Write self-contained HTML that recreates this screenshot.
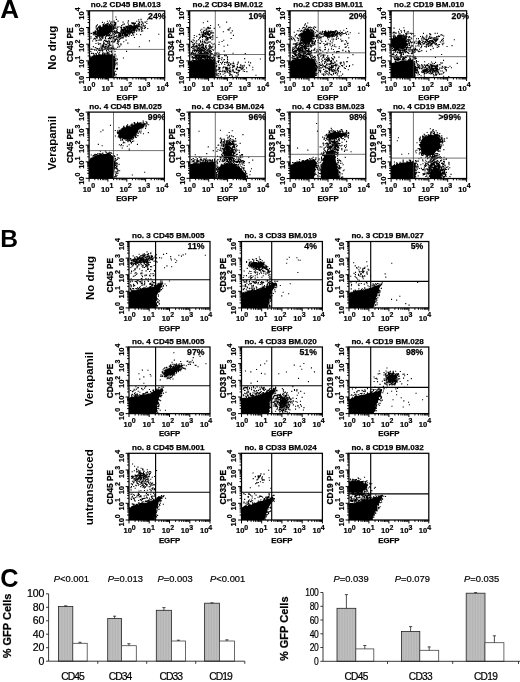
<!DOCTYPE html>
<html><head><meta charset="utf-8"><title>Figure</title>
<style>html,body{margin:0;padding:0;background:#fff}svg{display:block}</style></head>
<body><svg width="520" height="682" viewBox="0 0 520 682" font-family="'Liberation Sans',Arial,sans-serif" font-weight="bold" text-anchor="middle" fill="#000">
<defs><pattern id="hatch" width="1.6" height="4" patternUnits="userSpaceOnUse"><rect width="1.6" height="4" fill="#c0c0c0"/><rect width=".5" height="4" fill="#acacac"/></pattern></defs>
<rect width="520" height="682" fill="#fff"/>
<path d="M89.5 77.6L89.5 76.3L89.5 74.9L89.5 73.6L89.5 72.3L89.5 70.9L89.5 69.6L89.5 68.2L89.5 66.9L89.5 65.6L89.5 64.2L89.5 62.9L89.5 61.6L89.5 60.2L89.5 58.9L89.5 57.5L91.0 56.9L92.6 56.3L94.4 54.7L94.8 55.2L96.8 55.2L98.8 55.3L99.8 54.5L100.3 55.1L102.5 54.0L102.8 54.6L104.4 54.1L106.3 54.8L108.4 54.1L109.5 55.0L111.6 54.9L112.8 55.7L113.0 56.2L114.8 56.0L115.2 57.6L114.3 59.1L114.4 60.0L115.4 61.8L115.6 63.7L115.7 64.7L115.2 66.4L115.1 67.6L114.9 68.7L114.2 70.2L114.7 72.5L115.3 73.9L115.1 75.2L114.2 75.8L114.5 77.6L113.1 77.6L111.8 77.6L110.5 77.6L109.2 77.6L107.9 77.6L106.6 77.6L105.3 77.6L104.0 77.6L102.6 77.6L101.3 77.6L100.0 77.6L98.7 77.6L97.4 77.6L96.1 77.6L94.8 77.6L93.4 77.6L92.1 77.6L90.8 77.6Z" fill="#000"/>
<path d="M97.6 30.2L98.2 30.9L99.9 28.6L100.9 28.0L101.6 27.3L102.1 27.7L104.8 26.0L105.8 25.2L106.1 24.8L109.1 26.0L109.7 23.6L110.5 25.7L112.9 26.1L113.7 27.2L113.1 28.4L112.4 30.5L111.0 30.3L110.4 32.5L108.5 32.4L107.6 33.7L106.1 34.4L106.3 34.2L105.3 35.4L102.3 35.1L102.8 36.6L100.0 35.8L99.8 35.9L97.9 35.0L98.0 33.2Z" fill="#000"/>
<path d="M90.3 56.4h1.1M93.5 56.7h1.1M94.6 57.4h1.1M96.0 55.0h1.1M93.6 54.9h1.1M95.8 56.1h1.1M96.9 55.5h1.1M93.1 56.1h1.1M96.0 53.8h1.1M96.0 59.5h1.1M97.7 55.7h1.1M98.0 55.3h1.1M97.0 56.8h1.1M99.5 54.6h1.1M102.0 54.3h1.1M102.4 55.3h1.1M100.4 57.2h1.1M102.1 53.7h1.1M102.1 54.9h1.1M102.1 53.6h1.1M104.2 56.1h1.1M104.7 55.5h1.1M104.5 57.6h1.1M105.3 53.2h1.1M105.6 53.6h1.1M109.6 56.6h1.1M106.7 55.3h1.1M108.5 54.6h1.1M107.2 53.9h1.1M107.0 53.6h1.1M107.2 53.2h1.1M109.8 55.1h1.1M111.9 56.4h1.1M111.9 54.1h1.1M111.7 55.5h1.1M115.4 56.0h1.1M114.1 54.3h1.1M113.1 56.7h1.1M112.1 55.7h1.1M113.7 55.9h1.1M114.4 59.4h1.1M115.4 58.3h1.1M113.5 59.2h1.1M116.7 59.1h1.1M114.1 57.7h1.1M116.6 59.6h1.1M115.2 60.6h1.1M113.9 59.6h1.1M116.5 62.8h1.1M114.8 59.2h1.1M116.3 62.8h1.1M114.1 60.8h1.1M116.3 63.5h1.1M114.3 63.9h1.1M112.4 63.1h1.1M116.6 64.8h1.1M113.5 67.6h1.1M116.9 68.7h1.1M116.7 68.0h1.1M113.1 69.1h1.1M115.8 68.6h1.1M115.1 71.2h1.1M116.4 69.4h1.1M114.3 71.2h1.1M112.6 72.9h1.1M113.7 72.8h1.1M115.7 74.5h1.1M115.6 74.4h1.1M115.3 76.0h1.1M113.5 75.1h1.1M110.2 58.5h1.1M103.6 59.0h1.1M103.4 58.3h1.1M99.3 56.1h1.1M96.9 62.3h1.1M106.0 58.9h1.1M100.2 58.9h1.1M104.6 57.4h1.1M103.4 59.3h1.1M96.1 57.1h1.1M94.2 56.5h1.1M108.7 53.7h1.1M99.8 57.5h1.1M97.1 59.0h1.1M110.5 58.9h1.1M100.8 57.5h1.1M100.9 60.7h1.1M98.8 56.3h1.1M92.1 56.4h1.1M91.2 61.1h1.1M104.6 58.3h1.1M113.1 57.4h1.1M107.6 60.5h1.1M94.7 60.7h1.1M111.8 56.1h1.1M109.9 57.9h1.1M98.8 57.6h1.1M99.4 54.9h1.1M94.1 56.1h1.1M105.6 63.3h1.1M122.9 58.0h1.1M94.6 63.0h1.1M106.2 57.2h1.1M109.0 59.9h1.1M100.0 58.8h1.1M102.9 58.0h1.1M103.3 57.5h1.1M94.9 62.0h1.1M104.6 59.7h1.1M108.1 56.0h1.1M110.3 57.9h1.1M104.9 58.5h1.1M103.5 61.4h1.1M98.7 62.1h1.1M95.8 56.8h1.1M107.3 56.5h1.1M99.0 60.7h1.1M111.2 54.9h1.1M105.7 62.8h1.1M111.0 58.3h1.1M97.2 58.1h1.1M93.0 58.2h1.1M100.4 58.5h1.1M110.9 58.3h1.1M90.6 61.0h1.1M93.6 57.8h1.1M93.8 33.1h1.1M98.4 30.5h1.1M96.4 31.2h1.1M96.9 30.5h1.1M99.1 32.4h1.1M99.1 29.9h1.1M99.7 32.0h1.1M98.7 30.9h1.1M98.8 29.0h1.1M100.5 29.8h1.1M98.8 28.4h1.1M99.3 29.9h1.1M100.0 26.3h1.1M98.5 27.4h1.1M99.1 26.0h1.1M103.8 26.4h1.1M101.2 30.6h1.1M103.8 32.8h1.1M103.8 25.5h1.1M106.5 28.4h1.1M101.5 28.0h1.1M105.1 27.9h1.1M103.9 23.0h1.1M106.2 26.0h1.1M102.7 26.1h1.1M103.0 26.1h1.1M108.7 26.1h1.1M104.7 25.5h1.1M107.4 26.5h1.1M107.6 28.6h1.1M111.8 26.6h1.1M105.5 25.8h1.1M107.3 26.7h1.1M106.5 25.0h1.1M110.1 23.8h1.1M107.0 25.4h1.1M108.7 25.2h1.1M110.5 26.3h1.1M110.6 21.9h1.1M110.3 23.7h1.1M109.9 23.8h1.1M114.3 24.6h1.1M113.9 22.3h1.1M110.6 27.1h1.1M115.2 23.5h1.1M113.0 26.1h1.1M112.1 28.2h1.1M114.6 26.8h1.1M115.1 27.3h1.1M111.6 30.1h1.1M111.1 27.3h1.1M111.8 27.0h1.1M113.0 29.5h1.1M110.7 27.8h1.1M112.0 32.0h1.1M112.5 31.2h1.1M113.1 29.4h1.1M107.3 30.3h1.1M110.5 30.9h1.1M108.1 29.9h1.1M113.9 32.5h1.1M107.0 32.5h1.1M112.8 33.8h1.1M107.4 33.4h1.1M107.9 31.5h1.1M107.5 35.9h1.1M107.9 33.6h1.1M108.0 33.9h1.1M108.9 32.3h1.1M111.3 35.3h1.1M107.4 33.6h1.1M106.7 34.1h1.1M101.8 33.8h1.1M105.2 32.5h1.1M106.0 36.3h1.1M103.3 35.1h1.1M106.2 35.4h1.1M101.9 35.6h1.1M101.6 34.4h1.1M103.4 33.3h1.1M101.9 36.5h1.1M104.0 33.9h1.1M100.8 34.6h1.1M98.5 34.2h1.1M100.4 34.4h1.1M100.4 39.9h1.1M100.2 35.7h1.1M97.0 36.2h1.1M100.6 36.4h1.1M99.6 35.5h1.1M96.3 36.2h1.1M97.9 36.3h1.1M97.4 31.9h1.1M98.3 35.3h1.1M97.8 34.6h1.1M97.2 35.9h1.1M95.8 34.7h1.1M98.8 32.9h1.1M94.3 33.4h1.1M109.0 26.5h1.1M102.7 32.0h1.1M105.5 28.8h1.1M111.4 28.9h1.1M95.5 34.8h1.1M103.0 35.9h1.1M108.1 29.4h1.1M102.5 30.0h1.1M102.8 35.6h1.1M101.6 29.2h1.1M108.4 30.6h1.1M102.2 28.3h1.1M112.2 29.8h1.1M91.2 33.5h1.1M115.2 22.6h1.1M95.2 36.6h1.1M103.4 33.2h1.1M94.7 38.9h1.1M107.1 27.5h1.1M101.4 33.8h1.1M101.2 34.0h1.1M101.7 32.7h1.1M93.7 33.0h1.1M92.8 34.1h1.1M100.5 31.3h1.1M102.4 24.8h1.1M104.2 30.9h1.1M96.7 33.4h1.1M96.3 29.5h1.1M111.5 28.4h1.1M104.3 29.0h1.1M113.4 28.4h1.1M105.8 28.8h1.1M101.5 30.3h1.1M102.2 26.8h1.1M105.1 32.0h1.1M103.4 27.0h1.1M103.5 27.6h1.1M98.7 39.7h1.1M99.7 29.2h1.1M94.6 33.6h1.1M98.3 26.5h1.1M96.0 37.1h1.1M96.4 28.7h1.1M105.9 24.1h1.1M113.5 21.0h1.1M98.5 30.1h1.1M99.5 27.2h1.1M99.3 34.1h1.1M111.5 30.9h1.1M109.8 27.5h1.1M106.8 30.9h1.1M100.3 33.3h1.1M106.1 29.2h1.1M103.7 31.9h1.1M96.5 29.7h1.1M105.4 30.7h1.1M97.1 34.7h1.1M105.3 29.3h1.1M107.5 30.0h1.1M105.9 31.7h1.1M101.0 27.8h1.1M105.5 31.6h1.1M104.2 32.1h1.1M103.4 28.0h1.1M93.2 33.7h1.1M99.8 32.7h1.1M112.3 22.1h1.1M101.4 34.8h1.1M110.3 26.5h1.1M104.9 30.9h1.1M113.4 24.2h1.1M99.7 34.8h1.1M99.4 32.3h1.1M112.6 26.1h1.1M104.4 30.6h1.1M98.8 33.3h1.1M105.1 25.3h1.1M101.0 30.7h1.1M107.9 30.8h1.1M105.8 35.7h1.1M95.7 33.8h1.1M108.7 28.1h1.1M100.7 31.5h1.1M104.1 30.2h1.1M107.0 23.6h1.1M104.8 28.9h1.1M104.8 34.8h1.1M110.4 29.4h1.1M90.4 38.2h1.1M93.1 32.4h1.1M102.7 36.1h1.1M94.1 38.4h1.1M114.6 28.5h1.1M107.5 32.5h1.1M100.7 31.6h1.1M105.8 27.3h1.1M103.7 31.6h1.1M103.1 34.0h1.1M101.9 28.6h1.1M102.6 29.7h1.1M99.8 34.4h1.1M114.5 24.3h1.1M103.5 30.2h1.1M98.8 36.1h1.1M106.3 33.3h1.1M103.4 30.8h1.1M114.5 25.2h1.1M107.9 32.6h1.1M103.8 33.3h1.1M99.1 32.0h1.1M102.1 33.9h1.1M101.1 29.7h1.1M108.9 32.8h1.1M99.9 38.8h1.1M94.8 32.8h1.1M100.7 36.9h1.1M107.2 29.8h1.1M112.4 29.0h1.1M102.5 29.2h1.1M96.3 37.3h1.1M101.7 30.7h1.1M105.3 31.5h1.1M109.3 30.1h1.1M117.1 27.3h1.1M98.5 34.6h1.1M96.5 29.7h1.1M105.6 26.9h1.1M102.3 33.9h1.1M110.2 27.8h1.1M95.9 25.9h1.1M104.6 25.7h1.1M103.1 30.4h1.1M102.5 33.5h1.1M102.1 30.1h1.1M100.1 34.7h1.1M104.7 24.5h1.1M101.1 30.6h1.1M102.9 24.3h1.1M98.6 32.0h1.1M100.9 31.8h1.1M96.9 24.9h1.1M94.7 34.2h1.1M105.5 28.0h1.1M111.3 25.5h1.1M105.4 30.9h1.1M105.9 33.5h1.1M101.5 29.0h1.1M108.7 27.0h1.1M101.4 32.0h1.1M107.2 28.6h1.1M109.4 25.7h1.1M96.6 32.4h1.1M105.6 36.3h1.1M114.8 25.0h1.1M101.4 30.7h1.1M105.5 27.4h1.1M107.1 27.6h1.1M93.3 32.8h1.1M108.4 31.9h1.1M105.6 30.0h1.1M114.6 33.6h1.1M111.5 25.2h1.1M102.7 35.3h1.1M102.6 28.1h1.1M94.1 32.0h1.1M108.1 28.7h1.1M101.1 32.1h1.1M99.4 35.1h1.1M108.7 31.5h1.1M105.0 33.9h1.1M101.5 35.4h1.1M113.1 27.2h1.1M115.6 31.1h1.1M98.0 31.1h1.1M98.1 35.4h1.1M98.7 28.1h1.1M102.9 27.4h1.1M115.2 24.9h1.1M106.9 26.6h1.1M97.8 34.8h1.1M109.3 25.8h1.1M97.8 32.8h1.1M107.8 27.1h1.1M113.7 27.5h1.1M110.7 24.3h1.1M95.0 31.6h1.1M103.0 34.7h1.1M107.1 29.6h1.1M98.1 34.3h1.1M102.9 31.5h1.1M100.4 28.6h1.1M105.5 32.3h1.1M101.3 33.0h1.1M116.9 27.1h1.1M112.3 25.6h1.1M107.3 26.4h1.1M104.8 28.0h1.1M102.5 27.1h1.1M106.0 28.6h1.1M104.4 28.7h1.1M108.5 28.3h1.1M103.6 33.2h1.1M116.6 27.0h1.1M105.4 26.9h1.1M100.6 35.2h1.1M105.6 29.8h1.1M107.6 27.1h1.1M90.5 36.7h1.1M110.5 26.8h1.1M106.4 31.7h1.1M114.0 22.7h1.1M110.0 33.1h1.1M101.2 34.4h1.1M112.0 32.2h1.1M108.1 28.4h1.1M101.0 30.3h1.1M105.3 29.1h1.1M112.7 29.4h1.1M101.6 37.5h1.1M109.1 24.5h1.1M111.5 30.4h1.1M109.5 26.5h1.1M108.2 29.5h1.1M102.6 35.5h1.1M106.1 31.2h1.1M106.7 33.6h1.1M104.5 27.3h1.1M95.7 28.8h1.1M100.1 31.0h1.1M102.5 37.7h1.1M101.0 29.7h1.1M102.1 30.2h1.1M110.3 27.1h1.1M96.8 33.1h1.1M112.2 27.7h1.1M104.1 32.6h1.1M104.5 28.9h1.1M103.9 35.4h1.1M105.2 32.3h1.1M100.3 31.5h1.1M115.9 19.4h1.1M110.8 27.9h1.1M103.0 27.8h1.1M109.8 26.1h1.1M108.7 31.7h1.1M99.9 30.0h1.1M96.9 29.2h1.1M97.1 33.2h1.1M107.7 24.8h1.1M110.6 32.0h1.1M109.6 31.4h1.1M106.0 32.7h1.1M103.6 25.3h1.1M104.4 28.0h1.1M100.1 32.4h1.1M97.5 31.7h1.1M112.2 27.5h1.1M101.0 27.9h1.1M106.2 28.0h1.1M105.0 30.4h1.1M97.9 33.3h1.1M100.2 33.0h1.1M104.4 29.1h1.1M109.7 25.6h1.1M93.6 33.8h1.1M105.1 31.6h1.1M103.8 31.3h1.1M102.4 35.0h1.1M99.5 32.1h1.1M101.7 30.7h1.1M105.0 28.2h1.1M104.7 31.8h1.1M98.1 27.8h1.1M104.2 29.2h1.1M100.0 33.8h1.1M110.5 35.3h1.1M111.1 28.0h1.1M101.9 22.4h1.1M109.1 30.6h1.1M103.8 29.6h1.1M107.3 35.2h1.1M108.7 30.5h1.1M103.5 33.7h1.1M105.7 30.0h1.1M114.0 25.6h1.1M102.9 28.7h1.1M105.5 33.6h1.1M105.8 32.9h1.1M108.8 27.0h1.1M98.4 40.4h1.1M102.7 30.4h1.1M98.2 35.6h1.1M109.6 28.8h1.1M98.0 27.4h1.1M92.6 32.3h1.1M98.7 33.5h1.1M106.4 26.8h1.1M104.2 28.2h1.1M102.6 32.6h1.1M100.6 31.4h1.1M106.1 31.4h1.1M99.4 33.0h1.1M97.0 28.1h1.1M106.9 31.9h1.1M113.0 28.2h1.1M101.8 33.3h1.1M107.9 28.8h1.1M104.9 33.0h1.1M111.5 24.6h1.1M104.6 33.0h1.1M114.3 31.5h1.1M99.3 36.6h1.1M99.5 25.9h1.1M109.4 28.2h1.1M102.7 31.9h1.1M107.3 27.0h1.1M103.7 26.9h1.1M110.1 28.6h1.1M104.6 31.0h1.1M110.0 30.9h1.1M109.3 28.4h1.1M98.3 34.8h1.1M111.6 30.5h1.1M105.4 34.6h1.1M101.9 29.9h1.1M106.4 31.6h1.1M101.6 28.5h1.1M96.8 37.7h1.1M105.8 32.0h1.1M102.5 32.8h1.1M105.5 29.9h1.1M97.9 30.3h1.1M106.9 21.2h1.1M103.2 35.1h1.1M107.3 27.8h1.1M99.3 28.4h1.1M114.8 23.6h1.1M106.6 33.5h1.1M110.0 29.3h1.1M102.8 31.6h1.1M101.0 33.6h1.1M99.4 32.6h1.1M108.4 30.9h1.1M100.8 32.2h1.1M101.2 29.7h1.1M109.2 29.5h1.1M101.5 32.4h1.1M95.3 32.1h1.1M95.0 33.0h1.1M110.1 28.0h1.1M103.1 31.6h1.1M102.8 31.5h1.1M96.4 34.0h1.1M99.3 33.1h1.1M104.4 30.9h1.1M99.1 37.9h1.1M99.6 31.5h1.1M101.7 29.8h1.1M96.5 34.7h1.1M109.2 27.2h1.1M90.4 33.3h1.1M103.6 26.3h1.1M99.0 30.6h1.1M100.6 33.2h1.1M107.8 23.1h1.1M96.4 38.4h1.1M107.4 29.2h1.1M99.1 32.6h1.1M96.3 40.4h1.1M107.0 30.6h1.1M107.1 33.5h1.1M104.2 30.4h1.1M98.2 32.3h1.1M106.0 33.0h1.1M98.6 29.8h1.1M97.8 30.5h1.1M109.0 21.0h1.1M102.4 33.6h1.1M107.3 27.1h1.1M100.5 27.4h1.1M95.5 27.1h1.1M105.1 28.3h1.1M98.3 30.6h1.1M98.5 31.8h1.1M103.9 35.4h1.1M99.8 31.9h1.1M105.2 32.5h1.1M108.5 31.6h1.1M105.9 30.3h1.1M106.9 29.6h1.1M102.8 29.5h1.1M95.1 36.1h1.1M100.8 32.1h1.1M110.3 22.9h1.1M108.7 29.0h1.1M93.6 35.0h1.1M98.1 36.2h1.1M105.9 34.3h1.1M102.6 33.5h1.1M102.6 25.2h1.1M106.4 25.8h1.1M97.0 35.9h1.1M94.7 30.7h1.1M104.5 28.6h1.1M99.1 35.8h1.1M105.3 31.7h1.1M112.0 27.0h1.1M117.5 21.1h1.1M111.4 30.4h1.1M97.7 35.4h1.1M94.9 38.9h1.1M106.0 29.4h1.1M102.9 29.4h1.1M109.0 28.7h1.1M122.5 22.1h1.1M134.3 29.2h1.1M138.1 26.4h1.1M121.8 32.7h1.1M125.8 36.0h1.1M131.2 26.4h1.1M121.7 35.1h1.1M127.7 21.1h1.1M121.1 35.8h1.1M115.4 33.3h1.1M132.1 29.8h1.1M143.9 28.0h1.1M130.0 32.7h1.1M134.2 29.3h1.1M138.5 26.1h1.1M136.4 29.9h1.1M128.7 31.8h1.1M121.9 32.7h1.1M129.0 30.5h1.1M144.1 26.0h1.1M128.1 31.0h1.1M133.4 31.0h1.1M133.7 27.5h1.1M133.6 24.9h1.1M118.2 36.7h1.1M127.0 30.9h1.1M118.0 32.5h1.1M123.9 29.7h1.1M141.7 22.0h1.1M136.7 26.2h1.1M133.2 23.4h1.1M129.8 29.8h1.1M131.1 30.0h1.1M135.5 28.2h1.1M128.0 27.1h1.1M127.7 29.9h1.1M136.1 34.3h1.1M137.9 26.1h1.1M131.8 23.1h1.1M127.0 27.1h1.1M131.4 22.9h1.1M128.0 20.7h1.1M145.0 27.6h1.1M120.3 35.8h1.1M131.1 35.5h1.1M138.6 26.2h1.1M130.9 31.8h1.1M122.5 35.4h1.1M130.4 26.1h1.1M123.5 29.4h1.1M128.2 36.5h1.1M127.8 31.2h1.1M124.1 35.9h1.1M133.5 32.7h1.1M117.6 32.7h1.1M130.8 30.1h1.1M133.9 29.8h1.1M127.9 30.1h1.1M121.2 32.5h1.1M126.0 34.2h1.1M133.3 27.1h1.1M132.9 26.0h1.1M128.3 28.2h1.1M136.5 26.1h1.1M133.7 27.0h1.1M120.0 35.8h1.1M132.2 30.4h1.1M118.4 26.8h1.1M127.3 31.9h1.1M117.4 41.6h1.1M136.3 30.1h1.1M122.2 35.3h1.1M132.7 32.2h1.1M138.5 21.6h1.1M121.8 29.7h1.1M125.2 30.3h1.1M133.3 23.6h1.1M118.7 34.9h1.1M122.9 33.4h1.1M131.5 32.7h1.1M120.2 31.3h1.1M139.3 26.2h1.1M119.9 34.5h1.1M113.1 31.8h1.1M134.6 30.1h1.1M140.8 24.4h1.1M125.7 35.5h1.1M136.2 26.3h1.1M130.9 27.4h1.1M137.3 25.9h1.1M132.3 34.1h1.1M116.3 28.6h1.1M133.4 22.7h1.1M105.0 38.4h1.1M143.4 26.1h1.1M126.6 28.1h1.1M130.5 25.6h1.1M113.8 34.2h1.1M131.6 30.8h1.1M126.6 29.4h1.1M115.8 32.9h1.1M123.3 31.9h1.1M131.2 22.7h1.1M128.6 25.7h1.1M138.7 22.4h1.1M133.7 30.0h1.1M130.6 29.3h1.1M122.2 37.4h1.1M130.2 27.6h1.1M132.8 30.7h1.1M133.5 24.1h1.1M130.9 28.0h1.1M133.7 27.4h1.1M116.7 29.7h1.1M127.4 28.0h1.1M123.9 28.6h1.1M135.6 27.1h1.1M126.0 34.7h1.1M128.4 33.9h1.1M126.5 28.6h1.1M137.9 29.3h1.1M125.1 31.4h1.1M143.7 28.5h1.1M122.7 30.1h1.1M140.1 34.6h1.1M122.8 27.2h1.1M125.4 33.0h1.1M125.6 31.8h1.1M122.6 29.6h1.1M131.0 25.7h1.1M120.6 33.8h1.1M134.8 26.1h1.1M126.4 28.3h1.1M123.0 30.6h1.1M132.4 26.2h1.1M134.3 23.6h1.1M112.9 38.0h1.1M120.6 36.2h1.1M121.6 30.4h1.1M136.3 27.8h1.1M128.4 33.0h1.1M134.4 26.5h1.1M123.5 27.2h1.1M130.1 32.2h1.1M141.1 29.5h1.1M129.8 32.4h1.1M123.0 36.8h1.1M133.4 24.3h1.1M125.4 30.5h1.1M131.0 27.8h1.1M124.9 33.4h1.1M125.3 26.3h1.1M121.9 37.9h1.1M130.2 28.7h1.1M122.3 29.5h1.1M124.3 34.0h1.1M125.8 35.0h1.1M111.5 31.4h1.1M151.2 19.0h1.1M119.0 37.1h1.1M120.6 28.9h1.1M131.5 28.4h1.1M121.7 33.1h1.1M125.2 29.1h1.1M133.8 27.4h1.1M126.4 31.8h1.1M120.2 36.2h1.1M133.0 28.8h1.1M121.4 29.0h1.1M127.6 27.6h1.1M131.6 23.6h1.1M128.8 27.9h1.1M127.5 30.2h1.1M138.1 19.9h1.1M129.9 28.6h1.1M124.4 34.4h1.1M125.1 30.7h1.1M129.4 26.7h1.1M124.9 31.0h1.1M125.0 30.4h1.1M137.0 28.2h1.1M127.1 35.5h1.1M130.1 32.3h1.1M133.9 28.2h1.1M120.1 34.2h1.1M115.3 36.5h1.1M141.5 28.1h1.1M142.2 31.0h1.1M121.1 32.1h1.1M116.1 30.6h1.1M136.0 25.9h1.1M133.1 27.9h1.1M132.2 23.5h1.1M127.1 28.4h1.1M127.0 30.1h1.1M134.2 29.1h1.1M138.8 24.5h1.1M129.8 28.3h1.1M126.4 31.1h1.1M129.1 31.0h1.1M134.1 26.0h1.1M118.1 34.2h1.1M140.6 19.8h1.1M120.3 31.4h1.1M134.3 25.5h1.1M126.8 35.3h1.1M129.4 32.3h1.1M121.7 33.9h1.1M124.7 33.8h1.1M126.6 30.7h1.1M129.8 28.2h1.1M119.3 32.7h1.1M125.0 32.4h1.1M135.2 28.7h1.1M126.6 33.8h1.1M132.1 33.4h1.1M127.8 30.0h1.1M114.3 39.9h1.1M138.8 25.7h1.1M135.4 26.1h1.1M122.4 30.4h1.1M127.0 34.4h1.1M122.8 30.5h1.1M119.9 33.2h1.1M128.5 28.6h1.1M133.9 28.8h1.1M129.0 35.0h1.1M116.6 37.3h1.1M124.3 32.8h1.1M127.0 29.0h1.1M142.5 23.4h1.1M126.6 32.9h1.1M132.5 23.0h1.1M126.9 29.5h1.1M128.6 28.6h1.1M121.1 29.8h1.1M137.6 24.0h1.1M146.3 23.5h1.1M127.5 25.9h1.1M140.9 24.8h1.1M119.8 35.5h1.1M145.0 22.3h1.1M141.2 27.0h1.1M117.9 35.8h1.1M123.8 33.9h1.1M125.6 31.4h1.1M125.2 35.6h1.1M132.3 28.8h1.1M132.9 23.8h1.1M125.1 30.5h1.1M134.1 29.2h1.1M137.5 24.9h1.1M132.9 26.8h1.1M121.6 34.4h1.1M130.3 27.5h1.1M133.8 25.0h1.1M136.7 27.0h1.1M121.9 35.6h1.1M136.0 25.0h1.1M125.0 28.1h1.1M128.9 28.0h1.1M127.9 28.0h1.1M124.1 30.3h1.1M126.8 31.9h1.1M124.1 34.8h1.1M121.3 32.2h1.1M115.1 32.3h1.1M123.7 34.8h1.1M108.5 38.8h1.1M124.9 35.4h1.1M130.2 31.4h1.1M126.2 26.5h1.1M129.0 30.6h1.1M131.1 25.9h1.1M126.0 27.4h1.1M120.8 30.0h1.1M144.5 22.1h1.1M120.9 33.7h1.1M132.0 33.5h1.1M134.4 28.9h1.1M129.7 28.5h1.1M124.4 27.4h1.1M122.1 31.3h1.1M141.5 30.7h1.1M128.0 24.2h1.1M140.5 28.0h1.1M130.5 30.9h1.1M118.5 32.7h1.1M139.2 29.0h1.1M113.8 32.2h1.1M138.1 23.6h1.1M118.8 39.4h1.1M126.7 27.8h1.1M134.9 23.1h1.1M129.1 31.8h1.1M138.1 26.3h1.1M129.5 31.9h1.1M129.3 31.0h1.1M123.0 32.1h1.1M128.3 32.2h1.1M113.6 35.3h1.1M138.5 30.9h1.1M133.8 24.1h1.1M116.7 33.0h1.1M117.8 33.0h1.1M139.1 22.7h1.1M129.0 30.5h1.1M134.9 25.9h1.1M129.2 27.1h1.1M122.3 33.1h1.1M123.9 24.0h1.1M119.1 33.3h1.1M126.3 32.4h1.1M132.0 27.8h1.1M138.3 24.0h1.1M144.2 26.3h1.1M137.3 28.5h1.1M147.2 28.5h1.1M125.4 36.9h1.1M139.6 26.9h1.1M130.5 29.1h1.1M108.3 33.9h1.1M121.0 27.0h1.1M129.4 25.5h1.1M137.4 27.8h1.1M133.6 31.1h1.1M124.5 34.2h1.1M134.1 32.0h1.1M122.0 34.1h1.1M136.9 28.0h1.1M109.1 34.5h1.1M124.8 30.5h1.1M127.6 32.7h1.1M121.1 25.5h1.1M146.3 21.3h1.1M140.9 21.8h1.1M130.1 28.8h1.1M119.0 33.8h1.1M123.4 27.7h1.1M114.0 30.7h1.1M137.1 28.1h1.1M130.5 28.6h1.1M141.6 28.5h1.1M130.3 28.7h1.1M142.9 25.0h1.1M124.2 27.9h1.1M116.9 31.8h1.1M128.8 29.4h1.1M141.6 26.7h1.1M142.3 23.1h1.1M123.7 33.1h1.1M128.2 30.2h1.1M128.7 27.1h1.1M120.3 31.0h1.1M124.5 35.3h1.1M123.8 32.2h1.1M131.7 27.0h1.1M132.8 29.9h1.1M116.2 35.4h1.1M126.7 32.4h1.1M124.8 29.1h1.1M123.0 31.5h1.1M131.7 27.0h1.1M130.4 31.5h1.1M124.6 35.7h1.1M121.0 27.7h1.1M125.8 30.4h1.1M128.4 27.3h1.1M131.4 31.7h1.1M135.8 26.5h1.1M120.5 38.3h1.1M136.0 26.4h1.1M138.9 29.7h1.1M129.2 26.6h1.1M129.6 26.2h1.1M127.9 34.0h1.1M127.1 26.6h1.1M129.1 28.9h1.1M121.5 32.5h1.1M144.8 25.8h1.1M132.5 29.7h1.1M140.4 19.3h1.1M134.5 26.0h1.1M132.2 27.4h1.1M122.2 24.8h1.1M130.7 30.3h1.1M120.0 27.2h1.1M123.5 24.1h1.1M122.2 33.1h1.1M133.7 29.3h1.1M131.3 28.1h1.1M132.4 30.7h1.1M135.1 27.8h1.1M130.8 30.2h1.1M119.4 32.7h1.1M116.6 32.3h1.1M110.6 35.6h1.1M133.7 28.6h1.1M134.9 28.3h1.1M127.4 22.9h1.1M124.4 31.3h1.1M125.4 34.5h1.1M127.0 35.6h1.1M136.7 25.7h1.1M116.0 31.0h1.1M124.2 31.8h1.1M147.0 19.2h1.1M141.5 25.2h1.1M127.0 30.8h1.1M131.7 30.0h1.1M127.6 27.9h1.1M134.0 27.7h1.1M130.2 25.4h1.1M123.0 29.0h1.1M129.5 29.8h1.1M128.3 30.6h1.1M129.6 33.6h1.1M124.0 34.1h1.1M123.5 29.7h1.1M121.0 37.8h1.1M121.5 30.9h1.1M120.5 32.0h1.1M122.7 38.0h1.1M133.1 35.1h1.1M136.2 21.3h1.1M134.5 30.4h1.1M134.8 26.9h1.1M136.0 31.1h1.1M131.1 32.7h1.1M140.9 31.1h1.1M109.4 44.7h1.1M105.5 40.2h1.1M100.2 44.0h1.1M117.2 37.3h1.1M109.3 42.9h1.1M103.3 45.0h1.1M98.6 43.7h1.1M106.3 44.2h1.1M100.4 46.0h1.1M93.2 39.1h1.1M109.5 47.5h1.1M123.2 41.8h1.1M113.7 49.7h1.1M110.3 39.0h1.1M116.3 37.1h1.1M101.3 48.2h1.1M117.7 37.9h1.1M103.1 45.4h1.1M113.2 36.7h1.1M107.5 45.9h1.1M115.5 48.9h1.1M113.0 29.4h1.1M118.9 35.7h1.1M111.0 35.2h1.1M112.3 33.9h1.1M118.5 46.9h1.1M108.6 46.2h1.1M110.9 41.6h1.1M102.2 45.0h1.1M110.4 36.2h1.1M123.4 31.9h1.1M107.3 42.1h1.1M107.0 41.6h1.1M125.2 35.9h1.1M108.5 45.7h1.1M102.6 37.9h1.1M120.4 38.1h1.1M120.3 43.9h1.1M125.5 40.1h1.1M108.6 35.0h1.1M115.4 36.2h1.1M119.4 36.7h1.1M101.8 45.7h1.1M108.8 43.7h1.1M119.3 46.0h1.1M113.2 47.9h1.1M109.2 35.8h1.1M102.5 44.8h1.1M109.7 45.5h1.1M100.5 40.3h1.1M115.7 38.9h1.1M123.8 33.0h1.1M108.1 54.1h1.1M92.1 41.0h1.1M109.3 38.6h1.1M109.5 48.1h1.1M107.4 43.5h1.1M114.5 36.5h1.1M97.0 48.5h1.1M110.5 45.3h1.1M103.8 43.0h1.1M108.6 44.5h1.1M117.0 41.3h1.1M103.1 41.3h1.1M105.3 46.0h1.1M90.3 51.5h1.1M116.7 43.4h1.1M101.9 38.2h1.1M98.1 44.5h1.1M124.2 33.5h1.1M111.3 47.7h1.1M119.2 39.0h1.1M116.9 47.2h1.1M114.1 41.9h1.1M103.1 43.8h1.1M104.8 37.1h1.1M106.1 51.0h1.1M100.2 40.3h1.1M101.8 46.7h1.1M117.7 42.9h1.1M124.7 34.4h1.1M112.6 42.1h1.1M110.3 49.3h1.1M106.0 44.8h1.1M101.1 48.4h1.1M107.8 38.6h1.1M100.6 40.3h1.1M107.4 42.5h1.1M107.8 40.9h1.1M118.6 41.1h1.1M112.7 41.7h1.1M103.7 48.0h1.1M127.3 43.1h1.1M113.7 36.9h1.1M103.0 42.9h1.1M113.5 41.0h1.1M108.6 46.0h1.1M114.5 36.7h1.1M103.5 47.3h1.1M113.5 38.9h1.1M110.5 35.3h1.1M102.8 46.5h1.1M102.1 47.3h1.1M107.0 49.4h1.1M104.5 46.5h1.1M109.2 37.7h1.1M93.9 49.9h1.1M102.5 46.4h1.1M124.6 29.6h1.1M109.9 38.0h1.1M101.2 39.0h1.1M108.1 50.2h1.1M119.9 36.8h1.1M104.0 40.4h1.1M105.4 41.4h1.1M109.0 37.2h1.1M116.6 39.5h1.1M108.9 42.0h1.1M99.1 50.4h1.1M110.9 48.4h1.1M112.5 46.1h1.1M114.8 40.6h1.1M111.7 41.0h1.1M95.4 43.5h1.1M112.4 37.7h1.1M97.7 43.0h1.1M108.1 35.6h1.1M103.7 43.1h1.1M104.9 38.7h1.1M120.5 44.6h1.1M105.9 50.5h1.1M115.2 39.4h1.1M99.9 43.8h1.1M104.8 44.4h1.1M95.5 40.9h1.1M105.1 41.0h1.1M111.0 37.6h1.1M117.8 44.6h1.1M100.5 47.3h1.1M119.7 38.6h1.1M116.2 38.9h1.1M109.1 41.0h1.1M107.9 49.9h1.1M101.5 37.5h1.1M105.7 46.5h1.1M104.7 48.8h1.1M117.4 40.4h1.1M106.4 41.6h1.1M98.0 53.8h1.1M113.3 48.6h1.1M94.7 47.5h1.1M92.4 53.2h1.1M108.5 48.7h1.1M102.3 52.3h1.1M91.0 53.4h1.1M111.5 48.2h1.1M107.6 52.4h1.1M98.6 53.9h1.1M95.7 50.5h1.1M98.0 50.2h1.1M110.3 51.3h1.1M105.3 54.8h1.1M95.8 48.3h1.1M105.6 47.7h1.1M114.0 49.3h1.1M101.1 50.1h1.1M110.7 54.2h1.1M107.0 47.9h1.1M99.1 52.4h1.1M95.6 53.9h1.1M111.8 48.4h1.1M99.3 48.4h1.1M108.0 46.9h1.1M107.4 47.0h1.1M111.0 51.1h1.1M104.7 47.3h1.1M91.4 49.4h1.1M114.5 51.5h1.1M111.5 47.0h1.1M92.8 46.6h1.1M107.5 48.0h1.1M97.0 52.1h1.1M107.4 49.2h1.1M101.8 48.9h1.1M104.1 49.5h1.1M99.2 48.6h1.1M97.5 48.7h1.1M90.7 49.1h1.1M104.9 48.7h1.1M93.1 53.6h1.1M101.9 50.8h1.1M98.0 54.0h1.1M108.9 51.7h1.1M106.5 52.3h1.1M102.6 50.0h1.1M99.9 50.7h1.1M101.8 50.9h1.1M103.4 53.1h1.1M112.3 48.4h1.1M90.9 49.0h1.1M91.1 53.2h1.1M105.6 48.9h1.1M95.0 53.8h1.1M110.9 52.2h1.1M107.3 52.8h1.1M101.5 49.8h1.1M103.9 53.9h1.1M114.7 54.2h1.1M158.2 34.2h1.1M148.9 40.9h1.1M126.0 51.4h1.1M115.3 17.0h1.1M138.8 46.8h1.1M133.9 37.5h1.1" stroke="#000" stroke-width="1.1" fill="none"/>
<path d="M112.8 10.8V77.6M89.5 49.4H164.7" stroke="#444" stroke-width=".75" fill="none"/>
<rect x="89.5" y="10.8" width="75.2" height="66.8" fill="none" stroke="#000" stroke-width="1.25"/>
<path d="M89.5 77.6v3.4M89.5 77.6h-3.4M95.2 77.6v1.9M89.5 72.6h-1.9M98.5 77.6v1.9M89.5 69.6h-1.9M100.8 77.6v1.9M89.5 67.5h-1.9M102.6 77.6v1.9M89.5 65.9h-1.9M104.1 77.6v1.9M89.5 64.6h-1.9M105.4 77.6v1.9M89.5 63.5h-1.9M106.5 77.6v1.9M89.5 62.5h-1.9M107.4 77.6v1.9M89.5 61.7h-1.9M108.3 77.6v3.4M89.5 60.9h-3.4M114.0 77.6v1.9M89.5 55.9h-1.9M117.3 77.6v1.9M89.5 52.9h-1.9M119.6 77.6v1.9M89.5 50.8h-1.9M121.4 77.6v1.9M89.5 49.2h-1.9M122.9 77.6v1.9M89.5 47.9h-1.9M124.2 77.6v1.9M89.5 46.8h-1.9M125.3 77.6v1.9M89.5 45.8h-1.9M126.2 77.6v1.9M89.5 45.0h-1.9M127.1 77.6v3.4M89.5 44.2h-3.4M132.8 77.6v1.9M89.5 39.2h-1.9M136.1 77.6v1.9M89.5 36.2h-1.9M138.4 77.6v1.9M89.5 34.1h-1.9M140.2 77.6v1.9M89.5 32.5h-1.9M141.7 77.6v1.9M89.5 31.2h-1.9M143.0 77.6v1.9M89.5 30.1h-1.9M144.1 77.6v1.9M89.5 29.1h-1.9M145.0 77.6v1.9M89.5 28.3h-1.9M145.9 77.6v3.4M89.5 27.5h-3.4M151.6 77.6v1.9M89.5 22.5h-1.9M154.9 77.6v1.9M89.5 19.5h-1.9M157.2 77.6v1.9M89.5 17.4h-1.9M159.0 77.6v1.9M89.5 15.8h-1.9M160.5 77.6v1.9M89.5 14.5h-1.9M161.8 77.6v1.9M89.5 13.4h-1.9M162.9 77.6v1.9M89.5 12.4h-1.9M163.8 77.6v1.9M89.5 11.6h-1.9M164.7 77.6v3.4M89.5 10.8h-3.4" stroke="#000" stroke-width="1" fill="none"/>
<text x="89.3" y="91.0" font-size="7.6" text-anchor="middle" stroke="#000" stroke-width=".2">10<tspan dy="-3.9" font-size="7">0</tspan></text>
<text transform="translate(84.2 78.0) rotate(-90)" font-size="7.6" text-anchor="middle" stroke="#000" stroke-width=".2">10<tspan dy="-3.9" font-size="7">0</tspan></text>
<text x="107.6" y="91.0" font-size="7.6" text-anchor="middle" stroke="#000" stroke-width=".2">10<tspan dy="-3.9" font-size="7">1</tspan></text>
<text transform="translate(84.2 61.9) rotate(-90)" font-size="7.6" text-anchor="middle" stroke="#000" stroke-width=".2">10<tspan dy="-3.9" font-size="7">1</tspan></text>
<text x="126.0" y="91.0" font-size="7.6" text-anchor="middle" stroke="#000" stroke-width=".2">10<tspan dy="-3.9" font-size="7">2</tspan></text>
<text transform="translate(84.2 45.8) rotate(-90)" font-size="7.6" text-anchor="middle" stroke="#000" stroke-width=".2">10<tspan dy="-3.9" font-size="7">2</tspan></text>
<text x="144.3" y="91.0" font-size="7.6" text-anchor="middle" stroke="#000" stroke-width=".2">10<tspan dy="-3.9" font-size="7">3</tspan></text>
<text transform="translate(84.2 29.7) rotate(-90)" font-size="7.6" text-anchor="middle" stroke="#000" stroke-width=".2">10<tspan dy="-3.9" font-size="7">3</tspan></text>
<text x="162.6" y="91.0" font-size="7.6" text-anchor="middle" stroke="#000" stroke-width=".2">10<tspan dy="-3.9" font-size="7">4</tspan></text>
<text transform="translate(84.2 13.5) rotate(-90)" font-size="7.6" text-anchor="middle" stroke="#000" stroke-width=".2">10<tspan dy="-3.9" font-size="7">4</tspan></text>
<text x="127.1" y="100.2" font-size="7.8" stroke="#000" stroke-width=".25">EGFP</text>
<text x="125.8" y="7.3" font-size="8.1" stroke="#000" stroke-width=".25">no.2 CD45 BM.013</text>
<text transform="translate(72.5 44.8) rotate(-90)" font-size="8.3" stroke="#000" stroke-width=".25">CD45 PE</text>
<text x="165.5" y="18.5" font-size="8.7" text-anchor="end" stroke="#000" stroke-width=".25">24%</text>
<path d="M189.7 77.6L189.7 76.2L189.7 74.8L189.7 73.4L189.7 72.0L189.7 70.5L189.7 69.1L189.7 67.7L189.7 66.3L189.7 64.9L189.7 63.5L189.7 62.1L190.4 61.1L192.4 61.5L194.2 60.3L194.6 60.1L197.2 60.3L197.3 60.4L199.9 59.6L201.2 59.0L201.4 59.4L202.6 58.7L204.6 59.5L205.6 58.5L208.4 58.7L208.9 59.5L211.2 59.5L211.6 59.2L213.7 61.2L214.4 60.8L215.0 62.8L215.3 64.4L216.0 66.5L215.5 67.3L216.4 68.7L216.4 70.8L215.1 72.2L216.0 73.9L215.2 74.0L215.6 75.8L215.2 77.6L213.8 77.6L212.5 77.6L211.2 77.6L209.8 77.6L208.5 77.6L207.1 77.6L205.8 77.6L204.5 77.6L203.1 77.6L201.8 77.6L200.4 77.6L199.1 77.6L197.7 77.6L196.4 77.6L195.1 77.6L193.7 77.6L192.4 77.6L191.0 77.6Z" fill="#000"/>
<path d="M190.7 61.1h1.1M191.8 60.8h1.1M192.8 60.4h1.1M192.3 59.8h1.1M195.4 61.0h1.1M195.4 59.3h1.1M195.9 59.5h1.1M197.4 58.3h1.1M196.6 59.8h1.1M198.0 60.3h1.1M198.7 61.3h1.1M199.6 59.1h1.1M198.0 58.5h1.1M198.8 61.2h1.1M200.5 61.7h1.1M201.9 60.4h1.1M203.6 58.4h1.1M202.6 61.6h1.1M202.1 55.7h1.1M202.3 57.6h1.1M206.1 59.7h1.1M203.5 60.2h1.1M205.5 60.0h1.1M207.3 60.6h1.1M205.6 59.2h1.1M206.9 58.8h1.1M209.6 58.9h1.1M209.9 60.5h1.1M210.3 57.7h1.1M213.2 59.9h1.1M211.3 59.8h1.1M211.8 60.2h1.1M214.6 60.6h1.1M214.4 61.3h1.1M213.8 61.2h1.1M214.1 62.4h1.1M214.4 61.8h1.1M213.5 60.7h1.1M214.5 62.3h1.1M215.1 63.0h1.1M216.5 61.7h1.1M216.3 65.3h1.1M215.1 63.2h1.1M215.5 67.0h1.1M215.7 63.6h1.1M214.8 63.1h1.1M216.0 66.8h1.1M218.1 67.2h1.1M218.5 68.2h1.1M213.4 67.6h1.1M216.4 70.2h1.1M214.4 71.3h1.1M214.9 71.0h1.1M214.8 73.4h1.1M216.1 73.1h1.1M214.2 74.8h1.1M216.4 75.6h1.1M216.0 74.8h1.1M216.6 74.7h1.1M215.1 74.3h1.1M214.9 73.6h1.1M216.5 75.6h1.1M199.3 58.9h1.1M197.7 60.6h1.1M191.5 57.4h1.1M209.9 60.3h1.1M207.3 56.0h1.1M199.2 55.3h1.1M209.9 57.0h1.1M207.3 60.5h1.1M192.5 54.6h1.1M204.9 56.2h1.1M204.0 56.8h1.1M198.7 53.2h1.1M206.8 54.3h1.1M210.4 59.0h1.1M207.7 56.7h1.1M206.7 56.7h1.1M210.8 57.7h1.1M209.4 59.1h1.1M205.5 54.1h1.1M210.4 59.2h1.1M200.4 50.7h1.1M193.2 55.2h1.1M209.7 53.2h1.1M208.4 56.0h1.1M204.0 52.5h1.1M201.4 56.5h1.1M196.7 56.7h1.1M195.3 54.4h1.1M199.9 56.3h1.1M209.3 59.2h1.1M193.1 48.7h1.1M204.0 54.2h1.1M194.0 57.3h1.1M204.9 53.8h1.1M209.9 54.9h1.1M195.6 58.3h1.1M209.6 57.2h1.1M212.2 58.4h1.1M204.9 57.7h1.1M193.5 58.1h1.1M203.1 53.4h1.1M200.4 58.9h1.1M206.3 55.1h1.1M217.8 56.8h1.1M198.5 56.5h1.1M212.6 60.8h1.1M202.4 55.4h1.1M200.1 54.7h1.1M192.9 57.6h1.1M218.8 58.4h1.1M200.3 57.7h1.1M203.1 55.1h1.1M212.9 57.3h1.1M203.7 54.6h1.1M212.1 57.4h1.1M196.3 56.8h1.1M206.8 55.4h1.1M200.6 55.5h1.1M218.4 53.3h1.1M197.6 54.7h1.1M199.8 50.5h1.1M203.0 55.6h1.1M198.4 56.3h1.1M206.1 54.8h1.1M196.3 55.6h1.1M208.4 60.4h1.1M202.8 53.9h1.1M192.4 58.4h1.1M201.3 53.3h1.1M204.9 57.2h1.1M209.1 60.9h1.1M191.8 56.5h1.1M197.7 58.4h1.1M211.4 63.1h1.1M199.4 55.5h1.1M199.5 52.8h1.1M192.8 53.3h1.1M190.7 52.8h1.1M209.8 55.8h1.1M198.2 54.2h1.1M196.4 57.8h1.1M198.3 54.3h1.1M193.9 60.7h1.1M205.8 52.4h1.1M206.5 54.1h1.1M198.9 54.7h1.1M201.1 57.6h1.1M207.4 50.4h1.1M200.1 58.9h1.1M205.4 57.4h1.1M192.3 51.9h1.1M207.3 57.5h1.1M202.7 54.4h1.1M207.4 54.6h1.1M197.5 56.7h1.1M200.4 59.2h1.1M200.3 60.8h1.1M212.8 57.1h1.1M204.5 54.1h1.1M203.8 57.7h1.1M214.0 58.7h1.1M201.4 56.1h1.1M192.9 57.5h1.1M201.6 57.1h1.1M196.3 57.6h1.1M209.3 55.9h1.1M215.6 53.8h1.1M199.0 55.7h1.1M203.6 55.3h1.1M199.3 55.9h1.1M208.8 57.9h1.1M215.1 63.5h1.1M214.4 55.1h1.1M197.3 53.9h1.1M204.3 52.3h1.1M207.4 59.2h1.1M194.8 58.1h1.1M199.8 52.3h1.1M190.6 54.3h1.1M203.9 55.3h1.1M203.8 57.1h1.1M212.4 62.3h1.1M199.5 59.2h1.1M193.1 57.2h1.1M200.1 61.1h1.1M195.4 61.0h1.1M202.5 56.3h1.1M199.3 56.0h1.1M204.5 55.7h1.1M201.1 61.1h1.1M193.2 54.2h1.1M194.8 58.1h1.1M204.8 59.3h1.1M201.9 60.5h1.1M205.6 57.3h1.1M205.4 59.6h1.1M201.9 56.3h1.1M216.4 56.0h1.1M199.3 57.5h1.1M211.7 49.6h1.1M207.8 60.6h1.1M209.6 50.5h1.1M203.4 57.7h1.1M205.2 58.1h1.1M215.5 52.8h1.1M198.6 56.6h1.1M199.1 58.0h1.1M195.4 52.8h1.1M203.7 53.5h1.1M194.4 57.2h1.1M196.8 58.6h1.1M197.8 52.4h1.1M198.0 59.6h1.1M203.8 57.1h1.1M197.1 58.1h1.1M205.4 56.6h1.1M203.4 55.8h1.1M199.5 58.8h1.1M200.9 57.8h1.1M190.5 53.5h1.1M199.0 57.6h1.1M203.4 56.7h1.1M202.9 54.4h1.1M200.3 51.6h1.1M206.6 57.3h1.1M197.4 60.7h1.1M201.9 54.0h1.1M195.8 57.2h1.1M201.4 61.4h1.1M211.2 54.6h1.1M219.3 54.7h1.1M213.3 63.9h1.1M206.5 61.1h1.1M207.0 58.0h1.1M200.3 54.7h1.1M214.3 53.1h1.1M200.0 56.3h1.1M201.1 58.6h1.1M191.1 53.5h1.1M207.4 57.3h1.1M201.6 53.9h1.1M202.8 57.4h1.1M209.6 57.3h1.1M195.3 55.6h1.1M196.8 55.5h1.1M213.4 56.8h1.1M198.0 59.1h1.1M198.2 57.9h1.1M208.3 57.1h1.1M201.3 57.7h1.1M210.7 57.0h1.1M217.5 57.1h1.1M197.3 58.7h1.1M200.8 56.3h1.1M212.8 59.3h1.1M194.3 55.3h1.1M195.6 60.2h1.1M210.4 51.3h1.1M200.7 52.3h1.1M193.6 57.2h1.1M194.5 54.8h1.1M208.6 51.4h1.1M214.1 57.9h1.1M195.0 53.9h1.1M204.4 55.9h1.1M195.3 56.8h1.1M206.6 55.9h1.1M198.6 55.8h1.1M202.6 53.2h1.1M201.8 54.0h1.1M201.4 49.3h1.1M202.5 60.1h1.1M209.0 42.0h1.1M200.5 52.4h1.1M198.2 39.6h1.1M214.9 55.4h1.1M199.2 49.5h1.1M195.1 50.5h1.1M211.5 58.0h1.1M203.9 48.4h1.1M196.0 51.5h1.1M199.4 47.0h1.1M197.5 55.5h1.1M194.1 50.9h1.1M213.7 43.9h1.1M203.1 45.7h1.1M201.1 56.9h1.1M195.4 42.9h1.1M200.4 51.0h1.1M204.6 52.2h1.1M199.4 37.5h1.1M205.5 51.0h1.1M201.4 61.1h1.1M204.9 46.7h1.1M214.4 59.9h1.1M211.0 47.9h1.1M201.7 42.1h1.1M199.8 57.6h1.1M197.9 44.9h1.1M198.5 47.0h1.1M205.3 49.0h1.1M203.3 66.0h1.1M214.9 45.2h1.1M207.7 39.2h1.1M204.5 42.2h1.1M210.2 54.5h1.1M207.2 39.2h1.1M203.1 50.4h1.1M200.0 42.3h1.1M216.4 37.5h1.1M191.7 52.9h1.1M195.8 41.2h1.1M194.7 56.6h1.1M213.5 55.5h1.1M199.0 38.3h1.1M196.6 50.8h1.1M191.6 52.7h1.1M197.9 48.8h1.1M207.4 49.9h1.1M201.0 54.4h1.1M202.1 56.4h1.1M196.1 36.3h1.1M200.3 48.6h1.1M206.8 43.2h1.1M199.9 40.9h1.1M197.3 54.4h1.1M209.5 53.9h1.1M210.1 53.0h1.1M209.0 44.7h1.1M191.7 42.5h1.1M212.3 46.8h1.1M208.0 49.3h1.1M209.8 50.6h1.1M192.6 39.9h1.1M196.2 45.8h1.1M213.0 50.1h1.1M203.6 30.2h1.1M200.1 50.4h1.1M198.1 55.1h1.1M207.3 49.5h1.1M199.3 59.5h1.1M205.4 52.9h1.1M198.2 51.8h1.1M195.3 45.9h1.1M202.8 44.2h1.1M205.1 49.2h1.1M196.3 48.9h1.1M206.3 50.3h1.1M205.1 46.5h1.1M193.0 50.3h1.1M200.1 57.7h1.1M206.4 52.2h1.1M198.3 61.4h1.1M202.1 39.8h1.1M200.8 47.6h1.1M208.2 57.6h1.1M211.3 33.3h1.1M201.5 46.0h1.1M192.6 46.1h1.1M198.1 47.6h1.1M208.4 48.2h1.1M198.7 67.8h1.1M199.0 51.4h1.1M198.4 45.4h1.1M202.0 55.1h1.1M196.4 46.2h1.1M193.7 37.7h1.1M214.4 49.0h1.1M205.2 47.4h1.1M202.1 47.3h1.1M198.6 48.5h1.1M213.7 59.0h1.1M208.1 57.1h1.1M200.6 49.7h1.1M201.5 47.6h1.1M209.9 42.0h1.1M193.9 49.9h1.1M210.8 51.5h1.1M208.5 51.7h1.1M209.6 45.4h1.1M208.6 56.7h1.1M199.1 44.3h1.1M202.0 41.4h1.1M194.1 53.8h1.1M200.0 55.0h1.1M205.5 45.9h1.1M201.7 43.6h1.1M201.0 50.1h1.1M211.4 47.3h1.1M209.4 48.8h1.1M204.4 51.2h1.1M209.3 52.5h1.1M199.5 54.3h1.1M201.5 53.4h1.1M208.3 51.1h1.1M195.5 52.8h1.1M206.2 48.1h1.1M204.6 42.7h1.1M202.1 50.7h1.1M190.7 41.4h1.1M210.4 52.9h1.1M202.0 59.6h1.1M206.1 40.7h1.1M201.0 53.5h1.1M214.9 46.8h1.1M208.0 46.0h1.1M206.8 51.7h1.1M202.9 48.5h1.1M200.3 51.6h1.1M205.3 45.6h1.1M206.1 52.8h1.1M202.9 56.4h1.1M193.8 43.5h1.1M207.4 54.3h1.1M207.4 52.2h1.1M202.7 45.1h1.1M203.0 45.4h1.1M191.9 56.9h1.1M209.1 50.0h1.1M190.9 47.4h1.1M210.3 46.6h1.1M201.6 54.0h1.1M195.7 50.4h1.1M198.2 48.8h1.1M198.6 43.5h1.1M204.0 50.8h1.1M212.4 44.8h1.1M205.6 45.4h1.1M204.8 49.4h1.1M198.6 34.5h1.1M201.0 50.3h1.1M202.8 51.7h1.1M203.8 41.4h1.1M197.7 50.2h1.1M198.7 47.0h1.1M206.7 56.2h1.1M193.7 40.7h1.1M202.5 46.7h1.1M199.7 53.2h1.1M199.3 49.9h1.1M207.5 42.5h1.1M203.6 42.8h1.1M211.3 43.3h1.1M206.5 39.5h1.1M202.1 55.6h1.1M211.2 53.6h1.1M199.2 56.4h1.1M212.2 37.1h1.1M201.5 36.4h1.1M205.4 47.4h1.1M199.1 48.2h1.1M193.8 35.5h1.1M197.3 49.6h1.1M198.7 48.8h1.1M198.3 50.4h1.1M190.5 55.7h1.1M200.0 37.1h1.1M194.2 51.6h1.1M211.6 53.6h1.1M194.9 47.0h1.1M205.3 55.4h1.1M203.9 51.0h1.1M206.8 53.0h1.1M208.8 59.0h1.1M190.9 41.5h1.1M197.3 48.5h1.1M198.8 62.0h1.1M192.9 45.0h1.1M199.5 48.3h1.1M203.0 56.3h1.1M209.5 36.9h1.1M196.7 47.1h1.1M208.8 52.2h1.1M202.1 54.0h1.1M202.4 49.9h1.1M205.5 37.5h1.1M201.5 50.7h1.1M196.6 47.5h1.1M200.8 44.5h1.1M196.7 46.5h1.1M201.2 44.8h1.1M207.5 42.7h1.1M205.5 46.0h1.1M209.1 47.3h1.1M200.5 59.1h1.1M199.7 52.7h1.1M209.5 52.0h1.1M201.0 52.7h1.1M201.5 46.2h1.1M201.0 44.6h1.1M191.1 61.1h1.1M206.7 39.0h1.1M209.6 48.7h1.1M209.2 46.2h1.1M195.9 46.9h1.1M194.8 55.5h1.1M201.0 59.0h1.1M207.7 42.0h1.1M201.1 51.3h1.1M196.3 54.9h1.1M205.5 43.1h1.1M192.1 48.8h1.1M191.7 46.6h1.1M193.2 46.9h1.1M201.2 53.1h1.1M206.0 48.0h1.1M193.9 46.2h1.1M197.0 50.9h1.1M201.5 47.1h1.1M201.6 54.9h1.1M202.1 53.8h1.1M207.8 53.5h1.1M205.2 57.9h1.1M193.6 44.4h1.1M192.0 50.9h1.1M198.8 56.7h1.1M199.2 45.6h1.1M200.0 41.2h1.1M209.7 48.4h1.1M199.4 55.8h1.1M191.3 54.1h1.1M200.1 45.7h1.1M218.4 44.5h1.1M196.3 45.4h1.1M201.9 50.4h1.1M192.2 44.2h1.1M192.4 42.3h1.1M191.1 53.9h1.1M193.6 44.2h1.1M191.7 46.9h1.1M198.3 48.7h1.1M196.3 40.8h1.1M197.0 50.2h1.1M194.8 49.3h1.1M207.7 61.4h1.1M205.4 58.9h1.1M204.6 56.6h1.1M203.7 49.7h1.1M201.3 49.2h1.1M214.9 47.8h1.1M192.1 52.7h1.1M197.1 50.7h1.1M196.6 55.3h1.1M203.1 47.4h1.1M193.8 48.0h1.1M196.2 46.4h1.1M209.3 47.3h1.1M199.8 57.8h1.1M202.2 48.3h1.1M196.4 43.8h1.1M200.0 53.5h1.1M201.7 56.7h1.1M193.1 53.9h1.1M199.7 58.7h1.1M201.6 34.7h1.1M207.8 31.1h1.1M210.9 32.9h1.1M205.8 36.1h1.1M206.3 29.8h1.1M206.1 31.0h1.1M208.6 31.4h1.1M209.3 30.7h1.1M203.7 36.4h1.1M203.2 32.9h1.1M200.0 30.3h1.1M207.0 32.0h1.1M207.6 33.6h1.1M212.4 35.8h1.1M206.9 34.5h1.1M208.6 37.5h1.1M207.4 33.0h1.1M207.3 34.1h1.1M209.6 34.7h1.1M198.9 34.2h1.1M203.4 27.8h1.1M201.3 29.2h1.1M206.0 31.2h1.1M204.6 36.6h1.1M212.4 39.0h1.1M205.0 33.9h1.1M201.5 34.0h1.1M206.4 38.5h1.1M208.9 35.1h1.1M208.4 37.7h1.1M206.2 31.2h1.1M205.5 29.1h1.1M207.1 21.4h1.1M201.9 44.3h1.1M203.5 34.8h1.1M207.6 35.0h1.1M206.2 32.3h1.1M208.3 34.0h1.1M205.1 33.0h1.1M206.6 39.9h1.1M205.4 34.3h1.1M202.8 22.8h1.1M204.6 30.8h1.1M202.4 32.2h1.1M209.9 28.1h1.1M207.1 40.0h1.1M208.3 34.8h1.1M205.1 33.5h1.1M204.7 32.5h1.1M210.1 32.2h1.1M210.0 25.5h1.1M202.0 35.5h1.1M203.9 33.8h1.1M210.2 37.4h1.1M211.2 31.0h1.1M205.5 37.7h1.1M205.1 36.5h1.1M207.1 33.2h1.1M203.4 34.1h1.1M210.0 38.4h1.1M207.0 37.4h1.1M207.1 38.6h1.1M202.8 36.0h1.1M202.2 36.5h1.1M205.7 33.1h1.1M204.7 33.8h1.1M204.8 42.2h1.1M202.0 34.4h1.1M209.4 37.9h1.1M208.6 35.4h1.1M207.5 34.2h1.1M213.7 28.4h1.1M206.7 34.1h1.1M206.6 28.2h1.1M212.1 35.4h1.1M209.1 34.7h1.1M208.0 27.4h1.1M207.4 38.0h1.1M208.3 28.8h1.1M205.1 33.2h1.1M208.8 34.6h1.1M202.9 32.9h1.1M202.8 34.9h1.1M203.0 31.5h1.1M202.0 37.4h1.1M200.8 32.1h1.1M212.8 33.0h1.1M207.7 28.0h1.1M204.8 32.7h1.1M210.7 36.9h1.1M207.1 38.7h1.1M203.0 32.1h1.1M205.0 34.8h1.1M205.5 39.0h1.1M209.1 31.5h1.1M205.7 37.3h1.1M203.1 35.9h1.1M207.2 27.3h1.1M208.8 28.1h1.1M210.3 32.9h1.1M202.8 35.4h1.1M204.8 40.0h1.1M203.6 35.9h1.1M204.1 33.2h1.1M209.5 33.8h1.1M199.6 35.0h1.1M211.4 39.7h1.1M212.4 32.5h1.1M206.9 34.3h1.1M207.9 32.7h1.1M221.0 63.9h1.1M232.8 67.0h1.1M225.9 70.3h1.1M222.6 74.3h1.1M232.9 66.1h1.1M227.2 68.1h1.1M230.2 71.3h1.1M218.8 68.6h1.1M227.2 65.8h1.1M243.7 65.2h1.1M212.1 68.6h1.1M233.9 72.5h1.1M217.7 69.6h1.1M243.5 66.1h1.1M252.3 69.7h1.1M223.9 71.2h1.1M230.3 63.6h1.1M236.8 64.5h1.1M230.4 74.6h1.1M221.6 71.8h1.1M225.2 69.3h1.1M230.3 71.9h1.1M241.6 69.1h1.1M228.8 65.6h1.1M240.2 64.9h1.1M225.5 67.4h1.1M236.8 66.4h1.1M233.7 66.6h1.1M243.5 65.9h1.1M237.6 75.1h1.1M235.8 72.5h1.1M224.3 73.3h1.1M226.8 72.2h1.1M226.9 71.4h1.1M232.1 65.6h1.1M227.1 65.7h1.1M249.1 65.7h1.1M224.0 62.6h1.1M248.1 62.1h1.1M219.7 74.3h1.1M238.5 70.3h1.1M224.6 75.9h1.1M246.0 67.9h1.1M239.2 70.5h1.1M212.2 73.1h1.1M226.3 68.5h1.1M226.3 67.6h1.1M222.5 67.8h1.1M239.8 67.1h1.1M229.5 73.6h1.1M238.4 67.5h1.1M231.4 75.0h1.1M218.0 62.4h1.1M237.8 70.6h1.1M227.6 65.1h1.1M224.2 64.5h1.1M232.7 70.2h1.1M234.1 72.5h1.1M233.8 72.5h1.1M231.8 70.2h1.1M214.2 70.9h1.1M232.6 71.1h1.1M229.3 68.1h1.1M237.6 72.6h1.1M218.6 71.2h1.1M228.6 70.7h1.1M233.6 65.4h1.1M231.9 67.7h1.1M219.7 73.5h1.1M232.4 70.9h1.1M250.0 62.9h1.1M242.0 68.1h1.1M227.9 64.2h1.1M224.4 70.9h1.1M223.2 67.1h1.1M228.8 68.8h1.1M229.1 72.0h1.1M230.3 64.8h1.1M222.3 70.4h1.1M229.7 70.0h1.1M232.6 69.9h1.1M248.6 65.0h1.1M208.1 70.0h1.1M216.0 70.1h1.1M238.5 71.4h1.1M222.3 68.0h1.1M224.7 67.3h1.1M226.1 67.9h1.1M220.2 71.5h1.1M226.9 70.0h1.1M231.8 76.4h1.1M236.1 73.2h1.1M243.0 67.7h1.1M227.5 62.7h1.1M239.2 67.6h1.1M218.2 75.9h1.1M240.7 69.1h1.1M229.2 75.4h1.1M226.9 61.6h1.1M215.6 71.5h1.1M242.7 71.0h1.1M241.6 65.6h1.1M218.9 71.7h1.1M225.3 71.9h1.1M236.6 76.2h1.1M227.5 70.0h1.1M216.0 66.3h1.1M226.3 68.1h1.1M235.7 68.2h1.1M219.6 71.0h1.1M234.3 72.1h1.1M232.7 71.8h1.1M243.5 69.5h1.1M226.1 67.5h1.1M239.4 67.1h1.1M209.7 75.3h1.1M223.3 66.8h1.1M228.8 62.8h1.1M229.0 71.5h1.1M227.4 63.0h1.1M226.1 69.0h1.1M229.5 67.2h1.1M233.2 63.5h1.1M227.5 68.8h1.1M220.7 76.4h1.1M232.2 70.3h1.1M214.9 76.3h1.1M225.1 68.2h1.1M246.3 71.6h1.1M237.4 63.1h1.1M235.3 76.0h1.1M235.9 69.1h1.1M235.6 69.6h1.1M227.5 62.8h1.1M229.9 71.5h1.1M244.1 58.6h1.1M239.9 65.3h1.1M244.0 71.5h1.1M218.7 64.8h1.1M230.1 64.6h1.1M240.4 67.6h1.1M217.7 73.6h1.1M232.3 63.8h1.1M236.9 67.6h1.1M244.8 62.3h1.1M228.9 70.8h1.1M219.0 67.7h1.1M241.6 66.8h1.1M226.5 63.0h1.1M237.7 74.3h1.1M224.2 71.8h1.1M229.3 74.0h1.1M228.2 64.5h1.1M228.9 71.3h1.1M232.8 62.3h1.1M237.8 62.1h1.1M237.4 70.1h1.1M222.5 71.7h1.1M232.6 66.8h1.1M240.5 68.7h1.1M232.3 69.8h1.1M219.5 67.6h1.1M226.6 69.8h1.1M219.2 69.3h1.1M228.3 72.9h1.1M236.7 73.0h1.1M223.2 40.2h1.1M228.4 30.2h1.1M227.3 29.7h1.1M229.6 27.9h1.1M227.1 45.1h1.1M230.6 38.5h1.1M232.5 53.2h1.1M230.4 32.9h1.1M221.5 41.5h1.1M219.2 27.0h1.1M218.6 42.3h1.1M223.6 51.1h1.1M230.7 38.5h1.1M222.8 31.7h1.1M217.9 24.9h1.1M231.8 30.9h1.1M217.2 53.0h1.1M223.5 46.3h1.1M221.9 62.6h1.1M217.9 58.8h1.1M224.0 55.3h1.1M226.9 57.8h1.1M224.3 55.8h1.1M217.9 55.8h1.1M225.5 62.4h1.1M226.9 59.2h1.1M218.0 61.1h1.1M222.5 61.2h1.1M223.9 59.5h1.1M218.9 56.3h1.1M217.9 58.5h1.1M220.1 62.5h1.1M217.6 61.0h1.1M218.3 55.9h1.1M227.0 56.8h1.1M223.4 59.7h1.1M221.3 57.8h1.1M218.5 60.5h1.1M221.0 59.8h1.1M225.8 55.7h1.1M221.6 57.9h1.1M227.1 59.9h1.1M219.2 58.7h1.1M259.8 59.0h1.1M252.2 67.2h1.1M244.7 53.6h1.1M226.1 22.1h1.1M228.5 29.1h1.1M232.9 35.4h1.1M225.5 55.0h1.1M255.4 75.2h1.1" stroke="#000" stroke-width="1.1" fill="none"/>
<path d="M215.3 10.8V77.6M189.7 54.5H265.2" stroke="#444" stroke-width=".75" fill="none"/>
<rect x="189.7" y="10.8" width="75.5" height="66.8" fill="none" stroke="#000" stroke-width="1.25"/>
<path d="M189.7 77.6v3.4M189.7 77.6h-3.4M195.4 77.6v1.9M189.7 72.6h-1.9M198.7 77.6v1.9M189.7 69.6h-1.9M201.1 77.6v1.9M189.7 67.5h-1.9M202.9 77.6v1.9M189.7 65.9h-1.9M204.4 77.6v1.9M189.7 64.6h-1.9M205.7 77.6v1.9M189.7 63.5h-1.9M206.7 77.6v1.9M189.7 62.5h-1.9M207.7 77.6v1.9M189.7 61.7h-1.9M208.6 77.6v3.4M189.7 60.9h-3.4M214.3 77.6v1.9M189.7 55.9h-1.9M217.6 77.6v1.9M189.7 52.9h-1.9M219.9 77.6v1.9M189.7 50.8h-1.9M221.8 77.6v1.9M189.7 49.2h-1.9M223.3 77.6v1.9M189.7 47.9h-1.9M224.5 77.6v1.9M189.7 46.8h-1.9M225.6 77.6v1.9M189.7 45.8h-1.9M226.6 77.6v1.9M189.7 45.0h-1.9M227.4 77.6v3.4M189.7 44.2h-3.4M233.1 77.6v1.9M189.7 39.2h-1.9M236.5 77.6v1.9M189.7 36.2h-1.9M238.8 77.6v1.9M189.7 34.1h-1.9M240.6 77.6v1.9M189.7 32.5h-1.9M242.1 77.6v1.9M189.7 31.2h-1.9M243.4 77.6v1.9M189.7 30.1h-1.9M244.5 77.6v1.9M189.7 29.1h-1.9M245.5 77.6v1.9M189.7 28.3h-1.9M246.3 77.6v3.4M189.7 27.5h-3.4M252.0 77.6v1.9M189.7 22.5h-1.9M255.3 77.6v1.9M189.7 19.5h-1.9M257.7 77.6v1.9M189.7 17.4h-1.9M259.5 77.6v1.9M189.7 15.8h-1.9M261.0 77.6v1.9M189.7 14.5h-1.9M262.3 77.6v1.9M189.7 13.4h-1.9M263.4 77.6v1.9M189.7 12.4h-1.9M264.3 77.6v1.9M189.7 11.6h-1.9M265.2 77.6v3.4M189.7 10.8h-3.4" stroke="#000" stroke-width="1" fill="none"/>
<text x="189.5" y="91.0" font-size="7.6" text-anchor="middle" stroke="#000" stroke-width=".2">10<tspan dy="-3.9" font-size="7">0</tspan></text>
<text transform="translate(184.4 78.0) rotate(-90)" font-size="7.6" text-anchor="middle" stroke="#000" stroke-width=".2">10<tspan dy="-3.9" font-size="7">0</tspan></text>
<text x="207.9" y="91.0" font-size="7.6" text-anchor="middle" stroke="#000" stroke-width=".2">10<tspan dy="-3.9" font-size="7">1</tspan></text>
<text transform="translate(184.4 61.9) rotate(-90)" font-size="7.6" text-anchor="middle" stroke="#000" stroke-width=".2">10<tspan dy="-3.9" font-size="7">1</tspan></text>
<text x="226.3" y="91.0" font-size="7.6" text-anchor="middle" stroke="#000" stroke-width=".2">10<tspan dy="-3.9" font-size="7">2</tspan></text>
<text transform="translate(184.4 45.8) rotate(-90)" font-size="7.6" text-anchor="middle" stroke="#000" stroke-width=".2">10<tspan dy="-3.9" font-size="7">2</tspan></text>
<text x="244.7" y="91.0" font-size="7.6" text-anchor="middle" stroke="#000" stroke-width=".2">10<tspan dy="-3.9" font-size="7">3</tspan></text>
<text transform="translate(184.4 29.7) rotate(-90)" font-size="7.6" text-anchor="middle" stroke="#000" stroke-width=".2">10<tspan dy="-3.9" font-size="7">3</tspan></text>
<text x="263.1" y="91.0" font-size="7.6" text-anchor="middle" stroke="#000" stroke-width=".2">10<tspan dy="-3.9" font-size="7">4</tspan></text>
<text transform="translate(184.4 13.5) rotate(-90)" font-size="7.6" text-anchor="middle" stroke="#000" stroke-width=".2">10<tspan dy="-3.9" font-size="7">4</tspan></text>
<text x="227.4" y="100.2" font-size="7.8" stroke="#000" stroke-width=".25">EGFP</text>
<text x="227.6" y="7.3" font-size="8.1" stroke="#000" stroke-width=".25">no.2 CD34 BM.012</text>
<text transform="translate(174.4 44.8) rotate(-90)" font-size="8.3" stroke="#000" stroke-width=".25">CD34 PE</text>
<text x="266.0" y="18.5" font-size="8.7" text-anchor="end" stroke="#000" stroke-width=".25">10%</text>
<path d="M290.1 77.6L290.1 76.3L290.1 74.9L290.1 73.6L290.1 72.3L290.1 70.9L290.1 69.6L290.1 68.3L290.1 66.9L290.1 65.6L290.1 64.2L290.1 62.9L290.1 61.6L290.8 61.7L292.2 60.1L293.6 59.4L294.9 59.7L295.9 58.7L298.5 59.2L299.1 58.8L300.3 58.9L301.7 57.7L303.7 58.3L304.6 57.8L305.7 58.1L307.8 57.8L309.0 57.9L311.0 58.7L312.7 58.3L312.8 59.1L314.8 59.3L314.6 60.4L315.6 62.6L315.9 62.8L316.2 64.1L315.8 66.3L315.7 67.2L316.6 68.2L316.7 70.7L315.2 72.1L315.8 72.5L315.6 75.2L315.0 76.6L314.9 77.6L313.6 77.6L312.3 77.6L311.0 77.6L309.7 77.6L308.4 77.6L307.1 77.6L305.8 77.6L304.4 77.6L303.1 77.6L301.8 77.6L300.5 77.6L299.2 77.6L297.9 77.6L296.6 77.6L295.3 77.6L294.0 77.6L292.7 77.6L291.4 77.6Z" fill="#000"/>
<path d="M299.7 34.2L302.5 33.6L303.4 30.7L302.7 31.5L305.9 30.6L306.4 28.8L307.5 29.5L308.3 28.0L309.1 29.8L310.4 31.8L313.3 31.7L313.5 32.2L313.8 34.2L314.3 36.8L313.9 36.0L312.5 37.5L312.3 39.7L312.4 40.8L310.9 41.5L308.9 43.6L308.0 43.3L306.2 44.0L306.3 42.2L303.3 42.2L301.6 41.0L302.8 41.2L301.0 39.3L301.4 38.3L301.6 35.1Z" fill="#000"/>
<path d="M290.9 61.3h1.1M292.2 60.0h1.1M293.0 62.3h1.1M295.5 58.3h1.1M294.5 59.4h1.1M294.0 58.4h1.1M295.3 60.5h1.1M298.8 60.7h1.1M297.2 59.1h1.1M296.9 59.9h1.1M297.7 59.5h1.1M297.8 59.3h1.1M301.6 57.5h1.1M296.8 58.8h1.1M299.2 60.2h1.1M300.0 59.2h1.1M301.8 59.8h1.1M302.4 56.6h1.1M303.0 56.0h1.1M304.6 57.1h1.1M305.4 57.3h1.1M305.0 59.2h1.1M306.9 57.8h1.1M305.0 56.9h1.1M306.2 54.6h1.1M309.0 58.8h1.1M306.1 56.7h1.1M310.0 56.9h1.1M309.8 56.1h1.1M310.8 58.9h1.1M311.8 55.3h1.1M310.8 59.5h1.1M314.4 56.2h1.1M315.0 59.9h1.1M312.8 60.0h1.1M315.0 57.7h1.1M314.0 56.6h1.1M314.0 58.8h1.1M314.2 60.3h1.1M315.5 61.3h1.1M311.7 61.8h1.1M314.3 63.4h1.1M315.8 61.3h1.1M314.6 64.7h1.1M313.5 62.3h1.1M316.1 65.4h1.1M313.4 65.3h1.1M316.3 67.7h1.1M315.6 65.5h1.1M316.7 66.7h1.1M317.5 68.2h1.1M317.6 66.9h1.1M314.3 70.6h1.1M314.5 67.7h1.1M315.6 70.2h1.1M315.3 69.7h1.1M315.7 68.9h1.1M315.7 73.1h1.1M318.0 72.3h1.1M315.7 70.9h1.1M316.5 73.6h1.1M314.1 73.6h1.1M314.9 75.3h1.1M315.3 73.3h1.1M315.6 75.4h1.1M315.7 74.7h1.1M314.3 75.6h1.1M300.3 36.1h1.1M301.6 36.8h1.1M302.2 34.7h1.1M300.6 35.6h1.1M302.5 34.1h1.1M300.7 35.3h1.1M303.6 29.8h1.1M301.5 33.7h1.1M304.4 32.0h1.1M305.4 34.8h1.1M303.0 33.6h1.1M302.2 31.2h1.1M303.7 37.1h1.1M302.8 27.5h1.1M300.1 35.0h1.1M307.2 31.0h1.1M300.8 30.6h1.1M308.5 30.2h1.1M305.1 36.0h1.1M309.6 29.0h1.1M305.9 26.9h1.1M310.8 30.6h1.1M305.1 33.2h1.1M310.7 27.6h1.1M304.3 31.9h1.1M308.3 31.2h1.1M314.0 29.2h1.1M309.7 27.0h1.1M310.2 29.7h1.1M309.0 27.5h1.1M311.4 31.3h1.1M307.0 28.8h1.1M304.9 33.3h1.1M309.9 33.3h1.1M313.1 34.0h1.1M312.2 30.1h1.1M315.1 27.4h1.1M309.2 33.5h1.1M311.3 35.0h1.1M313.7 26.9h1.1M315.1 32.7h1.1M315.8 30.8h1.1M312.6 31.2h1.1M309.7 34.3h1.1M315.7 34.7h1.1M310.5 31.2h1.1M314.0 36.2h1.1M312.7 36.5h1.1M316.9 31.3h1.1M313.3 32.4h1.1M315.4 36.7h1.1M312.9 38.0h1.1M316.1 38.2h1.1M311.4 41.1h1.1M312.6 35.4h1.1M311.6 37.0h1.1M311.3 38.5h1.1M313.9 38.2h1.1M313.8 42.1h1.1M311.8 43.4h1.1M314.8 41.6h1.1M312.3 38.4h1.1M312.5 38.3h1.1M309.6 40.7h1.1M311.6 41.9h1.1M308.2 40.8h1.1M311.9 43.1h1.1M313.2 43.4h1.1M313.2 39.8h1.1M307.2 39.9h1.1M311.6 40.8h1.1M307.4 40.3h1.1M308.7 43.2h1.1M308.5 43.8h1.1M307.8 42.8h1.1M308.0 43.8h1.1M304.7 46.1h1.1M304.1 46.1h1.1M305.4 46.4h1.1M303.9 41.6h1.1M308.1 43.6h1.1M307.8 42.5h1.1M304.4 40.3h1.1M303.7 41.1h1.1M304.9 44.1h1.1M305.7 43.3h1.1M307.4 41.5h1.1M302.4 38.9h1.1M304.6 44.0h1.1M303.6 41.6h1.1M301.5 42.8h1.1M303.0 41.7h1.1M306.3 44.3h1.1M302.9 44.1h1.1M302.8 40.3h1.1M298.6 36.0h1.1M305.1 38.5h1.1M305.7 35.6h1.1M301.7 35.2h1.1M300.8 36.7h1.1M303.3 37.6h1.1M303.4 35.0h1.1M296.6 37.8h1.1M301.1 35.6h1.1M302.9 35.0h1.1M301.1 35.5h1.1M304.3 40.8h1.1M307.3 44.0h1.1M307.9 30.1h1.1M307.9 35.7h1.1M304.9 41.8h1.1M308.0 29.2h1.1M315.3 36.4h1.1M298.5 35.4h1.1M308.3 31.5h1.1M302.1 28.2h1.1M307.3 34.5h1.1M313.1 38.4h1.1M307.2 34.0h1.1M310.6 30.3h1.1M307.3 39.4h1.1M302.4 31.2h1.1M311.4 46.0h1.1M307.8 46.1h1.1M308.2 36.1h1.1M304.2 31.0h1.1M310.3 34.3h1.1M303.1 38.8h1.1M308.3 33.4h1.1M307.0 36.3h1.1M306.7 36.3h1.1M304.1 25.1h1.1M303.3 42.9h1.1M304.5 37.9h1.1M308.8 32.1h1.1M306.4 35.7h1.1M307.7 40.0h1.1M306.4 36.0h1.1M310.4 37.6h1.1M299.2 43.2h1.1M308.1 34.1h1.1M305.7 32.3h1.1M306.7 29.8h1.1M310.7 39.3h1.1M301.4 39.5h1.1M299.3 34.4h1.1M301.4 40.4h1.1M309.2 30.4h1.1M306.8 39.5h1.1M304.4 49.0h1.1M298.8 43.6h1.1M312.9 35.3h1.1M300.8 42.9h1.1M294.6 36.8h1.1M299.4 36.9h1.1M303.4 30.6h1.1M308.6 42.7h1.1M299.7 40.2h1.1M306.4 33.7h1.1M303.5 39.7h1.1M311.2 35.6h1.1M294.6 40.9h1.1M307.8 27.4h1.1M303.6 36.9h1.1M304.6 38.4h1.1M301.9 40.1h1.1M293.3 38.7h1.1M303.2 36.4h1.1M309.0 43.7h1.1M301.2 36.5h1.1M301.2 37.2h1.1M303.3 31.0h1.1M311.1 38.7h1.1M306.0 43.5h1.1M298.4 38.9h1.1M313.4 35.2h1.1M301.9 33.0h1.1M311.6 42.2h1.1M307.4 41.5h1.1M302.8 35.0h1.1M309.8 32.3h1.1M306.9 36.8h1.1M302.0 37.9h1.1M300.0 33.7h1.1M296.8 30.7h1.1M301.8 38.7h1.1M306.0 30.7h1.1M304.7 48.0h1.1M306.2 38.9h1.1M296.1 34.4h1.1M311.2 29.8h1.1M301.7 33.2h1.1M305.3 39.8h1.1M297.8 40.2h1.1M293.7 32.3h1.1M307.7 31.1h1.1M301.9 34.2h1.1M313.2 31.8h1.1M310.3 46.5h1.1M304.0 32.8h1.1M305.8 31.8h1.1M304.1 31.5h1.1M298.9 28.8h1.1M310.0 33.4h1.1M300.4 42.0h1.1M304.9 35.1h1.1M302.2 36.7h1.1M304.3 34.6h1.1M304.9 40.5h1.1M304.8 43.2h1.1M310.3 31.6h1.1M301.2 30.3h1.1M302.2 40.3h1.1M304.1 34.2h1.1M306.2 25.9h1.1M307.2 35.7h1.1M308.8 35.2h1.1M310.3 41.9h1.1M304.3 39.5h1.1M301.5 33.1h1.1M300.6 35.6h1.1M300.0 31.2h1.1M304.6 29.4h1.1M308.4 32.1h1.1M304.5 35.1h1.1M310.4 39.6h1.1M304.5 33.7h1.1M309.7 35.9h1.1M300.8 37.3h1.1M308.6 36.4h1.1M305.9 43.9h1.1M303.2 40.4h1.1M312.9 45.1h1.1M300.3 39.3h1.1M306.3 48.5h1.1M311.6 41.7h1.1M311.2 39.4h1.1M300.8 47.7h1.1M297.8 40.5h1.1M309.3 37.6h1.1M310.4 36.6h1.1M309.4 37.9h1.1M302.3 41.5h1.1M303.1 39.8h1.1M300.8 37.8h1.1M308.2 42.4h1.1M300.6 34.0h1.1M305.6 31.6h1.1M308.5 48.4h1.1M308.9 39.8h1.1M301.8 39.5h1.1M308.2 46.4h1.1M304.1 42.8h1.1M304.1 35.3h1.1M303.7 38.1h1.1M298.8 34.9h1.1M312.6 27.7h1.1M309.8 40.5h1.1M303.7 32.8h1.1M311.0 35.0h1.1M307.1 35.6h1.1M300.5 41.9h1.1M308.8 32.1h1.1M310.9 30.5h1.1M299.8 41.0h1.1M303.7 36.7h1.1M313.1 31.4h1.1M308.6 34.7h1.1M306.2 35.6h1.1M302.0 37.0h1.1M301.4 36.8h1.1M301.3 35.3h1.1M306.3 29.8h1.1M305.4 40.2h1.1M306.3 41.3h1.1M301.1 39.6h1.1M307.2 23.0h1.1M305.7 41.1h1.1M305.4 36.9h1.1M305.1 35.9h1.1M300.9 33.3h1.1M295.5 47.1h1.1M305.6 37.8h1.1M308.6 39.2h1.1M305.4 28.9h1.1M300.2 45.1h1.1M307.7 40.0h1.1M300.8 34.3h1.1M307.0 32.9h1.1M311.3 32.9h1.1M303.7 31.0h1.1M307.4 43.1h1.1M306.7 36.7h1.1M304.0 40.7h1.1M305.7 45.4h1.1M304.5 34.8h1.1M303.3 27.3h1.1M306.8 37.3h1.1M298.3 30.9h1.1M300.8 35.1h1.1M301.0 40.5h1.1M311.3 33.5h1.1M305.8 31.5h1.1M311.8 31.3h1.1M302.1 36.7h1.1M302.0 50.0h1.1M304.8 35.5h1.1M301.1 36.3h1.1M302.9 34.6h1.1M310.3 33.8h1.1M307.7 33.6h1.1M310.4 32.9h1.1M301.2 35.5h1.1M311.5 34.7h1.1M301.7 36.0h1.1M302.4 38.0h1.1M302.6 38.3h1.1M309.9 39.1h1.1M312.7 38.2h1.1M314.2 43.0h1.1M304.5 40.5h1.1M302.3 35.7h1.1M305.3 32.8h1.1M307.1 36.3h1.1M314.9 40.5h1.1M304.6 33.4h1.1M303.2 33.3h1.1M302.3 36.8h1.1M299.5 35.2h1.1M308.0 33.8h1.1M300.6 34.3h1.1M309.7 33.0h1.1M312.9 28.5h1.1M302.0 39.7h1.1M311.9 35.7h1.1M298.1 35.3h1.1M301.5 33.3h1.1M304.0 33.7h1.1M305.5 37.4h1.1M304.4 27.9h1.1M304.9 23.9h1.1M306.0 34.6h1.1M301.4 47.0h1.1M313.4 43.3h1.1M306.7 34.3h1.1M307.8 44.7h1.1M327.7 33.7h1.1M324.3 34.1h1.1M334.0 32.1h1.1M335.7 33.8h1.1M343.7 33.5h1.1M337.0 31.9h1.1M345.0 33.2h1.1M328.0 36.5h1.1M329.4 31.8h1.1M332.6 34.7h1.1M328.3 33.2h1.1M317.4 37.4h1.1M325.4 34.7h1.1M324.9 33.0h1.1M330.3 32.4h1.1M334.7 30.9h1.1M332.6 35.8h1.1M325.4 34.5h1.1M334.1 32.9h1.1M326.8 33.8h1.1M347.1 31.6h1.1M327.2 33.3h1.1M324.6 32.6h1.1M324.0 34.5h1.1M336.6 36.3h1.1M319.5 32.8h1.1M328.2 32.4h1.1M323.1 33.9h1.1M324.5 32.8h1.1M329.9 32.6h1.1M326.7 34.6h1.1M333.4 34.1h1.1M336.0 33.8h1.1M318.5 37.0h1.1M348.1 34.3h1.1M339.6 35.3h1.1M325.5 35.2h1.1M323.7 33.3h1.1M332.4 33.9h1.1M323.9 31.9h1.1M334.0 33.7h1.1M329.4 32.5h1.1M323.2 34.2h1.1M315.8 36.7h1.1M328.7 35.8h1.1M335.0 32.7h1.1M331.9 31.9h1.1M322.4 36.6h1.1M324.8 32.9h1.1M331.8 33.9h1.1M335.1 31.5h1.1M326.7 32.3h1.1M328.7 33.5h1.1M321.9 31.4h1.1M319.3 36.1h1.1M325.9 32.3h1.1M329.6 32.1h1.1M334.9 35.1h1.1M328.8 33.0h1.1M316.0 35.5h1.1M342.5 33.6h1.1M324.9 35.5h1.1M325.8 32.1h1.1M327.8 35.0h1.1M316.1 36.4h1.1M339.7 33.4h1.1M325.1 31.8h1.1M332.2 33.3h1.1M337.0 36.2h1.1M337.1 33.9h1.1M316.2 36.9h1.1M325.2 33.4h1.1M336.0 34.4h1.1M321.3 33.8h1.1M326.6 33.9h1.1M320.6 36.9h1.1M327.7 35.2h1.1M336.0 37.3h1.1M333.5 32.5h1.1M325.6 35.6h1.1M339.8 31.0h1.1M341.7 32.4h1.1M327.2 33.4h1.1M332.6 33.5h1.1M328.2 32.5h1.1M338.6 34.1h1.1M328.5 37.6h1.1M333.2 36.1h1.1M326.8 34.3h1.1M327.6 35.5h1.1M330.4 31.1h1.1M332.5 33.4h1.1M330.4 35.5h1.1M326.8 35.2h1.1M328.7 33.9h1.1M325.1 34.0h1.1M326.6 35.4h1.1M312.9 35.8h1.1M328.0 32.3h1.1M334.0 33.7h1.1M332.6 36.1h1.1M330.0 31.3h1.1M317.7 34.5h1.1M320.6 38.0h1.1M327.8 31.0h1.1M313.7 33.9h1.1M312.1 35.7h1.1M312.9 36.3h1.1M325.4 36.1h1.1M320.6 33.7h1.1M336.0 30.9h1.1M333.4 36.2h1.1M321.8 34.1h1.1M340.2 35.9h1.1M339.8 33.3h1.1M326.1 33.9h1.1M326.1 35.5h1.1M334.5 34.6h1.1M324.0 35.6h1.1M332.1 34.2h1.1M337.1 33.0h1.1M329.6 35.8h1.1M323.6 35.8h1.1M333.9 36.3h1.1M337.6 32.6h1.1M341.0 32.6h1.1M320.5 34.0h1.1M326.2 32.7h1.1M335.5 34.5h1.1M332.8 31.5h1.1M341.3 34.2h1.1M336.8 34.2h1.1M331.4 35.2h1.1M330.0 36.3h1.1M325.1 30.8h1.1M326.3 34.1h1.1M331.6 34.1h1.1M331.8 34.6h1.1M327.7 35.0h1.1M332.5 32.5h1.1M316.7 35.0h1.1M332.3 35.7h1.1M336.5 34.1h1.1M336.7 32.7h1.1M325.7 36.5h1.1M320.6 34.4h1.1M321.5 32.4h1.1M343.2 30.3h1.1M340.9 32.7h1.1M323.5 31.5h1.1M330.4 35.0h1.1M332.7 32.3h1.1M340.1 33.8h1.1M332.5 34.9h1.1M332.6 33.3h1.1M331.2 32.7h1.1M330.5 32.3h1.1M319.0 33.6h1.1M327.7 33.0h1.1M326.7 33.2h1.1M329.3 36.9h1.1M332.9 35.3h1.1M335.7 35.1h1.1M331.8 35.3h1.1M336.2 33.4h1.1M327.0 34.1h1.1M328.5 34.8h1.1M325.8 33.5h1.1M330.5 34.8h1.1M328.0 31.6h1.1M327.2 35.5h1.1M327.4 36.2h1.1M325.4 33.8h1.1M334.4 35.7h1.1M326.9 36.6h1.1M330.2 34.7h1.1M341.2 34.8h1.1M327.4 34.0h1.1M322.8 36.2h1.1M331.4 37.0h1.1M337.2 33.7h1.1M324.7 33.8h1.1M337.4 33.4h1.1M336.7 35.7h1.1M339.1 33.9h1.1M333.6 31.7h1.1M331.2 34.0h1.1M335.0 30.8h1.1M327.0 38.0h1.1M330.0 33.2h1.1M329.6 33.8h1.1M326.6 35.2h1.1M330.8 35.9h1.1M346.0 34.4h1.1M331.4 36.4h1.1M319.7 37.6h1.1M321.2 33.7h1.1M329.2 31.8h1.1M324.7 34.6h1.1M331.6 31.6h1.1M308.7 36.2h1.1M317.7 35.2h1.1M332.2 35.2h1.1M325.0 33.3h1.1M349.8 32.8h1.1M321.9 32.3h1.1M327.3 37.0h1.1M333.6 32.3h1.1M319.4 33.5h1.1M328.8 34.6h1.1M332.3 35.7h1.1M319.7 32.0h1.1M328.3 35.1h1.1M325.1 34.7h1.1M328.4 36.0h1.1M327.4 33.4h1.1M332.4 35.5h1.1M324.5 34.1h1.1M323.9 32.4h1.1M345.4 32.2h1.1M326.6 33.6h1.1M323.3 34.1h1.1M328.3 34.7h1.1M325.0 31.9h1.1M328.0 35.3h1.1M337.5 33.5h1.1M327.0 32.9h1.1M339.0 32.5h1.1M325.4 34.2h1.1M327.3 34.3h1.1M331.9 36.7h1.1M332.4 34.6h1.1M319.1 38.3h1.1M332.5 35.4h1.1M326.7 34.0h1.1M326.3 33.9h1.1M326.2 35.5h1.1M336.2 33.6h1.1M326.9 35.6h1.1M327.5 35.1h1.1M297.0 59.8h1.1M298.0 55.0h1.1M310.6 54.0h1.1M299.2 56.0h1.1M309.5 39.0h1.1M298.5 50.9h1.1M305.7 43.1h1.1M305.4 52.1h1.1M304.0 45.9h1.1M308.1 66.7h1.1M301.4 55.2h1.1M294.7 35.4h1.1M300.3 50.4h1.1M304.6 52.1h1.1M293.0 38.8h1.1M307.1 57.3h1.1M299.9 50.3h1.1M304.7 48.7h1.1M293.3 58.9h1.1M292.7 49.4h1.1M308.2 54.5h1.1M307.0 60.4h1.1M301.9 43.2h1.1M305.0 43.4h1.1M300.0 52.3h1.1M302.7 51.6h1.1M308.1 53.7h1.1M306.9 51.3h1.1M300.9 52.7h1.1M303.5 56.3h1.1M297.9 55.3h1.1M316.8 36.1h1.1M304.4 51.1h1.1M299.4 48.3h1.1M293.9 53.2h1.1M296.5 61.0h1.1M302.6 61.9h1.1M301.4 43.4h1.1M303.2 52.9h1.1M305.7 37.7h1.1M301.2 60.2h1.1M301.2 39.8h1.1M303.2 54.6h1.1M308.9 55.0h1.1M294.9 58.6h1.1M304.8 58.7h1.1M299.7 57.8h1.1M304.3 61.1h1.1M304.0 52.7h1.1M299.8 49.3h1.1M307.2 41.3h1.1M302.3 60.6h1.1M291.0 38.6h1.1M295.0 51.7h1.1M303.9 48.4h1.1M305.3 48.7h1.1M291.3 57.7h1.1M300.7 47.8h1.1M291.1 36.9h1.1M294.5 56.0h1.1M295.4 43.8h1.1M296.2 55.2h1.1M304.2 58.9h1.1M295.6 60.6h1.1M310.1 54.3h1.1M306.9 61.5h1.1M303.0 46.7h1.1M303.8 53.9h1.1M304.8 67.2h1.1M301.0 50.4h1.1M308.0 52.0h1.1M293.5 53.7h1.1M306.6 42.2h1.1M310.8 63.1h1.1M294.2 53.3h1.1M303.1 55.1h1.1M302.4 55.9h1.1M296.2 50.3h1.1M300.2 54.4h1.1M312.2 57.0h1.1M294.6 54.0h1.1M312.0 63.9h1.1M310.8 52.4h1.1M305.2 52.9h1.1M294.2 52.1h1.1M298.4 44.3h1.1M299.9 49.5h1.1M299.3 56.1h1.1M294.5 52.3h1.1M303.0 53.5h1.1M302.4 52.3h1.1M291.5 39.6h1.1M297.3 49.4h1.1M295.3 47.2h1.1M298.4 61.9h1.1M300.2 56.6h1.1M304.8 52.8h1.1M306.5 48.5h1.1M299.7 44.9h1.1M300.0 57.0h1.1M295.6 51.3h1.1M299.3 51.5h1.1M298.4 53.5h1.1M293.5 52.5h1.1M310.6 45.3h1.1M305.6 47.6h1.1M297.4 62.5h1.1M304.8 55.5h1.1M310.5 55.6h1.1M300.2 38.2h1.1M304.9 61.8h1.1M298.2 44.6h1.1M305.6 49.0h1.1M294.6 50.1h1.1M309.9 44.9h1.1M296.0 54.8h1.1M297.0 59.5h1.1M296.4 44.6h1.1M291.9 50.4h1.1M307.2 51.8h1.1M297.3 42.7h1.1M302.2 47.7h1.1M314.4 44.7h1.1M292.7 44.1h1.1M301.8 55.1h1.1M302.0 58.6h1.1M304.8 48.2h1.1M310.6 47.1h1.1M302.0 52.0h1.1M307.5 51.5h1.1M302.7 40.1h1.1M300.2 52.5h1.1M309.6 41.5h1.1M293.6 56.7h1.1M314.4 52.6h1.1M298.5 46.5h1.1M303.6 57.9h1.1M305.3 46.1h1.1M296.6 50.6h1.1M303.2 55.0h1.1M298.4 57.8h1.1M304.9 49.9h1.1M301.9 61.1h1.1M304.5 49.9h1.1M298.8 57.3h1.1M303.0 52.5h1.1M296.4 50.2h1.1M301.7 62.1h1.1M293.1 52.4h1.1M295.2 43.6h1.1M314.2 44.2h1.1M307.9 57.8h1.1M303.5 52.0h1.1M300.5 54.7h1.1M303.0 55.1h1.1M304.5 42.1h1.1M293.2 51.5h1.1M300.5 43.8h1.1M306.3 54.6h1.1M302.5 57.9h1.1M304.4 51.0h1.1M297.2 58.5h1.1M297.9 47.4h1.1M295.2 55.8h1.1M302.3 50.8h1.1M306.3 46.8h1.1M305.6 48.7h1.1M299.8 50.5h1.1M302.0 59.9h1.1M297.2 57.8h1.1M308.0 50.8h1.1M296.9 45.0h1.1M300.3 68.7h1.1M299.6 52.5h1.1M295.2 54.3h1.1M302.3 57.5h1.1M313.1 57.7h1.1M295.8 51.0h1.1M293.1 49.3h1.1M292.4 58.4h1.1M301.5 42.6h1.1M305.3 59.4h1.1M311.2 50.2h1.1M305.2 52.9h1.1M309.2 51.7h1.1M307.3 45.7h1.1M296.8 45.3h1.1M299.7 44.3h1.1M301.6 48.3h1.1M292.5 53.1h1.1M307.4 54.7h1.1M302.7 50.3h1.1M299.6 42.3h1.1M312.3 41.8h1.1M295.5 45.6h1.1M294.4 52.6h1.1M296.3 48.4h1.1M302.8 44.6h1.1M294.1 54.4h1.1M297.7 40.8h1.1M304.2 43.1h1.1M300.6 51.7h1.1M302.4 53.3h1.1M298.2 51.5h1.1M296.3 56.8h1.1M300.3 54.7h1.1M297.9 50.2h1.1M303.5 55.5h1.1M298.4 35.5h1.1M301.5 55.8h1.1M308.1 50.1h1.1M306.9 30.5h1.1M298.2 47.9h1.1M312.8 50.2h1.1M315.9 51.9h1.1M298.0 48.2h1.1M295.7 52.4h1.1M301.5 45.7h1.1M311.1 57.9h1.1M298.8 54.7h1.1M299.6 48.6h1.1M295.6 47.7h1.1M311.1 61.6h1.1M299.9 49.7h1.1M307.4 46.6h1.1M305.0 42.6h1.1M303.0 56.0h1.1M305.6 61.0h1.1M307.8 49.1h1.1M292.5 37.8h1.1M294.3 50.8h1.1M297.3 68.3h1.1M303.3 54.2h1.1M301.4 50.5h1.1M302.9 58.4h1.1M301.1 57.3h1.1M309.2 53.0h1.1M304.9 53.8h1.1M307.8 57.0h1.1M302.1 58.9h1.1M308.0 53.1h1.1M293.6 62.3h1.1M302.3 56.2h1.1M302.0 50.1h1.1M293.9 52.0h1.1M299.7 55.0h1.1M299.1 51.6h1.1M305.4 51.9h1.1M297.3 54.7h1.1M299.1 45.7h1.1M294.5 46.6h1.1M297.3 38.4h1.1M292.2 48.2h1.1M298.4 50.8h1.1M304.2 45.4h1.1M309.9 53.9h1.1M294.9 54.9h1.1M311.2 43.4h1.1M301.4 45.3h1.1M291.9 55.6h1.1M305.7 47.7h1.1M298.4 44.4h1.1M296.7 50.3h1.1M299.7 56.0h1.1M301.9 51.4h1.1M301.3 55.4h1.1M304.1 43.6h1.1M299.6 54.2h1.1M296.1 43.0h1.1M294.7 44.4h1.1M299.4 50.7h1.1M303.9 40.2h1.1M303.4 56.6h1.1M316.5 49.9h1.1M305.2 41.3h1.1M307.1 61.5h1.1M302.3 48.1h1.1M309.7 46.0h1.1M311.4 45.3h1.1M303.6 53.5h1.1M301.8 48.2h1.1M294.6 60.0h1.1M303.4 46.4h1.1M292.9 56.3h1.1M308.8 51.4h1.1M298.1 55.1h1.1M303.7 59.0h1.1M299.8 47.5h1.1M300.3 43.6h1.1M294.2 48.4h1.1M299.7 52.1h1.1M292.2 49.6h1.1M312.5 41.4h1.1M298.5 48.8h1.1M304.4 46.9h1.1M314.3 48.4h1.1M302.2 52.6h1.1M308.9 54.2h1.1M292.4 52.0h1.1M297.0 58.6h1.1M303.9 53.8h1.1M300.1 47.4h1.1M307.0 57.1h1.1M314.2 50.1h1.1M307.4 45.3h1.1M304.0 51.7h1.1M294.3 48.0h1.1M301.3 50.3h1.1M299.0 50.0h1.1M300.7 49.0h1.1M311.0 50.6h1.1M301.6 46.8h1.1M295.9 46.0h1.1M292.7 51.8h1.1M295.2 53.5h1.1M301.3 43.2h1.1M313.8 49.5h1.1M301.5 48.9h1.1M293.7 51.4h1.1M303.8 39.2h1.1M300.9 52.4h1.1M311.5 39.9h1.1M296.4 58.3h1.1M296.3 55.4h1.1M294.7 44.8h1.1M305.1 48.3h1.1M294.2 51.8h1.1M307.6 51.0h1.1M314.0 44.0h1.1M310.5 53.4h1.1M305.8 56.0h1.1M299.0 49.9h1.1M292.7 47.3h1.1M296.4 57.5h1.1M297.9 53.6h1.1M300.1 65.5h1.1M295.8 46.0h1.1M304.4 41.1h1.1M300.8 45.7h1.1M295.6 50.3h1.1M312.8 56.8h1.1M305.5 54.3h1.1M303.6 47.5h1.1M301.6 50.9h1.1M304.3 56.7h1.1M293.7 43.8h1.1M309.2 45.0h1.1M307.7 68.2h1.1M306.9 53.5h1.1M299.8 52.6h1.1M306.0 69.4h1.1M305.9 50.6h1.1M310.2 51.6h1.1M308.3 53.2h1.1M301.9 56.1h1.1M299.8 47.7h1.1M300.2 52.1h1.1M298.4 56.1h1.1M302.6 53.3h1.1M298.6 52.9h1.1M304.7 49.8h1.1M299.2 53.1h1.1M302.0 48.1h1.1M305.6 54.2h1.1M311.7 44.7h1.1M293.0 53.2h1.1M311.9 57.2h1.1M300.7 47.2h1.1M302.4 48.7h1.1M295.8 52.1h1.1M296.5 49.7h1.1M296.3 50.4h1.1M303.4 51.9h1.1M302.1 45.4h1.1M292.0 50.9h1.1M300.5 55.4h1.1M292.4 56.9h1.1M299.8 45.1h1.1M297.1 48.8h1.1M308.5 48.9h1.1M302.4 46.3h1.1M292.5 47.2h1.1M299.2 61.7h1.1M297.7 58.0h1.1M304.3 56.2h1.1M301.7 50.6h1.1M303.3 58.3h1.1M295.7 44.1h1.1M297.0 43.0h1.1M297.9 49.5h1.1M296.0 50.3h1.1M307.5 51.8h1.1M307.0 50.5h1.1M301.1 43.4h1.1M307.8 53.3h1.1M309.1 51.0h1.1M296.8 63.7h1.1M294.0 39.7h1.1M305.1 45.3h1.1M293.5 53.0h1.1M295.7 62.0h1.1M312.8 64.2h1.1M297.2 56.9h1.1M296.7 48.4h1.1M299.0 50.3h1.1M302.5 49.6h1.1M308.7 43.3h1.1M302.8 42.1h1.1M303.5 58.6h1.1M319.4 49.2h1.1M342.3 41.0h1.1M331.5 39.1h1.1M338.6 48.5h1.1M319.4 47.2h1.1M345.2 40.5h1.1M346.1 41.9h1.1M318.0 39.0h1.1M341.4 40.7h1.1M344.6 44.4h1.1M320.1 50.3h1.1M327.8 39.8h1.1M317.6 42.4h1.1M332.1 45.4h1.1M335.9 39.0h1.1M317.6 51.4h1.1M330.9 48.9h1.1M345.7 46.9h1.1M340.9 41.1h1.1M324.2 45.6h1.1M348.6 52.7h1.1M324.8 47.5h1.1M326.6 43.3h1.1M326.4 53.0h1.1M329.6 44.9h1.1M320.2 50.8h1.1M320.2 50.5h1.1M325.1 41.4h1.1M318.8 43.2h1.1M347.6 43.3h1.1M328.0 49.2h1.1M324.8 49.4h1.1M348.0 50.9h1.1M318.8 49.8h1.1M342.4 50.0h1.1M335.7 39.4h1.1M338.8 46.7h1.1M332.8 49.5h1.1M323.3 43.5h1.1M337.4 51.5h1.1M348.7 51.4h1.1M325.8 44.2h1.1M334.1 44.8h1.1M320.0 43.4h1.1M346.9 43.5h1.1M345.2 51.4h1.1M333.7 51.8h1.1M348.3 37.9h1.1M336.1 52.4h1.1M327.3 43.3h1.1M322.3 51.3h1.1M335.3 46.8h1.1M336.3 51.5h1.1M333.8 46.2h1.1M331.6 42.9h1.1M348.1 47.7h1.1M333.1 39.1h1.1M337.7 38.4h1.1M332.4 41.0h1.1M329.9 41.1h1.1M324.6 44.5h1.1M321.3 41.6h1.1M340.2 39.3h1.1M344.2 44.1h1.1M324.2 49.6h1.1M329.4 43.4h1.1M317.5 40.5h1.1M347.1 45.3h1.1M331.2 46.8h1.1M320.3 40.1h1.1M344.7 47.4h1.1M327.6 51.0h1.1M326.7 44.6h1.1M342.3 50.8h1.1M326.3 52.8h1.1M331.5 71.1h1.1M319.0 66.3h1.1M320.6 65.5h1.1M331.0 62.9h1.1M318.2 70.2h1.1M334.8 64.3h1.1M324.0 71.8h1.1M328.7 73.4h1.1M335.5 65.5h1.1M338.4 57.1h1.1M322.0 67.3h1.1M337.7 71.6h1.1M334.5 62.6h1.1M335.8 72.8h1.1M330.9 60.6h1.1M326.8 74.0h1.1M323.3 73.8h1.1M334.1 57.7h1.1M330.5 64.2h1.1M328.2 74.9h1.1M318.1 58.4h1.1M327.0 67.7h1.1M332.2 67.7h1.1M322.5 65.8h1.1M347.8 69.7h1.1M337.0 68.9h1.1M331.8 58.9h1.1M314.9 70.2h1.1M319.0 70.6h1.1M332.6 66.4h1.1M319.5 64.0h1.1M341.0 65.5h1.1M329.5 69.9h1.1M325.0 65.9h1.1M332.2 70.3h1.1M325.0 61.4h1.1M336.1 64.3h1.1M330.3 61.4h1.1M348.8 66.5h1.1M332.6 71.8h1.1M320.4 67.9h1.1M318.9 62.5h1.1M337.1 73.2h1.1M333.7 62.0h1.1M329.0 71.0h1.1M326.5 65.3h1.1M331.5 71.4h1.1M324.6 58.7h1.1M325.2 66.1h1.1M328.0 68.5h1.1M339.2 66.8h1.1M333.1 63.5h1.1M329.0 69.9h1.1M320.0 72.3h1.1M322.7 65.4h1.1M334.5 70.1h1.1M330.5 63.6h1.1M345.9 66.4h1.1M330.1 67.3h1.1M330.9 65.5h1.1M325.0 61.4h1.1M320.3 70.7h1.1M343.8 67.9h1.1M331.1 65.7h1.1M331.4 69.8h1.1M338.5 51.6h1.1M335.3 66.7h1.1M330.6 67.5h1.1M335.4 70.2h1.1M343.6 64.7h1.1M333.4 71.9h1.1M325.1 66.0h1.1M335.0 68.2h1.1M329.1 68.4h1.1M352.3 64.7h1.1M320.9 68.0h1.1M314.7 63.6h1.1M313.7 73.4h1.1M336.4 65.8h1.1M311.2 60.6h1.1M317.2 66.9h1.1M336.8 70.0h1.1M326.6 63.9h1.1M338.2 66.0h1.1M316.4 63.1h1.1M324.8 74.7h1.1M328.2 57.7h1.1M326.6 71.4h1.1M321.8 64.0h1.1M319.0 68.2h1.1M330.1 64.0h1.1M330.8 69.7h1.1M324.1 66.5h1.1M335.0 65.4h1.1M316.1 69.9h1.1M329.1 69.1h1.1M331.4 75.3h1.1M333.8 70.8h1.1M322.2 67.1h1.1M328.7 69.4h1.1M315.8 66.6h1.1M324.0 63.4h1.1M325.3 70.2h1.1M337.7 70.4h1.1M315.1 64.9h1.1M331.6 67.6h1.1M336.5 64.2h1.1M327.1 56.1h1.1M328.8 70.3h1.1M331.2 62.5h1.1M329.4 67.0h1.1M321.9 64.1h1.1M331.2 70.4h1.1M346.0 61.8h1.1M327.1 71.3h1.1M325.7 71.2h1.1M313.8 76.1h1.1M337.8 67.5h1.1M318.7 64.7h1.1M323.1 74.4h1.1M325.5 68.3h1.1M334.7 65.0h1.1M324.3 55.1h1.1M336.7 74.9h1.1M331.2 62.1h1.1M333.8 65.5h1.1M306.5 65.2h1.1M312.7 65.2h1.1M319.8 71.5h1.1M316.5 67.7h1.1M328.5 58.4h1.1M330.2 63.2h1.1M321.2 59.1h1.1M329.7 63.6h1.1M328.4 66.7h1.1M341.8 65.5h1.1M330.1 74.3h1.1M325.7 73.3h1.1M333.6 56.6h1.1M342.1 66.1h1.1M319.9 65.4h1.1M331.1 68.1h1.1M347.3 57.6h1.1M332.4 63.9h1.1M325.9 64.4h1.1M323.2 75.5h1.1M331.0 66.6h1.1M332.3 58.6h1.1M328.3 64.1h1.1M321.6 74.1h1.1M331.3 70.1h1.1M324.7 67.4h1.1M329.4 70.1h1.1M330.7 69.4h1.1M323.3 69.5h1.1M333.2 69.6h1.1M327.1 68.1h1.1M329.1 68.5h1.1M329.5 64.2h1.1M325.3 67.5h1.1M320.4 53.7h1.1M328.8 64.8h1.1M331.5 70.0h1.1M332.5 65.5h1.1M331.0 57.8h1.1M334.3 62.1h1.1M323.0 69.4h1.1M324.2 61.9h1.1M327.3 61.4h1.1M336.1 60.9h1.1M328.7 72.6h1.1M338.0 68.5h1.1M319.4 70.1h1.1M339.9 71.8h1.1M334.4 70.2h1.1M328.5 68.9h1.1M332.8 66.9h1.1M340.4 62.3h1.1M340.1 63.9h1.1M321.0 65.2h1.1M322.6 65.5h1.1M334.8 73.4h1.1M336.1 52.7h1.1M339.5 63.0h1.1M332.9 73.6h1.1M338.6 76.1h1.1M330.1 61.7h1.1M326.7 67.8h1.1M325.4 62.1h1.1M342.1 74.1h1.1M331.2 70.4h1.1M323.5 66.2h1.1M325.2 72.1h1.1M340.0 63.9h1.1M315.3 71.2h1.1M346.7 61.6h1.1M344.9 68.5h1.1M331.9 58.6h1.1M328.0 59.1h1.1M331.5 63.1h1.1M324.5 66.2h1.1M330.9 74.5h1.1M330.5 67.5h1.1M321.2 61.9h1.1M331.5 66.3h1.1M328.2 69.5h1.1M343.0 62.0h1.1M335.3 71.9h1.1M325.4 60.0h1.1M319.3 67.7h1.1M330.6 68.8h1.1M335.3 72.3h1.1M340.7 75.7h1.1M329.4 67.8h1.1M322.2 60.6h1.1M329.5 61.1h1.1M340.8 62.9h1.1M343.6 63.1h1.1M328.5 72.6h1.1M333.0 74.3h1.1M323.3 57.1h1.1M322.9 55.1h1.1M326.7 58.9h1.1M322.6 54.8h1.1M327.1 58.2h1.1M326.0 59.6h1.1M332.7 59.2h1.1M326.9 60.4h1.1M326.3 57.5h1.1M320.2 56.1h1.1M322.9 55.7h1.1M321.4 55.2h1.1M318.5 57.7h1.1M324.1 59.4h1.1M329.0 60.3h1.1M332.1 54.6h1.1M327.9 60.3h1.1M318.1 54.8h1.1M317.1 55.1h1.1M332.8 60.0h1.1M319.1 53.9h1.1M318.5 59.9h1.1M322.2 57.8h1.1M322.8 56.8h1.1M327.5 60.4h1.1M317.8 56.8h1.1M328.8 59.3h1.1M327.3 55.8h1.1M317.2 55.5h1.1M326.2 60.1h1.1M358.3 33.2h1.1M349.0 65.6h1.1M352.4 54.6h1.1M346.0 28.5h1.1" stroke="#000" stroke-width="1.1" fill="none"/>
<path d="M318.2 10.8V77.6M290.1 52.8H365.6" stroke="#444" stroke-width=".75" fill="none"/>
<rect x="290.1" y="10.8" width="75.5" height="66.8" fill="none" stroke="#000" stroke-width="1.25"/>
<path d="M290.1 77.6v3.4M290.1 77.6h-3.4M295.8 77.6v1.9M290.1 72.6h-1.9M299.1 77.6v1.9M290.1 69.6h-1.9M301.5 77.6v1.9M290.1 67.5h-1.9M303.3 77.6v1.9M290.1 65.9h-1.9M304.8 77.6v1.9M290.1 64.6h-1.9M306.1 77.6v1.9M290.1 63.5h-1.9M307.1 77.6v1.9M290.1 62.5h-1.9M308.1 77.6v1.9M290.1 61.7h-1.9M309.0 77.6v3.4M290.1 60.9h-3.4M314.7 77.6v1.9M290.1 55.9h-1.9M318.0 77.6v1.9M290.1 52.9h-1.9M320.3 77.6v1.9M290.1 50.8h-1.9M322.2 77.6v1.9M290.1 49.2h-1.9M323.7 77.6v1.9M290.1 47.9h-1.9M324.9 77.6v1.9M290.1 46.8h-1.9M326.0 77.6v1.9M290.1 45.8h-1.9M327.0 77.6v1.9M290.1 45.0h-1.9M327.9 77.6v3.4M290.1 44.2h-3.4M333.5 77.6v1.9M290.1 39.2h-1.9M336.9 77.6v1.9M290.1 36.2h-1.9M339.2 77.6v1.9M290.1 34.1h-1.9M341.0 77.6v1.9M290.1 32.5h-1.9M342.5 77.6v1.9M290.1 31.2h-1.9M343.8 77.6v1.9M290.1 30.1h-1.9M344.9 77.6v1.9M290.1 29.1h-1.9M345.9 77.6v1.9M290.1 28.3h-1.9M346.7 77.6v3.4M290.1 27.5h-3.4M352.4 77.6v1.9M290.1 22.5h-1.9M355.7 77.6v1.9M290.1 19.5h-1.9M358.1 77.6v1.9M290.1 17.4h-1.9M359.9 77.6v1.9M290.1 15.8h-1.9M361.4 77.6v1.9M290.1 14.5h-1.9M362.7 77.6v1.9M290.1 13.4h-1.9M363.8 77.6v1.9M290.1 12.4h-1.9M364.7 77.6v1.9M290.1 11.6h-1.9M365.6 77.6v3.4M290.1 10.8h-3.4" stroke="#000" stroke-width="1" fill="none"/>
<text x="289.9" y="91.0" font-size="7.6" text-anchor="middle" stroke="#000" stroke-width=".2">10<tspan dy="-3.9" font-size="7">0</tspan></text>
<text transform="translate(284.8 78.0) rotate(-90)" font-size="7.6" text-anchor="middle" stroke="#000" stroke-width=".2">10<tspan dy="-3.9" font-size="7">0</tspan></text>
<text x="308.3" y="91.0" font-size="7.6" text-anchor="middle" stroke="#000" stroke-width=".2">10<tspan dy="-3.9" font-size="7">1</tspan></text>
<text transform="translate(284.8 61.9) rotate(-90)" font-size="7.6" text-anchor="middle" stroke="#000" stroke-width=".2">10<tspan dy="-3.9" font-size="7">1</tspan></text>
<text x="326.7" y="91.0" font-size="7.6" text-anchor="middle" stroke="#000" stroke-width=".2">10<tspan dy="-3.9" font-size="7">2</tspan></text>
<text transform="translate(284.8 45.8) rotate(-90)" font-size="7.6" text-anchor="middle" stroke="#000" stroke-width=".2">10<tspan dy="-3.9" font-size="7">2</tspan></text>
<text x="345.1" y="91.0" font-size="7.6" text-anchor="middle" stroke="#000" stroke-width=".2">10<tspan dy="-3.9" font-size="7">3</tspan></text>
<text transform="translate(284.8 29.7) rotate(-90)" font-size="7.6" text-anchor="middle" stroke="#000" stroke-width=".2">10<tspan dy="-3.9" font-size="7">3</tspan></text>
<text x="363.5" y="91.0" font-size="7.6" text-anchor="middle" stroke="#000" stroke-width=".2">10<tspan dy="-3.9" font-size="7">4</tspan></text>
<text transform="translate(284.8 13.5) rotate(-90)" font-size="7.6" text-anchor="middle" stroke="#000" stroke-width=".2">10<tspan dy="-3.9" font-size="7">4</tspan></text>
<text x="327.9" y="100.2" font-size="7.8" stroke="#000" stroke-width=".25">EGFP</text>
<text x="328.1" y="7.3" font-size="8.1" stroke="#000" stroke-width=".25">no.2 CD33 BM.011</text>
<text transform="translate(274.8 44.8) rotate(-90)" font-size="8.3" stroke="#000" stroke-width=".25">CD33 PE</text>
<text x="366.4" y="18.5" font-size="8.7" text-anchor="end" stroke="#000" stroke-width=".25">20%</text>
<path d="M391.1 77.6L391.1 76.3L391.1 74.9L391.1 73.6L391.1 72.2L391.1 70.9L391.1 69.5L391.1 68.2L391.1 66.8L391.1 65.5L391.1 64.1L391.1 62.8L392.2 63.0L394.2 62.4L395.9 62.1L396.9 61.9L398.5 61.5L400.2 61.3L401.7 60.8L403.3 61.3L404.9 60.3L406.5 61.0L407.4 60.4L408.6 61.3L410.1 60.7L412.6 60.6L413.8 62.1L415.1 63.3L415.5 64.8L415.0 65.3L416.4 67.1L416.2 68.1L416.0 70.4L415.7 72.1L415.2 72.7L415.3 75.2L415.5 76.7L415.2 77.6L413.8 77.6L412.5 77.6L411.1 77.6L409.8 77.6L408.5 77.6L407.1 77.6L405.8 77.6L404.5 77.6L403.1 77.6L401.8 77.6L400.5 77.6L399.1 77.6L397.8 77.6L396.4 77.6L395.1 77.6L393.8 77.6L392.4 77.6Z" fill="#000"/>
<path d="M391.1 37.8L392.5 38.4L393.5 37.8L394.5 37.6L396.8 37.0L397.7 35.3L399.4 36.2L400.7 37.7L402.1 37.3L403.8 38.4L405.1 38.9L405.7 40.4L406.1 40.3L406.3 41.7L407.2 43.5L407.3 45.6L406.2 46.0L405.4 47.0L403.6 47.9L404.1 49.2L402.0 49.2L401.2 48.7L398.7 48.6L397.8 49.5L397.0 50.0L395.7 49.7L393.7 47.5L392.3 47.6L391.1 47.1L391.1 45.7L391.1 44.4L391.1 43.1L391.1 41.8L391.1 40.5L391.1 39.1Z" fill="#000"/>
<path d="M392.8 63.7h1.1M395.1 61.8h1.1M393.5 63.9h1.1M395.4 61.6h1.1M394.7 61.1h1.1M397.1 62.7h1.1M398.0 63.6h1.1M398.1 60.0h1.1M399.6 64.3h1.1M400.0 62.2h1.1M401.6 61.9h1.1M400.3 61.6h1.1M401.4 60.2h1.1M401.2 62.5h1.1M403.1 61.4h1.1M401.9 59.4h1.1M403.4 61.9h1.1M405.3 59.2h1.1M403.5 62.8h1.1M403.5 59.1h1.1M407.8 60.6h1.1M405.7 61.8h1.1M406.5 61.0h1.1M409.1 60.1h1.1M408.4 61.1h1.1M411.1 60.7h1.1M410.0 60.9h1.1M411.0 60.5h1.1M413.6 62.0h1.1M413.8 61.8h1.1M411.1 60.7h1.1M415.9 60.5h1.1M414.5 59.0h1.1M413.2 62.4h1.1M416.8 64.1h1.1M415.7 61.4h1.1M415.7 62.6h1.1M415.9 61.8h1.1M414.9 66.6h1.1M416.9 65.7h1.1M414.5 68.4h1.1M416.5 67.3h1.1M414.5 67.0h1.1M417.7 67.5h1.1M414.8 67.3h1.1M416.2 69.4h1.1M415.5 70.1h1.1M417.0 69.8h1.1M414.9 72.7h1.1M416.7 70.4h1.1M416.2 73.1h1.1M417.6 71.6h1.1M416.2 72.1h1.1M414.4 75.1h1.1M415.4 72.6h1.1M418.9 74.5h1.1M404.0 58.5h1.1M396.3 57.5h1.1M403.4 58.3h1.1M399.6 58.7h1.1M396.3 59.6h1.1M398.0 60.2h1.1M399.1 59.0h1.1M399.9 59.0h1.1M402.2 58.7h1.1M402.2 59.1h1.1M406.5 55.8h1.1M402.6 57.5h1.1M409.2 59.7h1.1M398.1 59.2h1.1M395.9 59.4h1.1M409.4 60.5h1.1M399.2 59.3h1.1M397.5 58.8h1.1M396.7 58.6h1.1M400.8 57.2h1.1M409.8 59.1h1.1M403.2 57.8h1.1M404.8 56.3h1.1M414.3 58.0h1.1M395.0 59.8h1.1M408.3 59.7h1.1M401.8 61.5h1.1M405.2 57.2h1.1M403.5 57.6h1.1M398.2 58.1h1.1M412.2 59.2h1.1M409.3 57.9h1.1M409.1 58.3h1.1M402.7 59.9h1.1M396.9 59.6h1.1M408.0 59.8h1.1M415.7 58.4h1.1M397.9 59.5h1.1M395.9 59.1h1.1M398.3 58.3h1.1M393.4 57.4h1.1M401.8 60.0h1.1M393.7 58.3h1.1M413.2 57.3h1.1M394.1 59.4h1.1M405.2 57.3h1.1M408.3 60.0h1.1M411.4 60.4h1.1M404.9 57.1h1.1M410.2 59.5h1.1M414.4 59.3h1.1M402.9 58.1h1.1M402.3 58.6h1.1M413.6 61.6h1.1M405.2 61.0h1.1M414.9 58.1h1.1M395.0 59.5h1.1M399.2 59.5h1.1M404.9 57.4h1.1M403.6 57.5h1.1M403.4 60.1h1.1M411.9 60.6h1.1M395.3 59.1h1.1M410.1 58.9h1.1M399.5 59.8h1.1M401.8 60.1h1.1M394.8 59.0h1.1M396.6 60.6h1.1M394.1 36.7h1.1M393.0 38.6h1.1M392.9 36.7h1.1M393.4 35.4h1.1M394.7 41.4h1.1M394.7 36.1h1.1M395.5 38.8h1.1M395.1 37.3h1.1M393.1 36.9h1.1M397.3 38.7h1.1M398.1 35.0h1.1M395.3 38.5h1.1M395.1 37.4h1.1M395.6 33.0h1.1M399.6 35.8h1.1M398.4 36.7h1.1M400.9 38.0h1.1M399.4 35.3h1.1M400.1 36.3h1.1M401.4 35.6h1.1M397.7 37.2h1.1M397.7 35.8h1.1M399.4 33.9h1.1M402.3 37.9h1.1M403.6 36.5h1.1M401.3 38.5h1.1M401.5 39.9h1.1M399.5 37.4h1.1M400.7 40.1h1.1M405.3 37.1h1.1M400.7 36.6h1.1M406.4 36.6h1.1M409.1 36.9h1.1M405.4 38.3h1.1M403.9 36.6h1.1M404.8 39.4h1.1M405.8 37.4h1.1M408.7 43.0h1.1M403.7 42.6h1.1M404.5 42.1h1.1M405.8 37.5h1.1M408.8 45.2h1.1M406.1 43.9h1.1M408.2 43.3h1.1M406.9 46.8h1.1M409.0 45.5h1.1M407.2 43.7h1.1M407.3 45.3h1.1M407.1 44.7h1.1M404.8 43.6h1.1M403.0 46.8h1.1M407.1 47.0h1.1M404.1 46.2h1.1M406.1 51.2h1.1M408.4 47.6h1.1M405.2 47.8h1.1M401.2 48.1h1.1M401.5 48.5h1.1M402.1 50.6h1.1M403.1 43.5h1.1M404.9 46.0h1.1M402.2 47.8h1.1M402.1 50.6h1.1M403.3 48.5h1.1M404.3 45.2h1.1M398.4 48.0h1.1M402.3 52.1h1.1M397.3 49.0h1.1M400.7 53.1h1.1M397.9 46.0h1.1M398.3 49.8h1.1M396.6 48.6h1.1M399.6 47.0h1.1M394.4 48.5h1.1M396.6 51.8h1.1M399.1 51.0h1.1M395.5 50.4h1.1M397.7 49.2h1.1M396.0 48.9h1.1M396.1 46.8h1.1M395.2 48.9h1.1M396.7 48.2h1.1M397.4 52.3h1.1M396.1 49.8h1.1M393.2 49.8h1.1M392.1 44.9h1.1M401.7 39.4h1.1M394.3 47.0h1.1M397.2 36.1h1.1M403.8 43.2h1.1M392.8 50.6h1.1M396.5 39.7h1.1M395.5 40.7h1.1M408.1 40.8h1.1M403.8 38.9h1.1M406.4 49.2h1.1M404.3 51.7h1.1M401.0 32.1h1.1M392.6 39.2h1.1M404.2 43.2h1.1M401.2 43.7h1.1M397.8 42.1h1.1M396.5 42.5h1.1M403.5 51.1h1.1M407.6 41.8h1.1M397.2 40.3h1.1M404.6 44.7h1.1M399.9 46.2h1.1M405.0 49.3h1.1M396.0 49.8h1.1M393.5 49.2h1.1M414.6 48.0h1.1M399.9 51.0h1.1M399.3 43.3h1.1M397.0 41.8h1.1M400.5 38.9h1.1M406.3 44.4h1.1M393.0 38.6h1.1M399.4 40.8h1.1M408.1 37.1h1.1M399.8 41.9h1.1M398.8 45.9h1.1M403.0 39.6h1.1M396.7 44.6h1.1M399.4 39.8h1.1M397.2 45.3h1.1M396.2 42.2h1.1M398.3 33.0h1.1M399.9 44.1h1.1M399.2 43.0h1.1M407.8 31.9h1.1M394.1 38.9h1.1M395.3 39.8h1.1M392.4 40.6h1.1M402.4 38.9h1.1M403.4 47.0h1.1M404.3 43.8h1.1M403.3 27.7h1.1M403.4 39.3h1.1M403.4 49.8h1.1M399.4 37.1h1.1M403.2 35.6h1.1M399.9 42.2h1.1M405.8 33.3h1.1M400.8 52.4h1.1M398.9 52.6h1.1M405.0 33.9h1.1M402.8 44.4h1.1M395.9 41.3h1.1M402.6 40.8h1.1M404.5 50.3h1.1M399.1 42.2h1.1M403.2 41.6h1.1M409.7 48.0h1.1M400.9 40.3h1.1M411.9 42.2h1.1M406.7 32.0h1.1M392.7 47.3h1.1M406.1 34.8h1.1M400.4 30.6h1.1M409.1 36.6h1.1M401.8 46.8h1.1M399.3 42.5h1.1M397.4 52.8h1.1M406.1 41.5h1.1M397.1 42.2h1.1M396.9 49.6h1.1M402.2 37.2h1.1M402.0 46.7h1.1M400.0 44.3h1.1M400.2 52.3h1.1M399.7 37.1h1.1M404.8 46.6h1.1M398.0 49.6h1.1M403.0 38.6h1.1M394.9 51.1h1.1M405.1 36.1h1.1M393.3 52.7h1.1M415.0 48.5h1.1M399.4 40.6h1.1M404.6 50.6h1.1M402.1 41.5h1.1M393.4 32.1h1.1M402.3 40.2h1.1M409.8 48.1h1.1M400.0 53.1h1.1M405.0 41.0h1.1M400.2 38.9h1.1M396.9 42.3h1.1M397.6 40.4h1.1M398.7 43.0h1.1M407.4 41.4h1.1M397.7 45.6h1.1M401.1 36.5h1.1M398.3 41.8h1.1M395.7 46.8h1.1M401.8 39.5h1.1M406.3 44.4h1.1M400.1 43.9h1.1M404.7 46.2h1.1M395.9 44.3h1.1M399.3 40.8h1.1M398.0 48.3h1.1M400.3 56.1h1.1M396.5 47.3h1.1M406.2 40.5h1.1M400.4 48.4h1.1M410.2 41.9h1.1M399.0 44.3h1.1M403.9 40.4h1.1M404.8 45.1h1.1M400.2 37.4h1.1M404.0 30.8h1.1M394.4 32.9h1.1M397.8 41.3h1.1M397.9 38.8h1.1M404.0 32.0h1.1M406.7 44.5h1.1M393.1 32.6h1.1M403.1 43.9h1.1M400.3 35.3h1.1M409.9 47.0h1.1M402.9 45.0h1.1M398.8 41.0h1.1M400.2 38.0h1.1M401.9 35.7h1.1M399.4 51.7h1.1M408.3 37.9h1.1M404.7 45.6h1.1M405.3 44.8h1.1M398.4 48.7h1.1M405.9 36.1h1.1M400.3 40.7h1.1M394.0 42.9h1.1M398.0 31.7h1.1M410.8 42.9h1.1M399.1 43.6h1.1M394.8 38.0h1.1M409.5 40.1h1.1M404.9 38.4h1.1M396.4 49.4h1.1M404.9 35.8h1.1M397.3 40.3h1.1M398.8 35.4h1.1M398.7 36.7h1.1M403.9 43.4h1.1M397.1 40.8h1.1M397.2 47.2h1.1M402.6 45.8h1.1M399.3 40.1h1.1M392.0 48.5h1.1M408.5 42.4h1.1M398.9 38.5h1.1M404.5 42.8h1.1M395.9 49.3h1.1M402.7 43.9h1.1M399.5 41.0h1.1M395.3 39.6h1.1M396.9 47.1h1.1M394.5 50.3h1.1M406.0 39.0h1.1M395.5 33.2h1.1M404.6 46.2h1.1M408.9 43.9h1.1M402.1 40.7h1.1M392.9 45.9h1.1M398.0 42.1h1.1M395.5 45.0h1.1M405.9 45.5h1.1M394.5 43.7h1.1M401.9 47.8h1.1M405.9 47.7h1.1M396.7 52.6h1.1M399.9 46.0h1.1M403.2 50.2h1.1M405.8 33.6h1.1M391.9 41.7h1.1M395.5 47.5h1.1M408.3 49.4h1.1M394.1 45.2h1.1M405.1 46.2h1.1M405.1 56.6h1.1M404.4 44.6h1.1M403.0 44.1h1.1M397.7 42.4h1.1M394.8 37.2h1.1M400.3 37.7h1.1M396.5 38.9h1.1M393.5 28.1h1.1M403.4 49.6h1.1M401.0 38.7h1.1M406.1 44.4h1.1M392.2 42.0h1.1M400.1 37.7h1.1M402.8 34.7h1.1M399.9 46.2h1.1M404.6 37.9h1.1M393.4 41.3h1.1M399.8 41.3h1.1M398.0 36.4h1.1M404.9 46.4h1.1M403.7 41.3h1.1M396.4 39.6h1.1M400.7 35.0h1.1M401.7 44.6h1.1M396.3 47.1h1.1M403.7 30.5h1.1M397.5 41.7h1.1M405.0 45.1h1.1M398.9 49.9h1.1M400.2 44.0h1.1M402.4 48.3h1.1M401.6 49.8h1.1M400.9 41.9h1.1M396.0 42.6h1.1M396.5 45.1h1.1M400.0 38.4h1.1M403.5 42.1h1.1M397.6 49.6h1.1M402.2 44.7h1.1M395.6 49.1h1.1M403.0 36.2h1.1M398.2 49.0h1.1M405.0 41.9h1.1M400.9 43.4h1.1M407.7 39.5h1.1M400.4 47.5h1.1M401.1 47.9h1.1M400.0 41.1h1.1M396.0 42.0h1.1M392.6 36.2h1.1M400.3 37.6h1.1M400.5 41.9h1.1M398.9 45.3h1.1M397.2 36.9h1.1M398.3 41.4h1.1M407.1 47.7h1.1M392.4 33.0h1.1M392.9 45.3h1.1M398.0 48.3h1.1M401.0 37.5h1.1M397.5 43.4h1.1M406.1 41.0h1.1M396.5 43.0h1.1M395.4 45.1h1.1M401.8 47.0h1.1M394.9 48.4h1.1M415.4 49.8h1.1M400.2 41.8h1.1M411.0 45.2h1.1M401.8 42.1h1.1M393.3 54.8h1.1M397.8 50.8h1.1M399.9 42.0h1.1M394.9 43.1h1.1M400.8 40.6h1.1M399.2 41.4h1.1M394.9 38.7h1.1M414.4 35.7h1.1M403.5 35.2h1.1M394.5 47.3h1.1M407.8 41.3h1.1M404.0 47.7h1.1M397.4 47.2h1.1M397.2 35.7h1.1M392.3 42.7h1.1M400.1 44.7h1.1M393.5 45.0h1.1M399.0 37.2h1.1M392.6 53.8h1.1M403.0 40.5h1.1M402.9 38.7h1.1M409.1 45.4h1.1M398.3 43.1h1.1M393.1 47.5h1.1M400.6 50.1h1.1M400.9 50.1h1.1M408.4 43.0h1.1M401.3 47.4h1.1M402.3 42.0h1.1M412.8 48.7h1.1M402.5 36.2h1.1M393.7 41.5h1.1M393.5 34.9h1.1M403.2 46.2h1.1M396.5 42.4h1.1M406.0 47.2h1.1M409.9 41.5h1.1M397.7 46.8h1.1M410.0 41.7h1.1M397.9 41.2h1.1M406.0 48.8h1.1M394.3 48.1h1.1M404.1 49.3h1.1M397.1 42.2h1.1M402.7 45.3h1.1M394.4 46.5h1.1M403.2 41.3h1.1M402.1 48.5h1.1M399.9 43.0h1.1M394.1 42.2h1.1M395.9 37.4h1.1M405.1 45.0h1.1M401.6 43.6h1.1M407.4 33.6h1.1M408.4 40.2h1.1M394.8 38.4h1.1M395.0 41.8h1.1M404.1 38.3h1.1M404.3 39.9h1.1M399.8 49.9h1.1M397.9 36.7h1.1M400.2 44.6h1.1M397.8 40.4h1.1M403.3 37.7h1.1M399.0 38.3h1.1M403.2 40.3h1.1M401.8 42.3h1.1M399.4 38.1h1.1M406.8 39.8h1.1M399.1 35.9h1.1M400.2 38.2h1.1M393.9 47.8h1.1M404.0 44.0h1.1M400.9 45.5h1.1M399.7 43.6h1.1M394.3 40.5h1.1M398.9 29.2h1.1M393.1 38.1h1.1M411.0 34.3h1.1M394.3 45.0h1.1M399.5 51.1h1.1M399.7 47.0h1.1M398.8 42.8h1.1M399.9 42.2h1.1M407.7 50.8h1.1M399.9 41.4h1.1M400.8 47.7h1.1M403.8 42.9h1.1M418.3 51.8h1.1M439.7 42.0h1.1M431.8 46.3h1.1M441.0 40.4h1.1M430.9 40.7h1.1M442.8 38.4h1.1M426.2 46.0h1.1M433.3 41.1h1.1M435.1 42.0h1.1M428.9 43.1h1.1M433.1 42.0h1.1M432.5 41.9h1.1M432.3 37.8h1.1M441.7 43.8h1.1M431.5 43.6h1.1M442.4 41.7h1.1M419.8 44.5h1.1M414.3 43.2h1.1M438.9 36.4h1.1M417.5 42.1h1.1M432.7 48.4h1.1M427.0 41.8h1.1M421.2 50.6h1.1M428.0 43.6h1.1M436.3 40.2h1.1M422.3 41.0h1.1M428.7 45.0h1.1M436.2 38.9h1.1M425.6 37.1h1.1M430.2 49.6h1.1M432.0 40.2h1.1M440.2 41.9h1.1M438.1 46.4h1.1M420.0 43.3h1.1M427.9 46.5h1.1M428.3 42.4h1.1M414.0 42.1h1.1M424.1 38.7h1.1M429.9 40.6h1.1M430.8 44.9h1.1M431.9 41.5h1.1M430.7 37.4h1.1M425.8 40.1h1.1M442.0 35.3h1.1M426.4 44.1h1.1M425.7 44.6h1.1M421.0 46.6h1.1M429.2 33.6h1.1M417.9 38.6h1.1M426.8 40.7h1.1M431.5 43.7h1.1M433.4 42.8h1.1M422.1 37.2h1.1M420.2 44.3h1.1M421.1 38.3h1.1M422.6 44.1h1.1M419.0 42.4h1.1M434.4 44.0h1.1M416.3 43.4h1.1M425.9 51.3h1.1M426.3 36.9h1.1M424.2 42.3h1.1M425.7 44.8h1.1M425.9 42.3h1.1M453.8 39.8h1.1M434.9 41.0h1.1M411.8 50.3h1.1M425.8 44.7h1.1M418.5 43.6h1.1M436.1 36.6h1.1M443.2 43.3h1.1M431.4 40.3h1.1M434.6 33.4h1.1M436.9 33.3h1.1M425.7 47.1h1.1M430.2 34.5h1.1M416.0 38.8h1.1M424.4 39.2h1.1M435.6 39.4h1.1M442.2 44.8h1.1M420.4 47.6h1.1M437.8 36.1h1.1M425.9 39.0h1.1M421.4 42.5h1.1M430.6 38.4h1.1M417.3 45.7h1.1M439.0 44.5h1.1M418.1 41.3h1.1M426.0 39.5h1.1M436.0 37.3h1.1M426.7 43.3h1.1M429.4 42.5h1.1M428.0 43.7h1.1M431.1 41.6h1.1M433.0 42.6h1.1M434.1 42.7h1.1M432.2 42.5h1.1M422.3 40.8h1.1M426.2 39.6h1.1M424.9 39.7h1.1M423.8 43.6h1.1M451.5 45.6h1.1M428.7 41.9h1.1M426.7 41.1h1.1M433.1 42.7h1.1M431.2 44.8h1.1M425.9 44.8h1.1M429.4 38.0h1.1M437.4 37.0h1.1M434.1 38.3h1.1M424.3 46.5h1.1M431.7 41.2h1.1M422.1 36.3h1.1M425.0 41.6h1.1M435.2 40.7h1.1M435.7 38.7h1.1M435.8 43.8h1.1M427.4 44.9h1.1M440.2 35.0h1.1M418.8 40.6h1.1M424.1 38.8h1.1M429.1 36.6h1.1M441.8 39.5h1.1M430.1 40.8h1.1M424.6 42.7h1.1M427.9 43.2h1.1M433.7 37.9h1.1M415.5 41.1h1.1M429.5 34.1h1.1M432.0 41.6h1.1M419.2 43.8h1.1M435.4 40.4h1.1M432.5 43.3h1.1M437.8 44.8h1.1M423.3 41.6h1.1M428.5 38.0h1.1M429.8 42.9h1.1M430.1 34.6h1.1M422.9 33.4h1.1M429.4 41.5h1.1M434.9 44.1h1.1M421.9 42.3h1.1M430.3 44.3h1.1M437.0 39.8h1.1M418.5 46.0h1.1M426.3 35.4h1.1M429.6 38.4h1.1M429.6 46.0h1.1M427.9 38.9h1.1M431.6 40.2h1.1M430.0 45.2h1.1M430.7 43.2h1.1M428.4 42.2h1.1M420.9 40.0h1.1M436.8 45.3h1.1M421.2 45.2h1.1M434.7 37.9h1.1M434.1 43.0h1.1M438.3 46.7h1.1M429.1 43.0h1.1M422.5 43.6h1.1M428.9 40.9h1.1M430.2 44.7h1.1M435.9 43.5h1.1M441.0 34.8h1.1M427.7 41.5h1.1M425.8 40.5h1.1M418.6 41.9h1.1M437.4 38.9h1.1M428.8 43.2h1.1M428.3 38.2h1.1M425.8 46.4h1.1M423.4 38.0h1.1M442.7 40.3h1.1M420.0 36.5h1.1M422.8 37.7h1.1M428.3 45.1h1.1M434.3 39.6h1.1M433.3 39.5h1.1M410.8 46.8h1.1M422.6 39.1h1.1M436.0 40.9h1.1M435.6 44.2h1.1M434.3 40.5h1.1M443.2 36.0h1.1M436.7 47.4h1.1M427.3 39.7h1.1M435.5 44.8h1.1M432.6 38.8h1.1M429.3 36.3h1.1M437.4 73.0h1.1M428.2 71.1h1.1M427.4 69.2h1.1M430.7 68.2h1.1M450.9 67.8h1.1M437.0 65.7h1.1M431.5 68.8h1.1M423.5 71.9h1.1M435.2 73.7h1.1M432.6 65.3h1.1M435.5 70.0h1.1M443.0 60.4h1.1M428.4 69.3h1.1M437.2 64.7h1.1M437.7 70.0h1.1M414.0 65.2h1.1M423.4 70.6h1.1M426.2 68.6h1.1M424.0 70.7h1.1M435.6 75.2h1.1M418.8 66.3h1.1M425.2 67.3h1.1M428.5 71.2h1.1M425.0 66.6h1.1M438.7 73.9h1.1M443.1 76.3h1.1M424.1 73.8h1.1M434.8 68.6h1.1M434.1 66.6h1.1M421.4 68.0h1.1M418.5 67.5h1.1M430.1 65.3h1.1M424.1 61.8h1.1M421.0 68.7h1.1M424.7 69.4h1.1M424.8 67.1h1.1M417.4 75.0h1.1M427.7 72.1h1.1M423.8 64.7h1.1M431.5 67.4h1.1M429.0 71.2h1.1M433.9 71.8h1.1M430.9 62.0h1.1M433.1 74.4h1.1M432.4 72.7h1.1M433.1 70.9h1.1M433.9 63.5h1.1M413.9 69.2h1.1M434.0 70.9h1.1M427.5 67.2h1.1M421.9 70.2h1.1M432.0 71.6h1.1M428.7 73.5h1.1M424.2 73.0h1.1M423.7 74.1h1.1M436.7 65.4h1.1M433.5 65.4h1.1M442.9 72.9h1.1M430.2 70.3h1.1M429.2 67.3h1.1M421.5 68.7h1.1M437.0 70.2h1.1M437.9 72.7h1.1M433.5 65.7h1.1M422.4 67.6h1.1M413.4 63.3h1.1M430.2 73.9h1.1M445.7 69.6h1.1M436.6 70.3h1.1M423.1 72.4h1.1M429.3 71.2h1.1M415.9 67.8h1.1M436.8 68.2h1.1M429.5 72.2h1.1M440.4 74.0h1.1M430.6 67.0h1.1M436.7 66.6h1.1M420.6 66.0h1.1M429.3 66.4h1.1M423.6 72.6h1.1M421.2 64.6h1.1M430.1 71.3h1.1M425.8 65.4h1.1M447.6 67.5h1.1M449.4 66.3h1.1M439.2 64.6h1.1M441.8 71.0h1.1M431.7 67.0h1.1M441.5 74.0h1.1M430.4 69.9h1.1M425.1 71.6h1.1M427.8 71.2h1.1M415.6 70.8h1.1M437.5 69.8h1.1M441.8 66.4h1.1M438.7 69.7h1.1M430.8 70.9h1.1M440.2 62.8h1.1M430.6 68.9h1.1M436.0 69.3h1.1M426.8 70.2h1.1M436.4 66.8h1.1M431.5 68.8h1.1M425.9 69.3h1.1M444.8 67.5h1.1M434.5 71.2h1.1M439.1 68.1h1.1M421.1 71.9h1.1M415.3 70.2h1.1M437.4 71.5h1.1M430.8 68.4h1.1M426.5 72.5h1.1M417.9 64.9h1.1M426.3 68.5h1.1M433.8 68.2h1.1M430.6 67.2h1.1M437.9 72.3h1.1M417.8 73.1h1.1M432.6 69.6h1.1M436.3 70.9h1.1M431.5 70.8h1.1M417.0 70.7h1.1M431.2 65.3h1.1M426.0 71.3h1.1M426.7 65.6h1.1M428.3 67.2h1.1M430.9 73.5h1.1M445.0 69.2h1.1M433.6 65.6h1.1M435.1 71.0h1.1M425.4 71.7h1.1M425.5 69.7h1.1M432.0 69.5h1.1M432.4 70.8h1.1M425.7 69.9h1.1M435.2 72.8h1.1M423.8 67.7h1.1M426.8 64.5h1.1M433.2 76.0h1.1M425.6 68.0h1.1M427.0 68.9h1.1M423.8 76.1h1.1M422.5 71.6h1.1M437.1 69.7h1.1M440.6 63.1h1.1M408.5 71.6h1.1M432.9 68.7h1.1M431.7 66.4h1.1M422.6 66.4h1.1M430.2 71.3h1.1M444.2 68.3h1.1M417.7 72.5h1.1M427.0 65.5h1.1M435.0 62.4h1.1M420.5 75.8h1.1M426.1 70.9h1.1M439.5 64.7h1.1M431.0 73.3h1.1M436.3 74.2h1.1M448.2 76.5h1.1M435.1 66.9h1.1M436.2 66.8h1.1M416.7 63.9h1.1M430.2 69.0h1.1M425.8 73.2h1.1M428.9 66.4h1.1M429.8 69.0h1.1M434.3 69.0h1.1M436.5 67.6h1.1M428.9 71.2h1.1M424.2 69.9h1.1M431.2 72.9h1.1M411.9 73.8h1.1M427.4 69.4h1.1M440.2 71.0h1.1M419.6 68.1h1.1M435.3 68.1h1.1M432.6 72.3h1.1M444.3 66.7h1.1M418.1 66.5h1.1M426.5 72.7h1.1M431.7 73.8h1.1M431.3 64.3h1.1M432.7 66.8h1.1M432.2 63.3h1.1M435.5 65.4h1.1M426.8 72.3h1.1M428.1 65.9h1.1M440.6 68.0h1.1M437.0 68.8h1.1M416.6 68.4h1.1M432.7 68.6h1.1M442.0 63.0h1.1M424.5 71.4h1.1M438.1 72.3h1.1M422.8 70.4h1.1M433.6 75.7h1.1M445.7 70.9h1.1M434.5 71.9h1.1M429.1 70.2h1.1M432.6 69.7h1.1M434.8 69.2h1.1M425.7 73.3h1.1M436.7 66.5h1.1M434.2 66.0h1.1M432.2 66.6h1.1M425.4 70.7h1.1M423.2 71.9h1.1M441.6 68.3h1.1M424.3 70.6h1.1M428.1 63.7h1.1M445.7 67.4h1.1M443.3 72.4h1.1M434.8 70.6h1.1M427.5 71.5h1.1M425.5 70.6h1.1M423.5 69.3h1.1M408.8 67.2h1.1M432.5 69.5h1.1M432.1 71.1h1.1M442.5 67.3h1.1M403.4 71.0h1.1M431.4 69.2h1.1M435.1 74.9h1.1M432.0 65.8h1.1M435.2 66.6h1.1M418.7 65.3h1.1M429.8 64.2h1.1M427.0 70.8h1.1M413.1 73.6h1.1M444.4 68.6h1.1M429.1 68.2h1.1M408.1 69.8h1.1M418.7 68.6h1.1M421.9 65.9h1.1M424.4 65.4h1.1M413.6 73.4h1.1M421.7 72.4h1.1M435.2 68.0h1.1M430.1 69.3h1.1M433.4 70.6h1.1M427.7 69.0h1.1M437.2 66.2h1.1M417.5 61.5h1.1M427.1 72.6h1.1M444.9 67.0h1.1M430.9 66.0h1.1M430.5 68.5h1.1M436.3 72.0h1.1M432.8 69.4h1.1M436.1 68.4h1.1M439.1 74.4h1.1M435.8 75.3h1.1M425.2 70.9h1.1M431.6 66.5h1.1M432.1 68.6h1.1M433.1 69.7h1.1M434.8 68.0h1.1M429.7 72.4h1.1M391.9 54.4h1.1M401.3 56.5h1.1M411.5 53.7h1.1M405.8 57.4h1.1M399.9 57.3h1.1M404.1 50.0h1.1M395.4 55.8h1.1M415.0 49.5h1.1M394.7 55.9h1.1M411.4 50.6h1.1M400.4 54.4h1.1M405.1 52.8h1.1M405.1 57.3h1.1M412.7 51.8h1.1M414.7 51.8h1.1M399.0 53.1h1.1M411.5 49.8h1.1M413.2 56.1h1.1M402.9 53.1h1.1M409.2 56.1h1.1M405.7 49.8h1.1M402.1 52.0h1.1M402.4 56.9h1.1M395.6 57.5h1.1M400.7 55.4h1.1M407.5 55.9h1.1M409.3 51.4h1.1M406.9 52.5h1.1M414.3 50.4h1.1M393.4 50.5h1.1M392.1 50.3h1.1M401.1 54.4h1.1M402.0 49.9h1.1M394.3 49.6h1.1M405.9 51.8h1.1M404.3 52.2h1.1M412.0 53.3h1.1M396.6 56.1h1.1M402.9 54.5h1.1M413.3 50.0h1.1M399.5 52.3h1.1M398.3 49.7h1.1M399.9 55.7h1.1M414.7 56.6h1.1M412.1 51.0h1.1M392.7 54.4h1.1M414.5 49.7h1.1M402.1 52.5h1.1M410.0 56.1h1.1M409.5 56.1h1.1M411.6 52.1h1.1M392.2 56.4h1.1M412.7 49.5h1.1M404.7 51.9h1.1M408.3 53.5h1.1M411.6 56.3h1.1M396.0 54.5h1.1M394.9 50.3h1.1M407.8 52.9h1.1M412.6 57.1h1.1M410.8 53.4h1.1M394.6 52.1h1.1M410.3 49.7h1.1M414.1 49.4h1.1M414.5 52.0h1.1M397.5 57.2h1.1M402.7 53.3h1.1M413.4 57.7h1.1M409.3 50.0h1.1M410.0 47.5h1.1M413.4 52.8h1.1M416.7 49.7h1.1M417.9 44.1h1.1M412.3 33.5h1.1M413.5 52.1h1.1M409.3 39.5h1.1M419.7 41.6h1.1M419.4 51.4h1.1M411.1 38.8h1.1M417.7 51.1h1.1M412.1 45.9h1.1M416.5 50.1h1.1M417.9 43.0h1.1M419.0 49.2h1.1M415.2 58.4h1.1M415.3 46.1h1.1M409.5 33.2h1.1M418.6 46.0h1.1M413.1 36.2h1.1M410.8 42.5h1.1M414.1 49.8h1.1M410.5 37.7h1.1M413.0 33.6h1.1M410.6 33.4h1.1M403.9 30.2h1.1M446.5 46.5h1.1M456.7 63.4h1.1M441.1 54.5h1.1M434.9 57.5h1.1" stroke="#000" stroke-width="1.1" fill="none"/>
<path d="M413.4 10.8V77.6M391.1 56.7H466.6" stroke="#444" stroke-width=".75" fill="none"/>
<rect x="391.1" y="10.8" width="75.5" height="66.8" fill="none" stroke="#000" stroke-width="1.25"/>
<path d="M391.1 77.6v3.4M391.1 77.6h-3.4M396.8 77.6v1.9M391.1 72.6h-1.9M400.1 77.6v1.9M391.1 69.6h-1.9M402.5 77.6v1.9M391.1 67.5h-1.9M404.3 77.6v1.9M391.1 65.9h-1.9M405.8 77.6v1.9M391.1 64.6h-1.9M407.1 77.6v1.9M391.1 63.5h-1.9M408.1 77.6v1.9M391.1 62.5h-1.9M409.1 77.6v1.9M391.1 61.7h-1.9M410.0 77.6v3.4M391.1 60.9h-3.4M415.7 77.6v1.9M391.1 55.9h-1.9M419.0 77.6v1.9M391.1 52.9h-1.9M421.3 77.6v1.9M391.1 50.8h-1.9M423.2 77.6v1.9M391.1 49.2h-1.9M424.7 77.6v1.9M391.1 47.9h-1.9M425.9 77.6v1.9M391.1 46.8h-1.9M427.0 77.6v1.9M391.1 45.8h-1.9M428.0 77.6v1.9M391.1 45.0h-1.9M428.9 77.6v3.4M391.1 44.2h-3.4M434.5 77.6v1.9M391.1 39.2h-1.9M437.9 77.6v1.9M391.1 36.2h-1.9M440.2 77.6v1.9M391.1 34.1h-1.9M442.0 77.6v1.9M391.1 32.5h-1.9M443.5 77.6v1.9M391.1 31.2h-1.9M444.8 77.6v1.9M391.1 30.1h-1.9M445.9 77.6v1.9M391.1 29.1h-1.9M446.9 77.6v1.9M391.1 28.3h-1.9M447.7 77.6v3.4M391.1 27.5h-3.4M453.4 77.6v1.9M391.1 22.5h-1.9M456.7 77.6v1.9M391.1 19.5h-1.9M459.1 77.6v1.9M391.1 17.4h-1.9M460.9 77.6v1.9M391.1 15.8h-1.9M462.4 77.6v1.9M391.1 14.5h-1.9M463.7 77.6v1.9M391.1 13.4h-1.9M464.8 77.6v1.9M391.1 12.4h-1.9M465.7 77.6v1.9M391.1 11.6h-1.9M466.6 77.6v3.4M391.1 10.8h-3.4" stroke="#000" stroke-width="1" fill="none"/>
<text x="390.9" y="91.0" font-size="7.6" text-anchor="middle" stroke="#000" stroke-width=".2">10<tspan dy="-3.9" font-size="7">0</tspan></text>
<text transform="translate(385.8 78.0) rotate(-90)" font-size="7.6" text-anchor="middle" stroke="#000" stroke-width=".2">10<tspan dy="-3.9" font-size="7">0</tspan></text>
<text x="409.3" y="91.0" font-size="7.6" text-anchor="middle" stroke="#000" stroke-width=".2">10<tspan dy="-3.9" font-size="7">1</tspan></text>
<text transform="translate(385.8 61.9) rotate(-90)" font-size="7.6" text-anchor="middle" stroke="#000" stroke-width=".2">10<tspan dy="-3.9" font-size="7">1</tspan></text>
<text x="427.7" y="91.0" font-size="7.6" text-anchor="middle" stroke="#000" stroke-width=".2">10<tspan dy="-3.9" font-size="7">2</tspan></text>
<text transform="translate(385.8 45.8) rotate(-90)" font-size="7.6" text-anchor="middle" stroke="#000" stroke-width=".2">10<tspan dy="-3.9" font-size="7">2</tspan></text>
<text x="446.1" y="91.0" font-size="7.6" text-anchor="middle" stroke="#000" stroke-width=".2">10<tspan dy="-3.9" font-size="7">3</tspan></text>
<text transform="translate(385.8 29.7) rotate(-90)" font-size="7.6" text-anchor="middle" stroke="#000" stroke-width=".2">10<tspan dy="-3.9" font-size="7">3</tspan></text>
<text x="464.5" y="91.0" font-size="7.6" text-anchor="middle" stroke="#000" stroke-width=".2">10<tspan dy="-3.9" font-size="7">4</tspan></text>
<text transform="translate(385.8 13.5) rotate(-90)" font-size="7.6" text-anchor="middle" stroke="#000" stroke-width=".2">10<tspan dy="-3.9" font-size="7">4</tspan></text>
<text x="428.9" y="100.2" font-size="7.8" stroke="#000" stroke-width=".25">EGFP</text>
<text x="429.1" y="7.3" font-size="8.1" stroke="#000" stroke-width=".25">no.2 CD19 BM.010</text>
<text transform="translate(375.7 44.8) rotate(-90)" font-size="8.3" stroke="#000" stroke-width=".25">CD19 PE</text>
<text x="469.0" y="18.5" font-size="8.7" text-anchor="end" stroke="#000" stroke-width=".25">20%</text>
<path d="M89.1 178.3L89.1 177.0L89.1 175.7L89.1 174.4L89.1 173.1L89.1 171.8L89.1 170.5L89.1 169.2L89.1 167.9L89.1 166.6L89.1 165.3L89.1 164.0L89.1 162.7L89.1 161.4L89.1 160.1L90.5 159.1L91.9 157.3L93.0 157.3L93.9 156.6L95.1 155.8L96.6 155.3L98.7 154.7L99.2 155.1L100.7 153.6L102.3 154.5L103.3 154.1L105.3 154.1L106.8 153.3L108.2 153.1L110.2 153.7L110.7 154.6L111.8 155.5L113.7 156.5L114.4 157.9L113.9 160.6L114.8 161.3L116.0 163.3L115.3 164.4L115.0 166.3L114.8 167.3L114.9 168.6L114.5 170.3L114.1 172.0L114.3 172.5L114.1 174.0L113.2 175.1L113.5 177.6L112.8 178.3L111.5 178.3L110.2 178.3L108.9 178.3L107.6 178.3L106.2 178.3L104.9 178.3L103.6 178.3L102.3 178.3L101.0 178.3L99.7 178.3L98.3 178.3L97.0 178.3L95.7 178.3L94.4 178.3L93.1 178.3L91.7 178.3L90.4 178.3Z" fill="#000"/>
<path d="M117.2 132.4L118.6 131.2L120.4 130.3L120.8 129.4L122.0 128.1L122.9 127.8L123.1 128.1L125.7 127.2L126.3 126.7L128.1 126.4L128.4 126.7L130.5 126.4L132.0 125.9L132.2 125.0L134.1 124.9L135.3 123.6L136.5 123.3L137.7 123.5L139.8 122.2L141.5 123.3L141.8 123.4L143.6 123.5L145.4 123.4L145.6 124.7L144.6 125.2L144.2 127.0L142.0 128.1L140.5 128.7L138.5 129.9L138.3 130.0L137.9 132.2L136.7 133.4L135.7 134.5L134.7 135.7L135.0 136.1L133.8 136.6L132.3 138.3L131.1 139.9L130.7 139.4L128.4 139.8L126.3 139.1L126.1 139.6L124.3 139.1L122.9 139.2L122.0 138.2L120.5 138.3L119.6 137.8L118.6 136.9L118.4 135.2L118.7 134.3Z" fill="#000"/>
<path d="M94.1 159.4h1.1M90.0 159.2h1.1M92.8 160.0h1.1M93.2 159.3h1.1M90.4 158.3h1.1M90.7 155.0h1.1M93.5 158.2h1.1M92.0 160.1h1.1M94.7 159.5h1.1M92.9 158.7h1.1M93.5 155.4h1.1M94.2 158.4h1.1M95.9 159.3h1.1M92.8 155.6h1.1M95.1 156.0h1.1M94.3 157.8h1.1M94.5 154.8h1.1M97.0 157.2h1.1M97.0 155.2h1.1M94.1 154.9h1.1M92.5 156.1h1.1M96.1 156.9h1.1M97.2 156.7h1.1M95.7 154.6h1.1M96.3 154.8h1.1M96.4 156.5h1.1M99.8 156.6h1.1M97.9 157.6h1.1M96.5 156.5h1.1M94.5 154.4h1.1M97.1 153.7h1.1M101.0 154.8h1.1M98.7 155.1h1.1M99.6 153.7h1.1M99.8 151.2h1.1M98.6 153.7h1.1M102.3 153.1h1.1M102.2 153.6h1.1M99.8 154.8h1.1M102.1 153.7h1.1M100.1 156.1h1.1M101.0 154.5h1.1M102.4 156.7h1.1M100.7 154.1h1.1M104.8 151.0h1.1M104.4 154.6h1.1M105.4 152.2h1.1M103.5 155.5h1.1M102.9 154.7h1.1M105.9 152.3h1.1M106.2 155.5h1.1M108.0 154.6h1.1M107.1 154.3h1.1M107.2 153.3h1.1M108.9 152.3h1.1M109.8 154.4h1.1M109.9 154.1h1.1M110.3 152.5h1.1M108.1 153.1h1.1M111.0 153.2h1.1M109.4 157.2h1.1M113.4 155.6h1.1M110.9 153.2h1.1M107.8 155.7h1.1M108.7 153.8h1.1M111.7 158.4h1.1M108.9 155.0h1.1M108.4 157.6h1.1M110.0 155.6h1.1M111.8 160.3h1.1M109.2 156.8h1.1M113.5 156.3h1.1M112.7 153.8h1.1M113.7 155.7h1.1M111.3 156.8h1.1M116.7 154.9h1.1M109.8 154.7h1.1M112.7 158.5h1.1M114.6 156.8h1.1M111.4 155.9h1.1M114.9 158.6h1.1M114.8 158.6h1.1M112.5 158.3h1.1M115.7 160.2h1.1M117.4 157.6h1.1M117.4 158.1h1.1M114.4 160.1h1.1M114.5 160.0h1.1M114.4 161.8h1.1M112.9 162.8h1.1M114.7 161.2h1.1M112.6 162.7h1.1M115.7 162.8h1.1M116.7 163.4h1.1M116.0 160.0h1.1M116.6 164.0h1.1M113.9 163.8h1.1M115.3 163.3h1.1M118.5 164.4h1.1M114.5 165.0h1.1M115.5 164.2h1.1M115.9 166.2h1.1M114.5 165.8h1.1M116.5 166.1h1.1M116.0 166.4h1.1M111.3 170.0h1.1M116.6 165.8h1.1M115.1 165.5h1.1M113.8 166.2h1.1M115.3 168.4h1.1M116.1 168.9h1.1M114.7 167.5h1.1M116.7 168.3h1.1M117.0 169.9h1.1M113.5 168.0h1.1M112.0 167.7h1.1M117.2 171.6h1.1M115.5 171.8h1.1M115.9 167.8h1.1M112.4 172.0h1.1M117.6 170.4h1.1M113.3 171.7h1.1M116.4 175.5h1.1M115.6 172.7h1.1M113.0 170.0h1.1M111.8 173.9h1.1M117.4 173.3h1.1M115.4 171.6h1.1M111.5 176.1h1.1M114.9 174.2h1.1M116.2 173.6h1.1M115.7 176.7h1.1M114.0 176.9h1.1M115.3 176.6h1.1M112.3 175.6h1.1M115.0 175.8h1.1M116.8 132.4h1.1M117.0 133.1h1.1M114.7 130.5h1.1M119.3 132.2h1.1M117.1 130.9h1.1M117.0 132.9h1.1M118.7 130.4h1.1M120.5 131.6h1.1M120.5 129.3h1.1M119.4 130.9h1.1M120.1 131.3h1.1M118.4 127.8h1.1M122.3 128.7h1.1M125.3 130.0h1.1M123.2 126.2h1.1M123.1 126.8h1.1M124.0 127.2h1.1M122.6 128.1h1.1M123.4 127.8h1.1M127.4 127.4h1.1M126.1 126.3h1.1M127.0 124.8h1.1M125.9 127.4h1.1M127.0 126.4h1.1M127.7 127.0h1.1M126.4 125.6h1.1M128.9 127.2h1.1M129.1 127.8h1.1M128.4 126.3h1.1M131.8 125.1h1.1M130.4 125.1h1.1M130.9 125.9h1.1M129.3 126.0h1.1M131.1 124.2h1.1M133.6 124.6h1.1M131.6 124.1h1.1M133.5 122.9h1.1M135.0 126.5h1.1M133.3 125.4h1.1M137.1 124.4h1.1M134.0 123.5h1.1M134.1 122.6h1.1M135.3 124.2h1.1M136.3 124.7h1.1M137.0 123.4h1.1M135.9 125.0h1.1M136.9 124.7h1.1M137.6 124.5h1.1M137.3 122.9h1.1M139.6 124.6h1.1M137.0 122.2h1.1M140.4 125.0h1.1M140.0 123.4h1.1M139.5 125.0h1.1M142.6 121.1h1.1M142.6 122.6h1.1M140.5 122.7h1.1M143.3 123.2h1.1M142.7 121.1h1.1M145.2 125.0h1.1M145.4 121.8h1.1M144.5 123.5h1.1M146.3 122.4h1.1M146.1 123.1h1.1M148.1 124.8h1.1M146.4 123.1h1.1M145.6 125.6h1.1M145.5 126.7h1.1M146.6 124.3h1.1M142.1 126.2h1.1M141.1 127.2h1.1M145.0 128.4h1.1M142.2 128.0h1.1M142.2 127.4h1.1M141.5 127.3h1.1M140.7 127.3h1.1M141.8 127.2h1.1M141.3 126.9h1.1M137.3 128.9h1.1M140.6 128.9h1.1M137.8 129.1h1.1M138.7 131.1h1.1M140.5 131.1h1.1M136.7 130.9h1.1M138.7 131.9h1.1M137.7 133.1h1.1M140.2 132.9h1.1M135.6 132.2h1.1M137.5 133.4h1.1M135.2 134.1h1.1M133.4 134.0h1.1M137.0 135.8h1.1M135.8 134.7h1.1M134.5 135.0h1.1M134.9 136.1h1.1M135.1 132.8h1.1M137.5 135.8h1.1M132.8 137.6h1.1M132.6 134.0h1.1M135.7 137.5h1.1M133.5 136.7h1.1M131.4 137.8h1.1M132.3 138.2h1.1M134.8 137.2h1.1M129.2 139.2h1.1M128.9 140.3h1.1M133.0 137.7h1.1M131.6 139.6h1.1M128.9 140.7h1.1M130.0 141.4h1.1M128.4 137.9h1.1M129.5 139.8h1.1M127.9 140.1h1.1M127.3 139.9h1.1M126.6 139.5h1.1M127.3 140.9h1.1M126.5 139.9h1.1M124.5 138.0h1.1M124.4 139.3h1.1M125.5 140.4h1.1M122.1 140.3h1.1M122.6 143.0h1.1M123.3 138.4h1.1M123.9 137.6h1.1M121.9 139.5h1.1M123.4 138.3h1.1M117.7 136.9h1.1M120.2 139.0h1.1M119.3 136.8h1.1M120.7 135.7h1.1M119.7 138.1h1.1M120.3 140.4h1.1M119.1 137.3h1.1M121.0 136.8h1.1M118.3 135.7h1.1M117.6 133.8h1.1M119.8 136.1h1.1M118.8 134.1h1.1M119.8 132.9h1.1M119.8 133.2h1.1M128.6 144.7h1.1M125.4 135.4h1.1M132.7 138.6h1.1M118.8 144.7h1.1M124.2 142.8h1.1M128.0 136.8h1.1M129.1 134.5h1.1M135.3 135.9h1.1M128.8 149.0h1.1M127.0 139.8h1.1M120.2 145.7h1.1M129.9 140.6h1.1M119.5 138.2h1.1M127.5 138.1h1.1M124.4 131.3h1.1M121.7 148.0h1.1M130.7 143.0h1.1M120.9 144.6h1.1M125.3 138.4h1.1M129.5 139.2h1.1M132.4 135.7h1.1M129.1 135.2h1.1M142.9 133.8h1.1M136.9 144.4h1.1M127.0 139.2h1.1M127.5 141.6h1.1M132.0 141.5h1.1M133.2 141.0h1.1M123.0 142.1h1.1M124.8 135.7h1.1M100.3 131.8h1.1M102.4 130.1h1.1M109.9 125.4h1.1M97.8 144.4h1.1M101.6 145.7h1.1M114.9 136.0h1.1M147.8 132.6h1.1M144.1 172.2h1.1M131.8 175.0h1.1M119.1 170.7h1.1M128.6 150.4h1.1M122.5 145.8h1.1M126.8 146.2h1.1M130.9 142.2h1.1M116.8 159.5h1.1M118.7 158.3h1.1" stroke="#000" stroke-width="1.1" fill="none"/>
<path d="M113.5 112.1V178.3M89.1 150.6H164.4" stroke="#444" stroke-width=".75" fill="none"/>
<rect x="89.1" y="112.1" width="75.3" height="66.2" fill="none" stroke="#000" stroke-width="1.25"/>
<path d="M89.1 178.3v3.4M89.1 178.3h-3.4M94.8 178.3v1.9M89.1 173.3h-1.9M98.1 178.3v1.9M89.1 170.4h-1.9M100.4 178.3v1.9M89.1 168.3h-1.9M102.3 178.3v1.9M89.1 166.7h-1.9M103.7 178.3v1.9M89.1 165.4h-1.9M105.0 178.3v1.9M89.1 164.3h-1.9M106.1 178.3v1.9M89.1 163.4h-1.9M107.1 178.3v1.9M89.1 162.5h-1.9M107.9 178.3v3.4M89.1 161.8h-3.4M113.6 178.3v1.9M89.1 156.8h-1.9M116.9 178.3v1.9M89.1 153.9h-1.9M119.3 178.3v1.9M89.1 151.8h-1.9M121.1 178.3v1.9M89.1 150.2h-1.9M122.6 178.3v1.9M89.1 148.9h-1.9M123.8 178.3v1.9M89.1 147.8h-1.9M124.9 178.3v1.9M89.1 146.8h-1.9M125.9 178.3v1.9M89.1 146.0h-1.9M126.8 178.3v3.4M89.1 145.2h-3.4M132.4 178.3v1.9M89.1 140.2h-1.9M135.7 178.3v1.9M89.1 137.3h-1.9M138.1 178.3v1.9M89.1 135.2h-1.9M139.9 178.3v1.9M89.1 133.6h-1.9M141.4 178.3v1.9M89.1 132.3h-1.9M142.7 178.3v1.9M89.1 131.2h-1.9M143.8 178.3v1.9M89.1 130.3h-1.9M144.7 178.3v1.9M89.1 129.4h-1.9M145.6 178.3v3.4M89.1 128.7h-3.4M151.2 178.3v1.9M89.1 123.7h-1.9M154.6 178.3v1.9M89.1 120.8h-1.9M156.9 178.3v1.9M89.1 118.7h-1.9M158.7 178.3v1.9M89.1 117.1h-1.9M160.2 178.3v1.9M89.1 115.8h-1.9M161.5 178.3v1.9M89.1 114.7h-1.9M162.6 178.3v1.9M89.1 113.7h-1.9M163.5 178.3v1.9M89.1 112.9h-1.9M164.4 178.3v3.4M89.1 112.1h-3.4" stroke="#000" stroke-width="1" fill="none"/>
<text x="88.9" y="191.7" font-size="7.6" text-anchor="middle" stroke="#000" stroke-width=".2">10<tspan dy="-3.9" font-size="7">0</tspan></text>
<text transform="translate(83.8 178.7) rotate(-90)" font-size="7.6" text-anchor="middle" stroke="#000" stroke-width=".2">10<tspan dy="-3.9" font-size="7">0</tspan></text>
<text x="107.3" y="191.7" font-size="7.6" text-anchor="middle" stroke="#000" stroke-width=".2">10<tspan dy="-3.9" font-size="7">1</tspan></text>
<text transform="translate(83.8 162.7) rotate(-90)" font-size="7.6" text-anchor="middle" stroke="#000" stroke-width=".2">10<tspan dy="-3.9" font-size="7">1</tspan></text>
<text x="125.6" y="191.7" font-size="7.6" text-anchor="middle" stroke="#000" stroke-width=".2">10<tspan dy="-3.9" font-size="7">2</tspan></text>
<text transform="translate(83.8 146.8) rotate(-90)" font-size="7.6" text-anchor="middle" stroke="#000" stroke-width=".2">10<tspan dy="-3.9" font-size="7">2</tspan></text>
<text x="144.0" y="191.7" font-size="7.6" text-anchor="middle" stroke="#000" stroke-width=".2">10<tspan dy="-3.9" font-size="7">3</tspan></text>
<text transform="translate(83.8 130.8) rotate(-90)" font-size="7.6" text-anchor="middle" stroke="#000" stroke-width=".2">10<tspan dy="-3.9" font-size="7">3</tspan></text>
<text x="162.3" y="191.7" font-size="7.6" text-anchor="middle" stroke="#000" stroke-width=".2">10<tspan dy="-3.9" font-size="7">4</tspan></text>
<text transform="translate(83.8 114.8) rotate(-90)" font-size="7.6" text-anchor="middle" stroke="#000" stroke-width=".2">10<tspan dy="-3.9" font-size="7">4</tspan></text>
<text x="126.8" y="200.9" font-size="7.8" stroke="#000" stroke-width=".25">EGFP</text>
<text x="125.5" y="108.6" font-size="8.1" stroke="#000" stroke-width=".25">no. 4 CD45 BM.025</text>
<text transform="translate(72.5 145.8) rotate(-90)" font-size="8.3" stroke="#000" stroke-width=".25">CD45 PE</text>
<text x="165.2" y="119.8" font-size="8.7" text-anchor="end" stroke="#000" stroke-width=".25">99%</text>
<path d="M189.9 178.3L189.9 176.9L189.9 175.5L189.9 174.1L189.9 172.6L189.9 171.2L189.9 169.8L189.9 168.4L189.9 167.0L189.9 165.6L189.9 164.2L192.0 163.7L192.3 163.8L193.8 162.9L195.7 163.6L197.5 163.5L197.8 163.0L199.2 163.5L201.7 162.1L202.4 162.9L204.3 162.1L205.7 161.9L206.7 161.4L207.8 162.1L208.9 162.5L210.8 161.6L212.4 161.6L213.6 162.0L215.3 163.6L215.7 163.8L216.7 165.9L216.1 167.5L216.9 168.7L216.2 170.1L216.1 171.5L215.9 173.0L216.0 174.0L216.8 175.9L216.7 176.7L216.5 178.3L215.2 178.3L213.9 178.3L212.5 178.3L211.2 178.3L209.9 178.3L208.5 178.3L207.2 178.3L205.9 178.3L204.5 178.3L203.2 178.3L201.9 178.3L200.5 178.3L199.2 178.3L197.9 178.3L196.6 178.3L195.2 178.3L193.9 178.3L192.6 178.3L191.2 178.3Z" fill="#000"/>
<path d="M217.9 178.3L217.3 177.4L217.4 176.1L218.5 174.4L218.2 172.7L218.6 171.2L218.3 170.0L219.2 169.0L219.0 167.4L220.1 166.5L220.5 165.9L221.8 164.7L224.0 164.6L225.1 163.8L226.2 164.0L227.5 162.9L228.6 163.9L230.9 163.9L232.1 163.8L232.9 164.2L234.3 164.6L235.1 165.4L236.9 165.7L238.0 166.7L239.7 166.9L239.9 167.9L242.1 168.5L242.1 169.8L242.9 171.2L244.6 172.7L245.5 173.2L246.2 175.0L246.3 176.7L245.7 178.3L244.4 178.3L243.1 178.3L241.8 178.3L240.4 178.3L239.1 178.3L237.8 178.3L236.5 178.3L235.1 178.3L233.8 178.3L232.5 178.3L231.2 178.3L229.8 178.3L228.5 178.3L227.2 178.3L225.9 178.3L224.5 178.3L223.2 178.3L221.9 178.3L220.6 178.3L219.2 178.3Z" fill="#000"/>
<path d="M191.9 165.2h1.1M191.4 162.0h1.1M194.3 165.3h1.1M193.7 163.0h1.1M194.6 165.9h1.1M192.8 165.1h1.1M196.2 164.1h1.1M194.7 163.6h1.1M197.6 160.6h1.1M196.6 163.0h1.1M197.9 164.3h1.1M198.3 162.0h1.1M196.3 161.0h1.1M201.5 162.7h1.1M199.9 162.8h1.1M199.7 161.8h1.1M199.7 162.2h1.1M201.9 162.5h1.1M204.8 163.2h1.1M203.7 164.7h1.1M205.0 164.3h1.1M205.0 160.7h1.1M205.2 160.4h1.1M203.7 163.9h1.1M203.4 161.8h1.1M207.0 162.1h1.1M205.8 163.6h1.1M208.3 160.0h1.1M206.8 161.4h1.1M206.3 165.3h1.1M209.2 164.1h1.1M208.9 162.2h1.1M208.5 162.5h1.1M211.4 161.9h1.1M213.9 160.8h1.1M213.6 162.4h1.1M214.0 159.1h1.1M212.6 163.3h1.1M212.2 162.5h1.1M214.2 161.4h1.1M214.7 162.1h1.1M216.4 162.3h1.1M215.1 167.0h1.1M217.1 163.1h1.1M217.3 167.2h1.1M216.9 167.8h1.1M216.5 163.9h1.1M216.7 169.5h1.1M217.1 166.0h1.1M213.2 168.8h1.1M216.7 170.4h1.1M218.0 168.6h1.1M215.9 169.8h1.1M218.4 169.7h1.1M217.6 173.0h1.1M217.1 171.3h1.1M217.2 174.6h1.1M217.9 174.0h1.1M217.2 171.9h1.1M215.7 176.9h1.1M216.0 174.7h1.1M216.3 175.8h1.1M213.8 163.5h1.1M211.6 160.9h1.1M212.0 159.9h1.1M199.9 159.2h1.1M199.5 160.3h1.1M204.8 159.7h1.1M198.8 157.1h1.1M216.5 162.0h1.1M207.6 161.0h1.1M192.4 159.0h1.1M199.9 160.0h1.1M206.5 159.9h1.1M198.3 161.4h1.1M201.7 161.7h1.1M208.9 160.0h1.1M205.4 160.8h1.1M203.5 158.9h1.1M197.5 160.7h1.1M200.5 157.9h1.1M209.8 160.8h1.1M200.8 159.5h1.1M196.6 160.8h1.1M214.8 162.4h1.1M203.3 160.9h1.1M204.9 161.8h1.1M212.2 161.9h1.1M202.9 162.2h1.1M207.0 161.9h1.1M196.5 162.1h1.1M201.2 160.5h1.1M202.5 160.1h1.1M211.9 160.2h1.1M197.1 161.8h1.1M193.4 160.7h1.1M196.3 160.6h1.1M204.5 159.4h1.1M190.9 159.6h1.1M195.5 162.8h1.1M209.4 159.7h1.1M209.6 161.1h1.1M192.8 158.5h1.1M196.9 158.9h1.1M196.5 159.9h1.1M205.8 158.2h1.1M219.6 160.0h1.1M194.4 159.6h1.1M194.4 162.3h1.1M195.4 157.3h1.1M196.2 161.5h1.1M193.2 160.6h1.1M214.4 161.9h1.1M193.0 161.8h1.1M203.0 160.2h1.1M219.9 159.7h1.1M208.9 160.1h1.1M196.8 158.8h1.1M207.2 161.1h1.1M217.4 159.5h1.1M214.1 160.0h1.1M192.1 161.1h1.1M210.5 160.3h1.1M213.4 163.1h1.1M216.3 161.0h1.1M196.0 163.1h1.1M205.7 160.2h1.1M193.3 161.4h1.1M221.2 175.9h1.1M217.3 174.8h1.1M219.8 177.0h1.1M217.9 177.0h1.1M215.6 173.5h1.1M215.6 174.1h1.1M215.9 172.6h1.1M217.0 171.4h1.1M215.8 172.7h1.1M218.7 168.6h1.1M220.2 171.8h1.1M217.8 171.3h1.1M220.0 169.7h1.1M216.2 168.5h1.1M217.6 169.1h1.1M218.4 167.3h1.1M220.0 167.7h1.1M218.3 169.4h1.1M219.4 167.9h1.1M221.8 167.9h1.1M221.1 169.3h1.1M223.5 166.6h1.1M222.5 165.5h1.1M220.6 167.3h1.1M220.8 164.4h1.1M220.5 165.9h1.1M220.9 168.2h1.1M222.3 164.9h1.1M220.8 165.5h1.1M223.1 165.7h1.1M223.7 163.5h1.1M223.2 166.1h1.1M227.0 164.1h1.1M222.4 161.7h1.1M224.7 162.3h1.1M226.5 164.8h1.1M227.0 163.6h1.1M224.4 165.1h1.1M226.9 160.9h1.1M225.9 164.7h1.1M231.3 164.0h1.1M226.3 165.7h1.1M229.8 165.3h1.1M231.6 163.4h1.1M229.8 163.7h1.1M234.4 161.6h1.1M231.0 163.8h1.1M228.2 166.9h1.1M235.7 162.2h1.1M231.8 163.6h1.1M235.3 165.6h1.1M231.7 163.5h1.1M231.6 165.5h1.1M234.0 164.2h1.1M232.7 161.9h1.1M232.9 165.2h1.1M234.3 169.4h1.1M235.7 166.3h1.1M238.3 164.2h1.1M230.6 164.4h1.1M237.9 166.8h1.1M236.1 166.2h1.1M239.4 166.3h1.1M237.6 165.0h1.1M238.4 168.2h1.1M233.6 168.3h1.1M239.8 169.4h1.1M238.7 167.7h1.1M238.8 167.8h1.1M237.5 164.6h1.1M237.4 165.8h1.1M242.8 168.6h1.1M241.7 167.7h1.1M239.9 169.8h1.1M241.1 166.7h1.1M243.3 167.5h1.1M240.7 171.6h1.1M243.1 170.0h1.1M243.5 168.2h1.1M245.0 172.1h1.1M242.7 172.5h1.1M245.1 172.1h1.1M242.2 173.8h1.1M243.0 172.4h1.1M242.9 174.6h1.1M244.9 172.6h1.1M246.2 173.6h1.1M246.5 175.9h1.1M245.1 174.3h1.1M243.9 170.3h1.1M244.8 171.0h1.1M246.9 177.2h1.1M249.4 174.8h1.1M242.0 171.4h1.1M246.8 176.2h1.1M245.5 176.5h1.1M227.6 148.2h1.1M226.1 150.8h1.1M225.5 147.7h1.1M230.1 154.5h1.1M231.3 157.2h1.1M228.8 161.7h1.1M229.5 151.7h1.1M219.8 157.1h1.1M229.2 149.5h1.1M221.8 148.5h1.1M223.9 149.5h1.1M228.7 149.7h1.1M227.0 149.3h1.1M235.2 144.3h1.1M229.8 144.9h1.1M226.4 157.3h1.1M223.9 149.9h1.1M223.4 159.2h1.1M228.9 154.9h1.1M227.3 156.8h1.1M222.9 153.7h1.1M219.6 158.0h1.1M225.4 147.4h1.1M232.6 150.1h1.1M229.7 147.2h1.1M226.0 156.4h1.1M225.2 146.9h1.1M229.8 148.3h1.1M222.0 149.0h1.1M233.7 145.8h1.1M222.0 155.6h1.1M225.8 146.8h1.1M235.4 151.1h1.1M223.5 153.9h1.1M226.1 167.2h1.1M229.0 148.3h1.1M225.8 149.6h1.1M224.9 154.8h1.1M235.0 138.6h1.1M227.5 153.8h1.1M227.6 156.7h1.1M231.3 151.0h1.1M225.3 156.5h1.1M225.1 146.4h1.1M226.8 151.5h1.1M225.6 148.6h1.1M228.4 157.2h1.1M225.0 144.8h1.1M222.6 148.7h1.1M228.2 153.9h1.1M226.0 142.6h1.1M222.9 156.3h1.1M230.1 155.1h1.1M231.1 150.7h1.1M225.8 143.7h1.1M227.8 148.6h1.1M223.4 146.5h1.1M222.8 153.5h1.1M228.1 158.6h1.1M227.9 148.8h1.1M230.3 152.2h1.1M219.8 150.1h1.1M222.4 142.0h1.1M223.6 157.4h1.1M234.0 147.7h1.1M229.7 155.2h1.1M228.8 162.1h1.1M227.0 146.8h1.1M222.6 144.8h1.1M227.3 138.2h1.1M231.5 139.7h1.1M222.5 146.6h1.1M225.9 147.7h1.1M226.3 161.1h1.1M225.9 154.6h1.1M223.9 159.9h1.1M226.9 151.6h1.1M223.1 144.8h1.1M227.5 141.7h1.1M229.2 151.7h1.1M216.4 151.4h1.1M231.0 144.6h1.1M228.9 160.5h1.1M227.3 149.5h1.1M233.4 152.5h1.1M232.8 144.5h1.1M227.1 153.5h1.1M229.7 156.1h1.1M230.9 148.4h1.1M226.4 148.2h1.1M230.3 155.4h1.1M224.9 153.1h1.1M226.4 146.6h1.1M228.0 156.3h1.1M226.3 144.8h1.1M234.5 165.1h1.1M224.5 147.9h1.1M227.5 150.6h1.1M226.5 149.1h1.1M228.9 141.5h1.1M225.0 159.3h1.1M226.4 157.0h1.1M226.4 147.0h1.1M223.0 152.7h1.1M228.6 132.5h1.1M225.4 159.2h1.1M231.0 154.2h1.1M224.3 152.2h1.1M224.5 149.7h1.1M230.4 157.5h1.1M221.5 156.9h1.1M234.3 144.9h1.1M227.7 156.2h1.1M227.4 155.8h1.1M227.9 154.8h1.1M238.2 157.9h1.1M227.0 145.8h1.1M229.1 144.1h1.1M222.6 146.6h1.1M228.2 147.7h1.1M228.3 144.3h1.1M231.5 151.7h1.1M227.0 144.7h1.1M227.0 147.8h1.1M226.7 141.6h1.1M230.0 150.8h1.1M233.8 156.6h1.1M222.6 145.7h1.1M229.3 152.4h1.1M228.2 149.6h1.1M229.9 157.9h1.1M223.0 150.1h1.1M223.3 141.9h1.1M224.2 156.0h1.1M232.9 159.9h1.1M228.5 148.7h1.1M227.4 153.1h1.1M225.8 149.8h1.1M224.4 147.5h1.1M227.9 150.8h1.1M229.4 158.0h1.1M230.2 154.1h1.1M224.9 156.2h1.1M235.5 148.2h1.1M219.6 138.8h1.1M231.9 155.4h1.1M227.8 149.3h1.1M232.9 147.3h1.1M230.2 148.8h1.1M230.5 158.2h1.1M230.2 157.1h1.1M226.7 153.6h1.1M230.1 162.3h1.1M228.5 152.6h1.1M225.5 152.9h1.1M221.6 148.7h1.1M232.6 146.5h1.1M226.6 154.8h1.1M224.8 152.3h1.1M223.8 148.0h1.1M232.0 142.6h1.1M220.6 140.3h1.1M229.9 147.3h1.1M232.8 140.1h1.1M228.8 136.9h1.1M235.9 154.8h1.1M226.3 147.0h1.1M227.4 137.4h1.1M219.9 142.4h1.1M225.5 142.9h1.1M232.7 136.6h1.1M229.8 143.4h1.1M226.6 146.0h1.1M228.3 153.1h1.1M223.1 158.0h1.1M224.1 140.8h1.1M226.9 155.5h1.1M228.9 148.1h1.1M233.0 143.4h1.1M224.5 160.5h1.1M232.1 147.5h1.1M227.9 147.0h1.1M228.6 149.8h1.1M223.6 142.4h1.1M227.2 145.8h1.1M225.6 147.7h1.1M227.0 160.6h1.1M228.7 146.5h1.1M229.1 142.6h1.1M224.1 151.5h1.1M224.3 144.3h1.1M233.2 160.8h1.1M231.0 143.5h1.1M221.2 144.9h1.1M222.9 145.1h1.1M225.9 152.4h1.1M235.7 144.3h1.1M226.5 140.5h1.1M233.0 156.0h1.1M228.8 145.3h1.1M227.0 152.0h1.1M219.2 150.3h1.1M229.5 144.0h1.1M232.0 146.9h1.1M229.5 155.6h1.1M229.9 142.8h1.1M228.8 154.0h1.1M225.7 143.5h1.1M227.9 154.5h1.1M232.8 159.0h1.1M229.2 139.4h1.1M227.4 148.0h1.1M232.8 154.8h1.1M222.9 141.8h1.1M228.1 143.9h1.1M221.0 139.9h1.1M232.5 152.7h1.1M223.3 149.0h1.1M225.5 145.1h1.1M231.4 158.1h1.1M231.6 147.8h1.1M232.3 141.4h1.1M220.6 145.9h1.1M225.6 155.3h1.1M223.5 150.7h1.1M228.6 152.5h1.1M225.6 147.7h1.1M224.3 149.5h1.1M224.6 153.3h1.1M228.5 149.5h1.1M228.0 151.0h1.1M230.6 157.1h1.1M220.6 158.0h1.1M228.9 155.7h1.1M231.6 147.7h1.1M224.3 156.2h1.1M234.2 147.1h1.1M221.4 155.8h1.1M230.9 149.4h1.1M223.3 161.5h1.1M226.4 151.6h1.1M225.3 159.3h1.1M228.8 158.0h1.1M230.7 154.3h1.1M226.8 148.2h1.1M225.2 148.2h1.1M222.4 153.8h1.1M231.6 150.8h1.1M217.5 145.3h1.1M220.1 148.1h1.1M233.1 141.9h1.1M225.5 149.9h1.1M227.3 152.9h1.1M231.2 153.1h1.1M226.3 140.9h1.1M227.9 146.2h1.1M228.2 151.5h1.1M224.5 150.3h1.1M227.4 140.0h1.1M226.3 154.5h1.1M220.3 150.0h1.1M232.2 143.8h1.1M226.3 141.4h1.1M233.2 151.9h1.1M228.3 150.4h1.1M227.9 155.5h1.1M228.2 140.8h1.1M229.5 166.7h1.1M232.1 151.3h1.1M228.4 147.6h1.1M225.7 146.5h1.1M226.8 149.9h1.1M227.4 142.2h1.1M225.6 151.8h1.1M230.1 154.6h1.1M225.1 154.2h1.1M227.7 157.1h1.1M225.6 158.9h1.1M227.0 151.2h1.1M227.9 150.9h1.1M224.2 154.2h1.1M226.0 157.7h1.1M227.1 143.5h1.1M220.6 143.4h1.1M230.5 150.4h1.1M231.3 155.1h1.1M229.8 142.8h1.1M228.0 144.1h1.1M232.8 146.9h1.1M228.8 147.5h1.1M229.0 159.7h1.1M228.8 159.9h1.1M218.1 145.1h1.1M223.2 151.6h1.1M223.4 161.0h1.1M228.2 153.0h1.1M236.6 145.5h1.1M226.6 153.6h1.1M225.5 153.0h1.1M222.5 152.6h1.1M223.2 153.2h1.1M223.7 157.3h1.1M225.1 153.1h1.1M223.7 153.6h1.1M219.9 130.2h1.1M224.6 156.3h1.1M230.5 159.7h1.1M228.3 143.3h1.1M227.7 153.5h1.1M225.3 152.9h1.1M230.1 145.3h1.1M233.8 144.7h1.1M226.0 149.7h1.1M227.1 144.6h1.1M232.8 150.3h1.1M225.7 144.3h1.1M229.3 151.5h1.1M225.3 152.2h1.1M234.7 150.4h1.1M222.4 153.8h1.1M233.5 149.5h1.1M225.0 153.8h1.1M226.5 156.0h1.1M229.0 151.7h1.1M226.1 155.3h1.1M228.3 146.9h1.1M229.1 146.9h1.1M232.4 151.1h1.1M227.3 154.6h1.1M225.4 147.9h1.1M230.6 159.7h1.1M230.0 138.5h1.1M227.3 156.4h1.1M224.7 151.6h1.1M226.6 157.4h1.1M230.9 155.3h1.1M219.1 161.6h1.1M227.1 151.2h1.1M223.0 146.3h1.1M231.7 144.7h1.1M228.3 155.6h1.1M226.6 160.0h1.1M223.9 148.3h1.1M229.5 140.5h1.1M225.8 152.4h1.1M229.0 155.8h1.1M226.3 154.0h1.1M232.2 152.3h1.1M223.1 152.5h1.1M236.1 146.5h1.1M225.0 154.1h1.1M226.9 145.2h1.1M228.3 158.6h1.1M228.6 157.5h1.1M227.5 145.4h1.1M231.4 150.4h1.1M232.0 156.0h1.1M229.1 151.4h1.1M226.5 135.3h1.1M226.8 148.4h1.1M226.4 155.2h1.1M226.3 145.0h1.1M230.4 143.8h1.1M230.9 152.5h1.1M230.8 159.8h1.1M232.9 153.9h1.1M227.6 163.2h1.1M228.4 151.7h1.1M226.5 147.2h1.1M232.3 158.7h1.1M231.7 141.5h1.1M230.4 141.3h1.1M222.0 159.3h1.1M228.6 162.6h1.1M233.8 141.1h1.1M221.5 161.1h1.1M224.2 148.6h1.1M229.6 157.8h1.1M230.3 142.6h1.1M227.9 150.8h1.1M232.9 147.1h1.1M232.3 157.8h1.1M227.6 148.8h1.1M232.4 161.1h1.1M223.4 139.1h1.1M227.4 154.0h1.1M226.4 140.7h1.1M224.9 154.6h1.1M223.8 156.9h1.1M228.6 149.6h1.1M220.1 138.1h1.1M227.6 153.1h1.1M230.3 159.9h1.1M227.7 149.7h1.1M229.2 159.2h1.1M226.6 159.3h1.1M231.7 130.7h1.1M229.8 161.5h1.1M227.9 158.3h1.1M227.8 153.3h1.1M226.9 151.2h1.1M222.4 143.3h1.1M224.1 157.5h1.1M231.5 152.5h1.1M230.5 143.8h1.1M225.8 154.2h1.1M223.8 139.8h1.1M220.0 159.6h1.1M227.4 150.7h1.1M228.8 159.5h1.1M222.7 144.5h1.1M226.0 163.6h1.1M222.4 141.9h1.1M227.5 146.7h1.1M231.9 151.6h1.1M227.4 159.7h1.1M220.8 141.5h1.1M231.7 141.3h1.1M225.8 147.7h1.1M234.5 152.2h1.1M229.0 156.7h1.1M224.2 157.1h1.1M229.1 135.7h1.1M223.7 143.1h1.1M230.1 153.1h1.1M232.7 154.9h1.1M221.4 139.2h1.1M223.9 150.4h1.1M220.6 142.2h1.1M228.1 142.9h1.1M227.7 151.0h1.1M221.2 154.4h1.1M231.3 149.0h1.1M228.5 151.3h1.1M229.3 139.5h1.1M227.4 144.7h1.1M225.5 141.3h1.1M226.2 142.4h1.1M233.3 145.7h1.1M223.7 154.7h1.1M232.1 148.0h1.1M229.3 149.9h1.1M226.7 151.2h1.1M230.2 151.7h1.1M227.6 147.7h1.1M232.3 158.2h1.1M224.2 151.2h1.1M230.9 149.3h1.1M227.7 161.5h1.1M228.7 143.2h1.1M225.8 145.2h1.1M226.7 151.5h1.1M228.6 148.4h1.1M222.6 145.1h1.1M230.1 150.2h1.1M227.3 149.1h1.1M233.8 149.4h1.1M229.3 147.6h1.1M230.4 144.1h1.1M229.2 154.0h1.1M226.4 148.5h1.1M229.7 164.0h1.1M233.0 149.8h1.1M233.4 143.3h1.1M228.4 158.1h1.1M226.6 153.7h1.1M231.4 148.5h1.1M231.1 135.9h1.1M227.3 152.4h1.1M225.0 144.2h1.1M226.8 151.1h1.1M227.6 150.7h1.1M216.1 147.8h1.1M229.6 152.9h1.1M230.7 156.5h1.1M235.3 149.7h1.1M242.0 154.5h1.1M227.6 142.9h1.1M227.5 157.8h1.1M234.3 153.6h1.1M224.8 155.0h1.1M223.7 141.9h1.1M233.8 146.6h1.1M233.1 145.6h1.1M228.6 143.4h1.1M231.1 159.5h1.1M227.8 148.2h1.1M223.6 141.5h1.1M232.4 147.0h1.1M223.8 155.4h1.1M226.8 152.3h1.1M223.4 152.8h1.1M221.3 151.1h1.1M227.4 154.3h1.1M223.7 150.9h1.1M242.1 157.0h1.1M220.9 141.4h1.1M231.9 148.0h1.1M227.2 152.4h1.1M227.5 154.9h1.1M223.7 154.4h1.1M233.1 143.7h1.1M224.3 145.6h1.1M234.3 141.1h1.1M226.3 142.0h1.1M228.5 154.6h1.1M231.9 144.3h1.1M224.3 158.8h1.1M228.4 151.7h1.1M219.9 148.0h1.1M217.4 149.8h1.1M228.7 153.7h1.1M227.2 156.5h1.1M232.0 149.4h1.1M230.4 159.8h1.1M235.3 141.1h1.1M230.6 159.0h1.1M231.0 143.9h1.1M228.7 150.4h1.1M228.2 150.1h1.1M226.4 160.0h1.1M235.9 164.6h1.1M241.3 161.4h1.1M236.3 157.9h1.1M234.0 161.1h1.1M225.8 165.7h1.1M228.9 169.2h1.1M243.1 160.9h1.1M237.1 161.3h1.1M235.5 151.6h1.1M233.3 155.3h1.1M238.1 160.6h1.1M228.1 163.3h1.1M241.6 160.6h1.1M224.8 163.9h1.1M241.6 163.3h1.1M248.2 157.3h1.1M227.7 163.0h1.1M227.6 162.2h1.1M234.0 164.5h1.1M237.7 161.0h1.1M229.6 157.5h1.1M238.3 162.0h1.1M233.7 160.4h1.1M230.5 165.3h1.1M230.9 165.0h1.1M244.0 161.5h1.1M233.0 162.5h1.1M227.1 154.1h1.1M242.7 162.2h1.1M233.7 166.8h1.1M236.7 154.4h1.1M233.6 158.6h1.1M240.4 157.7h1.1M233.5 164.8h1.1M230.1 159.6h1.1M240.5 162.7h1.1M237.4 159.8h1.1M226.7 161.3h1.1M242.0 154.7h1.1M233.7 163.4h1.1M235.8 161.2h1.1M238.4 167.6h1.1M229.9 158.5h1.1M239.7 156.9h1.1M229.9 171.3h1.1M241.4 155.4h1.1M234.9 164.5h1.1M242.2 164.7h1.1M228.8 158.1h1.1M240.2 161.2h1.1M229.4 163.3h1.1M236.4 156.5h1.1M230.4 161.9h1.1M239.0 161.7h1.1M229.8 151.6h1.1M229.1 154.8h1.1M233.4 155.9h1.1M236.3 154.3h1.1M235.7 167.0h1.1M232.9 156.1h1.1M235.6 169.8h1.1M231.5 155.1h1.1M241.9 160.7h1.1M225.3 157.6h1.1M241.1 154.5h1.1M229.2 166.5h1.1M231.1 154.6h1.1M233.5 165.9h1.1M223.5 165.9h1.1M235.6 162.8h1.1M238.1 160.3h1.1M222.2 160.5h1.1M238.1 170.8h1.1M230.6 155.7h1.1M239.4 155.3h1.1M231.8 157.5h1.1M229.9 159.0h1.1M233.3 153.4h1.1M229.0 163.4h1.1M233.8 156.0h1.1M230.5 164.4h1.1M236.6 150.1h1.1M240.2 164.8h1.1M231.5 163.2h1.1M236.7 171.9h1.1M231.8 146.9h1.1M235.0 161.2h1.1M217.2 159.9h1.1M238.1 161.9h1.1M232.6 158.2h1.1M231.5 163.8h1.1M240.4 160.9h1.1M229.5 160.0h1.1M227.0 160.3h1.1M240.0 159.8h1.1M238.9 152.4h1.1M248.6 162.6h1.1M229.3 160.0h1.1M226.5 160.8h1.1M228.7 167.2h1.1M239.0 163.0h1.1M231.1 156.7h1.1M229.0 167.1h1.1M226.0 161.7h1.1M231.5 160.9h1.1M237.4 164.6h1.1M239.1 161.5h1.1M229.3 156.5h1.1M230.7 162.6h1.1M239.3 161.9h1.1M239.6 161.1h1.1M228.7 156.9h1.1M242.4 162.6h1.1M235.3 159.5h1.1M236.8 161.9h1.1M230.7 160.8h1.1M230.7 157.8h1.1M234.7 155.9h1.1M238.6 159.1h1.1M239.8 156.1h1.1M228.6 169.5h1.1M243.2 162.1h1.1M243.4 163.3h1.1M236.9 162.4h1.1M243.7 165.5h1.1M226.8 161.5h1.1M223.7 159.2h1.1M232.7 164.2h1.1M239.5 159.2h1.1M207.7 146.9h1.1M212.7 150.6h1.1M194.7 154.7h1.1M206.2 153.6h1.1M198.5 131.3h1.1M242.4 134.6h1.1M252.2 160.1h1.1M250.9 168.7h1.1M249.9 171.3h1.1M238.6 150.3h1.1M239.6 143.4h1.1M217.0 156.4h1.1" stroke="#000" stroke-width="1.1" fill="none"/>
<path d="M215.3 112.1V178.3M189.9 156.6H265.2" stroke="#444" stroke-width=".75" fill="none"/>
<rect x="189.9" y="112.1" width="75.3" height="66.2" fill="none" stroke="#000" stroke-width="1.25"/>
<path d="M189.9 178.3v3.4M189.9 178.3h-3.4M195.6 178.3v1.9M189.9 173.3h-1.9M198.9 178.3v1.9M189.9 170.4h-1.9M201.2 178.3v1.9M189.9 168.3h-1.9M203.1 178.3v1.9M189.9 166.7h-1.9M204.5 178.3v1.9M189.9 165.4h-1.9M205.8 178.3v1.9M189.9 164.3h-1.9M206.9 178.3v1.9M189.9 163.4h-1.9M207.9 178.3v1.9M189.9 162.5h-1.9M208.7 178.3v3.4M189.9 161.8h-3.4M214.4 178.3v1.9M189.9 156.8h-1.9M217.7 178.3v1.9M189.9 153.9h-1.9M220.1 178.3v1.9M189.9 151.8h-1.9M221.9 178.3v1.9M189.9 150.2h-1.9M223.4 178.3v1.9M189.9 148.9h-1.9M224.6 178.3v1.9M189.9 147.8h-1.9M225.7 178.3v1.9M189.9 146.8h-1.9M226.7 178.3v1.9M189.9 146.0h-1.9M227.6 178.3v3.4M189.9 145.2h-3.4M233.2 178.3v1.9M189.9 140.2h-1.9M236.5 178.3v1.9M189.9 137.3h-1.9M238.9 178.3v1.9M189.9 135.2h-1.9M240.7 178.3v1.9M189.9 133.6h-1.9M242.2 178.3v1.9M189.9 132.3h-1.9M243.5 178.3v1.9M189.9 131.2h-1.9M244.6 178.3v1.9M189.9 130.3h-1.9M245.5 178.3v1.9M189.9 129.4h-1.9M246.4 178.3v3.4M189.9 128.7h-3.4M252.0 178.3v1.9M189.9 123.7h-1.9M255.4 178.3v1.9M189.9 120.8h-1.9M257.7 178.3v1.9M189.9 118.7h-1.9M259.5 178.3v1.9M189.9 117.1h-1.9M261.0 178.3v1.9M189.9 115.8h-1.9M262.3 178.3v1.9M189.9 114.7h-1.9M263.4 178.3v1.9M189.9 113.7h-1.9M264.3 178.3v1.9M189.9 112.9h-1.9M265.2 178.3v3.4M189.9 112.1h-3.4" stroke="#000" stroke-width="1" fill="none"/>
<text x="189.7" y="191.7" font-size="7.6" text-anchor="middle" stroke="#000" stroke-width=".2">10<tspan dy="-3.9" font-size="7">0</tspan></text>
<text transform="translate(184.6 178.7) rotate(-90)" font-size="7.6" text-anchor="middle" stroke="#000" stroke-width=".2">10<tspan dy="-3.9" font-size="7">0</tspan></text>
<text x="208.1" y="191.7" font-size="7.6" text-anchor="middle" stroke="#000" stroke-width=".2">10<tspan dy="-3.9" font-size="7">1</tspan></text>
<text transform="translate(184.6 162.7) rotate(-90)" font-size="7.6" text-anchor="middle" stroke="#000" stroke-width=".2">10<tspan dy="-3.9" font-size="7">1</tspan></text>
<text x="226.4" y="191.7" font-size="7.6" text-anchor="middle" stroke="#000" stroke-width=".2">10<tspan dy="-3.9" font-size="7">2</tspan></text>
<text transform="translate(184.6 146.8) rotate(-90)" font-size="7.6" text-anchor="middle" stroke="#000" stroke-width=".2">10<tspan dy="-3.9" font-size="7">2</tspan></text>
<text x="244.8" y="191.7" font-size="7.6" text-anchor="middle" stroke="#000" stroke-width=".2">10<tspan dy="-3.9" font-size="7">3</tspan></text>
<text transform="translate(184.6 130.8) rotate(-90)" font-size="7.6" text-anchor="middle" stroke="#000" stroke-width=".2">10<tspan dy="-3.9" font-size="7">3</tspan></text>
<text x="263.1" y="191.7" font-size="7.6" text-anchor="middle" stroke="#000" stroke-width=".2">10<tspan dy="-3.9" font-size="7">4</tspan></text>
<text transform="translate(184.6 114.8) rotate(-90)" font-size="7.6" text-anchor="middle" stroke="#000" stroke-width=".2">10<tspan dy="-3.9" font-size="7">4</tspan></text>
<text x="227.6" y="200.9" font-size="7.8" stroke="#000" stroke-width=".25">EGFP</text>
<text x="227.8" y="108.6" font-size="8.1" stroke="#000" stroke-width=".25">no. 4 CD34 BM.024</text>
<text transform="translate(174.6 145.8) rotate(-90)" font-size="8.3" stroke="#000" stroke-width=".25">CD34 PE</text>
<text x="266.0" y="119.8" font-size="8.7" text-anchor="end" stroke="#000" stroke-width=".25">96%</text>
<path d="M290.1 178.5L290.1 177.2L290.1 175.8L290.1 174.5L290.1 173.1L290.1 171.8L290.1 170.5L290.1 169.1L290.1 167.8L290.1 166.4L290.1 165.1L290.8 164.8L292.9 164.4L293.6 163.3L295.7 162.0L297.3 162.3L297.5 161.8L299.8 160.9L300.2 161.8L302.3 161.5L302.7 160.3L304.3 160.8L305.5 160.0L307.3 160.0L308.7 160.2L309.7 160.3L311.0 160.2L312.1 159.7L314.0 159.6L315.2 159.8L315.6 162.0L316.4 162.5L316.6 165.1L316.4 166.1L315.5 167.2L315.5 167.7L315.2 169.5L315.1 171.2L314.6 172.4L314.9 173.3L314.5 175.0L314.1 176.0L314.1 177.8L313.2 178.5L311.8 178.5L310.5 178.5L309.1 178.5L307.8 178.5L306.4 178.5L305.0 178.5L303.7 178.5L302.3 178.5L301.0 178.5L299.6 178.5L298.3 178.5L296.9 178.5L295.5 178.5L294.2 178.5L292.8 178.5L291.5 178.5Z" fill="#000"/>
<path d="M320.6 178.5L320.9 176.7L320.7 176.4L321.4 175.2L321.0 173.4L320.4 172.1L321.1 170.3L321.4 168.9L321.4 168.0L321.8 166.4L322.3 164.6L322.1 163.7L322.2 163.1L323.4 161.1L322.4 159.8L323.1 158.1L323.6 157.9L323.8 156.7L325.7 154.9L325.9 153.4L327.4 151.9L327.2 151.8L329.6 150.8L330.0 150.7L332.4 150.2L333.0 150.4L333.4 151.6L334.2 153.5L334.6 154.2L335.5 155.9L336.1 157.1L335.4 158.7L335.4 159.5L335.9 161.4L336.5 162.8L337.4 164.2L336.8 165.2L337.8 166.1L337.8 168.1L337.2 168.7L338.8 169.9L338.6 171.9L338.6 173.8L338.9 174.2L338.6 175.2L339.5 177.8L339.8 178.5L338.4 178.5L337.1 178.5L335.7 178.5L334.3 178.5L332.9 178.5L331.6 178.5L330.2 178.5L328.8 178.5L327.4 178.5L326.1 178.5L324.7 178.5L323.3 178.5L322.0 178.5Z" fill="#000"/>
<path d="M326.4 136.7L327.2 135.2L328.3 134.7L329.1 133.7L330.9 133.0L331.7 133.3L333.3 132.3L334.6 131.5L337.1 132.2L338.0 132.0L340.5 132.2L341.9 133.3L343.2 132.5L344.6 133.5L346.2 132.9L346.2 134.0L346.2 134.5L344.4 135.4L343.0 136.7L341.5 137.0L339.1 137.2L338.5 138.3L336.3 138.0L334.7 138.5L333.8 139.1L332.1 139.5L330.3 139.3L329.2 138.9L328.7 138.3L326.9 138.3Z" fill="#000"/>
<path d="M291.6 164.9h1.1M292.0 162.6h1.1M295.3 165.2h1.1M293.0 164.7h1.1M293.3 162.7h1.1M295.4 166.0h1.1M294.5 163.6h1.1M295.3 164.4h1.1M296.1 163.3h1.1M296.5 161.2h1.1M294.8 162.5h1.1M297.5 163.5h1.1M301.4 161.7h1.1M299.4 163.7h1.1M300.2 163.5h1.1M302.6 161.6h1.1M299.1 159.6h1.1M302.8 160.5h1.1M302.5 163.8h1.1M301.7 161.0h1.1M301.7 160.7h1.1M304.8 161.5h1.1M305.9 161.7h1.1M306.6 159.6h1.1M307.2 159.6h1.1M307.6 160.4h1.1M309.6 161.4h1.1M309.6 160.2h1.1M307.7 160.7h1.1M309.9 161.8h1.1M310.6 159.0h1.1M309.6 159.6h1.1M309.1 158.5h1.1M312.9 159.6h1.1M311.6 158.3h1.1M311.9 160.1h1.1M314.1 160.4h1.1M312.7 157.2h1.1M314.7 162.3h1.1M315.2 159.4h1.1M315.4 157.9h1.1M314.4 161.5h1.1M316.8 161.2h1.1M315.6 162.9h1.1M318.5 162.7h1.1M315.6 162.5h1.1M316.3 163.6h1.1M316.8 165.8h1.1M315.8 167.5h1.1M317.9 166.2h1.1M318.0 165.6h1.1M316.0 165.6h1.1M316.0 167.1h1.1M316.9 167.6h1.1M316.7 168.3h1.1M315.1 169.6h1.1M318.3 170.2h1.1M314.1 171.4h1.1M315.1 170.0h1.1M314.8 173.0h1.1M314.4 173.9h1.1M314.4 174.0h1.1M315.6 174.5h1.1M314.3 174.6h1.1M313.4 175.5h1.1M313.4 175.6h1.1M313.7 175.1h1.1M312.9 174.8h1.1M311.2 176.6h1.1M312.8 176.4h1.1M322.6 175.3h1.1M320.6 176.4h1.1M321.1 175.9h1.1M317.1 175.9h1.1M318.6 176.3h1.1M322.6 176.1h1.1M320.7 174.2h1.1M319.9 170.1h1.1M320.9 174.6h1.1M317.2 169.4h1.1M321.4 176.6h1.1M323.7 169.8h1.1M320.7 173.7h1.1M321.0 170.3h1.1M319.8 173.6h1.1M317.9 172.6h1.1M319.4 169.9h1.1M318.7 173.5h1.1M321.0 170.5h1.1M323.1 169.3h1.1M322.0 169.5h1.1M320.5 169.1h1.1M323.2 169.4h1.1M324.0 164.0h1.1M320.7 168.0h1.1M322.1 169.8h1.1M321.9 174.0h1.1M321.2 167.0h1.1M320.5 165.4h1.1M321.9 167.8h1.1M321.2 164.3h1.1M319.6 166.7h1.1M321.0 165.8h1.1M326.5 164.4h1.1M321.1 166.5h1.1M320.5 164.9h1.1M322.7 163.9h1.1M321.7 164.1h1.1M323.8 161.0h1.1M321.0 157.1h1.1M323.2 163.6h1.1M323.9 160.3h1.1M322.5 159.2h1.1M320.9 160.8h1.1M320.1 162.3h1.1M321.0 157.9h1.1M324.2 159.5h1.1M322.2 160.4h1.1M322.6 163.4h1.1M324.0 162.6h1.1M324.2 158.5h1.1M323.2 155.3h1.1M326.5 161.4h1.1M326.2 161.1h1.1M320.9 159.1h1.1M322.3 155.4h1.1M318.6 158.8h1.1M322.6 154.0h1.1M324.5 157.7h1.1M324.0 156.3h1.1M324.7 155.6h1.1M324.0 159.2h1.1M324.1 155.4h1.1M321.1 153.0h1.1M320.4 154.3h1.1M323.0 153.4h1.1M321.3 153.3h1.1M322.1 154.9h1.1M326.5 153.7h1.1M325.8 152.4h1.1M325.3 151.5h1.1M322.6 155.7h1.1M326.0 153.7h1.1M327.5 151.5h1.1M327.8 152.0h1.1M328.7 153.4h1.1M328.7 152.4h1.1M324.7 150.9h1.1M324.2 152.7h1.1M327.3 149.6h1.1M328.1 155.4h1.1M330.1 152.5h1.1M328.0 153.2h1.1M327.7 151.7h1.1M328.5 154.3h1.1M330.6 147.4h1.1M331.4 152.9h1.1M329.0 151.3h1.1M330.9 151.1h1.1M333.5 154.7h1.1M334.3 151.4h1.1M334.0 149.5h1.1M333.9 152.2h1.1M332.9 149.7h1.1M332.2 150.8h1.1M333.9 146.7h1.1M331.0 153.6h1.1M333.5 151.1h1.1M336.2 152.4h1.1M333.3 153.9h1.1M332.8 151.5h1.1M334.6 154.5h1.1M334.4 153.4h1.1M332.9 153.4h1.1M333.9 154.2h1.1M337.3 152.9h1.1M336.2 154.2h1.1M333.7 154.8h1.1M333.0 153.4h1.1M333.5 154.9h1.1M337.1 153.7h1.1M331.2 156.6h1.1M334.3 152.8h1.1M335.8 154.4h1.1M332.8 157.7h1.1M333.6 157.9h1.1M333.9 158.1h1.1M336.7 156.1h1.1M337.4 155.0h1.1M338.5 159.7h1.1M339.9 160.7h1.1M337.0 158.5h1.1M334.3 159.9h1.1M334.6 163.1h1.1M334.4 160.5h1.1M338.3 160.2h1.1M333.7 160.3h1.1M340.3 161.3h1.1M333.6 164.1h1.1M339.3 160.5h1.1M337.7 161.8h1.1M339.9 163.3h1.1M337.3 163.2h1.1M338.0 162.2h1.1M337.3 162.5h1.1M334.5 168.6h1.1M337.0 160.4h1.1M338.7 165.6h1.1M342.6 164.7h1.1M339.0 166.4h1.1M334.9 169.0h1.1M338.6 165.8h1.1M336.5 167.2h1.1M338.4 165.8h1.1M340.4 167.6h1.1M339.2 168.7h1.1M339.4 168.9h1.1M338.3 167.2h1.1M339.3 167.9h1.1M337.2 171.6h1.1M338.3 168.4h1.1M339.6 175.0h1.1M335.7 170.8h1.1M337.2 164.6h1.1M338.4 172.8h1.1M337.6 168.9h1.1M339.8 173.0h1.1M339.1 172.1h1.1M339.3 172.9h1.1M343.6 170.0h1.1M338.6 175.3h1.1M340.9 177.5h1.1M335.4 175.1h1.1M341.6 173.9h1.1M337.2 174.1h1.1M339.2 176.6h1.1M342.3 177.2h1.1M339.0 171.9h1.1M339.1 177.1h1.1M341.6 176.9h1.1M337.8 176.4h1.1M326.0 139.0h1.1M323.7 138.7h1.1M328.7 138.0h1.1M326.0 138.2h1.1M329.0 132.8h1.1M327.6 137.1h1.1M328.3 135.9h1.1M325.8 134.6h1.1M328.4 134.5h1.1M328.3 132.7h1.1M328.7 135.9h1.1M331.1 133.9h1.1M327.9 134.3h1.1M330.6 131.9h1.1M328.9 131.6h1.1M330.8 133.8h1.1M331.9 133.2h1.1M329.9 133.4h1.1M332.2 131.8h1.1M330.4 130.5h1.1M333.2 130.6h1.1M328.5 130.7h1.1M332.7 133.0h1.1M331.5 129.9h1.1M335.2 133.4h1.1M334.8 131.2h1.1M334.8 133.8h1.1M336.2 133.5h1.1M336.8 130.7h1.1M330.7 128.4h1.1M333.6 131.5h1.1M334.8 132.3h1.1M336.1 135.2h1.1M335.1 134.2h1.1M338.3 133.1h1.1M337.2 131.3h1.1M340.4 131.5h1.1M338.6 133.5h1.1M338.8 131.3h1.1M337.6 132.6h1.1M339.7 131.6h1.1M337.6 131.7h1.1M340.4 133.8h1.1M342.3 131.8h1.1M339.3 130.7h1.1M341.2 129.6h1.1M340.6 129.6h1.1M342.1 131.6h1.1M345.9 132.8h1.1M345.5 132.3h1.1M341.6 130.5h1.1M342.4 132.6h1.1M346.0 130.6h1.1M348.1 132.6h1.1M345.9 134.2h1.1M346.2 131.3h1.1M348.3 133.7h1.1M345.5 136.6h1.1M345.7 135.3h1.1M347.2 133.1h1.1M348.0 135.6h1.1M344.0 133.1h1.1M347.3 136.9h1.1M344.7 135.0h1.1M346.3 135.6h1.1M344.9 133.2h1.1M345.5 134.1h1.1M343.7 135.3h1.1M345.1 133.2h1.1M344.3 137.1h1.1M344.2 136.0h1.1M346.1 134.6h1.1M342.7 138.5h1.1M344.2 134.8h1.1M339.5 136.6h1.1M341.1 136.2h1.1M340.4 137.6h1.1M340.3 135.2h1.1M341.1 138.3h1.1M339.6 136.3h1.1M340.2 137.3h1.1M340.9 137.8h1.1M338.9 140.1h1.1M340.9 138.0h1.1M335.7 135.6h1.1M338.3 138.7h1.1M338.1 136.3h1.1M336.4 136.1h1.1M335.7 138.1h1.1M335.8 137.9h1.1M333.1 138.8h1.1M335.2 142.0h1.1M334.8 138.5h1.1M335.9 139.2h1.1M332.4 141.6h1.1M335.1 136.5h1.1M331.3 134.7h1.1M333.7 137.6h1.1M333.7 136.6h1.1M331.7 138.1h1.1M334.4 138.8h1.1M332.7 137.0h1.1M331.3 141.4h1.1M329.2 136.9h1.1M329.7 139.5h1.1M328.7 139.4h1.1M328.2 140.2h1.1M330.2 139.3h1.1M329.7 139.6h1.1M328.3 139.0h1.1M326.3 138.3h1.1M328.9 136.2h1.1M329.2 140.8h1.1M326.0 135.3h1.1M325.6 138.3h1.1M328.5 136.7h1.1M326.9 139.8h1.1M335.7 149.8h1.1M339.0 145.2h1.1M323.1 145.1h1.1M329.6 147.6h1.1M328.6 146.1h1.1M332.1 152.3h1.1M336.7 145.6h1.1M337.4 147.1h1.1M330.0 146.1h1.1M340.4 145.9h1.1M335.9 145.3h1.1M330.2 147.2h1.1M327.3 143.8h1.1M334.7 143.2h1.1M331.1 146.2h1.1M329.9 143.4h1.1M328.8 140.7h1.1M331.4 158.6h1.1M335.9 134.8h1.1M333.0 141.8h1.1M328.5 149.3h1.1M333.7 139.3h1.1M339.4 143.5h1.1M343.9 146.2h1.1M324.6 135.7h1.1M334.2 140.2h1.1M330.5 146.0h1.1M323.7 148.1h1.1M329.0 148.2h1.1M336.6 144.8h1.1M335.5 146.8h1.1M329.4 139.4h1.1M338.5 140.9h1.1M334.3 145.3h1.1M337.7 152.7h1.1M328.0 152.4h1.1M336.9 147.5h1.1M335.4 148.7h1.1M335.0 149.2h1.1M322.1 137.1h1.1M337.2 136.6h1.1M337.8 146.0h1.1M324.7 143.7h1.1M335.4 145.0h1.1M329.3 141.3h1.1M331.0 141.1h1.1M336.8 147.4h1.1M336.6 145.0h1.1M346.0 141.7h1.1M330.4 145.9h1.1M337.4 143.0h1.1M333.9 148.0h1.1M326.6 152.1h1.1M335.3 143.8h1.1M332.1 141.8h1.1M334.0 142.0h1.1M335.8 143.7h1.1M333.9 147.8h1.1M327.1 155.4h1.1M330.4 139.2h1.1M323.0 152.0h1.1M323.9 150.2h1.1M337.1 151.0h1.1M327.1 150.9h1.1M334.6 147.0h1.1M332.8 144.1h1.1M332.4 153.7h1.1M335.8 137.7h1.1M334.2 159.6h1.1M331.7 153.9h1.1M333.3 143.7h1.1M331.6 151.4h1.1M338.5 143.7h1.1M329.2 157.8h1.1M335.5 145.2h1.1M338.5 139.7h1.1M327.8 144.8h1.1M331.7 149.2h1.1M333.4 146.3h1.1M337.1 147.0h1.1M337.4 149.9h1.1M336.3 149.9h1.1M332.4 148.2h1.1M325.0 147.2h1.1M332.8 150.1h1.1M331.7 150.5h1.1M334.5 148.5h1.1M330.2 148.9h1.1M333.7 140.6h1.1M334.9 142.6h1.1M329.7 142.5h1.1M337.8 150.5h1.1M330.9 150.6h1.1M332.8 141.4h1.1M323.5 139.5h1.1M334.7 144.5h1.1M329.9 139.1h1.1M338.6 138.5h1.1M344.5 150.1h1.1M322.8 143.0h1.1M336.4 143.8h1.1M335.2 146.5h1.1M336.2 141.9h1.1M333.3 148.1h1.1M335.5 152.2h1.1M334.7 152.3h1.1M332.8 142.5h1.1M332.9 150.0h1.1M326.9 147.5h1.1M326.0 143.0h1.1M327.6 146.0h1.1M327.3 146.3h1.1M341.3 148.5h1.1M327.5 157.3h1.1M330.7 144.2h1.1M345.8 144.7h1.1M333.2 145.5h1.1M344.1 145.5h1.1M327.5 147.7h1.1M334.2 144.7h1.1M334.9 147.1h1.1M333.4 142.4h1.1M337.4 144.0h1.1M332.9 158.3h1.1M330.1 146.6h1.1M330.1 141.0h1.1M331.6 142.9h1.1M330.2 146.1h1.1M334.9 148.4h1.1M335.4 142.3h1.1M337.1 147.7h1.1M327.0 150.2h1.1M332.3 139.3h1.1M326.8 144.3h1.1M329.9 146.5h1.1M337.9 146.3h1.1M332.6 144.2h1.1M324.7 158.3h1.1M330.1 147.2h1.1M332.0 145.1h1.1M336.8 150.7h1.1M330.7 141.6h1.1M330.7 147.2h1.1M338.4 148.1h1.1M333.2 142.3h1.1M332.1 136.4h1.1M336.0 144.5h1.1M335.0 145.4h1.1M325.4 143.8h1.1M329.5 146.8h1.1M332.1 144.2h1.1M336.8 153.7h1.1M330.1 150.1h1.1M336.8 140.9h1.1M321.3 147.0h1.1M327.5 144.4h1.1M327.7 148.6h1.1M344.7 157.4h1.1M336.4 146.8h1.1M337.8 139.5h1.1M341.5 145.2h1.1M335.8 141.5h1.1M334.4 140.0h1.1M337.7 145.8h1.1M323.3 149.2h1.1M347.9 137.9h1.1M326.3 146.2h1.1M335.4 143.0h1.1M337.9 147.6h1.1M329.5 143.3h1.1M337.8 149.7h1.1M322.5 143.6h1.1M346.0 141.3h1.1M335.8 146.3h1.1M332.0 146.3h1.1M328.5 147.4h1.1M344.1 139.6h1.1M337.8 143.7h1.1M334.9 151.0h1.1M332.5 144.6h1.1M337.1 147.1h1.1M330.1 147.9h1.1M328.2 139.9h1.1M333.4 147.9h1.1M326.7 143.2h1.1M334.7 141.9h1.1M330.2 152.1h1.1M337.1 147.3h1.1M328.6 141.4h1.1M336.6 141.5h1.1M331.4 147.1h1.1M342.0 138.8h1.1M346.4 150.1h1.1M328.6 144.0h1.1M331.2 147.3h1.1M327.4 143.1h1.1M331.5 141.1h1.1M341.3 149.6h1.1M326.2 145.8h1.1M334.0 140.9h1.1M341.5 142.3h1.1M336.7 140.9h1.1M331.1 147.6h1.1M337.7 136.6h1.1M325.1 140.5h1.1M319.6 146.9h1.1M343.9 151.4h1.1M333.4 143.4h1.1M331.9 138.7h1.1M334.4 142.8h1.1M336.7 149.8h1.1M329.0 142.9h1.1M338.4 143.6h1.1M330.1 148.7h1.1M328.5 153.6h1.1M333.8 143.9h1.1M336.5 149.1h1.1M330.5 146.9h1.1M327.5 145.6h1.1M336.8 141.0h1.1M335.0 146.0h1.1M340.8 136.7h1.1M328.8 139.3h1.1M332.1 152.0h1.1M345.0 147.6h1.1M323.8 137.9h1.1M326.5 134.3h1.1M337.4 142.2h1.1M337.0 152.9h1.1M334.8 147.4h1.1M316.0 123.5h1.1M316.9 131.1h1.1M297.0 148.1h1.1M307.3 150.1h1.1M350.5 151.8h1.1M345.9 146.2h1.1M318.3 159.9h1.1M319.1 168.1h1.1M342.7 170.7h1.1M341.5 163.3h1.1" stroke="#000" stroke-width="1.1" fill="none"/>
<path d="M318.2 112.1V178.5M290.1 154.3H365.8" stroke="#444" stroke-width=".75" fill="none"/>
<rect x="290.1" y="112.1" width="75.7" height="66.4" fill="none" stroke="#000" stroke-width="1.25"/>
<path d="M290.1 178.5v3.4M290.1 178.5h-3.4M295.8 178.5v1.9M290.1 173.5h-1.9M299.1 178.5v1.9M290.1 170.6h-1.9M301.5 178.5v1.9M290.1 168.5h-1.9M303.3 178.5v1.9M290.1 166.9h-1.9M304.8 178.5v1.9M290.1 165.6h-1.9M306.1 178.5v1.9M290.1 164.5h-1.9M307.2 178.5v1.9M290.1 163.5h-1.9M308.2 178.5v1.9M290.1 162.7h-1.9M309.0 178.5v3.4M290.1 161.9h-3.4M314.7 178.5v1.9M290.1 156.9h-1.9M318.1 178.5v1.9M290.1 154.0h-1.9M320.4 178.5v1.9M290.1 151.9h-1.9M322.3 178.5v1.9M290.1 150.3h-1.9M323.8 178.5v1.9M290.1 149.0h-1.9M325.0 178.5v1.9M290.1 147.9h-1.9M326.1 178.5v1.9M290.1 146.9h-1.9M327.1 178.5v1.9M290.1 146.1h-1.9M328.0 178.5v3.4M290.1 145.3h-3.4M333.6 178.5v1.9M290.1 140.3h-1.9M337.0 178.5v1.9M290.1 137.4h-1.9M339.3 178.5v1.9M290.1 135.3h-1.9M341.2 178.5v1.9M290.1 133.7h-1.9M342.7 178.5v1.9M290.1 132.4h-1.9M343.9 178.5v1.9M290.1 131.3h-1.9M345.0 178.5v1.9M290.1 130.3h-1.9M346.0 178.5v1.9M290.1 129.5h-1.9M346.9 178.5v3.4M290.1 128.7h-3.4M352.6 178.5v1.9M290.1 123.7h-1.9M355.9 178.5v1.9M290.1 120.8h-1.9M358.3 178.5v1.9M290.1 118.7h-1.9M360.1 178.5v1.9M290.1 117.1h-1.9M361.6 178.5v1.9M290.1 115.8h-1.9M362.9 178.5v1.9M290.1 114.7h-1.9M364.0 178.5v1.9M290.1 113.7h-1.9M364.9 178.5v1.9M290.1 112.9h-1.9M365.8 178.5v3.4M290.1 112.1h-3.4" stroke="#000" stroke-width="1" fill="none"/>
<text x="289.9" y="191.9" font-size="7.6" text-anchor="middle" stroke="#000" stroke-width=".2">10<tspan dy="-3.9" font-size="7">0</tspan></text>
<text transform="translate(284.8 178.9) rotate(-90)" font-size="7.6" text-anchor="middle" stroke="#000" stroke-width=".2">10<tspan dy="-3.9" font-size="7">0</tspan></text>
<text x="308.4" y="191.9" font-size="7.6" text-anchor="middle" stroke="#000" stroke-width=".2">10<tspan dy="-3.9" font-size="7">1</tspan></text>
<text transform="translate(284.8 162.9) rotate(-90)" font-size="7.6" text-anchor="middle" stroke="#000" stroke-width=".2">10<tspan dy="-3.9" font-size="7">1</tspan></text>
<text x="326.8" y="191.9" font-size="7.6" text-anchor="middle" stroke="#000" stroke-width=".2">10<tspan dy="-3.9" font-size="7">2</tspan></text>
<text transform="translate(284.8 146.9) rotate(-90)" font-size="7.6" text-anchor="middle" stroke="#000" stroke-width=".2">10<tspan dy="-3.9" font-size="7">2</tspan></text>
<text x="345.3" y="191.9" font-size="7.6" text-anchor="middle" stroke="#000" stroke-width=".2">10<tspan dy="-3.9" font-size="7">3</tspan></text>
<text transform="translate(284.8 130.8) rotate(-90)" font-size="7.6" text-anchor="middle" stroke="#000" stroke-width=".2">10<tspan dy="-3.9" font-size="7">3</tspan></text>
<text x="363.7" y="191.9" font-size="7.6" text-anchor="middle" stroke="#000" stroke-width=".2">10<tspan dy="-3.9" font-size="7">4</tspan></text>
<text transform="translate(284.8 114.8) rotate(-90)" font-size="7.6" text-anchor="middle" stroke="#000" stroke-width=".2">10<tspan dy="-3.9" font-size="7">4</tspan></text>
<text x="328.0" y="201.1" font-size="7.8" stroke="#000" stroke-width=".25">EGFP</text>
<text x="328.2" y="108.6" font-size="8.1" stroke="#000" stroke-width=".25">no. 4 CD33 BM.023</text>
<text transform="translate(274.8 145.9) rotate(-90)" font-size="8.3" stroke="#000" stroke-width=".25">CD33 PE</text>
<text x="366.6" y="119.8" font-size="8.7" text-anchor="end" stroke="#000" stroke-width=".25">98%</text>
<path d="M391.1 178.5L391.1 177.1L391.1 175.7L391.1 174.2L391.1 172.8L391.1 171.4L391.1 170.0L391.1 168.6L391.1 167.1L391.1 165.7L392.4 165.8L393.5 165.0L395.7 164.9L396.7 163.5L397.9 164.2L399.9 162.8L400.2 163.2L402.2 162.4L403.5 162.2L404.5 162.5L406.5 162.5L406.8 161.8L409.0 161.9L410.6 161.1L411.6 162.0L412.7 161.0L413.8 161.6L414.5 162.8L416.2 163.2L415.5 165.3L416.1 166.7L415.6 167.6L415.5 169.0L416.3 170.2L415.3 171.1L416.3 173.5L416.3 174.0L415.4 176.0L415.3 177.1L415.5 178.5L414.1 178.5L412.8 178.5L411.4 178.5L410.0 178.5L408.7 178.5L407.3 178.5L406.0 178.5L404.6 178.5L403.3 178.5L401.9 178.5L400.6 178.5L399.2 178.5L397.9 178.5L396.5 178.5L395.2 178.5L393.8 178.5L392.5 178.5Z" fill="#000"/>
<path d="M420.2 142.5L421.2 141.9L421.6 140.5L422.1 139.1L423.7 136.8L425.6 136.0L426.1 136.7L428.0 135.5L428.6 134.9L430.4 134.6L432.3 135.2L434.4 135.1L435.1 134.2L436.6 135.1L439.1 134.8L438.6 136.8L439.2 137.0L440.8 139.2L441.0 139.6L440.9 141.1L441.2 141.9L439.8 144.1L440.2 145.7L440.6 146.2L439.9 147.5L438.8 149.6L438.4 150.7L436.2 150.7L435.5 152.1L434.4 153.4L434.6 155.1L431.8 155.0L430.9 155.1L431.0 155.4L429.6 155.6L427.3 156.0L425.8 154.5L425.2 154.5L423.5 154.6L421.9 153.9L421.2 152.6L421.1 149.7L419.8 149.6L420.5 148.4L420.4 147.4L419.7 144.9L420.6 144.5Z" fill="#000"/>
<path d="M429.8 173.3L431.3 171.0L430.3 170.3L432.0 170.5L434.6 169.4L434.4 168.8L437.2 169.4L439.1 169.7L438.9 170.8L440.7 170.5L440.7 170.8L441.3 173.4L441.2 173.6L440.9 176.4L441.0 178.0L441.6 178.5L440.3 178.5L439.0 178.5L437.6 178.5L436.3 178.5L434.9 178.5L433.6 178.5L432.2 178.5L430.8 178.5L429.4 177.1L429.2 175.0L430.1 175.6Z" fill="#000"/>
<path d="M393.5 166.9h1.1M394.1 164.2h1.1M393.8 165.2h1.1M396.1 164.6h1.1M396.1 162.9h1.1M393.9 162.0h1.1M396.5 164.3h1.1M396.8 163.4h1.1M399.8 164.5h1.1M397.3 164.6h1.1M401.4 164.0h1.1M399.4 163.8h1.1M399.6 162.4h1.1M402.3 163.8h1.1M404.1 164.1h1.1M402.6 161.4h1.1M402.6 160.1h1.1M407.0 164.9h1.1M404.0 164.5h1.1M406.5 161.4h1.1M406.4 162.2h1.1M406.6 162.5h1.1M408.1 162.2h1.1M407.3 165.5h1.1M409.8 161.4h1.1M410.1 160.4h1.1M408.8 160.1h1.1M410.5 162.0h1.1M412.5 161.3h1.1M409.9 160.3h1.1M415.0 160.5h1.1M413.9 163.7h1.1M415.3 161.9h1.1M417.7 161.1h1.1M412.4 162.5h1.1M415.4 163.4h1.1M416.3 161.1h1.1M415.6 163.3h1.1M414.6 165.2h1.1M417.0 164.4h1.1M416.7 166.0h1.1M416.0 166.2h1.1M417.5 167.2h1.1M417.5 166.1h1.1M416.1 167.8h1.1M418.8 168.5h1.1M416.7 169.1h1.1M415.8 170.3h1.1M415.7 172.8h1.1M417.6 172.2h1.1M416.0 172.3h1.1M415.4 173.8h1.1M413.3 175.0h1.1M413.6 171.4h1.1M417.6 175.9h1.1M414.4 176.6h1.1M415.3 177.0h1.1M419.7 142.4h1.1M419.4 145.5h1.1M416.4 142.7h1.1M421.4 141.8h1.1M422.5 142.2h1.1M419.9 144.7h1.1M423.7 143.9h1.1M420.6 140.7h1.1M419.9 137.0h1.1M419.4 138.1h1.1M419.1 140.6h1.1M424.3 137.7h1.1M423.3 139.0h1.1M422.2 137.8h1.1M422.3 139.4h1.1M418.8 139.0h1.1M419.2 139.2h1.1M420.1 139.3h1.1M423.2 139.6h1.1M424.7 138.8h1.1M422.0 136.1h1.1M426.0 139.0h1.1M422.4 141.9h1.1M426.2 137.9h1.1M422.2 137.4h1.1M422.8 136.4h1.1M426.6 132.5h1.1M426.7 138.0h1.1M424.5 135.4h1.1M423.7 134.4h1.1M428.1 134.8h1.1M426.5 140.6h1.1M427.6 135.1h1.1M429.7 136.2h1.1M430.3 132.0h1.1M430.1 133.8h1.1M425.9 135.8h1.1M425.5 136.5h1.1M429.8 128.8h1.1M430.3 132.6h1.1M432.2 130.4h1.1M428.7 135.6h1.1M431.4 131.7h1.1M431.8 135.2h1.1M430.6 135.2h1.1M431.4 133.0h1.1M433.8 132.1h1.1M431.3 136.5h1.1M430.9 135.8h1.1M435.4 134.5h1.1M434.0 133.1h1.1M433.9 136.0h1.1M430.3 134.6h1.1M433.0 133.6h1.1M432.7 129.6h1.1M434.2 135.3h1.1M437.2 138.3h1.1M435.2 135.2h1.1M437.3 134.2h1.1M432.8 131.8h1.1M439.2 133.5h1.1M433.5 134.0h1.1M436.6 134.4h1.1M434.2 134.5h1.1M436.7 132.6h1.1M438.8 135.2h1.1M435.6 130.8h1.1M439.3 136.2h1.1M437.2 138.3h1.1M438.9 136.7h1.1M436.9 136.9h1.1M441.2 135.7h1.1M437.7 138.0h1.1M438.9 136.5h1.1M440.6 137.9h1.1M434.5 136.4h1.1M438.4 138.7h1.1M439.4 137.0h1.1M438.9 136.4h1.1M440.9 138.2h1.1M441.4 137.4h1.1M444.0 138.8h1.1M442.0 140.6h1.1M446.4 138.1h1.1M440.9 141.4h1.1M440.7 139.4h1.1M441.4 137.7h1.1M443.7 138.9h1.1M442.0 139.1h1.1M441.7 143.3h1.1M444.2 141.5h1.1M440.7 139.6h1.1M440.7 141.9h1.1M442.6 141.9h1.1M443.7 140.2h1.1M441.4 141.2h1.1M439.6 146.1h1.1M439.5 144.6h1.1M441.6 141.6h1.1M437.0 145.6h1.1M440.1 147.2h1.1M442.6 145.0h1.1M441.8 142.3h1.1M441.0 145.1h1.1M438.7 146.0h1.1M440.5 146.5h1.1M432.8 144.0h1.1M437.5 148.7h1.1M440.4 146.8h1.1M439.6 148.6h1.1M438.6 146.9h1.1M443.3 149.6h1.1M438.6 148.1h1.1M438.0 146.8h1.1M440.0 148.0h1.1M437.1 150.2h1.1M437.5 150.3h1.1M437.6 151.5h1.1M434.4 150.4h1.1M437.0 149.8h1.1M434.6 150.5h1.1M436.9 155.8h1.1M438.7 151.0h1.1M435.6 153.7h1.1M436.8 153.5h1.1M439.5 151.1h1.1M437.4 155.7h1.1M433.9 149.8h1.1M432.2 151.6h1.1M436.1 155.2h1.1M435.2 150.8h1.1M435.6 156.4h1.1M437.3 154.1h1.1M432.8 154.0h1.1M436.8 158.0h1.1M434.4 154.0h1.1M431.6 152.9h1.1M434.4 156.3h1.1M432.3 157.5h1.1M431.9 155.1h1.1M435.4 153.6h1.1M431.2 153.5h1.1M432.8 154.2h1.1M429.6 155.5h1.1M432.9 156.5h1.1M431.7 157.4h1.1M427.0 154.6h1.1M432.1 156.4h1.1M430.5 159.4h1.1M428.6 157.4h1.1M430.7 158.4h1.1M430.6 156.7h1.1M435.0 157.7h1.1M427.1 154.8h1.1M428.4 154.5h1.1M427.0 158.8h1.1M426.5 153.0h1.1M426.4 155.4h1.1M426.5 157.0h1.1M427.3 152.7h1.1M426.7 156.5h1.1M428.7 157.3h1.1M422.5 153.3h1.1M424.9 154.6h1.1M423.4 153.3h1.1M423.4 153.8h1.1M425.8 156.0h1.1M426.9 156.3h1.1M421.4 154.7h1.1M418.8 154.0h1.1M422.8 152.5h1.1M421.3 155.4h1.1M420.6 157.8h1.1M423.1 154.1h1.1M419.3 152.2h1.1M421.0 154.3h1.1M421.0 153.4h1.1M419.7 152.9h1.1M423.6 153.0h1.1M420.6 149.5h1.1M422.9 151.4h1.1M421.8 150.9h1.1M422.6 149.9h1.1M422.1 150.8h1.1M416.3 150.3h1.1M424.3 148.6h1.1M423.1 150.4h1.1M415.6 152.8h1.1M418.9 150.2h1.1M419.5 149.8h1.1M415.0 151.0h1.1M419.1 149.6h1.1M421.1 148.3h1.1M421.7 146.7h1.1M418.8 148.5h1.1M417.6 148.6h1.1M420.1 146.0h1.1M419.2 145.8h1.1M423.2 148.0h1.1M418.9 144.5h1.1M421.4 144.9h1.1M420.2 144.0h1.1M422.5 144.0h1.1M421.5 144.0h1.1M421.5 144.3h1.1M421.0 140.8h1.1M421.7 145.2h1.1M433.1 169.9h1.1M427.7 173.5h1.1M431.1 175.3h1.1M428.3 174.1h1.1M431.4 173.3h1.1M435.1 172.5h1.1M429.1 173.1h1.1M432.5 172.3h1.1M431.0 171.6h1.1M430.2 170.2h1.1M428.1 167.0h1.1M434.7 174.1h1.1M430.4 172.3h1.1M430.9 169.7h1.1M430.1 168.3h1.1M435.3 171.2h1.1M429.0 168.3h1.1M432.0 167.2h1.1M433.8 169.5h1.1M433.5 168.8h1.1M432.9 167.5h1.1M437.4 168.9h1.1M430.9 166.0h1.1M434.8 170.2h1.1M433.6 169.6h1.1M428.4 167.5h1.1M434.1 168.8h1.1M437.3 170.4h1.1M434.3 166.1h1.1M437.7 170.5h1.1M436.9 169.0h1.1M435.6 168.0h1.1M438.1 168.6h1.1M438.7 170.7h1.1M442.6 171.9h1.1M441.0 169.3h1.1M445.5 169.2h1.1M439.9 170.9h1.1M437.6 170.3h1.1M440.9 167.4h1.1M439.6 171.5h1.1M437.4 170.9h1.1M440.2 172.9h1.1M443.4 168.3h1.1M442.4 169.3h1.1M443.0 172.0h1.1M444.1 172.8h1.1M437.7 170.8h1.1M445.4 175.0h1.1M442.6 172.3h1.1M439.6 169.9h1.1M445.1 174.1h1.1M443.0 172.5h1.1M442.8 173.9h1.1M441.8 173.2h1.1M445.8 172.3h1.1M442.0 175.9h1.1M441.3 175.2h1.1M439.1 175.1h1.1M437.0 176.7h1.1M442.1 175.7h1.1M441.1 175.8h1.1M442.7 176.6h1.1M434.1 177.6h1.1M429.3 175.8h1.1M431.5 175.6h1.1M429.9 175.4h1.1M429.8 174.9h1.1M431.9 174.2h1.1M426.2 174.0h1.1M427.2 173.7h1.1M428.3 173.4h1.1M438.6 169.5h1.1M437.2 167.3h1.1M422.5 169.9h1.1M432.9 163.6h1.1M435.3 174.6h1.1M436.5 175.0h1.1M433.9 168.7h1.1M439.3 167.9h1.1M431.6 161.1h1.1M437.7 164.5h1.1M443.1 172.5h1.1M428.9 171.1h1.1M434.4 165.5h1.1M423.0 174.5h1.1M433.4 160.9h1.1M435.9 174.9h1.1M422.6 173.5h1.1M430.8 170.9h1.1M438.7 167.6h1.1M437.6 172.5h1.1M431.2 173.7h1.1M434.0 166.9h1.1M441.1 160.1h1.1M445.9 172.5h1.1M429.5 168.9h1.1M448.4 162.4h1.1M444.9 175.7h1.1M441.9 170.2h1.1M436.5 171.2h1.1M433.1 168.2h1.1M439.7 173.7h1.1M426.4 173.3h1.1M443.6 172.0h1.1M443.7 162.9h1.1M430.8 168.8h1.1M444.6 165.3h1.1M429.1 170.7h1.1M440.5 177.5h1.1M436.0 168.3h1.1M440.7 170.4h1.1M430.4 177.6h1.1M440.5 176.8h1.1M437.0 165.2h1.1M432.7 167.6h1.1M440.0 160.5h1.1M434.8 167.6h1.1M435.3 162.7h1.1M444.4 165.9h1.1M436.3 168.8h1.1M431.7 172.9h1.1M429.5 169.5h1.1M436.2 175.9h1.1M442.1 166.0h1.1M439.4 166.6h1.1M441.5 173.6h1.1M431.8 161.4h1.1M428.9 172.7h1.1M438.5 167.3h1.1M437.7 172.2h1.1M424.5 169.8h1.1M437.7 167.2h1.1M433.0 172.7h1.1M425.2 163.5h1.1M442.2 173.9h1.1M435.4 166.8h1.1M428.7 162.3h1.1M442.1 173.5h1.1M444.1 173.6h1.1M435.3 172.9h1.1M436.5 170.1h1.1M442.5 164.3h1.1M441.7 172.0h1.1M432.2 173.5h1.1M431.1 165.8h1.1M421.8 169.6h1.1M438.8 165.9h1.1M436.7 166.1h1.1M443.3 164.6h1.1M422.6 174.9h1.1M433.3 167.6h1.1M434.5 168.9h1.1M436.1 161.9h1.1M431.9 165.2h1.1M424.2 174.1h1.1M438.3 163.6h1.1M444.8 169.8h1.1M441.2 168.0h1.1M432.5 170.2h1.1M428.5 165.8h1.1M443.0 161.4h1.1M442.8 164.8h1.1M432.8 162.3h1.1M434.8 168.5h1.1M442.8 173.2h1.1M443.0 174.1h1.1M435.8 171.6h1.1M436.6 169.3h1.1M434.3 174.7h1.1M434.4 167.6h1.1M437.9 172.3h1.1M422.4 163.7h1.1M435.5 169.6h1.1M441.5 174.2h1.1M441.1 170.8h1.1M433.1 172.6h1.1M441.5 166.9h1.1M436.2 165.9h1.1M448.0 169.0h1.1M444.0 170.6h1.1M433.5 163.1h1.1M437.8 167.6h1.1M439.1 164.7h1.1M440.8 168.8h1.1M436.2 176.1h1.1M438.4 167.9h1.1M425.6 168.8h1.1M439.3 167.2h1.1M430.7 175.9h1.1M435.3 170.9h1.1M440.1 172.6h1.1M440.2 161.1h1.1M433.0 171.4h1.1M435.7 167.7h1.1M445.8 169.5h1.1M435.3 172.5h1.1M443.0 177.3h1.1M433.5 176.3h1.1M435.9 166.4h1.1M433.0 173.3h1.1M424.4 173.8h1.1M441.3 177.7h1.1M439.5 174.9h1.1M433.0 173.0h1.1M439.0 177.1h1.1M438.7 168.9h1.1M437.1 175.6h1.1M442.7 173.3h1.1M436.0 168.4h1.1M425.2 176.5h1.1M434.8 171.0h1.1M428.9 173.3h1.1M434.1 164.3h1.1M443.4 172.0h1.1M429.4 166.1h1.1M432.3 170.8h1.1M432.4 171.1h1.1M442.1 163.7h1.1M433.8 177.2h1.1M431.7 176.2h1.1M428.9 176.1h1.1M431.6 166.7h1.1M440.6 167.1h1.1M442.0 169.7h1.1M443.1 172.2h1.1M445.5 176.5h1.1M433.8 175.5h1.1M437.0 175.5h1.1M436.9 171.5h1.1M438.4 177.6h1.1M433.9 166.7h1.1M429.5 168.0h1.1M436.1 172.5h1.1M433.3 169.1h1.1M420.8 168.4h1.1M433.3 176.9h1.1M437.4 164.4h1.1M427.5 170.2h1.1M438.5 164.4h1.1M436.3 175.2h1.1M428.2 169.1h1.1M433.4 168.9h1.1M444.5 174.7h1.1M447.7 169.2h1.1M438.7 171.7h1.1M441.3 167.2h1.1M436.2 173.0h1.1M436.8 165.7h1.1M437.5 174.5h1.1M427.9 164.6h1.1M434.4 165.7h1.1M440.7 174.7h1.1M426.5 172.3h1.1M424.1 174.4h1.1M447.4 166.8h1.1M423.9 167.9h1.1M444.1 172.4h1.1M431.7 171.4h1.1M427.2 173.0h1.1M441.0 160.0h1.1M439.3 165.5h1.1M431.0 171.1h1.1M433.9 166.2h1.1M434.5 168.0h1.1M439.4 173.7h1.1M431.5 165.3h1.1M436.6 168.7h1.1M436.4 168.6h1.1M429.3 172.7h1.1M430.2 173.0h1.1M437.5 163.7h1.1M432.7 173.7h1.1M438.4 167.0h1.1M439.5 173.8h1.1M443.5 172.4h1.1M430.3 171.6h1.1M429.9 165.8h1.1M436.5 170.5h1.1M445.6 159.5h1.1M432.6 171.8h1.1M430.1 170.1h1.1M423.8 168.0h1.1M437.3 169.2h1.1M438.3 168.3h1.1M436.9 169.4h1.1M430.0 165.4h1.1M433.6 160.0h1.1M427.5 177.3h1.1M434.7 165.7h1.1M438.4 166.3h1.1M429.0 173.5h1.1M424.8 164.6h1.1M442.7 164.8h1.1M430.3 162.5h1.1M431.3 163.6h1.1M434.2 175.3h1.1M418.8 172.5h1.1M432.4 173.3h1.1M443.4 159.5h1.1M427.5 164.0h1.1M441.2 174.3h1.1M444.3 173.1h1.1M438.0 164.5h1.1M433.0 164.9h1.1M435.5 174.6h1.1M437.4 161.0h1.1M435.8 173.9h1.1M436.9 175.1h1.1M436.0 170.1h1.1M426.2 175.9h1.1M439.0 171.4h1.1M449.2 167.8h1.1M439.8 172.0h1.1M429.1 165.7h1.1M425.1 164.4h1.1M436.5 163.6h1.1M432.3 171.0h1.1M426.3 163.8h1.1M435.0 171.9h1.1M434.9 167.9h1.1M438.0 165.4h1.1M435.7 174.0h1.1M443.1 164.7h1.1M437.4 165.1h1.1M433.6 173.4h1.1M433.7 176.1h1.1M432.3 172.3h1.1M431.6 167.5h1.1M443.4 167.6h1.1M437.6 161.7h1.1M436.0 164.2h1.1M438.1 175.2h1.1M432.0 174.1h1.1M431.8 161.6h1.1M436.2 158.6h1.1M424.4 171.0h1.1M439.5 166.2h1.1M435.0 167.4h1.1M428.6 169.0h1.1M443.8 161.4h1.1M435.9 174.0h1.1M437.6 174.0h1.1M422.5 161.0h1.1M426.4 173.6h1.1M433.6 167.0h1.1M435.8 177.5h1.1M439.9 175.3h1.1M435.9 170.4h1.1M441.2 169.2h1.1M434.2 161.7h1.1M434.2 158.3h1.1M441.1 168.4h1.1M449.4 176.6h1.1M425.1 160.3h1.1M433.9 162.6h1.1M436.4 176.1h1.1M435.8 167.7h1.1M443.2 174.1h1.1M450.5 174.4h1.1M441.8 172.8h1.1M440.8 167.3h1.1M442.9 166.5h1.1M443.4 177.6h1.1M432.7 163.0h1.1M433.4 168.7h1.1M438.1 173.1h1.1M442.0 163.0h1.1M435.7 174.1h1.1M443.8 171.8h1.1M448.5 164.8h1.1M423.8 173.8h1.1M435.1 169.7h1.1M426.4 169.3h1.1M433.7 166.1h1.1M438.9 173.9h1.1M424.5 173.0h1.1M429.3 167.1h1.1M437.6 170.9h1.1M435.1 176.3h1.1M438.0 171.2h1.1M430.7 170.7h1.1M423.9 165.9h1.1M434.6 170.7h1.1M433.5 172.1h1.1M432.3 169.0h1.1M434.2 169.3h1.1M437.1 163.0h1.1M432.4 163.3h1.1M443.6 169.0h1.1M437.1 173.2h1.1M431.4 170.8h1.1M429.2 161.8h1.1M435.4 172.4h1.1M428.5 172.3h1.1M422.8 169.4h1.1M435.8 171.1h1.1M440.8 157.6h1.1M429.5 176.4h1.1M437.3 165.6h1.1M433.7 175.9h1.1M440.6 174.2h1.1M443.1 164.7h1.1M443.2 169.9h1.1M435.6 172.3h1.1M431.4 169.5h1.1M430.3 166.6h1.1M420.3 164.7h1.1M438.3 171.8h1.1M435.4 174.0h1.1M438.8 167.5h1.1M431.5 164.8h1.1M431.3 177.0h1.1M427.4 162.7h1.1M445.8 158.9h1.1M432.3 172.7h1.1M440.4 173.4h1.1M434.1 173.0h1.1M439.3 177.0h1.1M428.4 165.3h1.1M423.2 169.8h1.1M424.9 166.4h1.1M431.0 167.3h1.1M439.3 171.8h1.1M441.0 163.4h1.1M435.5 166.0h1.1M430.4 165.8h1.1M434.7 173.0h1.1M435.0 173.4h1.1M428.3 171.4h1.1M428.3 172.4h1.1M427.4 170.4h1.1M434.0 165.5h1.1M437.6 166.7h1.1M439.1 167.5h1.1M438.5 170.8h1.1M427.1 169.5h1.1M426.2 165.7h1.1M430.2 164.9h1.1M429.5 165.8h1.1M443.9 176.6h1.1M439.0 162.4h1.1M438.1 173.4h1.1M443.5 169.8h1.1M429.0 169.7h1.1M440.6 169.2h1.1M435.7 163.1h1.1M429.8 167.0h1.1M433.8 164.9h1.1M442.3 170.5h1.1M446.3 167.5h1.1M437.2 170.9h1.1M430.2 164.7h1.1M425.3 165.6h1.1M432.4 172.1h1.1M437.6 174.7h1.1M438.9 173.0h1.1M436.8 175.4h1.1M444.9 168.7h1.1M443.0 163.7h1.1M427.8 171.0h1.1M430.9 164.7h1.1M435.7 168.3h1.1M445.5 167.2h1.1M433.3 163.7h1.1M441.2 167.1h1.1M427.3 168.7h1.1M424.6 162.2h1.1M435.6 158.2h1.1M427.4 164.1h1.1M439.6 158.1h1.1M435.9 166.4h1.1M434.7 159.2h1.1M429.9 156.3h1.1M432.7 159.0h1.1M433.3 156.2h1.1M429.5 160.2h1.1M433.5 159.4h1.1M430.8 157.4h1.1M432.4 158.9h1.1M434.7 150.6h1.1M438.5 157.4h1.1M431.2 157.1h1.1M433.2 159.5h1.1M436.5 157.7h1.1M430.5 161.7h1.1M431.9 156.5h1.1M431.9 158.3h1.1M432.1 164.3h1.1M434.4 162.4h1.1M430.5 159.9h1.1M442.1 164.3h1.1M431.2 163.6h1.1M425.1 157.3h1.1M439.6 156.5h1.1M436.7 160.6h1.1M430.7 159.6h1.1M438.9 154.8h1.1M422.4 155.4h1.1M431.3 157.3h1.1M433.6 157.4h1.1M435.3 155.9h1.1M430.4 163.7h1.1M433.9 155.2h1.1M435.2 165.7h1.1M427.9 161.9h1.1M443.5 157.3h1.1M436.8 158.1h1.1M434.3 155.6h1.1M432.7 154.8h1.1M431.1 161.9h1.1M431.0 157.6h1.1M434.2 158.9h1.1M430.2 161.7h1.1M427.3 158.1h1.1M437.3 157.4h1.1M433.4 162.3h1.1M436.3 165.7h1.1M435.3 161.3h1.1M432.3 160.5h1.1M433.9 162.3h1.1M426.1 161.7h1.1M432.8 160.4h1.1M429.7 160.4h1.1M430.3 159.1h1.1M429.4 156.2h1.1M433.8 156.9h1.1M432.4 158.0h1.1M397.9 137.7h1.1M396.8 140.7h1.1M401.2 154.2h1.1M408.1 153.7h1.1M418.4 158.8h1.1M422.1 159.9h1.1M448.4 163.5h1.1" stroke="#000" stroke-width="1.1" fill="none"/>
<path d="M413.4 112.1V178.5M391.1 158.1H466.6" stroke="#444" stroke-width=".75" fill="none"/>
<rect x="391.1" y="112.1" width="75.5" height="66.4" fill="none" stroke="#000" stroke-width="1.25"/>
<path d="M391.1 178.5v3.4M391.1 178.5h-3.4M396.8 178.5v1.9M391.1 173.5h-1.9M400.1 178.5v1.9M391.1 170.6h-1.9M402.5 178.5v1.9M391.1 168.5h-1.9M404.3 178.5v1.9M391.1 166.9h-1.9M405.8 178.5v1.9M391.1 165.6h-1.9M407.1 178.5v1.9M391.1 164.5h-1.9M408.1 178.5v1.9M391.1 163.5h-1.9M409.1 178.5v1.9M391.1 162.7h-1.9M410.0 178.5v3.4M391.1 161.9h-3.4M415.7 178.5v1.9M391.1 156.9h-1.9M419.0 178.5v1.9M391.1 154.0h-1.9M421.3 178.5v1.9M391.1 151.9h-1.9M423.2 178.5v1.9M391.1 150.3h-1.9M424.7 178.5v1.9M391.1 149.0h-1.9M425.9 178.5v1.9M391.1 147.9h-1.9M427.0 178.5v1.9M391.1 146.9h-1.9M428.0 178.5v1.9M391.1 146.1h-1.9M428.9 178.5v3.4M391.1 145.3h-3.4M434.5 178.5v1.9M391.1 140.3h-1.9M437.9 178.5v1.9M391.1 137.4h-1.9M440.2 178.5v1.9M391.1 135.3h-1.9M442.0 178.5v1.9M391.1 133.7h-1.9M443.5 178.5v1.9M391.1 132.4h-1.9M444.8 178.5v1.9M391.1 131.3h-1.9M445.9 178.5v1.9M391.1 130.3h-1.9M446.9 178.5v1.9M391.1 129.5h-1.9M447.7 178.5v3.4M391.1 128.7h-3.4M453.4 178.5v1.9M391.1 123.7h-1.9M456.7 178.5v1.9M391.1 120.8h-1.9M459.1 178.5v1.9M391.1 118.7h-1.9M460.9 178.5v1.9M391.1 117.1h-1.9M462.4 178.5v1.9M391.1 115.8h-1.9M463.7 178.5v1.9M391.1 114.7h-1.9M464.8 178.5v1.9M391.1 113.7h-1.9M465.7 178.5v1.9M391.1 112.9h-1.9M466.6 178.5v3.4M391.1 112.1h-3.4" stroke="#000" stroke-width="1" fill="none"/>
<text x="390.9" y="191.9" font-size="7.6" text-anchor="middle" stroke="#000" stroke-width=".2">10<tspan dy="-3.9" font-size="7">0</tspan></text>
<text transform="translate(385.8 178.9) rotate(-90)" font-size="7.6" text-anchor="middle" stroke="#000" stroke-width=".2">10<tspan dy="-3.9" font-size="7">0</tspan></text>
<text x="409.3" y="191.9" font-size="7.6" text-anchor="middle" stroke="#000" stroke-width=".2">10<tspan dy="-3.9" font-size="7">1</tspan></text>
<text transform="translate(385.8 162.9) rotate(-90)" font-size="7.6" text-anchor="middle" stroke="#000" stroke-width=".2">10<tspan dy="-3.9" font-size="7">1</tspan></text>
<text x="427.7" y="191.9" font-size="7.6" text-anchor="middle" stroke="#000" stroke-width=".2">10<tspan dy="-3.9" font-size="7">2</tspan></text>
<text transform="translate(385.8 146.9) rotate(-90)" font-size="7.6" text-anchor="middle" stroke="#000" stroke-width=".2">10<tspan dy="-3.9" font-size="7">2</tspan></text>
<text x="446.1" y="191.9" font-size="7.6" text-anchor="middle" stroke="#000" stroke-width=".2">10<tspan dy="-3.9" font-size="7">3</tspan></text>
<text transform="translate(385.8 130.8) rotate(-90)" font-size="7.6" text-anchor="middle" stroke="#000" stroke-width=".2">10<tspan dy="-3.9" font-size="7">3</tspan></text>
<text x="464.5" y="191.9" font-size="7.6" text-anchor="middle" stroke="#000" stroke-width=".2">10<tspan dy="-3.9" font-size="7">4</tspan></text>
<text transform="translate(385.8 114.8) rotate(-90)" font-size="7.6" text-anchor="middle" stroke="#000" stroke-width=".2">10<tspan dy="-3.9" font-size="7">4</tspan></text>
<text x="428.9" y="201.1" font-size="7.8" stroke="#000" stroke-width=".25">EGFP</text>
<text x="429.1" y="108.6" font-size="8.1" stroke="#000" stroke-width=".25">no. 4 CD19 BM.022</text>
<text transform="translate(375.7 145.9) rotate(-90)" font-size="8.3" stroke="#000" stroke-width=".25">CD19 PE</text>
<text x="461.0" y="119.8" font-size="8.7" text-anchor="end" stroke="#000" stroke-width=".25">&gt;99%</text>
<path d="M129.0 307.9L129.0 306.6L129.0 305.2L129.0 303.9L129.0 302.6L129.0 301.3L129.0 299.9L129.0 298.6L129.0 297.3L129.0 295.9L129.0 294.6L129.0 293.3L129.0 291.9L130.7 291.6L132.4 290.7L134.1 290.2L134.7 289.9L136.1 290.5L138.0 289.2L139.5 289.6L140.3 288.6L142.6 288.6L143.3 288.9L144.4 288.7L146.5 287.8L147.9 288.0L148.9 287.1L150.6 287.0L151.3 287.4L152.9 286.9L154.8 286.0L155.8 285.8L156.8 284.8L159.1 283.4L160.8 283.4L162.4 282.5L162.7 284.6L161.9 285.0L161.6 287.0L160.4 287.9L160.3 288.4L159.3 290.6L158.6 291.9L158.9 292.2L157.1 293.8L156.7 295.9L156.9 297.0L157.1 298.4L157.2 299.0L156.1 300.9L155.9 301.6L156.9 303.8L157.0 305.1L156.6 307.1L156.1 307.9L154.7 307.9L153.4 307.9L152.0 307.9L150.7 307.9L149.3 307.9L148.0 307.9L146.6 307.9L145.3 307.9L143.9 307.9L142.5 307.9L141.2 307.9L139.8 307.9L138.5 307.9L137.1 307.9L135.8 307.9L134.4 307.9L133.1 307.9L131.7 307.9L130.4 307.9Z" fill="#000"/>
<path d="M130.7 290.3h1.1M130.1 289.6h1.1M131.2 291.9h1.1M130.8 290.0h1.1M132.9 291.8h1.1M133.4 290.2h1.1M131.2 290.7h1.1M135.5 291.0h1.1M132.2 288.5h1.1M135.5 291.1h1.1M135.3 288.5h1.1M139.3 291.7h1.1M138.9 287.5h1.1M137.2 291.4h1.1M135.7 288.5h1.1M140.2 289.6h1.1M139.1 289.0h1.1M142.7 288.4h1.1M139.8 286.8h1.1M142.5 289.0h1.1M141.8 288.6h1.1M143.3 287.8h1.1M143.9 289.5h1.1M144.5 287.8h1.1M145.1 289.3h1.1M147.6 289.0h1.1M147.2 289.7h1.1M146.9 289.0h1.1M145.7 286.2h1.1M146.1 289.0h1.1M147.2 289.3h1.1M149.5 286.5h1.1M148.6 288.8h1.1M151.7 286.0h1.1M150.3 288.9h1.1M150.9 287.3h1.1M151.4 286.3h1.1M152.2 287.5h1.1M152.3 284.9h1.1M152.3 284.3h1.1M153.8 285.6h1.1M154.9 287.9h1.1M154.2 285.3h1.1M155.4 284.0h1.1M157.2 284.0h1.1M158.2 284.3h1.1M156.6 285.8h1.1M158.9 285.3h1.1M158.3 283.4h1.1M159.8 284.1h1.1M161.4 281.0h1.1M160.1 281.1h1.1M161.8 282.2h1.1M159.8 282.9h1.1M162.2 283.8h1.1M161.0 283.1h1.1M165.9 285.7h1.1M164.5 284.0h1.1M162.9 286.1h1.1M161.2 286.6h1.1M162.0 288.3h1.1M162.7 285.6h1.1M162.1 288.3h1.1M160.3 287.0h1.1M159.1 288.1h1.1M159.7 289.0h1.1M158.3 292.0h1.1M158.9 291.6h1.1M161.0 289.6h1.1M159.1 289.4h1.1M158.4 290.9h1.1M159.6 290.1h1.1M159.5 291.0h1.1M157.8 294.8h1.1M155.2 294.4h1.1M156.7 293.3h1.1M156.1 294.3h1.1M157.9 296.1h1.1M156.1 294.5h1.1M155.6 300.5h1.1M158.8 300.8h1.1M157.5 299.5h1.1M156.8 298.7h1.1M154.7 301.6h1.1M157.2 301.4h1.1M158.7 304.3h1.1M156.7 302.5h1.1M158.1 302.3h1.1M156.6 305.6h1.1M155.8 304.0h1.1M158.7 303.5h1.1M156.8 305.6h1.1M157.0 305.9h1.1M154.0 305.7h1.1M155.0 306.0h1.1M130.1 288.4h1.1M144.2 282.9h1.1M129.9 284.9h1.1M132.2 290.3h1.1M130.5 280.7h1.1M147.8 290.0h1.1M139.9 281.6h1.1M137.0 287.7h1.1M136.8 282.7h1.1M153.0 282.8h1.1M141.4 282.0h1.1M134.6 281.5h1.1M143.8 288.6h1.1M130.0 288.6h1.1M144.2 290.1h1.1M152.8 282.5h1.1M133.0 284.4h1.1M144.7 289.9h1.1M149.8 286.6h1.1M151.7 281.4h1.1M150.1 284.3h1.1M141.1 290.2h1.1M137.6 280.2h1.1M135.8 281.4h1.1M143.5 284.9h1.1M141.9 283.2h1.1M150.0 289.4h1.1M130.6 286.6h1.1M130.1 281.9h1.1M144.1 284.1h1.1M141.5 285.4h1.1M153.3 289.4h1.1M141.4 280.7h1.1M137.5 280.9h1.1M133.1 288.5h1.1M149.2 283.7h1.1M149.8 284.2h1.1M129.9 288.6h1.1M145.2 289.7h1.1M137.1 280.6h1.1M151.4 284.7h1.1M145.5 288.2h1.1M154.0 282.8h1.1M134.1 285.6h1.1M137.9 288.6h1.1M151.1 285.3h1.1M150.3 284.5h1.1M151.3 283.0h1.1M154.8 290.1h1.1M139.7 288.6h1.1M132.6 290.0h1.1M149.0 288.1h1.1M140.8 283.4h1.1M154.4 282.5h1.1M150.0 286.6h1.1M151.5 285.0h1.1M133.5 285.3h1.1M135.6 290.3h1.1M149.9 283.3h1.1M140.0 282.0h1.1M130.8 285.3h1.1M144.1 281.4h1.1M137.0 283.7h1.1M147.8 281.5h1.1M150.4 288.9h1.1M141.6 284.8h1.1M136.3 282.4h1.1M136.6 289.1h1.1M148.4 288.5h1.1M149.6 287.0h1.1M139.2 281.6h1.1M147.3 287.9h1.1M132.9 286.1h1.1M147.4 280.2h1.1M149.4 284.5h1.1M132.0 281.1h1.1M155.0 287.4h1.1M153.3 290.0h1.1M152.0 281.2h1.1M142.9 289.7h1.1M141.8 255.8h1.1M142.3 260.8h1.1M141.5 259.6h1.1M133.7 259.8h1.1M132.5 260.0h1.1M148.7 257.6h1.1M151.0 256.4h1.1M134.8 259.6h1.1M149.7 262.4h1.1M143.2 260.0h1.1M143.1 258.9h1.1M142.2 265.2h1.1M141.3 257.4h1.1M134.7 259.5h1.1M147.4 256.3h1.1M151.3 259.6h1.1M140.0 259.0h1.1M138.2 261.9h1.1M140.4 262.3h1.1M143.8 263.9h1.1M141.8 258.2h1.1M143.4 261.3h1.1M146.3 264.4h1.1M150.7 258.1h1.1M135.8 256.7h1.1M132.6 255.9h1.1M144.1 260.7h1.1M130.9 263.4h1.1M134.3 259.5h1.1M140.0 262.9h1.1M139.5 257.2h1.1M148.2 258.1h1.1M130.3 267.5h1.1M148.0 253.6h1.1M130.3 262.8h1.1M138.6 260.8h1.1M139.2 261.1h1.1M136.7 258.6h1.1M133.3 259.5h1.1M135.0 264.5h1.1M146.8 260.5h1.1M133.4 261.1h1.1M141.1 258.3h1.1M136.1 262.2h1.1M153.4 261.2h1.1M134.4 260.8h1.1M133.3 263.2h1.1M131.1 260.5h1.1M133.4 261.5h1.1M135.4 262.4h1.1M156.0 254.8h1.1M147.1 256.6h1.1M142.5 255.9h1.1M143.7 255.6h1.1M153.6 265.5h1.1M132.5 261.8h1.1M134.4 258.7h1.1M134.4 259.7h1.1M137.2 265.8h1.1M142.5 261.5h1.1M144.2 255.9h1.1M136.1 259.6h1.1M151.9 256.6h1.1M139.0 257.0h1.1M143.9 261.5h1.1M132.2 259.7h1.1M144.2 262.8h1.1M134.3 258.5h1.1M145.5 262.1h1.1M145.4 257.0h1.1M138.9 262.7h1.1M149.7 257.9h1.1M150.2 257.7h1.1M141.1 258.9h1.1M141.7 258.7h1.1M139.0 260.0h1.1M148.0 262.7h1.1M135.5 259.3h1.1M143.9 255.1h1.1M140.7 264.6h1.1M141.3 259.9h1.1M132.2 263.1h1.1M148.8 256.1h1.1M145.2 257.3h1.1M132.3 265.6h1.1M145.5 257.0h1.1M130.4 259.9h1.1M130.6 260.3h1.1M140.0 258.0h1.1M154.5 256.7h1.1M146.1 263.0h1.1M144.4 257.7h1.1M145.7 258.2h1.1M134.6 262.9h1.1M146.6 266.3h1.1M145.1 262.3h1.1M135.5 262.4h1.1M144.2 262.5h1.1M147.0 254.4h1.1M131.2 262.1h1.1M135.3 262.7h1.1M145.8 258.7h1.1M139.9 262.0h1.1M142.4 254.3h1.1M156.1 258.3h1.1M139.3 257.8h1.1M143.2 260.2h1.1M149.3 258.6h1.1M144.6 260.0h1.1M143.6 260.8h1.1M146.8 262.6h1.1M154.6 261.0h1.1M148.3 262.4h1.1M133.9 259.2h1.1M134.3 261.3h1.1M152.3 258.9h1.1M144.1 262.3h1.1M136.7 260.9h1.1M137.1 259.7h1.1M147.2 258.7h1.1M142.5 259.2h1.1M139.4 260.3h1.1M141.4 255.8h1.1M143.0 256.8h1.1M150.3 259.5h1.1M150.2 253.2h1.1M138.3 257.9h1.1M146.8 261.0h1.1M142.4 262.2h1.1M148.6 260.1h1.1M138.3 261.7h1.1M144.2 255.3h1.1M151.6 258.3h1.1M140.5 259.3h1.1M134.2 257.4h1.1M147.6 256.5h1.1M142.5 260.3h1.1M143.9 253.8h1.1M146.7 259.9h1.1M144.5 257.5h1.1M136.0 260.3h1.1M130.2 263.5h1.1M146.6 259.5h1.1M130.9 262.2h1.1M139.0 260.1h1.1M139.0 261.8h1.1M137.8 259.4h1.1M145.8 265.6h1.1M146.5 265.4h1.1M142.5 260.7h1.1M140.6 260.7h1.1M146.3 259.0h1.1M134.6 261.8h1.1M154.8 255.5h1.1M132.9 264.6h1.1M147.6 255.5h1.1M132.8 264.7h1.1M147.2 261.5h1.1M137.3 262.6h1.1M142.7 254.2h1.1M147.9 264.4h1.1M144.7 260.7h1.1M136.6 266.6h1.1M151.3 255.6h1.1M145.9 259.9h1.1M156.5 262.1h1.1M140.6 261.7h1.1M139.4 260.4h1.1M140.9 258.0h1.1M132.7 260.4h1.1M141.2 258.0h1.1M142.0 259.9h1.1M137.9 259.1h1.1M147.3 261.1h1.1M140.3 261.0h1.1M136.5 256.8h1.1M150.3 256.0h1.1M145.0 264.6h1.1M146.5 261.6h1.1M143.2 258.7h1.1M143.8 261.7h1.1M137.3 263.4h1.1M146.5 260.5h1.1M143.6 259.4h1.1M134.7 261.4h1.1M136.9 262.9h1.1M137.6 262.3h1.1M161.1 258.0h1.1M145.4 254.7h1.1M137.9 257.8h1.1M130.4 259.7h1.1M132.7 264.8h1.1M136.2 262.4h1.1M139.6 262.3h1.1M146.6 261.2h1.1M135.0 263.5h1.1M148.7 264.7h1.1M155.9 257.8h1.1M135.7 261.3h1.1M134.7 261.0h1.1M143.8 256.3h1.1M146.8 257.1h1.1M149.2 260.3h1.1M144.5 255.0h1.1M143.1 258.4h1.1M134.7 258.9h1.1M141.5 259.2h1.1M145.6 262.3h1.1M137.2 266.1h1.1M140.3 255.6h1.1M135.7 263.7h1.1M138.5 258.6h1.1M139.1 262.5h1.1M143.9 256.1h1.1M137.4 259.3h1.1M138.2 264.5h1.1M142.1 261.3h1.1M146.2 259.0h1.1M142.6 260.6h1.1M136.6 262.8h1.1M145.6 259.4h1.1M147.5 254.9h1.1M150.3 252.8h1.1M135.2 264.3h1.1M147.7 259.1h1.1M152.4 258.3h1.1M137.8 262.6h1.1M135.1 261.7h1.1M137.5 258.2h1.1M146.9 261.1h1.1M147.1 260.8h1.1M141.1 260.1h1.1M138.6 254.2h1.1M145.9 262.6h1.1M145.3 259.8h1.1M141.3 260.5h1.1M147.9 259.3h1.1M133.9 263.7h1.1M138.6 258.1h1.1M134.9 261.4h1.1M145.5 261.4h1.1M132.3 265.6h1.1M153.5 257.7h1.1M144.9 259.8h1.1M141.1 262.4h1.1M146.5 251.9h1.1M130.9 264.4h1.1M135.7 265.0h1.1M134.3 261.6h1.1M138.3 260.0h1.1M130.3 258.8h1.1M137.6 259.1h1.1M140.0 261.2h1.1M152.1 259.9h1.1M141.5 259.0h1.1M138.5 264.9h1.1M139.5 256.6h1.1M137.8 258.5h1.1M143.2 262.6h1.1M145.7 258.5h1.1M137.3 261.8h1.1M132.8 259.3h1.1M151.0 257.8h1.1M139.3 260.5h1.1M129.9 258.5h1.1M150.2 253.7h1.1M145.6 259.9h1.1M142.4 254.9h1.1M139.0 258.7h1.1M142.2 257.8h1.1M150.9 257.0h1.1M132.2 263.9h1.1M144.3 261.1h1.1M145.4 259.5h1.1M155.5 261.4h1.1M135.1 261.8h1.1M145.2 259.9h1.1M140.3 263.3h1.1M142.3 257.2h1.1M142.5 259.9h1.1M140.6 261.7h1.1M136.9 257.7h1.1M147.2 263.7h1.1M140.0 260.1h1.1M139.0 261.4h1.1M146.4 256.4h1.1M140.5 258.8h1.1M143.1 260.6h1.1M132.0 260.1h1.1M137.2 257.9h1.1M139.4 260.9h1.1M148.8 256.8h1.1M147.9 269.2h1.1M145.4 278.6h1.1M144.4 275.7h1.1M142.7 265.9h1.1M131.1 271.1h1.1M149.1 275.4h1.1M133.6 276.0h1.1M132.8 276.2h1.1M145.6 270.8h1.1M134.1 269.0h1.1M151.1 266.7h1.1M150.3 273.7h1.1M149.1 271.5h1.1M146.7 267.1h1.1M144.0 267.5h1.1M130.6 278.7h1.1M145.5 271.0h1.1M130.5 273.2h1.1M133.3 270.8h1.1M152.8 275.6h1.1M145.6 275.0h1.1M147.6 265.8h1.1M146.0 275.1h1.1M141.6 266.3h1.1M153.9 270.6h1.1M136.4 267.9h1.1M139.1 269.0h1.1M141.5 270.6h1.1M134.9 275.2h1.1M151.1 266.7h1.1M153.9 271.1h1.1M134.5 273.2h1.1M147.5 268.2h1.1M136.4 273.8h1.1M134.5 269.7h1.1M150.1 266.6h1.1M150.4 278.8h1.1M136.0 274.3h1.1M141.5 273.1h1.1M140.7 278.7h1.1M150.2 269.5h1.1M152.5 273.6h1.1M147.0 269.4h1.1M150.3 269.7h1.1M131.0 271.8h1.1M149.6 276.1h1.1M135.4 272.5h1.1M145.1 266.4h1.1M134.8 268.7h1.1M154.7 275.6h1.1M142.4 267.5h1.1M141.9 276.6h1.1M147.8 278.8h1.1M140.6 273.0h1.1M140.2 273.8h1.1M141.3 275.2h1.1M154.6 274.4h1.1M131.4 266.2h1.1M141.3 278.6h1.1M144.4 275.3h1.1M159.1 257.6h1.1M163.0 254.4h1.1M166.0 253.5h1.1M170.3 258.7h1.1M170.9 260.0h1.1M174.4 259.2h1.1M175.2 262.5h1.1M178.3 255.2h1.1M182.6 254.9h1.1M185.0 254.0h1.1M164.0 267.7h1.1M166.4 265.9h1.1M171.1 266.7h1.1M204.8 255.3h1.1M168.9 281.0h1.1M170.1 256.6h1.1M176.1 260.7h1.1M180.9 256.1h1.1" stroke="#000" stroke-width="1.1" fill="none"/>
<path d="M155.6 241.5V307.9M129.0 279.7H210.0" stroke="#000" stroke-width="1.15" fill="none"/>
<rect x="129.0" y="241.5" width="81.0" height="66.4" fill="none" stroke="#000" stroke-width="1.25"/>
<path d="M129.0 307.9v3.4M129.0 307.9h-3.4M135.1 307.9v1.9M129.0 302.9h-1.9M138.7 307.9v1.9M129.0 300.0h-1.9M141.2 307.9v1.9M129.0 297.9h-1.9M143.2 307.9v1.9M129.0 296.3h-1.9M144.8 307.9v1.9M129.0 295.0h-1.9M146.1 307.9v1.9M129.0 293.9h-1.9M147.3 307.9v1.9M129.0 292.9h-1.9M148.3 307.9v1.9M129.0 292.1h-1.9M149.2 307.9v3.4M129.0 291.3h-3.4M155.3 307.9v1.9M129.0 286.3h-1.9M158.9 307.9v1.9M129.0 283.4h-1.9M161.4 307.9v1.9M129.0 281.3h-1.9M163.4 307.9v1.9M129.0 279.7h-1.9M165.0 307.9v1.9M129.0 278.4h-1.9M166.4 307.9v1.9M129.0 277.3h-1.9M167.5 307.9v1.9M129.0 276.3h-1.9M168.6 307.9v1.9M129.0 275.5h-1.9M169.5 307.9v3.4M129.0 274.7h-3.4M175.6 307.9v1.9M129.0 269.7h-1.9M179.2 307.9v1.9M129.0 266.8h-1.9M181.7 307.9v1.9M129.0 264.7h-1.9M183.7 307.9v1.9M129.0 263.1h-1.9M185.3 307.9v1.9M129.0 261.8h-1.9M186.6 307.9v1.9M129.0 260.7h-1.9M187.8 307.9v1.9M129.0 259.7h-1.9M188.8 307.9v1.9M129.0 258.9h-1.9M189.8 307.9v3.4M129.0 258.1h-3.4M195.8 307.9v1.9M129.0 253.1h-1.9M199.4 307.9v1.9M129.0 250.2h-1.9M201.9 307.9v1.9M129.0 248.1h-1.9M203.9 307.9v1.9M129.0 246.5h-1.9M205.5 307.9v1.9M129.0 245.2h-1.9M206.9 307.9v1.9M129.0 244.1h-1.9M208.0 307.9v1.9M129.0 243.1h-1.9M209.1 307.9v1.9M129.0 242.3h-1.9M210.0 307.9v3.4M129.0 241.5h-3.4" stroke="#000" stroke-width="1" fill="none"/>
<text x="129.6" y="321.3" font-size="7.6" text-anchor="middle" stroke="#000" stroke-width=".2">10<tspan dy="-3.9" font-size="7">0</tspan></text>
<text transform="translate(123.7 308.3) rotate(-90)" font-size="7.6" text-anchor="middle" stroke="#000" stroke-width=".2">10<tspan dy="-3.9" font-size="7">0</tspan></text>
<text x="148.7" y="321.3" font-size="7.6" text-anchor="middle" stroke="#000" stroke-width=".2">10<tspan dy="-3.9" font-size="7">1</tspan></text>
<text transform="translate(123.7 292.3) rotate(-90)" font-size="7.6" text-anchor="middle" stroke="#000" stroke-width=".2">10<tspan dy="-3.9" font-size="7">1</tspan></text>
<text x="167.9" y="321.3" font-size="7.6" text-anchor="middle" stroke="#000" stroke-width=".2">10<tspan dy="-3.9" font-size="7">2</tspan></text>
<text transform="translate(123.7 276.3) rotate(-90)" font-size="7.6" text-anchor="middle" stroke="#000" stroke-width=".2">10<tspan dy="-3.9" font-size="7">2</tspan></text>
<text x="187.0" y="321.3" font-size="7.6" text-anchor="middle" stroke="#000" stroke-width=".2">10<tspan dy="-3.9" font-size="7">3</tspan></text>
<text transform="translate(123.7 260.2) rotate(-90)" font-size="7.6" text-anchor="middle" stroke="#000" stroke-width=".2">10<tspan dy="-3.9" font-size="7">3</tspan></text>
<text x="206.1" y="321.3" font-size="7.6" text-anchor="middle" stroke="#000" stroke-width=".2">10<tspan dy="-3.9" font-size="7">4</tspan></text>
<text transform="translate(123.7 244.2) rotate(-90)" font-size="7.6" text-anchor="middle" stroke="#000" stroke-width=".2">10<tspan dy="-3.9" font-size="7">4</tspan></text>
<text x="169.5" y="330.5" font-size="7.8" stroke="#000" stroke-width=".25">EGFP</text>
<text x="168.2" y="238.0" font-size="8.1" stroke="#000" stroke-width=".25">no. 3 CD45 BM.005</text>
<text transform="translate(113.3 275.3) rotate(-90)" font-size="8.3" stroke="#000" stroke-width=".25">CD45 PE</text>
<text x="204.5" y="249.2" font-size="8.7" text-anchor="end" stroke="#000" stroke-width=".25">11%</text>
<path d="M241.5 307.9L241.5 306.5L241.5 305.1L241.5 303.8L241.5 302.4L241.5 301.0L241.5 299.6L241.5 298.3L241.5 296.9L241.5 295.5L241.5 294.1L241.5 292.8L243.6 291.9L244.8 292.4L246.4 292.0L246.9 291.6L248.5 290.5L250.7 290.2L252.1 291.2L253.0 290.5L254.2 290.0L255.9 290.0L256.9 288.9L258.6 289.2L260.3 289.3L260.4 287.9L262.5 287.6L263.3 287.5L265.8 287.5L266.3 287.0L268.2 286.3L268.8 284.9L271.1 284.8L271.9 283.9L272.4 282.5L275.1 283.0L275.4 282.1L276.5 284.2L275.9 284.3L275.0 286.0L274.0 287.5L273.8 288.6L272.4 290.2L271.8 290.8L272.5 292.2L271.5 293.3L270.5 294.7L271.2 296.6L271.0 298.5L269.6 298.7L269.6 300.2L269.5 302.6L269.3 302.8L268.3 304.4L268.5 306.3L267.6 307.9L266.3 307.9L265.0 307.9L263.7 307.9L262.4 307.9L261.1 307.9L259.8 307.9L258.5 307.9L257.2 307.9L255.9 307.9L254.6 307.9L253.2 307.9L251.9 307.9L250.6 307.9L249.3 307.9L248.0 307.9L246.7 307.9L245.4 307.9L244.1 307.9L242.8 307.9Z" fill="#000"/>
<path d="M250.8 264.2L252.4 262.5L254.5 262.7L255.1 262.0L256.8 262.1L257.9 262.9L258.8 262.6L261.0 262.1L262.0 262.7L263.1 264.7L263.1 265.7L262.3 267.5L259.9 267.1L259.3 266.8L258.7 267.6L257.2 267.5L255.9 267.9L253.3 267.4L252.8 267.1L250.8 266.1Z" fill="#000"/>
<path d="M244.5 292.0h1.1M244.9 294.9h1.1M244.0 293.6h1.1M248.1 291.2h1.1M246.6 292.9h1.1M246.7 290.8h1.1M246.4 291.0h1.1M245.2 292.2h1.1M251.0 290.3h1.1M250.1 292.9h1.1M249.9 292.1h1.1M250.2 291.9h1.1M251.1 290.6h1.1M252.3 290.9h1.1M254.4 291.6h1.1M251.7 290.5h1.1M253.7 291.8h1.1M254.7 291.2h1.1M256.9 289.7h1.1M254.0 290.4h1.1M256.2 288.1h1.1M258.0 291.2h1.1M255.6 286.7h1.1M256.6 290.7h1.1M259.8 288.2h1.1M258.9 289.0h1.1M258.0 289.7h1.1M261.8 288.3h1.1M261.7 287.4h1.1M258.2 289.2h1.1M262.4 287.9h1.1M262.3 289.2h1.1M263.5 287.6h1.1M264.4 286.5h1.1M263.4 288.5h1.1M266.1 286.7h1.1M263.0 286.7h1.1M266.7 287.0h1.1M266.1 286.0h1.1M266.9 286.6h1.1M266.9 285.2h1.1M269.0 283.9h1.1M267.0 284.1h1.1M268.8 286.1h1.1M268.3 286.3h1.1M271.6 285.4h1.1M270.2 285.1h1.1M270.7 285.7h1.1M269.7 283.5h1.1M272.0 284.0h1.1M271.7 286.5h1.1M271.8 285.1h1.1M273.0 283.8h1.1M271.9 282.7h1.1M271.6 283.8h1.1M277.1 281.2h1.1M276.4 281.3h1.1M274.4 281.8h1.1M274.3 281.1h1.1M276.0 284.6h1.1M275.9 283.9h1.1M276.2 286.8h1.1M274.9 285.1h1.1M276.0 285.5h1.1M273.2 288.1h1.1M275.4 287.6h1.1M273.3 287.1h1.1M274.5 287.1h1.1M269.8 287.9h1.1M270.8 290.1h1.1M274.2 289.9h1.1M271.9 289.6h1.1M270.9 293.8h1.1M272.8 293.5h1.1M274.7 291.7h1.1M271.1 293.8h1.1M270.8 292.0h1.1M269.5 292.0h1.1M271.6 295.8h1.1M270.5 296.3h1.1M270.9 295.9h1.1M270.7 295.9h1.1M271.0 300.4h1.1M270.5 298.2h1.1M270.1 298.6h1.1M268.2 296.9h1.1M270.5 299.7h1.1M268.2 299.9h1.1M270.0 301.1h1.1M269.1 303.0h1.1M267.8 304.0h1.1M269.7 306.1h1.1M269.0 305.0h1.1M269.1 306.6h1.1M268.8 305.9h1.1M267.4 304.3h1.1M267.1 306.7h1.1M260.0 284.2h1.1M249.3 280.3h1.1M248.2 284.6h1.1M251.4 287.7h1.1M258.6 280.8h1.1M246.1 280.4h1.1M250.6 288.2h1.1M261.7 287.1h1.1M255.4 281.9h1.1M267.6 288.9h1.1M251.4 285.9h1.1M245.0 284.5h1.1M243.7 281.3h1.1M245.1 285.9h1.1M259.6 284.5h1.1M269.3 281.1h1.1M267.5 289.0h1.1M252.1 289.6h1.1M246.3 280.9h1.1M246.5 286.7h1.1M253.3 288.7h1.1M257.1 289.7h1.1M254.1 282.5h1.1M254.5 283.1h1.1M254.0 288.3h1.1M266.9 289.3h1.1M267.2 287.3h1.1M244.3 282.3h1.1M249.1 288.8h1.1M251.3 286.3h1.1M268.6 282.9h1.1M263.9 285.6h1.1M250.2 284.0h1.1M267.2 283.8h1.1M257.4 280.3h1.1M251.2 285.8h1.1M246.9 287.7h1.1M246.3 283.2h1.1M270.4 288.5h1.1M253.6 289.9h1.1M267.2 280.6h1.1M242.7 280.5h1.1M266.9 280.5h1.1M242.5 286.0h1.1M263.3 288.5h1.1M270.1 285.2h1.1M255.3 283.3h1.1M265.6 281.0h1.1M245.5 281.9h1.1M262.9 288.2h1.1M253.6 282.7h1.1M255.8 280.8h1.1M248.9 281.6h1.1M268.9 284.5h1.1M269.2 281.9h1.1M252.9 285.4h1.1M270.0 281.7h1.1M270.1 289.0h1.1M268.4 283.0h1.1M258.6 288.7h1.1M262.9 286.7h1.1M254.0 282.9h1.1M261.6 284.8h1.1M245.8 289.2h1.1M244.6 284.7h1.1M262.4 290.2h1.1M261.0 281.6h1.1M267.0 284.1h1.1M263.0 289.5h1.1M260.2 282.5h1.1M245.7 280.6h1.1M256.1 282.4h1.1M266.0 288.7h1.1M244.4 286.0h1.1M243.5 282.0h1.1M257.4 283.9h1.1M249.3 283.4h1.1M250.8 283.8h1.1M256.1 290.3h1.1M266.5 289.0h1.1M243.7 288.6h1.1M266.1 289.8h1.1M267.6 282.5h1.1M242.7 289.2h1.1M244.6 286.8h1.1M248.7 288.3h1.1M254.3 282.1h1.1M248.8 281.8h1.1M253.7 282.0h1.1M242.8 289.7h1.1M256.1 287.6h1.1M251.5 281.8h1.1M266.6 284.6h1.1M262.5 282.1h1.1M252.9 281.6h1.1M251.7 289.0h1.1M270.2 283.3h1.1M261.7 282.2h1.1M252.7 282.0h1.1M261.1 283.2h1.1M257.9 282.6h1.1M263.1 282.6h1.1M250.9 283.5h1.1M261.6 283.4h1.1M267.1 281.3h1.1M269.1 287.8h1.1M266.9 285.2h1.1M267.7 289.4h1.1M267.4 288.9h1.1M252.7 286.9h1.1M248.5 259.7h1.1M249.4 264.3h1.1M249.3 265.0h1.1M249.1 263.2h1.1M248.2 265.7h1.1M254.1 262.2h1.1M254.7 265.5h1.1M252.9 261.2h1.1M250.6 263.4h1.1M250.7 261.9h1.1M254.0 263.6h1.1M253.3 260.1h1.1M254.1 263.9h1.1M254.9 263.9h1.1M257.0 260.8h1.1M251.6 263.2h1.1M258.2 263.9h1.1M255.0 263.6h1.1M254.7 264.7h1.1M255.6 258.5h1.1M259.2 259.1h1.1M261.7 260.7h1.1M259.6 262.6h1.1M263.6 262.2h1.1M259.9 261.7h1.1M261.3 262.3h1.1M262.7 263.3h1.1M256.8 260.8h1.1M258.5 263.5h1.1M263.4 262.4h1.1M260.7 264.2h1.1M263.7 265.0h1.1M258.5 264.2h1.1M262.0 263.1h1.1M261.7 265.0h1.1M263.0 263.4h1.1M263.4 264.1h1.1M259.3 264.5h1.1M265.1 265.2h1.1M260.6 265.9h1.1M261.5 267.5h1.1M262.9 266.2h1.1M260.4 266.5h1.1M258.8 268.1h1.1M262.2 267.3h1.1M262.0 266.1h1.1M259.5 267.0h1.1M261.7 267.6h1.1M258.7 265.3h1.1M259.5 266.4h1.1M259.7 265.9h1.1M255.0 265.0h1.1M259.6 267.8h1.1M258.2 265.6h1.1M257.7 266.8h1.1M255.4 266.6h1.1M259.6 264.5h1.1M255.4 266.3h1.1M250.8 267.7h1.1M256.2 268.3h1.1M256.1 263.2h1.1M256.8 267.1h1.1M253.2 269.3h1.1M253.1 267.6h1.1M252.0 267.7h1.1M252.3 268.0h1.1M252.9 266.2h1.1M250.9 266.4h1.1M247.9 265.0h1.1M249.2 266.8h1.1M250.6 264.3h1.1M252.3 265.0h1.1M248.7 263.4h1.1M263.2 267.4h1.1M250.7 265.8h1.1M256.5 264.6h1.1M267.2 266.7h1.1M254.1 263.9h1.1M246.0 262.4h1.1M262.4 265.0h1.1M261.6 264.8h1.1M252.6 265.3h1.1M255.1 268.3h1.1M249.7 262.0h1.1M258.6 263.5h1.1M260.9 269.0h1.1M259.8 267.5h1.1M254.3 266.5h1.1M255.3 272.5h1.1M253.2 263.5h1.1M253.9 262.7h1.1M261.3 266.0h1.1M256.2 269.5h1.1M255.9 265.5h1.1M256.9 264.9h1.1M265.5 267.9h1.1M250.5 265.2h1.1M259.3 266.9h1.1M256.7 263.4h1.1M260.4 264.5h1.1M261.0 265.6h1.1M262.0 263.9h1.1M260.1 259.5h1.1M261.6 263.2h1.1M262.5 263.1h1.1M257.7 269.2h1.1M263.1 263.7h1.1M256.1 266.3h1.1M259.7 264.1h1.1M256.1 266.9h1.1M263.9 267.2h1.1M249.5 266.4h1.1M250.1 265.6h1.1M258.8 257.0h1.1M261.7 270.8h1.1M257.7 267.5h1.1M267.5 271.2h1.1M261.3 265.4h1.1M260.5 265.7h1.1M266.8 269.8h1.1M262.9 264.0h1.1M252.1 259.4h1.1M265.8 266.0h1.1M258.1 266.2h1.1M262.4 268.6h1.1M257.1 272.2h1.1M256.0 268.5h1.1M248.9 262.2h1.1M264.0 266.9h1.1M262.6 266.8h1.1M257.9 268.4h1.1M262.9 264.7h1.1M253.8 264.2h1.1M262.5 268.3h1.1M261.0 262.5h1.1M264.1 268.4h1.1M258.0 266.4h1.1M260.5 264.3h1.1M267.4 270.5h1.1M253.4 265.3h1.1M255.3 263.3h1.1M256.6 269.4h1.1M255.8 258.9h1.1M257.9 265.3h1.1M246.0 261.5h1.1M252.8 262.6h1.1M255.2 264.1h1.1M266.0 266.2h1.1M258.3 264.1h1.1M258.6 267.1h1.1M262.0 268.5h1.1M260.7 269.5h1.1M250.9 263.6h1.1M256.2 267.4h1.1M257.9 262.1h1.1M260.2 265.5h1.1M254.9 264.0h1.1M249.1 264.6h1.1M262.7 264.4h1.1M264.5 268.5h1.1M258.4 261.3h1.1M262.2 263.6h1.1M256.9 267.1h1.1M257.9 267.5h1.1M257.7 266.6h1.1M252.2 262.9h1.1M258.0 263.3h1.1M257.5 264.4h1.1M254.7 262.5h1.1M254.3 265.6h1.1M258.6 270.4h1.1M262.7 264.4h1.1M252.5 263.9h1.1M264.9 266.7h1.1M266.7 269.0h1.1M256.8 265.5h1.1M259.3 263.1h1.1M258.9 266.5h1.1M262.3 267.1h1.1M256.0 260.5h1.1M259.6 267.3h1.1M249.8 276.3h1.1M261.0 273.2h1.1M259.5 270.7h1.1M245.9 275.6h1.1M254.4 268.6h1.1M262.7 271.3h1.1M260.3 272.1h1.1M263.2 273.1h1.1M268.1 275.1h1.1M246.7 268.4h1.1M258.8 269.2h1.1M254.9 270.2h1.1M268.7 271.2h1.1M254.6 278.1h1.1M248.1 273.3h1.1M243.6 271.0h1.1M267.7 271.9h1.1M251.5 277.5h1.1M250.4 273.5h1.1M253.8 271.9h1.1M249.0 271.2h1.1M254.8 272.9h1.1M262.7 271.4h1.1M250.4 271.5h1.1M250.1 277.9h1.1M242.7 277.5h1.1M250.3 278.7h1.1M243.4 275.8h1.1M256.9 274.0h1.1M269.2 278.7h1.1M268.2 270.6h1.1M250.5 278.1h1.1M254.7 275.8h1.1M256.5 274.7h1.1M261.3 277.3h1.1M255.5 268.7h1.1M248.4 277.3h1.1M269.4 274.6h1.1M255.3 271.7h1.1M259.0 273.7h1.1M254.0 269.2h1.1M250.5 275.6h1.1M252.5 276.2h1.1M251.0 277.5h1.1M259.7 269.9h1.1M268.5 272.4h1.1M268.7 272.4h1.1M270.1 278.0h1.1M257.1 277.3h1.1M262.7 275.7h1.1M259.8 270.7h1.1M268.9 268.6h1.1M267.1 269.3h1.1M268.6 277.2h1.1M264.4 271.2h1.1M269.9 271.2h1.1M267.2 273.2h1.1M269.4 276.5h1.1M266.8 272.8h1.1M266.1 267.4h1.1M265.4 273.0h1.1M262.3 270.3h1.1M268.4 273.0h1.1M265.1 266.7h1.1M265.0 267.1h1.1M263.8 271.2h1.1M267.6 269.5h1.1M265.8 267.3h1.1M267.2 271.2h1.1M265.3 269.0h1.1M265.8 269.1h1.1M264.7 268.5h1.1M265.3 274.3h1.1M262.5 270.6h1.1M265.9 269.4h1.1M286.6 259.3h1.1M288.8 257.3h1.1M286.1 263.3h1.1M296.3 257.7h1.1M297.8 260.0h1.1M299.6 260.2h1.1M297.3 272.5h1.1M279.8 285.5h1.1M289.7 283.7h1.1M282.6 292.2h1.1M288.1 293.8h1.1M281.2 295.9h1.1" stroke="#000" stroke-width="1.1" fill="none"/>
<path d="M271.7 241.5V307.9M241.5 279.7H322.4" stroke="#000" stroke-width="1.15" fill="none"/>
<rect x="241.5" y="241.5" width="80.9" height="66.4" fill="none" stroke="#000" stroke-width="1.25"/>
<path d="M241.5 307.9v3.4M241.5 307.9h-3.4M247.6 307.9v1.9M241.5 302.9h-1.9M251.1 307.9v1.9M241.5 300.0h-1.9M253.7 307.9v1.9M241.5 297.9h-1.9M255.6 307.9v1.9M241.5 296.3h-1.9M257.2 307.9v1.9M241.5 295.0h-1.9M258.6 307.9v1.9M241.5 293.9h-1.9M259.8 307.9v1.9M241.5 292.9h-1.9M260.8 307.9v1.9M241.5 292.1h-1.9M261.7 307.9v3.4M241.5 291.3h-3.4M267.8 307.9v1.9M241.5 286.3h-1.9M271.4 307.9v1.9M241.5 283.4h-1.9M273.9 307.9v1.9M241.5 281.3h-1.9M275.9 307.9v1.9M241.5 279.7h-1.9M277.5 307.9v1.9M241.5 278.4h-1.9M278.8 307.9v1.9M241.5 277.3h-1.9M280.0 307.9v1.9M241.5 276.3h-1.9M281.0 307.9v1.9M241.5 275.5h-1.9M281.9 307.9v3.4M241.5 274.7h-3.4M288.0 307.9v1.9M241.5 269.7h-1.9M291.6 307.9v1.9M241.5 266.8h-1.9M294.1 307.9v1.9M241.5 264.7h-1.9M296.1 307.9v1.9M241.5 263.1h-1.9M297.7 307.9v1.9M241.5 261.8h-1.9M299.0 307.9v1.9M241.5 260.7h-1.9M300.2 307.9v1.9M241.5 259.7h-1.9M301.2 307.9v1.9M241.5 258.9h-1.9M302.2 307.9v3.4M241.5 258.1h-3.4M308.3 307.9v1.9M241.5 253.1h-1.9M311.8 307.9v1.9M241.5 250.2h-1.9M314.4 307.9v1.9M241.5 248.1h-1.9M316.3 307.9v1.9M241.5 246.5h-1.9M317.9 307.9v1.9M241.5 245.2h-1.9M319.3 307.9v1.9M241.5 244.1h-1.9M320.4 307.9v1.9M241.5 243.1h-1.9M321.5 307.9v1.9M241.5 242.3h-1.9M322.4 307.9v3.4M241.5 241.5h-3.4" stroke="#000" stroke-width="1" fill="none"/>
<text x="242.1" y="321.3" font-size="7.6" text-anchor="middle" stroke="#000" stroke-width=".2">10<tspan dy="-3.9" font-size="7">0</tspan></text>
<text transform="translate(236.2 308.3) rotate(-90)" font-size="7.6" text-anchor="middle" stroke="#000" stroke-width=".2">10<tspan dy="-3.9" font-size="7">0</tspan></text>
<text x="261.2" y="321.3" font-size="7.6" text-anchor="middle" stroke="#000" stroke-width=".2">10<tspan dy="-3.9" font-size="7">1</tspan></text>
<text transform="translate(236.2 292.3) rotate(-90)" font-size="7.6" text-anchor="middle" stroke="#000" stroke-width=".2">10<tspan dy="-3.9" font-size="7">1</tspan></text>
<text x="280.3" y="321.3" font-size="7.6" text-anchor="middle" stroke="#000" stroke-width=".2">10<tspan dy="-3.9" font-size="7">2</tspan></text>
<text transform="translate(236.2 276.3) rotate(-90)" font-size="7.6" text-anchor="middle" stroke="#000" stroke-width=".2">10<tspan dy="-3.9" font-size="7">2</tspan></text>
<text x="299.4" y="321.3" font-size="7.6" text-anchor="middle" stroke="#000" stroke-width=".2">10<tspan dy="-3.9" font-size="7">3</tspan></text>
<text transform="translate(236.2 260.2) rotate(-90)" font-size="7.6" text-anchor="middle" stroke="#000" stroke-width=".2">10<tspan dy="-3.9" font-size="7">3</tspan></text>
<text x="318.6" y="321.3" font-size="7.6" text-anchor="middle" stroke="#000" stroke-width=".2">10<tspan dy="-3.9" font-size="7">4</tspan></text>
<text transform="translate(236.2 244.2) rotate(-90)" font-size="7.6" text-anchor="middle" stroke="#000" stroke-width=".2">10<tspan dy="-3.9" font-size="7">4</tspan></text>
<text x="281.9" y="330.5" font-size="7.8" stroke="#000" stroke-width=".25">EGFP</text>
<text x="280.6" y="238.0" font-size="8.1" stroke="#000" stroke-width=".25">no. 3 CD33 BM.019</text>
<text transform="translate(225.8 275.3) rotate(-90)" font-size="8.3" stroke="#000" stroke-width=".25">CD33 PE</text>
<text x="316.9" y="249.2" font-size="8.7" text-anchor="end" stroke="#000" stroke-width=".25">4%</text>
<path d="M349.0 307.9L349.0 306.5L349.0 305.1L349.0 303.8L349.0 302.4L349.0 301.0L349.0 299.6L349.0 298.3L349.0 296.9L349.0 295.5L349.0 294.1L349.0 292.8L350.7 292.9L351.9 292.6L352.3 291.9L354.4 290.8L354.7 291.3L356.5 290.4L357.8 290.9L358.8 290.0L361.1 290.6L362.5 289.8L363.4 290.6L365.2 289.1L365.6 289.7L366.8 289.3L368.5 288.6L369.8 288.0L371.9 287.9L372.2 287.5L374.0 286.6L375.0 285.7L376.8 285.6L378.3 284.9L380.0 285.4L380.9 285.1L380.1 286.3L379.2 288.5L379.6 290.2L378.7 291.6L378.1 293.1L377.3 293.9L377.2 295.3L376.8 296.0L375.9 297.5L376.6 298.9L375.1 300.2L375.6 302.7L375.1 303.1L374.4 304.2L373.5 306.9L373.2 307.9L371.8 307.9L370.5 307.9L369.1 307.9L367.8 307.9L366.4 307.9L365.1 307.9L363.8 307.9L362.4 307.9L361.1 307.9L359.7 307.9L358.4 307.9L357.1 307.9L355.7 307.9L354.4 307.9L353.0 307.9L351.7 307.9L350.3 307.9Z" fill="#000"/>
<path d="M352.9 291.5h1.1M350.7 292.4h1.1M350.0 293.1h1.1M349.8 293.0h1.1M354.6 293.2h1.1M354.7 290.6h1.1M353.1 290.7h1.1M355.0 290.9h1.1M354.5 291.2h1.1M354.6 290.1h1.1M357.0 292.3h1.1M358.3 288.9h1.1M357.3 290.7h1.1M356.8 290.8h1.1M358.3 291.5h1.1M360.9 289.9h1.1M361.1 290.1h1.1M363.0 289.7h1.1M360.6 290.2h1.1M364.3 288.4h1.1M361.7 288.8h1.1M364.1 287.7h1.1M360.2 290.5h1.1M366.1 290.0h1.1M366.2 290.0h1.1M366.2 291.5h1.1M367.8 290.9h1.1M369.0 288.6h1.1M367.3 289.7h1.1M365.1 289.9h1.1M369.3 288.5h1.1M370.0 289.5h1.1M369.1 290.5h1.1M370.7 288.2h1.1M371.7 287.1h1.1M373.1 288.2h1.1M371.6 285.2h1.1M374.7 288.2h1.1M373.3 285.9h1.1M375.3 290.6h1.1M374.3 285.3h1.1M375.8 284.5h1.1M377.2 286.4h1.1M377.3 288.2h1.1M379.6 286.0h1.1M379.5 284.9h1.1M378.8 286.0h1.1M381.1 284.7h1.1M380.7 283.8h1.1M381.7 282.9h1.1M377.3 283.7h1.1M378.5 284.0h1.1M380.0 285.1h1.1M380.9 288.3h1.1M379.5 285.6h1.1M380.7 288.5h1.1M379.6 292.0h1.1M379.6 291.8h1.1M379.3 290.5h1.1M378.1 290.5h1.1M378.7 291.9h1.1M378.4 293.1h1.1M377.3 295.0h1.1M377.8 292.5h1.1M377.2 291.8h1.1M378.6 295.7h1.1M378.8 294.7h1.1M376.1 295.8h1.1M376.1 296.3h1.1M378.8 295.2h1.1M377.3 297.7h1.1M374.6 295.9h1.1M375.7 298.4h1.1M374.9 296.5h1.1M376.3 300.3h1.1M376.1 298.9h1.1M371.7 302.4h1.1M376.6 302.9h1.1M374.6 301.1h1.1M376.5 304.8h1.1M375.6 301.3h1.1M373.3 305.0h1.1M375.0 305.1h1.1M372.0 304.9h1.1M373.3 306.3h1.1M372.5 283.7h1.1M372.9 289.1h1.1M367.4 285.7h1.1M372.0 285.3h1.1M350.9 285.8h1.1M357.9 285.1h1.1M366.3 282.2h1.1M366.6 289.0h1.1M355.8 282.8h1.1M351.0 284.5h1.1M374.9 283.7h1.1M365.9 282.4h1.1M376.7 287.1h1.1M363.8 284.1h1.1M366.5 283.8h1.1M358.5 283.7h1.1M368.6 286.7h1.1M373.4 284.6h1.1M373.5 286.8h1.1M350.7 288.9h1.1M366.1 290.3h1.1M358.5 285.5h1.1M378.7 286.9h1.1M366.1 290.1h1.1M350.5 282.7h1.1M360.7 283.5h1.1M361.0 289.5h1.1M376.7 283.5h1.1M375.7 290.1h1.1M364.2 276.1h1.1M366.5 271.7h1.1M362.3 269.9h1.1M360.6 271.5h1.1M360.5 273.6h1.1M362.2 277.3h1.1M354.7 265.9h1.1M358.1 267.0h1.1M363.4 271.4h1.1M355.5 277.5h1.1M362.7 278.8h1.1M358.7 271.2h1.1M356.4 278.2h1.1M362.7 272.7h1.1M362.3 276.9h1.1M368.3 270.1h1.1M361.9 272.1h1.1M356.6 268.3h1.1M364.4 267.3h1.1M357.9 274.4h1.1M358.3 269.8h1.1M362.1 270.6h1.1M370.0 276.0h1.1M359.9 274.1h1.1M366.2 261.7h1.1M353.5 273.4h1.1M359.5 276.1h1.1M362.6 272.6h1.1M363.9 268.4h1.1M360.7 274.1h1.1M362.7 271.2h1.1M358.7 280.2h1.1M366.3 272.9h1.1M354.9 274.6h1.1M357.2 279.7h1.1M362.6 268.4h1.1M366.7 274.1h1.1M363.8 275.8h1.1M362.8 271.5h1.1M353.1 262.7h1.1M367.6 269.4h1.1M361.6 276.8h1.1M361.9 275.9h1.1M362.4 276.5h1.1M359.8 268.0h1.1M364.1 268.2h1.1M356.4 268.3h1.1M350.2 276.2h1.1M362.2 269.1h1.1M354.5 276.5h1.1M359.2 272.1h1.1M358.1 275.4h1.1M356.1 267.5h1.1M355.0 272.4h1.1M391.2 263.3h1.1M384.6 273.9h1.1M385.2 277.1h1.1M391.0 299.4h1.1M396.1 300.1h1.1M399.3 296.2h1.1M405.2 303.6h1.1M408.5 305.1h1.1M374.9 304.8h1.1M417.1 282.4h1.1M366.8 266.0h1.1" stroke="#000" stroke-width="1.1" fill="none"/>
<path d="M370.7 241.5V307.9M349.0 281.3H428.8" stroke="#000" stroke-width="1.15" fill="none"/>
<rect x="349.0" y="241.5" width="79.8" height="66.4" fill="none" stroke="#000" stroke-width="1.25"/>
<path d="M349.0 307.9v3.4M349.0 307.9h-3.4M355.0 307.9v1.9M349.0 302.9h-1.9M358.5 307.9v1.9M349.0 300.0h-1.9M361.0 307.9v1.9M349.0 297.9h-1.9M362.9 307.9v1.9M349.0 296.3h-1.9M364.5 307.9v1.9M349.0 295.0h-1.9M365.9 307.9v1.9M349.0 293.9h-1.9M367.0 307.9v1.9M349.0 292.9h-1.9M368.0 307.9v1.9M349.0 292.1h-1.9M368.9 307.9v3.4M349.0 291.3h-3.4M375.0 307.9v1.9M349.0 286.3h-1.9M378.5 307.9v1.9M349.0 283.4h-1.9M381.0 307.9v1.9M349.0 281.3h-1.9M382.9 307.9v1.9M349.0 279.7h-1.9M384.5 307.9v1.9M349.0 278.4h-1.9M385.8 307.9v1.9M349.0 277.3h-1.9M387.0 307.9v1.9M349.0 276.3h-1.9M388.0 307.9v1.9M349.0 275.5h-1.9M388.9 307.9v3.4M349.0 274.7h-3.4M394.9 307.9v1.9M349.0 269.7h-1.9M398.4 307.9v1.9M349.0 266.8h-1.9M400.9 307.9v1.9M349.0 264.7h-1.9M402.8 307.9v1.9M349.0 263.1h-1.9M404.4 307.9v1.9M349.0 261.8h-1.9M405.8 307.9v1.9M349.0 260.7h-1.9M406.9 307.9v1.9M349.0 259.7h-1.9M407.9 307.9v1.9M349.0 258.9h-1.9M408.9 307.9v3.4M349.0 258.1h-3.4M414.9 307.9v1.9M349.0 253.1h-1.9M418.4 307.9v1.9M349.0 250.2h-1.9M420.9 307.9v1.9M349.0 248.1h-1.9M422.8 307.9v1.9M349.0 246.5h-1.9M424.4 307.9v1.9M349.0 245.2h-1.9M425.7 307.9v1.9M349.0 244.1h-1.9M426.9 307.9v1.9M349.0 243.1h-1.9M427.9 307.9v1.9M349.0 242.3h-1.9M428.8 307.9v3.4M349.0 241.5h-3.4" stroke="#000" stroke-width="1" fill="none"/>
<text x="349.6" y="321.3" font-size="7.6" text-anchor="middle" stroke="#000" stroke-width=".2">10<tspan dy="-3.9" font-size="7">0</tspan></text>
<text transform="translate(343.7 308.3) rotate(-90)" font-size="7.6" text-anchor="middle" stroke="#000" stroke-width=".2">10<tspan dy="-3.9" font-size="7">0</tspan></text>
<text x="368.5" y="321.3" font-size="7.6" text-anchor="middle" stroke="#000" stroke-width=".2">10<tspan dy="-3.9" font-size="7">1</tspan></text>
<text transform="translate(343.7 292.3) rotate(-90)" font-size="7.6" text-anchor="middle" stroke="#000" stroke-width=".2">10<tspan dy="-3.9" font-size="7">1</tspan></text>
<text x="387.3" y="321.3" font-size="7.6" text-anchor="middle" stroke="#000" stroke-width=".2">10<tspan dy="-3.9" font-size="7">2</tspan></text>
<text transform="translate(343.7 276.3) rotate(-90)" font-size="7.6" text-anchor="middle" stroke="#000" stroke-width=".2">10<tspan dy="-3.9" font-size="7">2</tspan></text>
<text x="406.2" y="321.3" font-size="7.6" text-anchor="middle" stroke="#000" stroke-width=".2">10<tspan dy="-3.9" font-size="7">3</tspan></text>
<text transform="translate(343.7 260.2) rotate(-90)" font-size="7.6" text-anchor="middle" stroke="#000" stroke-width=".2">10<tspan dy="-3.9" font-size="7">3</tspan></text>
<text x="425.0" y="321.3" font-size="7.6" text-anchor="middle" stroke="#000" stroke-width=".2">10<tspan dy="-3.9" font-size="7">4</tspan></text>
<text transform="translate(343.7 244.2) rotate(-90)" font-size="7.6" text-anchor="middle" stroke="#000" stroke-width=".2">10<tspan dy="-3.9" font-size="7">4</tspan></text>
<text x="388.9" y="330.5" font-size="7.8" stroke="#000" stroke-width=".25">EGFP</text>
<text x="387.6" y="238.0" font-size="8.1" stroke="#000" stroke-width=".25">no. 3 CD19 BM.027</text>
<text transform="translate(333.3 275.3) rotate(-90)" font-size="8.3" stroke="#000" stroke-width=".25">CD19 PE</text>
<text x="423.3" y="249.2" font-size="8.7" text-anchor="end" stroke="#000" stroke-width=".25">5%</text>
<path d="M129.0 413.6L129.0 412.3L129.0 411.0L129.0 409.7L129.0 408.4L129.0 407.1L129.0 405.8L129.0 404.5L129.0 403.2L129.0 401.9L129.0 400.6L129.0 399.2L129.0 397.9L130.0 397.4L132.1 396.8L133.5 396.9L135.1 396.0L136.1 396.0L137.9 396.2L138.9 396.3L140.3 394.9L142.6 394.9L143.4 394.3L144.8 395.3L145.8 394.6L147.2 394.1L148.3 393.5L150.7 393.5L151.3 393.1L153.1 391.9L154.1 391.1L155.2 390.8L155.6 390.7L157.4 389.6L157.9 389.8L160.5 389.2L160.7 388.3L162.7 389.1L163.5 390.4L162.5 392.0L161.7 392.5L161.1 393.3L160.5 394.7L160.5 396.6L159.4 397.1L158.7 398.2L158.2 399.8L158.2 401.3L157.7 403.0L158.2 404.1L156.8 405.5L156.8 406.3L157.3 407.5L157.0 409.0L157.2 411.1L156.2 412.4L156.4 413.6L155.1 413.6L153.8 413.6L152.5 413.6L151.2 413.6L149.9 413.6L148.6 413.6L147.3 413.6L146.0 413.6L144.7 413.6L143.4 413.6L142.1 413.6L140.8 413.6L139.4 413.6L138.1 413.6L136.8 413.6L135.5 413.6L134.2 413.6L132.9 413.6L131.6 413.6L130.3 413.6Z" fill="#000"/>
<path d="M162.7 372.9L164.6 371.7L165.6 370.2L166.4 369.8L168.2 368.4L168.5 368.7L170.4 368.7L172.1 368.7L173.4 367.5L174.7 367.8L175.9 367.3L176.7 366.2L178.3 366.2L179.8 365.7L179.3 367.4L179.1 368.7L179.4 369.8L177.2 370.3L176.0 371.5L174.6 373.0L174.5 373.7L173.1 373.9L171.8 374.8L170.3 375.3L168.4 375.5L167.6 376.2L166.2 374.4L164.1 375.1L163.4 373.6Z" fill="#000"/>
<path d="M131.5 396.2h1.1M131.4 398.0h1.1M130.4 397.9h1.1M130.9 397.4h1.1M132.3 398.1h1.1M135.0 396.1h1.1M133.5 395.3h1.1M135.2 395.1h1.1M133.7 396.3h1.1M134.7 394.6h1.1M135.2 396.5h1.1M135.0 396.7h1.1M136.7 395.2h1.1M137.6 395.6h1.1M139.9 396.7h1.1M137.1 394.9h1.1M140.5 396.9h1.1M139.1 394.8h1.1M140.8 395.4h1.1M140.0 396.3h1.1M139.9 395.8h1.1M140.2 395.4h1.1M139.4 396.1h1.1M143.2 394.9h1.1M144.8 395.5h1.1M145.0 393.8h1.1M143.4 393.6h1.1M143.6 395.2h1.1M145.3 392.5h1.1M145.5 394.9h1.1M147.7 395.3h1.1M143.9 394.0h1.1M149.3 395.2h1.1M146.4 392.9h1.1M150.8 393.0h1.1M148.8 394.5h1.1M152.2 393.0h1.1M151.5 392.6h1.1M151.4 393.4h1.1M151.2 395.1h1.1M152.8 390.7h1.1M155.4 391.2h1.1M153.3 391.9h1.1M156.4 389.1h1.1M155.7 392.6h1.1M156.2 390.1h1.1M157.6 392.8h1.1M157.4 390.9h1.1M155.4 389.8h1.1M158.7 391.4h1.1M158.1 387.3h1.1M157.4 390.9h1.1M158.9 390.6h1.1M157.9 389.1h1.1M159.2 387.7h1.1M161.5 389.2h1.1M161.3 386.8h1.1M161.5 388.2h1.1M161.9 390.4h1.1M162.7 387.1h1.1M163.0 387.3h1.1M165.4 392.2h1.1M160.4 392.2h1.1M162.9 393.2h1.1M161.0 391.0h1.1M162.5 393.0h1.1M159.9 392.1h1.1M160.2 391.7h1.1M160.9 393.5h1.1M160.8 395.1h1.1M161.3 395.5h1.1M159.6 396.7h1.1M160.4 396.6h1.1M160.0 395.7h1.1M161.1 395.2h1.1M157.6 398.9h1.1M158.6 399.9h1.1M160.1 400.7h1.1M157.8 399.6h1.1M157.7 402.2h1.1M159.3 400.3h1.1M158.5 404.3h1.1M156.8 402.1h1.1M157.2 403.4h1.1M158.3 405.1h1.1M157.9 403.4h1.1M155.2 406.1h1.1M157.8 406.7h1.1M158.4 405.7h1.1M158.2 408.7h1.1M156.8 406.2h1.1M158.1 406.4h1.1M159.7 410.3h1.1M157.2 408.5h1.1M155.8 411.8h1.1M156.5 410.9h1.1M155.6 411.4h1.1M155.6 409.1h1.1M157.2 412.4h1.1M154.8 412.4h1.1M135.3 386.8h1.1M137.8 387.6h1.1M151.1 393.2h1.1M132.8 390.9h1.1M135.8 389.1h1.1M148.0 394.6h1.1M150.4 394.0h1.1M142.0 394.1h1.1M148.4 395.7h1.1M136.2 394.8h1.1M146.6 391.7h1.1M145.2 386.6h1.1M131.8 394.4h1.1M136.6 393.9h1.1M131.1 395.7h1.1M131.9 391.6h1.1M148.0 395.4h1.1M153.4 395.2h1.1M142.9 393.9h1.1M134.7 392.7h1.1M148.9 389.5h1.1M142.4 395.6h1.1M152.8 391.4h1.1M153.7 394.2h1.1M150.2 394.7h1.1M153.8 394.4h1.1M135.5 395.8h1.1M137.2 387.9h1.1M141.0 388.8h1.1M142.4 389.6h1.1M133.6 389.2h1.1M147.0 392.6h1.1M152.3 390.2h1.1M141.3 388.2h1.1M148.0 394.2h1.1M150.1 391.6h1.1M144.1 388.1h1.1M134.0 393.5h1.1M131.3 394.7h1.1M134.4 390.2h1.1M139.3 392.3h1.1M130.1 390.5h1.1M153.1 390.1h1.1M135.9 389.2h1.1M137.7 391.2h1.1M161.6 371.9h1.1M162.5 369.7h1.1M161.9 372.6h1.1M169.1 371.8h1.1M164.4 371.1h1.1M165.0 370.3h1.1M165.1 371.1h1.1M164.2 367.8h1.1M166.8 371.3h1.1M168.7 370.2h1.1M166.2 369.9h1.1M165.6 367.9h1.1M163.5 368.5h1.1M165.5 370.0h1.1M169.0 369.1h1.1M166.4 367.9h1.1M165.5 369.7h1.1M168.4 368.4h1.1M170.0 367.1h1.1M168.1 370.6h1.1M170.4 366.7h1.1M170.5 366.7h1.1M168.8 366.4h1.1M173.6 368.3h1.1M170.1 364.9h1.1M172.0 367.8h1.1M171.4 368.3h1.1M173.9 369.9h1.1M172.5 367.7h1.1M171.2 368.5h1.1M175.9 368.5h1.1M174.3 370.0h1.1M175.5 366.5h1.1M174.8 367.1h1.1M174.6 366.7h1.1M173.3 366.9h1.1M175.4 365.8h1.1M171.3 366.7h1.1M179.2 366.1h1.1M178.3 364.7h1.1M180.9 365.9h1.1M179.9 369.2h1.1M179.2 365.5h1.1M179.4 366.7h1.1M178.3 364.3h1.1M177.0 366.2h1.1M177.1 369.2h1.1M178.7 366.6h1.1M178.5 369.1h1.1M177.2 369.6h1.1M179.5 368.2h1.1M178.1 367.3h1.1M180.2 369.4h1.1M177.8 371.6h1.1M181.4 367.6h1.1M176.2 371.5h1.1M178.9 369.9h1.1M178.6 370.5h1.1M176.6 369.0h1.1M176.9 369.7h1.1M176.0 372.1h1.1M175.0 369.3h1.1M175.5 370.5h1.1M173.8 372.8h1.1M176.0 371.8h1.1M174.1 373.1h1.1M172.4 371.4h1.1M174.5 371.1h1.1M172.8 374.7h1.1M171.2 372.0h1.1M172.3 374.2h1.1M173.1 374.1h1.1M172.3 374.3h1.1M169.7 374.5h1.1M171.5 376.6h1.1M173.5 372.2h1.1M171.0 373.1h1.1M170.6 377.5h1.1M169.6 374.1h1.1M169.4 376.1h1.1M174.1 374.9h1.1M167.0 377.8h1.1M167.5 373.1h1.1M165.6 374.0h1.1M171.7 375.6h1.1M165.6 372.3h1.1M167.9 377.9h1.1M167.5 376.1h1.1M169.8 379.0h1.1M164.4 375.7h1.1M165.6 375.9h1.1M163.8 376.6h1.1M164.6 374.9h1.1M166.0 371.6h1.1M164.4 376.6h1.1M165.9 376.5h1.1M163.8 374.9h1.1M165.0 371.1h1.1M166.1 374.4h1.1M165.1 376.0h1.1M174.0 370.9h1.1M168.9 371.0h1.1M171.7 373.0h1.1M163.8 373.8h1.1M172.0 372.3h1.1M173.3 364.2h1.1M166.1 367.3h1.1M169.0 373.8h1.1M174.2 371.0h1.1M170.1 367.4h1.1M182.5 367.7h1.1M181.3 365.4h1.1M171.0 370.8h1.1M173.3 370.7h1.1M176.8 370.1h1.1M175.1 369.5h1.1M178.6 369.7h1.1M165.6 377.0h1.1M172.3 374.8h1.1M172.7 371.5h1.1M167.9 371.0h1.1M169.7 368.2h1.1M182.8 368.4h1.1M176.0 368.1h1.1M168.9 370.3h1.1M167.4 377.7h1.1M167.9 373.4h1.1M171.8 364.2h1.1M172.2 372.8h1.1M180.1 370.8h1.1M166.6 378.7h1.1M173.1 366.1h1.1M166.4 375.7h1.1M175.4 369.4h1.1M177.3 367.4h1.1M178.4 368.9h1.1M171.1 374.6h1.1M175.5 364.6h1.1M184.2 368.4h1.1M171.5 370.2h1.1M168.2 371.1h1.1M169.0 371.6h1.1M174.2 364.9h1.1M169.0 373.1h1.1M172.9 366.9h1.1M174.1 367.2h1.1M176.1 369.4h1.1M168.3 374.1h1.1M177.2 369.3h1.1M172.3 369.3h1.1M174.2 367.4h1.1M166.0 374.9h1.1M173.4 369.2h1.1M175.5 368.6h1.1M174.8 370.2h1.1M177.6 370.7h1.1M172.5 369.9h1.1M175.0 366.8h1.1M170.9 371.8h1.1M167.1 370.8h1.1M170.2 372.7h1.1M170.7 370.9h1.1M171.5 370.1h1.1M175.8 363.7h1.1M180.1 367.0h1.1M169.7 374.1h1.1M170.1 371.3h1.1M174.8 368.6h1.1M173.9 369.7h1.1M170.0 371.6h1.1M179.2 365.7h1.1M178.1 370.8h1.1M161.7 376.4h1.1M170.5 366.2h1.1M171.6 372.8h1.1M170.6 373.7h1.1M175.0 371.0h1.1M173.3 372.2h1.1M171.5 362.3h1.1M169.3 372.0h1.1M174.6 366.7h1.1M170.9 373.6h1.1M170.3 371.8h1.1M168.6 372.4h1.1M165.8 374.3h1.1M173.8 369.9h1.1M174.7 365.7h1.1M162.1 375.9h1.1M164.9 375.0h1.1M178.6 365.9h1.1M167.2 375.3h1.1M170.5 365.8h1.1M176.9 369.2h1.1M172.5 369.4h1.1M179.3 366.7h1.1M182.0 365.5h1.1M166.3 373.2h1.1M176.4 367.7h1.1M171.6 372.1h1.1M162.2 371.9h1.1M177.4 366.1h1.1M166.3 369.8h1.1M174.8 366.2h1.1M165.5 372.5h1.1M168.8 372.6h1.1M172.5 375.3h1.1M178.1 365.4h1.1M178.1 370.2h1.1M173.7 370.0h1.1M178.8 365.4h1.1M181.1 368.9h1.1M177.1 366.9h1.1M166.7 372.2h1.1M165.5 372.1h1.1M175.7 367.1h1.1M176.4 365.8h1.1M164.9 371.9h1.1M179.2 367.4h1.1M173.4 369.8h1.1M170.4 369.7h1.1M169.4 368.0h1.1M179.0 369.8h1.1M162.6 374.0h1.1M169.5 370.5h1.1M173.0 369.1h1.1M164.7 370.1h1.1M169.7 365.6h1.1M168.6 378.5h1.1M168.8 374.0h1.1M169.9 369.5h1.1M173.7 371.4h1.1M176.6 365.1h1.1M175.7 367.9h1.1M169.5 373.1h1.1M175.1 371.3h1.1M174.9 369.5h1.1M175.1 368.8h1.1M160.3 376.4h1.1M171.5 366.6h1.1M171.1 372.0h1.1M169.5 377.5h1.1M176.0 365.6h1.1M172.1 369.6h1.1M170.6 372.8h1.1M181.0 365.0h1.1M173.3 370.3h1.1M175.9 367.7h1.1M175.7 373.1h1.1M170.0 374.2h1.1M162.6 373.4h1.1M173.7 370.9h1.1M170.1 369.0h1.1M163.7 370.8h1.1M168.1 369.8h1.1M159.7 379.9h1.1M175.0 370.8h1.1M171.8 371.9h1.1M169.3 373.4h1.1M185.0 369.0h1.1M170.4 372.1h1.1M175.2 367.2h1.1M167.0 369.4h1.1M169.8 375.1h1.1M172.4 379.0h1.1M180.6 365.3h1.1M176.4 368.1h1.1M172.5 369.1h1.1M175.2 366.1h1.1M168.8 374.4h1.1M181.3 366.4h1.1M180.1 361.5h1.1M185.8 365.7h1.1M192.7 362.2h1.1M199.5 356.4h1.1M189.4 362.0h1.1M189.4 361.8h1.1M191.8 360.2h1.1M180.5 366.2h1.1M192.8 362.8h1.1M189.6 364.4h1.1M187.2 361.1h1.1M178.0 369.4h1.1M179.4 363.8h1.1M195.4 365.4h1.1M194.6 365.3h1.1M183.5 365.1h1.1M187.8 364.5h1.1M192.7 357.6h1.1M190.6 362.0h1.1M197.5 366.7h1.1M188.5 362.8h1.1M198.4 354.0h1.1M186.6 361.4h1.1M190.0 364.3h1.1M138.4 373.7h1.1M141.8 370.1h1.1M147.4 370.2h1.1M149.7 374.5h1.1M143.3 376.9h1.1M139.2 379.1h1.1M143.3 383.3h1.1M150.4 376.0h1.1M164.9 410.2h1.1M173.3 352.7h1.1M173.8 360.1h1.1M205.4 363.8h1.1M160.5 374.9h1.1M181.0 363.7h1.1M184.1 368.8h1.1" stroke="#000" stroke-width="1.1" fill="none"/>
<path d="M155.6 347.0V413.6M129.0 385.7H210.0" stroke="#000" stroke-width="1.15" fill="none"/>
<rect x="129.0" y="347.0" width="81.0" height="66.6" fill="none" stroke="#000" stroke-width="1.25"/>
<path d="M129.0 413.6v3.4M129.0 413.6h-3.4M135.1 413.6v1.9M129.0 408.6h-1.9M138.7 413.6v1.9M129.0 405.7h-1.9M141.2 413.6v1.9M129.0 403.6h-1.9M143.2 413.6v1.9M129.0 402.0h-1.9M144.8 413.6v1.9M129.0 400.6h-1.9M146.1 413.6v1.9M129.0 399.5h-1.9M147.3 413.6v1.9M129.0 398.6h-1.9M148.3 413.6v1.9M129.0 397.7h-1.9M149.2 413.6v3.4M129.0 397.0h-3.4M155.3 413.6v1.9M129.0 391.9h-1.9M158.9 413.6v1.9M129.0 389.0h-1.9M161.4 413.6v1.9M129.0 386.9h-1.9M163.4 413.6v1.9M129.0 385.3h-1.9M165.0 413.6v1.9M129.0 384.0h-1.9M166.4 413.6v1.9M129.0 382.9h-1.9M167.5 413.6v1.9M129.0 381.9h-1.9M168.6 413.6v1.9M129.0 381.1h-1.9M169.5 413.6v3.4M129.0 380.3h-3.4M175.6 413.6v1.9M129.0 375.3h-1.9M179.2 413.6v1.9M129.0 372.4h-1.9M181.7 413.6v1.9M129.0 370.3h-1.9M183.7 413.6v1.9M129.0 368.7h-1.9M185.3 413.6v1.9M129.0 367.3h-1.9M186.6 413.6v1.9M129.0 366.2h-1.9M187.8 413.6v1.9M129.0 365.3h-1.9M188.8 413.6v1.9M129.0 364.4h-1.9M189.8 413.6v3.4M129.0 363.6h-3.4M195.8 413.6v1.9M129.0 358.6h-1.9M199.4 413.6v1.9M129.0 355.7h-1.9M201.9 413.6v1.9M129.0 353.6h-1.9M203.9 413.6v1.9M129.0 352.0h-1.9M205.5 413.6v1.9M129.0 350.7h-1.9M206.9 413.6v1.9M129.0 349.6h-1.9M208.0 413.6v1.9M129.0 348.6h-1.9M209.1 413.6v1.9M129.0 347.8h-1.9M210.0 413.6v3.4M129.0 347.0h-3.4" stroke="#000" stroke-width="1" fill="none"/>
<text x="129.6" y="427.0" font-size="7.6" text-anchor="middle" stroke="#000" stroke-width=".2">10<tspan dy="-3.9" font-size="7">0</tspan></text>
<text transform="translate(123.7 414.0) rotate(-90)" font-size="7.6" text-anchor="middle" stroke="#000" stroke-width=".2">10<tspan dy="-3.9" font-size="7">0</tspan></text>
<text x="148.7" y="427.0" font-size="7.6" text-anchor="middle" stroke="#000" stroke-width=".2">10<tspan dy="-3.9" font-size="7">1</tspan></text>
<text transform="translate(123.7 397.9) rotate(-90)" font-size="7.6" text-anchor="middle" stroke="#000" stroke-width=".2">10<tspan dy="-3.9" font-size="7">1</tspan></text>
<text x="167.9" y="427.0" font-size="7.6" text-anchor="middle" stroke="#000" stroke-width=".2">10<tspan dy="-3.9" font-size="7">2</tspan></text>
<text transform="translate(123.7 381.9) rotate(-90)" font-size="7.6" text-anchor="middle" stroke="#000" stroke-width=".2">10<tspan dy="-3.9" font-size="7">2</tspan></text>
<text x="187.0" y="427.0" font-size="7.6" text-anchor="middle" stroke="#000" stroke-width=".2">10<tspan dy="-3.9" font-size="7">3</tspan></text>
<text transform="translate(123.7 365.8) rotate(-90)" font-size="7.6" text-anchor="middle" stroke="#000" stroke-width=".2">10<tspan dy="-3.9" font-size="7">3</tspan></text>
<text x="206.1" y="427.0" font-size="7.6" text-anchor="middle" stroke="#000" stroke-width=".2">10<tspan dy="-3.9" font-size="7">4</tspan></text>
<text transform="translate(123.7 349.7) rotate(-90)" font-size="7.6" text-anchor="middle" stroke="#000" stroke-width=".2">10<tspan dy="-3.9" font-size="7">4</tspan></text>
<text x="169.5" y="436.2" font-size="7.8" stroke="#000" stroke-width=".25">EGFP</text>
<text x="168.2" y="343.5" font-size="8.1" stroke="#000" stroke-width=".25">no. 4 CD45 BM.005</text>
<text transform="translate(113.3 380.9) rotate(-90)" font-size="8.3" stroke="#000" stroke-width=".25">CD45 PE</text>
<text x="204.5" y="354.7" font-size="8.7" text-anchor="end" stroke="#000" stroke-width=".25">97%</text>
<path d="M241.5 413.6L241.5 412.3L241.5 410.9L241.5 409.6L241.5 408.2L241.5 406.9L241.5 405.5L241.5 404.2L241.5 402.8L241.5 401.5L241.5 400.1L241.5 398.8L242.4 397.9L244.3 397.8L246.1 398.2L247.5 397.9L248.5 396.5L250.8 397.4L252.0 396.8L252.9 395.7L254.2 396.5L256.2 395.2L257.1 395.7L257.9 394.6L260.3 395.3L261.0 394.6L262.1 394.4L263.9 393.4L265.3 392.7L266.6 391.9L267.7 391.9L268.7 391.6L269.1 391.1L271.1 390.0L272.5 389.4L273.4 388.7L275.1 387.7L274.5 389.2L275.8 390.7L274.4 392.5L274.1 393.1L272.4 394.6L272.1 395.4L271.7 397.8L271.3 399.2L269.9 400.5L269.7 401.8L269.5 402.1L269.9 403.5L269.7 405.8L270.2 406.5L269.5 408.5L269.2 409.2L269.9 411.4L268.8 411.7L269.2 413.6L267.9 413.6L266.6 413.6L265.3 413.6L264.0 413.6L262.6 413.6L261.3 413.6L260.0 413.6L258.7 413.6L257.4 413.6L256.0 413.6L254.7 413.6L253.4 413.6L252.1 413.6L250.7 413.6L249.4 413.6L248.1 413.6L246.8 413.6L245.5 413.6L244.1 413.6L242.8 413.6Z" fill="#000"/>
<path d="M243.4 400.3h1.1M245.5 396.5h1.1M245.9 400.4h1.1M245.8 397.8h1.1M245.3 396.1h1.1M244.6 398.2h1.1M248.6 397.2h1.1M246.0 397.0h1.1M247.7 395.9h1.1M251.6 395.5h1.1M249.6 398.9h1.1M249.8 394.3h1.1M251.1 397.1h1.1M249.8 397.1h1.1M250.8 395.5h1.1M251.5 396.8h1.1M253.5 395.2h1.1M253.8 397.7h1.1M255.3 397.2h1.1M253.7 396.7h1.1M252.0 394.8h1.1M257.5 397.9h1.1M255.5 396.9h1.1M258.8 397.1h1.1M255.7 395.6h1.1M255.0 394.1h1.1M258.4 397.7h1.1M258.7 393.9h1.1M260.7 395.2h1.1M259.0 394.0h1.1M260.8 395.4h1.1M262.1 394.9h1.1M263.5 394.8h1.1M262.5 392.7h1.1M262.5 394.1h1.1M261.9 393.0h1.1M263.5 393.1h1.1M262.3 395.2h1.1M261.8 394.3h1.1M266.5 391.3h1.1M266.2 391.1h1.1M268.3 393.8h1.1M265.1 393.5h1.1M266.7 392.0h1.1M268.2 392.7h1.1M267.7 390.0h1.1M269.0 389.7h1.1M270.1 391.2h1.1M270.9 391.4h1.1M270.3 390.6h1.1M269.1 392.1h1.1M269.6 391.9h1.1M271.2 386.8h1.1M273.1 388.4h1.1M275.0 388.6h1.1M271.3 386.7h1.1M275.0 387.1h1.1M275.9 390.7h1.1M270.4 391.1h1.1M276.1 390.6h1.1M275.3 387.7h1.1M275.1 393.1h1.1M276.2 390.4h1.1M276.4 390.6h1.1M274.7 393.1h1.1M272.8 390.6h1.1M272.2 393.8h1.1M273.5 393.3h1.1M274.6 395.7h1.1M272.2 394.3h1.1M273.1 396.5h1.1M270.1 395.4h1.1M273.9 395.2h1.1M272.0 398.9h1.1M272.8 398.2h1.1M272.8 397.6h1.1M270.0 396.8h1.1M270.7 400.1h1.1M269.4 396.0h1.1M269.0 401.1h1.1M269.7 398.4h1.1M270.4 401.0h1.1M270.7 400.8h1.1M269.5 400.9h1.1M271.3 402.5h1.1M270.2 403.0h1.1M270.7 402.5h1.1M270.5 405.1h1.1M270.2 407.5h1.1M268.1 404.0h1.1M270.8 407.4h1.1M270.6 406.9h1.1M270.8 407.7h1.1M269.9 407.5h1.1M269.1 408.2h1.1M268.1 410.6h1.1M268.7 411.3h1.1M266.7 412.8h1.1M268.6 411.2h1.1M271.3 412.0h1.1M262.9 392.6h1.1M247.3 386.7h1.1M248.9 387.7h1.1M251.2 395.6h1.1M259.7 389.1h1.1M251.0 389.6h1.1M244.1 393.2h1.1M253.6 390.3h1.1M246.7 388.5h1.1M250.1 395.4h1.1M254.3 393.1h1.1M254.4 391.4h1.1M263.2 394.4h1.1M242.8 394.9h1.1M253.2 390.7h1.1M265.3 394.3h1.1M263.2 388.6h1.1M259.3 387.2h1.1M257.3 393.1h1.1M256.6 392.2h1.1M248.1 392.1h1.1M245.9 387.6h1.1M263.7 390.2h1.1M249.0 394.0h1.1M263.4 394.7h1.1M256.1 390.5h1.1M246.1 392.2h1.1M259.8 389.3h1.1M252.8 395.7h1.1M246.7 389.0h1.1M244.6 387.0h1.1M263.5 388.8h1.1M252.7 395.6h1.1M247.3 389.9h1.1M257.2 392.6h1.1M259.9 394.5h1.1M246.7 387.4h1.1M242.7 389.3h1.1M254.8 388.2h1.1M267.3 390.6h1.1M258.9 392.8h1.1M247.3 392.1h1.1M252.5 392.9h1.1M263.8 390.5h1.1M249.0 388.8h1.1M264.7 393.9h1.1M244.4 390.4h1.1M269.2 388.8h1.1M260.7 393.7h1.1M262.7 387.7h1.1M263.6 387.4h1.1M265.7 392.2h1.1M262.3 389.2h1.1M263.1 389.9h1.1M256.7 387.0h1.1M270.4 388.3h1.1M259.5 389.6h1.1M246.3 393.6h1.1M244.4 390.2h1.1M265.1 389.4h1.1M261.0 387.1h1.1M260.0 392.4h1.1M255.8 393.6h1.1M265.5 392.7h1.1M251.1 395.5h1.1M265.3 394.9h1.1M263.4 393.7h1.1M247.0 395.8h1.1M252.9 386.6h1.1M243.9 387.9h1.1M243.0 388.1h1.1M251.0 387.9h1.1M253.1 387.8h1.1M243.9 390.5h1.1M256.0 392.0h1.1M247.2 394.7h1.1M247.5 391.4h1.1M257.7 394.0h1.1M256.0 394.3h1.1M260.7 391.5h1.1M264.3 395.3h1.1M261.7 388.4h1.1M243.2 395.7h1.1M268.3 390.5h1.1M268.2 396.0h1.1M250.0 393.4h1.1M256.4 386.7h1.1M244.8 393.8h1.1M257.9 390.4h1.1M244.9 387.7h1.1M286.5 408.1h1.1M279.8 400.7h1.1M276.1 406.4h1.1M278.7 402.9h1.1M275.9 400.8h1.1M280.9 400.5h1.1M285.8 401.0h1.1M285.1 396.4h1.1M279.6 404.4h1.1M286.9 397.9h1.1M284.1 408.8h1.1M288.0 409.3h1.1M283.3 395.9h1.1M284.1 392.8h1.1M278.8 405.7h1.1M280.2 399.1h1.1M276.3 399.2h1.1M290.3 400.0h1.1M289.3 398.3h1.1M286.8 412.1h1.1M278.7 409.5h1.1M282.5 408.0h1.1M277.1 407.3h1.1M276.2 409.3h1.1M284.8 403.7h1.1M277.7 402.1h1.1M279.1 402.5h1.1M275.0 411.3h1.1M281.9 398.5h1.1M292.7 400.9h1.1M282.0 407.2h1.1M281.7 403.0h1.1M284.8 392.1h1.1M274.7 401.3h1.1M284.2 401.5h1.1M279.1 394.7h1.1M281.1 399.2h1.1M285.6 401.6h1.1M281.5 403.3h1.1M285.0 405.4h1.1M284.5 403.1h1.1M285.4 411.5h1.1M288.1 402.8h1.1M283.4 410.4h1.1M278.0 397.6h1.1M284.8 399.0h1.1M286.6 399.5h1.1M280.2 406.1h1.1M284.8 401.7h1.1M286.1 397.2h1.1M290.5 403.0h1.1M283.8 405.1h1.1M276.5 397.0h1.1M274.4 405.9h1.1M283.9 399.4h1.1M283.3 395.0h1.1M276.3 401.7h1.1M280.6 402.0h1.1M275.3 404.9h1.1M285.4 404.3h1.1M279.7 403.8h1.1M283.6 398.8h1.1M282.4 410.8h1.1M281.8 400.9h1.1M282.5 401.7h1.1M286.5 406.5h1.1M282.2 399.5h1.1M289.9 399.2h1.1M283.5 399.6h1.1M280.5 409.6h1.1M278.6 397.1h1.1M288.6 397.1h1.1M282.4 403.0h1.1M276.0 399.3h1.1M285.1 405.0h1.1M285.9 394.9h1.1M275.7 395.4h1.1M281.4 407.6h1.1M289.4 409.9h1.1M276.7 397.9h1.1M282.3 410.0h1.1M295.4 401.5h1.1M280.0 398.3h1.1M285.9 400.9h1.1M283.8 406.2h1.1M281.7 402.5h1.1M277.3 398.9h1.1M285.3 402.7h1.1M285.3 405.2h1.1M283.5 405.7h1.1M285.8 403.0h1.1M284.3 407.3h1.1M281.3 396.3h1.1M280.4 401.2h1.1M276.9 406.9h1.1M283.1 400.8h1.1M275.2 395.4h1.1M284.8 400.1h1.1M290.6 399.1h1.1M283.4 395.3h1.1M284.8 400.7h1.1M280.6 406.9h1.1M280.6 404.4h1.1M277.0 408.7h1.1M288.8 401.4h1.1M279.6 403.0h1.1M282.7 399.7h1.1M289.8 402.1h1.1M286.4 400.2h1.1M284.9 403.2h1.1M280.5 408.0h1.1M273.5 401.7h1.1M283.1 409.6h1.1M277.6 404.8h1.1M286.5 402.6h1.1M278.1 402.2h1.1M284.5 399.4h1.1M281.6 403.7h1.1M278.8 402.9h1.1M285.7 396.0h1.1M279.9 394.3h1.1M280.8 397.1h1.1M282.1 403.6h1.1M288.2 404.0h1.1M283.3 400.2h1.1M278.8 402.3h1.1M287.3 397.9h1.1M285.0 405.8h1.1M282.1 394.4h1.1M282.3 409.5h1.1M283.4 395.0h1.1M283.4 405.6h1.1M282.5 398.4h1.1M286.2 394.9h1.1M279.2 397.4h1.1M281.9 411.4h1.1M281.6 400.6h1.1M287.7 395.3h1.1M281.7 403.5h1.1M281.7 401.6h1.1M281.1 399.2h1.1M284.5 402.9h1.1M279.9 400.3h1.1M284.7 401.2h1.1M283.3 405.5h1.1M286.2 397.3h1.1M287.8 399.2h1.1M280.7 403.5h1.1M275.2 403.8h1.1M281.7 402.6h1.1M288.5 405.4h1.1M283.1 404.1h1.1M283.6 403.6h1.1M280.9 405.1h1.1M284.1 402.2h1.1M284.2 397.7h1.1M282.3 405.0h1.1M283.1 402.2h1.1M287.5 404.1h1.1M278.3 399.7h1.1M284.3 405.9h1.1M274.2 402.9h1.1M285.8 406.6h1.1M284.9 395.5h1.1M282.7 405.1h1.1M274.6 398.3h1.1M280.4 406.3h1.1M290.3 399.6h1.1M275.7 399.1h1.1M282.0 397.7h1.1M290.6 401.6h1.1M281.1 404.0h1.1M283.6 397.6h1.1M286.4 406.9h1.1M279.9 401.6h1.1M279.7 411.3h1.1M286.0 407.6h1.1M283.4 401.2h1.1M278.5 399.4h1.1M279.2 408.3h1.1M280.0 404.5h1.1M278.6 404.0h1.1M275.4 405.7h1.1M283.0 393.3h1.1M288.8 412.8h1.1M279.7 405.8h1.1M279.2 411.9h1.1M282.7 405.6h1.1M279.6 396.3h1.1M287.1 399.5h1.1M272.8 402.4h1.1M285.3 398.8h1.1M279.1 407.6h1.1M273.5 396.2h1.1M278.4 402.2h1.1M285.2 409.6h1.1M277.3 395.8h1.1M284.7 396.6h1.1M282.3 397.3h1.1M281.8 388.5h1.1M285.0 399.0h1.1M278.0 394.9h1.1M285.0 396.3h1.1M273.1 406.0h1.1M277.1 401.5h1.1M280.4 402.7h1.1M276.9 397.4h1.1M280.3 404.2h1.1M276.7 402.6h1.1M282.5 405.5h1.1M280.3 404.6h1.1M280.7 403.1h1.1M275.8 398.5h1.1M280.4 395.5h1.1M279.5 404.6h1.1M285.1 410.1h1.1M281.3 404.9h1.1M284.0 400.2h1.1M279.5 407.6h1.1M281.0 401.0h1.1M289.4 398.9h1.1M288.6 397.9h1.1M280.1 400.4h1.1M279.5 403.3h1.1M286.2 409.3h1.1M281.3 397.0h1.1M280.2 406.8h1.1M274.9 401.0h1.1M282.8 405.4h1.1M283.8 402.1h1.1M281.4 401.8h1.1M281.3 398.3h1.1M280.0 406.8h1.1M287.3 404.0h1.1M294.0 390.4h1.1M286.2 398.0h1.1M283.1 406.2h1.1M285.0 401.7h1.1M280.1 399.4h1.1M283.0 406.9h1.1M286.4 397.8h1.1M285.3 403.9h1.1M285.9 400.3h1.1M277.8 402.2h1.1M280.1 406.4h1.1M282.9 391.1h1.1M284.7 397.2h1.1M286.5 401.3h1.1M277.1 398.2h1.1M285.1 405.9h1.1M283.1 404.6h1.1M279.8 403.4h1.1M287.1 406.8h1.1M277.1 401.0h1.1M288.9 406.8h1.1M282.5 405.7h1.1M284.4 403.0h1.1M281.2 404.4h1.1M286.4 406.7h1.1M282.4 400.4h1.1M286.2 403.1h1.1M286.8 392.8h1.1M274.1 401.3h1.1M283.2 402.3h1.1M276.0 404.2h1.1M275.4 406.7h1.1M279.3 409.8h1.1M288.2 408.8h1.1M296.7 395.2h1.1M283.2 405.1h1.1M277.6 401.0h1.1M287.5 402.1h1.1M280.2 405.6h1.1M284.4 411.9h1.1M281.5 402.4h1.1M288.9 397.0h1.1M283.7 406.3h1.1M283.2 398.4h1.1M280.7 401.5h1.1M281.5 401.9h1.1M287.7 404.6h1.1M283.8 400.2h1.1M283.9 404.4h1.1M281.9 402.7h1.1M283.0 403.8h1.1M282.1 399.8h1.1M286.4 397.2h1.1M282.3 403.2h1.1M282.3 412.4h1.1M279.6 399.6h1.1M278.4 410.2h1.1M280.8 405.8h1.1M283.3 404.6h1.1M284.5 396.8h1.1M279.6 395.8h1.1M281.7 397.6h1.1M292.0 403.0h1.1M284.6 408.1h1.1M281.5 406.3h1.1M292.4 398.1h1.1M283.8 402.6h1.1M281.7 404.8h1.1M286.5 405.5h1.1M279.1 407.4h1.1M286.2 403.3h1.1M275.9 405.6h1.1M281.0 402.7h1.1M282.6 409.1h1.1M282.5 406.4h1.1M276.8 396.0h1.1M280.8 396.2h1.1M286.0 393.2h1.1M286.1 405.0h1.1M282.9 406.4h1.1M283.5 402.2h1.1M286.6 397.9h1.1M282.9 402.7h1.1M283.3 402.5h1.1M277.1 403.3h1.1M287.9 407.5h1.1M286.5 399.1h1.1M283.0 399.8h1.1M282.5 405.8h1.1M284.8 396.1h1.1M283.0 401.7h1.1M275.0 389.2h1.1M295.0 409.1h1.1M279.0 395.5h1.1M297.1 405.9h1.1M300.9 406.1h1.1M273.7 404.2h1.1M297.7 405.9h1.1M299.9 404.6h1.1M274.5 403.9h1.1M287.3 400.7h1.1M280.9 408.1h1.1M280.1 397.0h1.1M299.9 401.3h1.1M284.3 398.5h1.1M297.9 393.0h1.1M274.1 389.3h1.1M293.9 389.6h1.1M296.4 389.6h1.1M301.6 397.4h1.1M298.7 407.8h1.1M282.8 393.3h1.1M277.1 394.9h1.1M283.9 404.7h1.1M285.6 401.3h1.1M292.8 404.9h1.1M274.6 391.3h1.1M279.0 402.3h1.1M279.4 409.3h1.1M280.4 397.1h1.1M289.2 404.9h1.1M291.2 391.4h1.1M281.1 410.6h1.1M295.0 406.3h1.1M279.6 395.2h1.1M287.7 407.3h1.1M303.8 393.2h1.1M282.7 389.6h1.1M295.9 398.5h1.1M274.5 399.8h1.1M303.4 407.6h1.1M296.7 402.3h1.1M296.3 390.9h1.1M302.9 410.0h1.1M292.5 401.4h1.1M300.2 391.4h1.1M244.9 371.0h1.1M250.3 371.9h1.1M256.0 369.5h1.1M260.0 365.1h1.1M264.2 363.8h1.1M266.2 361.0h1.1M260.9 373.4h1.1M264.4 374.0h1.1M250.5 383.1h1.1M256.9 381.4h1.1M278.2 373.7h1.1M285.9 372.0h1.1M293.7 365.1h1.1M299.7 366.3h1.1M301.2 369.2h1.1M303.3 363.5h1.1M310.9 367.9h1.1M313.9 371.9h1.1M298.0 378.4h1.1M307.9 381.6h1.1M292.3 386.6h1.1" stroke="#000" stroke-width="1.1" fill="none"/>
<path d="M271.7 347.0V413.6M241.5 385.7H322.4" stroke="#000" stroke-width="1.15" fill="none"/>
<rect x="241.5" y="347.0" width="80.9" height="66.6" fill="none" stroke="#000" stroke-width="1.25"/>
<path d="M241.5 413.6v3.4M241.5 413.6h-3.4M247.6 413.6v1.9M241.5 408.6h-1.9M251.1 413.6v1.9M241.5 405.7h-1.9M253.7 413.6v1.9M241.5 403.6h-1.9M255.6 413.6v1.9M241.5 402.0h-1.9M257.2 413.6v1.9M241.5 400.6h-1.9M258.6 413.6v1.9M241.5 399.5h-1.9M259.8 413.6v1.9M241.5 398.6h-1.9M260.8 413.6v1.9M241.5 397.7h-1.9M261.7 413.6v3.4M241.5 397.0h-3.4M267.8 413.6v1.9M241.5 391.9h-1.9M271.4 413.6v1.9M241.5 389.0h-1.9M273.9 413.6v1.9M241.5 386.9h-1.9M275.9 413.6v1.9M241.5 385.3h-1.9M277.5 413.6v1.9M241.5 384.0h-1.9M278.8 413.6v1.9M241.5 382.9h-1.9M280.0 413.6v1.9M241.5 381.9h-1.9M281.0 413.6v1.9M241.5 381.1h-1.9M281.9 413.6v3.4M241.5 380.3h-3.4M288.0 413.6v1.9M241.5 375.3h-1.9M291.6 413.6v1.9M241.5 372.4h-1.9M294.1 413.6v1.9M241.5 370.3h-1.9M296.1 413.6v1.9M241.5 368.7h-1.9M297.7 413.6v1.9M241.5 367.3h-1.9M299.0 413.6v1.9M241.5 366.2h-1.9M300.2 413.6v1.9M241.5 365.3h-1.9M301.2 413.6v1.9M241.5 364.4h-1.9M302.2 413.6v3.4M241.5 363.6h-3.4M308.3 413.6v1.9M241.5 358.6h-1.9M311.8 413.6v1.9M241.5 355.7h-1.9M314.4 413.6v1.9M241.5 353.6h-1.9M316.3 413.6v1.9M241.5 352.0h-1.9M317.9 413.6v1.9M241.5 350.7h-1.9M319.3 413.6v1.9M241.5 349.6h-1.9M320.4 413.6v1.9M241.5 348.6h-1.9M321.5 413.6v1.9M241.5 347.8h-1.9M322.4 413.6v3.4M241.5 347.0h-3.4" stroke="#000" stroke-width="1" fill="none"/>
<text x="242.1" y="427.0" font-size="7.6" text-anchor="middle" stroke="#000" stroke-width=".2">10<tspan dy="-3.9" font-size="7">0</tspan></text>
<text transform="translate(236.2 414.0) rotate(-90)" font-size="7.6" text-anchor="middle" stroke="#000" stroke-width=".2">10<tspan dy="-3.9" font-size="7">0</tspan></text>
<text x="261.2" y="427.0" font-size="7.6" text-anchor="middle" stroke="#000" stroke-width=".2">10<tspan dy="-3.9" font-size="7">1</tspan></text>
<text transform="translate(236.2 397.9) rotate(-90)" font-size="7.6" text-anchor="middle" stroke="#000" stroke-width=".2">10<tspan dy="-3.9" font-size="7">1</tspan></text>
<text x="280.3" y="427.0" font-size="7.6" text-anchor="middle" stroke="#000" stroke-width=".2">10<tspan dy="-3.9" font-size="7">2</tspan></text>
<text transform="translate(236.2 381.9) rotate(-90)" font-size="7.6" text-anchor="middle" stroke="#000" stroke-width=".2">10<tspan dy="-3.9" font-size="7">2</tspan></text>
<text x="299.4" y="427.0" font-size="7.6" text-anchor="middle" stroke="#000" stroke-width=".2">10<tspan dy="-3.9" font-size="7">3</tspan></text>
<text transform="translate(236.2 365.8) rotate(-90)" font-size="7.6" text-anchor="middle" stroke="#000" stroke-width=".2">10<tspan dy="-3.9" font-size="7">3</tspan></text>
<text x="318.6" y="427.0" font-size="7.6" text-anchor="middle" stroke="#000" stroke-width=".2">10<tspan dy="-3.9" font-size="7">4</tspan></text>
<text transform="translate(236.2 349.7) rotate(-90)" font-size="7.6" text-anchor="middle" stroke="#000" stroke-width=".2">10<tspan dy="-3.9" font-size="7">4</tspan></text>
<text x="281.9" y="436.2" font-size="7.8" stroke="#000" stroke-width=".25">EGFP</text>
<text x="280.6" y="343.5" font-size="8.1" stroke="#000" stroke-width=".25">no. 4 CD33 BM.020</text>
<text transform="translate(225.8 380.9) rotate(-90)" font-size="8.3" stroke="#000" stroke-width=".25">CD33 PE</text>
<text x="316.9" y="354.7" font-size="8.7" text-anchor="end" stroke="#000" stroke-width=".25">51%</text>
<path d="M349.0 413.6L349.0 412.3L349.0 410.9L349.0 409.6L349.0 408.2L349.0 406.9L349.0 405.5L349.0 404.2L349.0 402.8L349.0 401.5L349.0 400.1L349.0 398.8L350.5 398.9L351.7 397.7L352.9 397.9L353.9 397.3L355.1 395.7L357.0 395.8L357.4 396.0L358.9 396.1L361.2 395.3L362.1 395.0L363.8 394.5L364.9 394.7L365.7 393.9L367.9 393.6L368.2 393.2L370.7 392.6L371.5 392.5L373.5 392.6L373.7 392.3L375.2 391.4L377.3 391.6L378.4 390.9L379.5 391.0L380.9 389.4L382.6 389.8L381.3 390.9L381.6 392.6L380.9 393.9L380.8 395.1L380.1 396.6L378.7 397.8L379.3 399.4L377.7 401.1L377.8 402.4L376.7 403.8L376.0 404.7L375.7 406.3L376.2 407.6L375.5 409.8L374.9 410.9L373.9 412.8L373.2 413.6L371.8 413.6L370.5 413.6L369.1 413.6L367.8 413.6L366.4 413.6L365.1 413.6L363.8 413.6L362.4 413.6L361.1 413.6L359.7 413.6L358.4 413.6L357.1 413.6L355.7 413.6L354.4 413.6L353.0 413.6L351.7 413.6L350.3 413.6Z" fill="#000"/>
<path d="M352.3 398.6h1.1M351.9 397.2h1.1M355.1 398.1h1.1M353.1 400.1h1.1M354.3 397.3h1.1M354.7 396.0h1.1M354.2 394.2h1.1M355.4 394.4h1.1M355.8 395.8h1.1M357.7 394.8h1.1M357.6 398.7h1.1M356.3 392.2h1.1M357.9 398.3h1.1M361.1 395.7h1.1M359.2 396.9h1.1M362.7 397.0h1.1M359.7 395.5h1.1M359.2 396.4h1.1M361.8 396.1h1.1M363.7 395.4h1.1M361.4 395.7h1.1M361.8 390.8h1.1M366.6 395.2h1.1M365.4 395.4h1.1M363.7 393.5h1.1M363.2 395.8h1.1M366.9 393.7h1.1M367.0 392.7h1.1M368.9 394.5h1.1M368.5 396.1h1.1M369.8 391.7h1.1M370.7 392.4h1.1M370.4 392.9h1.1M370.0 393.9h1.1M373.8 393.6h1.1M373.0 390.7h1.1M370.9 392.0h1.1M375.4 393.0h1.1M372.8 389.6h1.1M377.1 392.8h1.1M376.4 390.0h1.1M376.5 390.0h1.1M377.7 389.9h1.1M376.3 391.0h1.1M376.5 392.7h1.1M380.0 391.6h1.1M378.3 392.1h1.1M380.5 390.9h1.1M379.8 391.3h1.1M379.2 390.1h1.1M380.1 391.9h1.1M379.4 389.0h1.1M383.6 388.2h1.1M380.9 389.6h1.1M382.9 391.0h1.1M380.2 391.9h1.1M380.7 396.4h1.1M379.9 396.2h1.1M382.2 392.8h1.1M379.7 396.1h1.1M380.0 394.8h1.1M379.3 395.9h1.1M378.9 396.0h1.1M377.7 393.2h1.1M381.0 397.2h1.1M380.1 398.3h1.1M380.6 401.0h1.1M380.0 398.1h1.1M378.9 399.6h1.1M380.8 398.1h1.1M381.8 400.1h1.1M377.0 401.3h1.1M380.1 400.1h1.1M376.0 401.4h1.1M379.7 403.3h1.1M376.7 402.5h1.1M379.0 405.2h1.1M375.7 401.6h1.1M377.7 404.7h1.1M376.0 405.4h1.1M375.6 404.2h1.1M378.4 403.2h1.1M376.0 406.8h1.1M375.2 407.2h1.1M375.8 408.4h1.1M376.0 410.8h1.1M374.4 408.4h1.1M375.5 410.8h1.1M374.3 410.8h1.1M372.6 411.5h1.1M373.1 410.7h1.1M366.9 388.6h1.1M361.4 390.2h1.1M361.0 393.9h1.1M351.9 389.0h1.1M378.5 393.7h1.1M357.5 390.6h1.1M364.3 389.9h1.1M352.6 395.5h1.1M364.8 391.1h1.1M379.1 392.1h1.1M361.5 393.3h1.1M363.1 391.4h1.1M373.2 396.3h1.1M359.8 393.5h1.1M353.7 392.5h1.1M377.7 388.8h1.1M378.9 391.5h1.1M355.2 388.2h1.1M370.3 393.1h1.1M356.4 391.5h1.1M358.3 394.9h1.1M371.4 394.1h1.1M369.7 395.6h1.1M350.7 395.2h1.1M375.4 391.5h1.1M379.7 389.8h1.1M371.7 391.6h1.1M371.3 389.3h1.1M376.0 394.1h1.1M358.8 390.7h1.1M378.5 388.7h1.1M351.2 394.7h1.1M370.1 395.4h1.1M364.3 391.8h1.1M392.1 374.1h1.1M392.8 378.6h1.1M388.1 376.2h1.1M391.9 381.8h1.1M397.8 376.3h1.1M389.7 377.0h1.1M393.8 375.5h1.1M389.8 379.6h1.1M391.7 377.2h1.1M393.9 381.1h1.1M393.3 376.6h1.1M389.5 382.0h1.1M391.7 373.9h1.1M386.0 375.7h1.1M393.2 375.6h1.1M390.3 375.4h1.1M390.6 378.4h1.1M386.5 372.3h1.1M393.8 378.3h1.1M389.4 371.7h1.1M398.1 378.9h1.1M390.8 381.7h1.1M388.6 379.9h1.1M390.6 377.3h1.1M392.5 377.5h1.1M396.9 375.1h1.1M385.7 375.7h1.1M391.0 380.1h1.1M390.5 377.1h1.1M390.7 377.7h1.1M383.7 380.1h1.1M390.0 382.5h1.1M389.7 381.9h1.1M384.1 383.0h1.1M393.1 376.1h1.1M391.2 379.9h1.1M387.3 377.2h1.1M393.1 381.2h1.1M392.1 378.2h1.1M388.1 381.8h1.1M391.2 378.2h1.1M394.2 384.9h1.1M390.6 380.5h1.1M391.4 380.9h1.1M391.7 378.2h1.1M387.4 383.0h1.1M394.5 374.6h1.1M387.2 378.6h1.1M391.1 378.1h1.1M389.8 375.2h1.1M389.0 374.9h1.1M390.6 376.2h1.1M387.6 379.7h1.1M393.2 379.3h1.1M390.2 376.1h1.1M390.3 379.8h1.1M389.1 375.7h1.1M390.8 379.5h1.1M387.3 377.8h1.1M388.2 372.9h1.1M390.4 375.0h1.1M389.5 375.4h1.1M393.2 379.4h1.1M392.4 374.8h1.1M394.4 376.1h1.1M393.8 377.0h1.1M385.1 383.9h1.1M391.8 383.1h1.1M393.8 376.5h1.1M384.8 374.8h1.1M394.6 381.2h1.1M395.0 376.4h1.1M390.0 377.8h1.1M389.9 379.9h1.1M391.0 378.0h1.1M391.4 381.0h1.1M392.0 380.0h1.1M395.2 376.5h1.1M389.3 380.0h1.1M399.1 378.7h1.1M396.4 382.5h1.1M395.6 380.1h1.1M393.3 373.6h1.1M393.2 381.8h1.1M394.9 375.2h1.1M392.6 381.0h1.1M391.2 376.1h1.1M392.8 378.3h1.1M387.8 380.8h1.1M385.4 378.8h1.1M389.3 378.4h1.1M388.6 381.7h1.1M390.2 375.5h1.1M392.6 376.1h1.1M394.9 383.2h1.1M386.2 377.6h1.1M385.9 387.6h1.1M393.3 380.0h1.1M385.3 375.4h1.1M389.4 382.4h1.1M398.8 376.3h1.1M387.6 378.8h1.1M387.9 377.7h1.1M387.1 378.0h1.1M393.9 380.3h1.1M391.7 380.1h1.1M385.7 382.3h1.1M386.1 383.0h1.1M391.2 378.5h1.1M394.1 377.1h1.1M390.4 377.7h1.1M392.5 382.5h1.1M390.1 378.9h1.1M391.2 380.5h1.1M391.6 378.5h1.1M393.6 379.6h1.1M393.6 383.5h1.1M381.8 381.3h1.1M394.1 379.1h1.1M390.5 378.7h1.1M391.0 380.8h1.1M390.8 381.2h1.1M389.7 381.3h1.1M391.5 379.8h1.1M388.3 376.6h1.1M388.3 379.5h1.1M394.9 383.7h1.1M386.7 387.0h1.1M394.0 375.7h1.1M389.9 379.1h1.1M387.6 376.5h1.1M390.8 377.6h1.1M396.0 376.0h1.1M394.0 375.9h1.1M384.0 380.4h1.1M388.7 379.0h1.1M397.2 379.9h1.1M392.1 373.1h1.1M392.8 379.1h1.1M391.3 374.4h1.1M393.2 384.2h1.1M396.3 381.5h1.1M388.4 379.9h1.1M388.2 374.1h1.1M390.1 380.1h1.1M389.3 376.8h1.1M393.3 380.3h1.1M391.6 380.3h1.1M396.6 378.2h1.1M394.7 377.6h1.1M389.1 379.7h1.1M391.3 383.8h1.1M390.5 377.2h1.1M391.7 382.2h1.1M391.1 375.4h1.1M390.0 379.7h1.1M391.2 383.6h1.1M392.9 372.3h1.1M391.5 377.7h1.1M391.7 382.1h1.1M389.7 379.2h1.1M391.4 379.7h1.1M391.9 375.6h1.1M391.5 382.6h1.1M398.1 374.8h1.1M394.5 374.1h1.1M388.6 377.3h1.1M390.9 380.7h1.1M393.9 381.8h1.1M392.4 382.1h1.1M391.5 382.8h1.1M394.6 379.1h1.1M390.5 380.2h1.1M386.8 375.1h1.1M391.2 374.7h1.1M392.6 371.4h1.1M389.5 382.2h1.1M387.0 382.0h1.1M385.6 376.2h1.1M388.3 379.9h1.1M385.3 376.9h1.1M386.0 380.9h1.1M395.1 377.3h1.1M388.7 378.6h1.1M396.0 376.6h1.1M395.7 380.9h1.1M393.9 378.6h1.1M392.6 377.4h1.1M396.2 375.6h1.1M393.3 377.8h1.1M390.4 378.5h1.1M388.8 376.9h1.1M393.5 377.0h1.1M395.0 379.0h1.1M388.8 384.3h1.1M390.5 373.4h1.1M394.8 378.8h1.1M385.5 380.6h1.1M389.2 379.9h1.1M395.1 374.3h1.1M391.3 379.7h1.1M388.1 375.9h1.1M386.4 368.0h1.1M394.7 380.8h1.1M390.9 378.0h1.1M387.9 372.4h1.1M394.1 380.6h1.1M392.6 374.8h1.1M393.3 376.9h1.1M386.4 379.1h1.1M387.9 377.1h1.1M393.0 379.3h1.1M395.0 382.3h1.1M389.3 378.8h1.1M393.3 381.3h1.1M385.6 379.5h1.1M391.8 377.8h1.1M390.0 381.8h1.1M392.6 376.2h1.1M392.2 380.9h1.1M392.2 379.3h1.1M389.5 379.9h1.1M394.1 380.0h1.1M392.4 384.6h1.1M383.6 378.7h1.1M389.1 382.5h1.1M394.8 378.5h1.1M392.9 378.9h1.1M385.7 373.7h1.1M391.6 376.8h1.1M396.0 373.7h1.1M392.7 380.9h1.1M392.2 375.1h1.1M389.3 374.4h1.1M392.7 379.2h1.1M394.5 378.8h1.1M393.9 379.7h1.1M392.6 376.5h1.1M393.5 377.1h1.1M393.4 377.9h1.1M393.7 380.0h1.1M389.2 381.0h1.1M389.1 381.3h1.1M389.2 378.4h1.1M393.4 380.6h1.1M393.8 380.8h1.1M390.3 384.2h1.1M391.0 376.8h1.1M391.4 385.0h1.1M394.9 378.7h1.1M391.2 377.2h1.1M393.1 376.7h1.1M389.4 379.6h1.1M389.4 373.1h1.1M389.7 376.4h1.1M388.5 380.9h1.1M396.1 377.9h1.1M392.3 382.4h1.1M396.5 377.7h1.1M388.1 379.6h1.1M393.4 378.6h1.1M387.9 373.6h1.1M387.5 380.2h1.1M396.6 381.3h1.1M390.8 379.0h1.1M392.6 380.9h1.1M392.6 382.0h1.1M392.7 377.5h1.1M392.7 380.6h1.1M395.1 380.6h1.1M393.8 383.3h1.1M395.1 371.2h1.1M392.1 379.1h1.1M389.2 380.1h1.1M395.7 379.2h1.1M393.0 381.2h1.1M394.5 384.1h1.1M389.0 378.6h1.1M388.0 374.5h1.1M393.5 377.9h1.1M392.6 373.8h1.1M391.4 374.3h1.1M388.3 378.5h1.1M390.3 380.6h1.1M391.1 374.3h1.1M391.1 378.1h1.1M389.6 378.6h1.1M386.5 377.2h1.1M390.0 380.2h1.1M387.2 375.7h1.1M390.4 380.0h1.1M387.8 381.9h1.1M392.9 381.7h1.1M390.0 379.6h1.1M396.2 380.7h1.1M388.8 377.7h1.1M387.8 377.4h1.1M389.9 371.3h1.1M389.1 373.5h1.1M393.4 378.6h1.1M374.4 387.0h1.1M407.3 380.6h1.1M395.4 381.4h1.1M397.8 373.6h1.1M373.5 377.0h1.1M401.2 383.9h1.1M385.0 373.8h1.1M403.7 387.2h1.1M384.2 383.7h1.1M376.6 379.1h1.1M377.6 373.9h1.1M379.5 384.4h1.1M403.0 378.1h1.1M378.7 371.0h1.1M384.8 373.7h1.1M386.9 385.0h1.1M407.0 384.8h1.1M404.1 375.7h1.1M383.5 372.6h1.1M388.9 385.0h1.1M395.3 388.9h1.1M385.5 371.0h1.1M383.4 375.0h1.1M396.9 374.1h1.1M373.6 381.5h1.1M402.4 374.2h1.1M399.6 381.5h1.1M389.6 380.6h1.1M390.9 383.5h1.1M399.8 371.5h1.1M379.2 373.6h1.1M392.9 372.9h1.1M386.4 377.8h1.1M395.4 374.4h1.1M374.6 378.5h1.1M385.9 384.7h1.1M382.8 386.4h1.1M377.0 381.6h1.1M389.1 384.8h1.1M383.4 388.9h1.1M375.9 378.2h1.1M376.5 389.8h1.1M389.7 384.0h1.1M397.0 388.5h1.1M374.5 389.5h1.1M387.0 393.3h1.1M391.1 391.2h1.1M396.1 394.7h1.1M392.5 399.8h1.1M403.3 400.9h1.1M408.0 402.3h1.1M391.4 406.2h1.1M402.7 407.0h1.1M408.8 404.8h1.1M426.4 396.4h1.1M422.0 399.7h1.1M406.9 374.5h1.1M403.6 374.1h1.1M410.8 378.6h1.1M396.1 391.4h1.1M400.7 397.7h1.1M415.5 393.3h1.1" stroke="#000" stroke-width="1.1" fill="none"/>
<path d="M370.7 347.0V413.6M349.0 387.3H428.8" stroke="#000" stroke-width="1.15" fill="none"/>
<rect x="349.0" y="347.0" width="79.8" height="66.6" fill="none" stroke="#000" stroke-width="1.25"/>
<path d="M349.0 413.6v3.4M349.0 413.6h-3.4M355.0 413.6v1.9M349.0 408.6h-1.9M358.5 413.6v1.9M349.0 405.7h-1.9M361.0 413.6v1.9M349.0 403.6h-1.9M362.9 413.6v1.9M349.0 402.0h-1.9M364.5 413.6v1.9M349.0 400.6h-1.9M365.9 413.6v1.9M349.0 399.5h-1.9M367.0 413.6v1.9M349.0 398.6h-1.9M368.0 413.6v1.9M349.0 397.7h-1.9M368.9 413.6v3.4M349.0 397.0h-3.4M375.0 413.6v1.9M349.0 391.9h-1.9M378.5 413.6v1.9M349.0 389.0h-1.9M381.0 413.6v1.9M349.0 386.9h-1.9M382.9 413.6v1.9M349.0 385.3h-1.9M384.5 413.6v1.9M349.0 384.0h-1.9M385.8 413.6v1.9M349.0 382.9h-1.9M387.0 413.6v1.9M349.0 381.9h-1.9M388.0 413.6v1.9M349.0 381.1h-1.9M388.9 413.6v3.4M349.0 380.3h-3.4M394.9 413.6v1.9M349.0 375.3h-1.9M398.4 413.6v1.9M349.0 372.4h-1.9M400.9 413.6v1.9M349.0 370.3h-1.9M402.8 413.6v1.9M349.0 368.7h-1.9M404.4 413.6v1.9M349.0 367.3h-1.9M405.8 413.6v1.9M349.0 366.2h-1.9M406.9 413.6v1.9M349.0 365.3h-1.9M407.9 413.6v1.9M349.0 364.4h-1.9M408.9 413.6v3.4M349.0 363.6h-3.4M414.9 413.6v1.9M349.0 358.6h-1.9M418.4 413.6v1.9M349.0 355.7h-1.9M420.9 413.6v1.9M349.0 353.6h-1.9M422.8 413.6v1.9M349.0 352.0h-1.9M424.4 413.6v1.9M349.0 350.7h-1.9M425.7 413.6v1.9M349.0 349.6h-1.9M426.9 413.6v1.9M349.0 348.6h-1.9M427.9 413.6v1.9M349.0 347.8h-1.9M428.8 413.6v3.4M349.0 347.0h-3.4" stroke="#000" stroke-width="1" fill="none"/>
<text x="349.6" y="427.0" font-size="7.6" text-anchor="middle" stroke="#000" stroke-width=".2">10<tspan dy="-3.9" font-size="7">0</tspan></text>
<text transform="translate(343.7 414.0) rotate(-90)" font-size="7.6" text-anchor="middle" stroke="#000" stroke-width=".2">10<tspan dy="-3.9" font-size="7">0</tspan></text>
<text x="368.5" y="427.0" font-size="7.6" text-anchor="middle" stroke="#000" stroke-width=".2">10<tspan dy="-3.9" font-size="7">1</tspan></text>
<text transform="translate(343.7 397.9) rotate(-90)" font-size="7.6" text-anchor="middle" stroke="#000" stroke-width=".2">10<tspan dy="-3.9" font-size="7">1</tspan></text>
<text x="387.3" y="427.0" font-size="7.6" text-anchor="middle" stroke="#000" stroke-width=".2">10<tspan dy="-3.9" font-size="7">2</tspan></text>
<text transform="translate(343.7 381.9) rotate(-90)" font-size="7.6" text-anchor="middle" stroke="#000" stroke-width=".2">10<tspan dy="-3.9" font-size="7">2</tspan></text>
<text x="406.2" y="427.0" font-size="7.6" text-anchor="middle" stroke="#000" stroke-width=".2">10<tspan dy="-3.9" font-size="7">3</tspan></text>
<text transform="translate(343.7 365.8) rotate(-90)" font-size="7.6" text-anchor="middle" stroke="#000" stroke-width=".2">10<tspan dy="-3.9" font-size="7">3</tspan></text>
<text x="425.0" y="427.0" font-size="7.6" text-anchor="middle" stroke="#000" stroke-width=".2">10<tspan dy="-3.9" font-size="7">4</tspan></text>
<text transform="translate(343.7 349.7) rotate(-90)" font-size="7.6" text-anchor="middle" stroke="#000" stroke-width=".2">10<tspan dy="-3.9" font-size="7">4</tspan></text>
<text x="388.9" y="436.2" font-size="7.8" stroke="#000" stroke-width=".25">EGFP</text>
<text x="387.6" y="343.5" font-size="8.1" stroke="#000" stroke-width=".25">no. 4 CD19 BM.028</text>
<text transform="translate(333.3 380.9) rotate(-90)" font-size="8.3" stroke="#000" stroke-width=".25">CD19 PE</text>
<text x="423.3" y="354.7" font-size="8.7" text-anchor="end" stroke="#000" stroke-width=".25">98%</text>
<path d="M129.0 520.0L129.0 518.6L129.0 517.2L129.0 515.7L129.0 514.3L129.0 512.9L129.0 511.5L129.0 510.1L129.0 508.6L129.0 507.2L130.5 507.4L132.0 505.8L134.2 505.7L134.7 504.7L136.3 504.8L138.0 505.0L139.0 503.8L141.0 503.4L142.5 503.1L143.0 503.8L145.0 502.9L146.5 502.7L148.0 501.7L148.1 501.8L149.5 501.2L152.1 501.1L152.7 500.0L154.2 500.1L155.7 498.4L157.2 498.0L158.5 496.9L160.2 496.4L161.2 495.9L161.5 498.9L161.8 498.7L160.7 499.6L159.6 500.9L158.3 502.3L157.9 504.2L158.4 504.4L157.6 506.7L156.9 507.9L156.1 508.4L156.1 510.7L155.4 511.6L156.0 512.6L155.2 514.3L155.4 515.6L154.9 517.1L154.9 518.6L154.8 520.0L153.4 520.0L152.1 520.0L150.7 520.0L149.4 520.0L148.0 520.0L146.6 520.0L145.3 520.0L143.9 520.0L142.6 520.0L141.2 520.0L139.9 520.0L138.5 520.0L137.1 520.0L135.8 520.0L134.4 520.0L133.1 520.0L131.7 520.0L130.4 520.0Z" fill="#000"/>
<path d="M131.9 506.5h1.1M133.6 504.8h1.1M132.4 508.0h1.1M132.5 504.1h1.1M133.4 506.1h1.1M132.1 506.9h1.1M133.7 508.9h1.1M133.5 504.2h1.1M135.6 506.7h1.1M133.3 505.4h1.1M136.8 504.6h1.1M135.8 504.2h1.1M135.2 506.7h1.1M135.8 504.6h1.1M138.9 504.7h1.1M137.9 505.4h1.1M140.8 505.0h1.1M138.7 503.5h1.1M140.0 503.5h1.1M141.0 503.2h1.1M139.5 504.9h1.1M142.9 503.6h1.1M141.1 503.4h1.1M144.8 501.6h1.1M144.9 501.0h1.1M143.8 504.4h1.1M143.5 503.0h1.1M145.5 504.7h1.1M147.2 500.7h1.1M145.0 503.5h1.1M146.4 500.7h1.1M147.0 503.8h1.1M149.0 501.0h1.1M148.7 501.7h1.1M147.5 501.2h1.1M148.3 501.2h1.1M147.9 501.2h1.1M148.7 499.8h1.1M152.9 503.0h1.1M150.5 500.0h1.1M151.2 499.9h1.1M152.0 498.5h1.1M153.7 500.7h1.1M153.7 501.9h1.1M153.7 496.3h1.1M156.6 497.5h1.1M155.3 499.2h1.1M157.9 496.9h1.1M157.8 498.1h1.1M158.5 496.9h1.1M157.0 498.7h1.1M158.5 497.9h1.1M161.0 497.2h1.1M159.3 498.8h1.1M163.5 495.7h1.1M158.8 496.7h1.1M160.5 497.6h1.1M160.9 495.5h1.1M162.7 495.7h1.1M165.0 498.3h1.1M162.8 496.7h1.1M161.4 496.6h1.1M161.5 498.1h1.1M160.5 498.8h1.1M159.7 500.5h1.1M159.5 501.8h1.1M160.4 501.0h1.1M162.8 504.3h1.1M160.8 500.8h1.1M159.8 503.3h1.1M158.6 500.6h1.1M156.1 503.5h1.1M159.2 505.4h1.1M158.9 504.5h1.1M158.1 503.0h1.1M157.0 507.4h1.1M156.6 505.8h1.1M158.2 506.7h1.1M156.9 508.0h1.1M154.2 506.4h1.1M158.4 509.4h1.1M155.8 512.5h1.1M154.5 507.9h1.1M156.5 508.9h1.1M156.4 510.3h1.1M156.2 511.3h1.1M155.7 512.1h1.1M155.1 514.9h1.1M154.4 510.8h1.1M155.1 513.0h1.1M155.0 513.5h1.1M154.9 514.1h1.1M156.4 515.0h1.1M157.1 515.5h1.1M155.2 516.6h1.1M156.0 516.9h1.1M148.0 500.2h1.1M149.8 502.3h1.1M133.2 494.5h1.1M146.0 501.5h1.1M138.9 494.7h1.1M147.3 503.4h1.1M143.1 503.7h1.1M141.9 499.4h1.1M150.2 494.3h1.1M133.9 499.1h1.1M151.0 497.7h1.1M131.4 497.1h1.1M147.8 495.3h1.1M147.0 494.8h1.1M153.2 493.4h1.1M142.5 501.6h1.1M141.6 503.5h1.1M144.6 498.3h1.1M151.9 498.0h1.1M147.3 500.7h1.1M140.4 499.9h1.1M139.8 499.6h1.1M137.8 495.5h1.1M132.8 498.1h1.1M137.7 494.1h1.1M136.3 496.9h1.1M138.4 494.6h1.1M146.7 498.3h1.1M130.6 498.9h1.1M139.4 496.5h1.1M134.8 501.0h1.1M149.9 503.3h1.1M145.9 493.4h1.1M150.1 499.8h1.1M145.5 495.2h1.1M142.5 498.5h1.1M153.1 499.9h1.1M143.7 496.0h1.1M141.0 500.7h1.1M153.1 499.3h1.1M136.6 495.2h1.1M154.2 494.9h1.1M146.0 497.1h1.1M132.0 496.2h1.1M152.2 496.1h1.1M138.1 500.5h1.1M133.8 495.5h1.1M140.3 495.6h1.1M138.5 502.8h1.1M141.6 502.6h1.1M137.8 503.2h1.1M146.7 497.9h1.1M146.4 501.4h1.1M151.5 503.1h1.1M138.1 493.3h1.1M154.5 494.6h1.1M141.5 498.8h1.1M147.5 494.2h1.1M155.0 495.7h1.1M142.6 498.7h1.1M131.5 494.0h1.1M134.7 497.5h1.1M149.0 498.2h1.1M140.2 503.6h1.1M150.9 496.4h1.1M137.8 503.0h1.1M133.3 498.6h1.1M131.7 503.9h1.1M131.0 499.5h1.1M153.4 499.5h1.1M138.6 497.0h1.1M154.9 498.5h1.1M143.7 498.4h1.1M130.5 494.2h1.1M133.9 500.8h1.1M140.4 496.9h1.1M149.7 471.6h1.1M141.0 473.5h1.1M147.5 479.3h1.1M142.5 480.8h1.1M135.9 476.3h1.1M132.9 476.9h1.1M132.1 478.0h1.1M139.0 473.7h1.1M143.2 474.6h1.1M142.5 474.7h1.1M133.4 479.9h1.1M134.6 475.0h1.1M141.0 475.6h1.1M143.8 476.5h1.1M146.5 479.9h1.1M140.5 472.8h1.1M134.0 466.2h1.1M140.6 478.7h1.1M140.1 476.7h1.1M145.7 475.5h1.1M138.8 471.8h1.1M144.5 487.4h1.1M139.3 476.2h1.1M142.5 477.2h1.1M137.2 475.6h1.1M144.7 477.8h1.1M139.3 473.2h1.1M140.6 468.3h1.1M144.0 474.4h1.1M146.7 469.7h1.1M147.0 471.7h1.1M138.1 479.1h1.1M139.0 481.2h1.1M136.9 480.7h1.1M145.3 484.1h1.1M147.5 481.4h1.1M137.3 471.6h1.1M146.2 481.9h1.1M145.0 486.8h1.1M137.2 475.9h1.1M136.6 483.5h1.1M138.3 474.9h1.1M141.0 481.9h1.1M131.6 471.8h1.1M142.4 487.1h1.1M147.4 476.7h1.1M136.7 478.3h1.1M142.9 474.4h1.1M134.8 475.3h1.1M136.6 479.0h1.1M138.8 475.9h1.1M149.2 484.1h1.1M139.4 472.5h1.1M140.5 476.7h1.1M140.7 475.1h1.1M139.7 476.9h1.1M142.2 473.5h1.1M149.8 482.2h1.1M142.4 479.9h1.1M143.2 477.0h1.1M142.9 472.3h1.1M141.0 477.7h1.1M148.9 474.1h1.1M140.9 478.6h1.1M142.2 485.5h1.1M133.4 481.6h1.1M133.4 476.4h1.1M138.1 478.2h1.1M146.2 476.0h1.1M147.1 478.0h1.1M136.3 469.9h1.1M143.4 478.1h1.1M133.2 482.7h1.1M133.9 478.7h1.1M148.0 482.3h1.1M138.3 473.5h1.1M142.7 475.2h1.1M144.2 481.8h1.1M142.6 476.8h1.1M141.7 475.4h1.1M140.4 479.6h1.1M145.2 477.5h1.1M142.0 481.6h1.1M140.7 477.6h1.1M135.9 475.6h1.1M139.4 470.9h1.1M142.5 478.0h1.1M136.0 481.9h1.1M141.0 482.3h1.1M135.2 475.4h1.1M146.2 479.5h1.1M149.4 473.6h1.1M151.7 477.3h1.1M142.2 468.9h1.1M144.4 479.1h1.1M137.8 474.7h1.1M143.6 473.7h1.1M145.5 477.2h1.1M145.5 476.0h1.1M138.8 481.0h1.1M139.5 471.7h1.1M142.0 475.6h1.1M148.2 476.6h1.1M138.3 472.7h1.1M141.2 485.2h1.1M135.2 479.3h1.1M140.1 473.9h1.1M144.9 480.9h1.1M145.9 479.2h1.1M143.5 476.3h1.1M146.3 474.4h1.1M144.7 480.2h1.1M138.1 481.2h1.1M140.2 476.0h1.1M149.7 473.5h1.1M140.3 480.2h1.1M139.8 473.5h1.1M136.0 479.8h1.1M135.5 476.7h1.1M137.7 483.8h1.1M131.9 481.3h1.1M148.7 476.1h1.1M143.0 475.2h1.1M147.2 474.8h1.1M140.2 486.6h1.1M142.1 469.9h1.1M142.7 476.7h1.1M132.9 482.8h1.1M136.7 476.1h1.1M148.5 476.6h1.1M145.4 477.1h1.1M138.7 478.0h1.1M142.6 470.0h1.1M130.9 476.4h1.1M139.6 477.3h1.1M141.4 475.0h1.1M146.8 484.7h1.1M147.6 472.9h1.1M146.5 482.0h1.1M143.5 471.4h1.1M144.6 478.2h1.1M138.5 478.0h1.1M139.6 475.2h1.1M137.4 467.1h1.1M142.3 473.5h1.1M140.0 474.8h1.1M139.4 478.4h1.1M137.8 483.9h1.1M138.0 470.2h1.1M142.4 477.5h1.1M144.9 476.2h1.1M150.3 472.2h1.1M136.8 482.2h1.1M142.8 480.9h1.1M138.4 474.7h1.1M136.1 468.9h1.1M144.2 475.3h1.1M133.2 486.5h1.1M137.3 474.9h1.1M149.0 474.4h1.1M137.8 477.9h1.1M140.6 483.4h1.1M141.6 483.1h1.1M139.7 476.3h1.1M146.0 477.2h1.1M138.4 475.0h1.1M139.7 479.5h1.1M134.5 478.3h1.1M139.5 482.4h1.1M138.5 477.5h1.1M145.7 472.9h1.1M139.4 482.5h1.1M132.0 464.0h1.1M144.8 475.2h1.1M142.9 473.3h1.1M147.6 478.9h1.1M134.9 475.9h1.1M143.5 482.2h1.1M132.5 478.2h1.1M131.8 477.1h1.1M138.5 491.0h1.1M150.2 479.3h1.1M133.8 470.7h1.1M154.0 476.5h1.1M137.5 476.1h1.1M136.0 471.9h1.1M151.0 483.2h1.1M135.4 480.6h1.1M148.8 471.7h1.1M134.7 480.4h1.1M135.7 477.9h1.1M139.2 476.6h1.1M143.0 479.0h1.1M136.0 469.6h1.1M156.0 470.5h1.1M139.3 472.6h1.1M131.8 476.1h1.1M137.0 479.5h1.1M144.8 475.1h1.1M139.9 473.8h1.1M148.3 480.2h1.1M131.0 478.2h1.1M134.6 488.2h1.1M135.8 485.7h1.1M152.0 483.1h1.1M132.0 484.6h1.1M151.0 490.8h1.1M139.5 484.5h1.1M155.1 483.1h1.1M131.2 484.0h1.1M152.6 485.0h1.1M140.4 490.7h1.1M145.2 483.7h1.1M148.5 486.7h1.1M150.5 484.1h1.1M154.3 489.4h1.1M130.9 486.6h1.1M142.4 484.4h1.1M151.4 488.8h1.1M130.4 487.6h1.1M142.5 484.9h1.1M143.6 483.5h1.1M151.7 488.2h1.1M150.3 490.9h1.1M146.8 490.2h1.1M144.4 487.0h1.1M145.1 484.4h1.1M151.4 485.1h1.1M143.9 490.5h1.1M152.5 487.7h1.1M144.9 483.2h1.1M146.3 485.8h1.1M145.3 483.3h1.1M130.8 483.8h1.1M149.4 489.4h1.1M143.7 485.8h1.1M154.3 485.0h1.1M146.3 486.0h1.1M137.8 485.3h1.1M130.5 489.9h1.1M143.0 486.6h1.1M143.9 488.0h1.1M135.3 485.4h1.1M150.1 485.8h1.1M131.6 484.0h1.1M153.7 488.6h1.1M145.8 484.6h1.1M153.6 489.9h1.1M151.8 489.1h1.1M148.2 483.1h1.1M153.4 484.5h1.1M149.5 486.7h1.1" stroke="#000" stroke-width="1.1" fill="none"/>
<path d="M155.6 453.3V520.0M129.0 492.2H210.0" stroke="#000" stroke-width="1.15" fill="none"/>
<rect x="129.0" y="453.3" width="81.0" height="66.7" fill="none" stroke="#000" stroke-width="1.25"/>
<path d="M129.0 520.0v3.4M129.0 520.0h-3.4M135.1 520.0v1.9M129.0 515.0h-1.9M138.7 520.0v1.9M129.0 512.0h-1.9M141.2 520.0v1.9M129.0 510.0h-1.9M143.2 520.0v1.9M129.0 508.3h-1.9M144.8 520.0v1.9M129.0 507.0h-1.9M146.1 520.0v1.9M129.0 505.9h-1.9M147.3 520.0v1.9M129.0 504.9h-1.9M148.3 520.0v1.9M129.0 504.1h-1.9M149.2 520.0v3.4M129.0 503.3h-3.4M155.3 520.0v1.9M129.0 498.3h-1.9M158.9 520.0v1.9M129.0 495.4h-1.9M161.4 520.0v1.9M129.0 493.3h-1.9M163.4 520.0v1.9M129.0 491.7h-1.9M165.0 520.0v1.9M129.0 490.3h-1.9M166.4 520.0v1.9M129.0 489.2h-1.9M167.5 520.0v1.9M129.0 488.3h-1.9M168.6 520.0v1.9M129.0 487.4h-1.9M169.5 520.0v3.4M129.0 486.6h-3.4M175.6 520.0v1.9M129.0 481.6h-1.9M179.2 520.0v1.9M129.0 478.7h-1.9M181.7 520.0v1.9M129.0 476.6h-1.9M183.7 520.0v1.9M129.0 475.0h-1.9M185.3 520.0v1.9M129.0 473.7h-1.9M186.6 520.0v1.9M129.0 472.6h-1.9M187.8 520.0v1.9M129.0 471.6h-1.9M188.8 520.0v1.9M129.0 470.7h-1.9M189.8 520.0v3.4M129.0 470.0h-3.4M195.8 520.0v1.9M129.0 465.0h-1.9M199.4 520.0v1.9M129.0 462.0h-1.9M201.9 520.0v1.9M129.0 459.9h-1.9M203.9 520.0v1.9M129.0 458.3h-1.9M205.5 520.0v1.9M129.0 457.0h-1.9M206.9 520.0v1.9M129.0 455.9h-1.9M208.0 520.0v1.9M129.0 454.9h-1.9M209.1 520.0v1.9M129.0 454.1h-1.9M210.0 520.0v3.4M129.0 453.3h-3.4" stroke="#000" stroke-width="1" fill="none"/>
<text x="129.6" y="533.4" font-size="7.6" text-anchor="middle" stroke="#000" stroke-width=".2">10<tspan dy="-3.9" font-size="7">0</tspan></text>
<text transform="translate(123.7 520.4) rotate(-90)" font-size="7.6" text-anchor="middle" stroke="#000" stroke-width=".2">10<tspan dy="-3.9" font-size="7">0</tspan></text>
<text x="148.7" y="533.4" font-size="7.6" text-anchor="middle" stroke="#000" stroke-width=".2">10<tspan dy="-3.9" font-size="7">1</tspan></text>
<text transform="translate(123.7 504.3) rotate(-90)" font-size="7.6" text-anchor="middle" stroke="#000" stroke-width=".2">10<tspan dy="-3.9" font-size="7">1</tspan></text>
<text x="167.9" y="533.4" font-size="7.6" text-anchor="middle" stroke="#000" stroke-width=".2">10<tspan dy="-3.9" font-size="7">2</tspan></text>
<text transform="translate(123.7 488.2) rotate(-90)" font-size="7.6" text-anchor="middle" stroke="#000" stroke-width=".2">10<tspan dy="-3.9" font-size="7">2</tspan></text>
<text x="187.0" y="533.4" font-size="7.6" text-anchor="middle" stroke="#000" stroke-width=".2">10<tspan dy="-3.9" font-size="7">3</tspan></text>
<text transform="translate(123.7 472.1) rotate(-90)" font-size="7.6" text-anchor="middle" stroke="#000" stroke-width=".2">10<tspan dy="-3.9" font-size="7">3</tspan></text>
<text x="206.1" y="533.4" font-size="7.6" text-anchor="middle" stroke="#000" stroke-width=".2">10<tspan dy="-3.9" font-size="7">4</tspan></text>
<text transform="translate(123.7 456.0) rotate(-90)" font-size="7.6" text-anchor="middle" stroke="#000" stroke-width=".2">10<tspan dy="-3.9" font-size="7">4</tspan></text>
<text x="169.5" y="542.6" font-size="7.8" stroke="#000" stroke-width=".25">EGFP</text>
<text x="168.2" y="449.8" font-size="8.1" stroke="#000" stroke-width=".25">no. 8 CD45 BM.001</text>
<text transform="translate(113.3 487.2) rotate(-90)" font-size="8.3" stroke="#000" stroke-width=".25">CD45 PE</text>
<path d="M241.5 520.0L241.5 518.6L241.5 517.2L241.5 515.7L241.5 514.3L241.5 512.9L241.5 511.5L241.5 510.1L241.5 508.6L241.5 507.2L242.6 507.3L244.4 505.7L245.6 505.5L247.2 506.2L248.3 505.1L249.6 504.2L251.8 504.8L252.0 504.5L254.4 503.2L255.4 503.0L256.7 503.0L257.6 501.9L259.5 501.3L260.9 501.0L262.2 500.9L263.3 500.6L265.3 500.1L265.8 499.5L268.2 498.6L269.7 498.6L271.0 496.9L272.6 496.4L273.7 499.0L272.6 500.0L272.0 501.3L271.4 502.9L270.4 504.0L270.0 505.0L268.8 507.1L268.0 508.0L267.5 510.0L267.4 511.1L267.4 512.3L266.4 513.3L265.9 514.7L265.9 515.5L265.5 517.0L265.0 518.3L264.3 520.0L263.0 520.0L261.6 520.0L260.3 520.0L259.0 520.0L257.6 520.0L256.3 520.0L254.9 520.0L253.6 520.0L252.2 520.0L250.9 520.0L249.6 520.0L248.2 520.0L246.9 520.0L245.5 520.0L244.2 520.0L242.8 520.0Z" fill="#000"/>
<path d="M245.8 506.1h1.1M245.4 505.3h1.1M245.5 506.3h1.1M245.2 507.2h1.1M246.5 504.2h1.1M247.9 503.3h1.1M248.0 503.5h1.1M246.9 504.1h1.1M248.5 504.6h1.1M252.1 506.4h1.1M250.3 501.7h1.1M251.9 502.7h1.1M252.4 504.9h1.1M253.0 504.4h1.1M252.4 503.4h1.1M256.2 506.4h1.1M252.0 504.2h1.1M252.4 503.4h1.1M253.9 503.1h1.1M255.1 505.3h1.1M254.2 503.0h1.1M258.0 504.6h1.1M257.6 501.2h1.1M256.6 502.8h1.1M258.5 502.5h1.1M259.9 502.0h1.1M256.9 503.6h1.1M260.3 499.9h1.1M258.2 501.0h1.1M263.0 502.7h1.1M263.3 502.0h1.1M263.2 501.3h1.1M264.4 500.1h1.1M264.1 499.8h1.1M264.7 500.2h1.1M263.9 498.6h1.1M263.7 499.4h1.1M266.8 497.6h1.1M264.1 499.0h1.1M267.8 497.1h1.1M266.4 497.3h1.1M267.1 498.4h1.1M269.4 500.6h1.1M266.7 497.8h1.1M271.2 498.6h1.1M268.0 496.3h1.1M270.8 498.2h1.1M271.4 498.6h1.1M270.9 498.7h1.1M273.1 495.2h1.1M273.5 495.4h1.1M272.2 495.8h1.1M272.1 497.9h1.1M273.8 498.6h1.1M273.4 499.1h1.1M272.8 500.6h1.1M272.4 498.3h1.1M273.8 501.3h1.1M272.2 499.5h1.1M270.6 502.7h1.1M269.6 502.0h1.1M270.7 503.8h1.1M272.0 501.1h1.1M267.8 503.9h1.1M269.9 503.0h1.1M269.4 505.0h1.1M267.8 503.4h1.1M270.3 508.1h1.1M269.3 507.7h1.1M266.2 506.9h1.1M267.7 509.0h1.1M270.3 507.1h1.1M265.6 507.6h1.1M265.7 510.4h1.1M267.9 507.1h1.1M267.5 512.7h1.1M268.7 511.5h1.1M268.2 512.2h1.1M270.0 511.1h1.1M266.3 512.0h1.1M268.0 513.6h1.1M267.2 512.0h1.1M266.7 514.6h1.1M266.0 514.9h1.1M265.6 516.4h1.1M264.1 514.7h1.1M264.9 519.0h1.1M265.4 516.9h1.1M264.4 519.1h1.1M264.2 517.2h1.1M259.6 496.5h1.1M256.9 503.8h1.1M254.4 498.6h1.1M267.4 501.1h1.1M248.9 500.0h1.1M246.6 502.1h1.1M263.9 501.5h1.1M262.1 497.3h1.1M255.5 495.1h1.1M268.5 494.3h1.1M251.5 496.1h1.1M261.2 496.5h1.1M248.1 494.2h1.1M248.4 503.8h1.1M245.3 503.2h1.1M265.2 497.7h1.1M268.2 502.1h1.1M247.9 503.7h1.1M250.8 500.1h1.1M248.0 500.9h1.1M250.6 501.5h1.1M268.9 495.0h1.1M265.8 498.9h1.1M243.4 502.0h1.1M254.0 493.7h1.1M262.8 500.3h1.1M257.5 497.3h1.1M252.1 500.8h1.1M261.6 502.3h1.1M249.7 501.6h1.1M249.3 494.5h1.1M267.4 496.7h1.1M261.9 503.2h1.1M268.5 496.9h1.1M243.3 493.6h1.1M265.7 497.0h1.1M247.9 501.9h1.1M256.4 502.8h1.1M259.4 495.9h1.1M268.5 493.4h1.1M260.7 496.2h1.1M247.7 496.6h1.1M259.0 497.0h1.1M265.2 497.2h1.1M248.0 497.1h1.1M268.5 497.5h1.1M265.4 503.3h1.1M250.1 495.2h1.1M247.4 497.0h1.1M251.7 498.0h1.1M244.1 499.4h1.1M258.5 503.0h1.1M248.4 493.5h1.1M244.7 494.5h1.1M243.5 503.0h1.1M261.1 478.0h1.1M261.8 480.3h1.1M270.2 488.2h1.1M254.8 476.6h1.1M252.7 478.6h1.1M261.6 479.1h1.1M263.5 474.1h1.1M268.9 480.2h1.1M257.4 476.0h1.1M261.9 476.9h1.1M268.6 477.8h1.1M262.8 479.9h1.1M258.3 485.9h1.1M260.4 473.9h1.1M259.9 475.4h1.1M256.5 482.9h1.1M256.4 479.9h1.1M252.5 473.0h1.1M258.5 476.0h1.1M257.8 482.5h1.1M249.8 487.8h1.1M255.0 483.8h1.1M263.9 480.0h1.1M257.3 479.1h1.1M258.6 476.3h1.1M258.4 475.7h1.1M256.2 482.8h1.1M257.7 477.1h1.1M259.9 481.8h1.1M256.0 482.9h1.1M262.4 482.5h1.1M268.1 470.2h1.1M258.7 477.2h1.1M259.6 476.2h1.1M258.1 477.9h1.1M263.5 498.9h1.1" stroke="#000" stroke-width="1.1" fill="none"/>
<path d="M271.7 453.3V520.0M241.5 492.2H322.4" stroke="#000" stroke-width="1.15" fill="none"/>
<rect x="241.5" y="453.3" width="80.9" height="66.7" fill="none" stroke="#000" stroke-width="1.25"/>
<path d="M241.5 520.0v3.4M241.5 520.0h-3.4M247.6 520.0v1.9M241.5 515.0h-1.9M251.1 520.0v1.9M241.5 512.0h-1.9M253.7 520.0v1.9M241.5 510.0h-1.9M255.6 520.0v1.9M241.5 508.3h-1.9M257.2 520.0v1.9M241.5 507.0h-1.9M258.6 520.0v1.9M241.5 505.9h-1.9M259.8 520.0v1.9M241.5 504.9h-1.9M260.8 520.0v1.9M241.5 504.1h-1.9M261.7 520.0v3.4M241.5 503.3h-3.4M267.8 520.0v1.9M241.5 498.3h-1.9M271.4 520.0v1.9M241.5 495.4h-1.9M273.9 520.0v1.9M241.5 493.3h-1.9M275.9 520.0v1.9M241.5 491.7h-1.9M277.5 520.0v1.9M241.5 490.3h-1.9M278.8 520.0v1.9M241.5 489.2h-1.9M280.0 520.0v1.9M241.5 488.3h-1.9M281.0 520.0v1.9M241.5 487.4h-1.9M281.9 520.0v3.4M241.5 486.6h-3.4M288.0 520.0v1.9M241.5 481.6h-1.9M291.6 520.0v1.9M241.5 478.7h-1.9M294.1 520.0v1.9M241.5 476.6h-1.9M296.1 520.0v1.9M241.5 475.0h-1.9M297.7 520.0v1.9M241.5 473.7h-1.9M299.0 520.0v1.9M241.5 472.6h-1.9M300.2 520.0v1.9M241.5 471.6h-1.9M301.2 520.0v1.9M241.5 470.7h-1.9M302.2 520.0v3.4M241.5 470.0h-3.4M308.3 520.0v1.9M241.5 465.0h-1.9M311.8 520.0v1.9M241.5 462.0h-1.9M314.4 520.0v1.9M241.5 459.9h-1.9M316.3 520.0v1.9M241.5 458.3h-1.9M317.9 520.0v1.9M241.5 457.0h-1.9M319.3 520.0v1.9M241.5 455.9h-1.9M320.4 520.0v1.9M241.5 454.9h-1.9M321.5 520.0v1.9M241.5 454.1h-1.9M322.4 520.0v3.4M241.5 453.3h-3.4" stroke="#000" stroke-width="1" fill="none"/>
<text x="242.1" y="533.4" font-size="7.6" text-anchor="middle" stroke="#000" stroke-width=".2">10<tspan dy="-3.9" font-size="7">0</tspan></text>
<text transform="translate(236.2 520.4) rotate(-90)" font-size="7.6" text-anchor="middle" stroke="#000" stroke-width=".2">10<tspan dy="-3.9" font-size="7">0</tspan></text>
<text x="261.2" y="533.4" font-size="7.6" text-anchor="middle" stroke="#000" stroke-width=".2">10<tspan dy="-3.9" font-size="7">1</tspan></text>
<text transform="translate(236.2 504.3) rotate(-90)" font-size="7.6" text-anchor="middle" stroke="#000" stroke-width=".2">10<tspan dy="-3.9" font-size="7">1</tspan></text>
<text x="280.3" y="533.4" font-size="7.6" text-anchor="middle" stroke="#000" stroke-width=".2">10<tspan dy="-3.9" font-size="7">2</tspan></text>
<text transform="translate(236.2 488.2) rotate(-90)" font-size="7.6" text-anchor="middle" stroke="#000" stroke-width=".2">10<tspan dy="-3.9" font-size="7">2</tspan></text>
<text x="299.4" y="533.4" font-size="7.6" text-anchor="middle" stroke="#000" stroke-width=".2">10<tspan dy="-3.9" font-size="7">3</tspan></text>
<text transform="translate(236.2 472.1) rotate(-90)" font-size="7.6" text-anchor="middle" stroke="#000" stroke-width=".2">10<tspan dy="-3.9" font-size="7">3</tspan></text>
<text x="318.6" y="533.4" font-size="7.6" text-anchor="middle" stroke="#000" stroke-width=".2">10<tspan dy="-3.9" font-size="7">4</tspan></text>
<text transform="translate(236.2 456.0) rotate(-90)" font-size="7.6" text-anchor="middle" stroke="#000" stroke-width=".2">10<tspan dy="-3.9" font-size="7">4</tspan></text>
<text x="281.9" y="542.6" font-size="7.8" stroke="#000" stroke-width=".25">EGFP</text>
<text x="280.6" y="449.8" font-size="8.1" stroke="#000" stroke-width=".25">no. 8 CD33 BM.024</text>
<text transform="translate(225.8 487.2) rotate(-90)" font-size="8.3" stroke="#000" stroke-width=".25">CD33 PE</text>
<path d="M349.0 520.0L349.0 518.7L349.0 517.3L349.0 516.0L349.0 514.6L349.0 513.3L349.0 512.0L349.0 510.6L349.0 509.3L349.0 508.0L349.0 506.6L349.0 505.3L349.0 503.9L349.9 503.1L352.4 503.0L353.3 503.2L354.8 502.8L356.7 502.1L357.4 501.8L359.4 501.4L360.5 501.8L361.4 501.5L362.9 500.6L364.6 500.3L366.0 500.6L367.4 499.3L368.4 499.7L370.4 498.8L372.2 498.5L372.9 497.8L374.6 497.6L374.9 497.3L376.1 497.2L377.8 497.1L379.0 495.5L380.6 495.4L381.9 494.8L382.2 497.4L381.5 499.4L380.2 501.0L379.7 501.3L379.3 503.0L378.2 504.8L377.4 505.3L377.3 507.3L377.5 509.0L376.7 509.4L376.4 510.8L374.9 512.1L374.3 513.5L374.6 515.2L373.2 515.6L373.1 517.2L372.7 518.2L372.3 520.0L371.0 520.0L369.6 520.0L368.2 520.0L366.8 520.0L365.5 520.0L364.1 520.0L362.7 520.0L361.4 520.0L360.0 520.0L358.6 520.0L357.2 520.0L355.9 520.0L354.5 520.0L353.1 520.0L351.7 520.0L350.4 520.0Z" fill="#000"/>
<path d="M349.0 481.4L350.6 481.2L351.4 481.0L352.7 481.0L355.9 479.9L357.3 481.8L358.2 480.9L358.8 480.5L360.8 481.2L363.2 481.0L363.4 483.4L366.6 483.1L365.7 484.4L367.9 484.7L367.1 487.1L366.5 489.6L363.8 490.0L362.9 491.8L362.0 492.0L361.6 492.7L359.0 492.8L357.8 493.2L357.6 493.7L355.7 492.5L353.2 492.5L352.6 492.7L349.7 492.8L349.0 492.8L349.0 491.4L349.0 490.0L349.0 488.5L349.0 487.1L349.0 485.7L349.0 484.2L349.0 482.8Z" fill="#000"/>
<path d="M351.0 503.9h1.1M351.4 503.5h1.1M352.4 501.7h1.1M350.5 505.4h1.1M354.4 501.2h1.1M355.0 503.5h1.1M355.6 503.7h1.1M353.8 503.0h1.1M353.6 500.3h1.1M356.8 503.6h1.1M356.7 502.0h1.1M356.3 499.9h1.1M357.3 502.8h1.1M360.5 500.9h1.1M359.2 502.8h1.1M361.2 499.2h1.1M360.1 502.5h1.1M362.8 500.9h1.1M361.9 500.4h1.1M363.9 500.6h1.1M362.5 502.8h1.1M364.8 500.2h1.1M365.6 501.6h1.1M363.9 499.4h1.1M364.6 501.9h1.1M366.5 499.6h1.1M365.9 499.2h1.1M366.5 499.1h1.1M365.7 499.6h1.1M371.2 497.7h1.1M369.6 498.9h1.1M370.5 499.2h1.1M368.4 500.3h1.1M371.9 500.8h1.1M373.0 496.7h1.1M373.1 497.9h1.1M374.2 497.3h1.1M373.8 498.8h1.1M375.2 498.0h1.1M377.0 499.3h1.1M374.3 498.3h1.1M374.6 497.9h1.1M375.8 496.6h1.1M375.3 495.1h1.1M377.6 495.9h1.1M378.8 496.5h1.1M377.8 496.3h1.1M380.5 495.9h1.1M378.7 498.7h1.1M381.5 495.3h1.1M381.7 495.5h1.1M383.3 496.3h1.1M385.0 496.5h1.1M382.0 495.9h1.1M378.1 498.1h1.1M380.1 496.3h1.1M381.5 499.0h1.1M381.6 499.5h1.1M382.1 498.9h1.1M381.0 500.8h1.1M378.9 499.3h1.1M378.6 501.7h1.1M381.1 502.3h1.1M378.4 502.2h1.1M379.9 502.8h1.1M377.6 501.6h1.1M379.4 502.8h1.1M377.7 507.4h1.1M379.6 506.7h1.1M378.0 504.5h1.1M377.7 505.5h1.1M378.5 507.6h1.1M376.4 509.3h1.1M375.2 508.8h1.1M378.2 508.6h1.1M375.6 510.6h1.1M376.5 510.9h1.1M375.7 510.1h1.1M375.2 513.4h1.1M374.1 512.0h1.1M376.5 510.4h1.1M374.5 512.6h1.1M373.2 513.4h1.1M372.4 514.0h1.1M373.5 515.5h1.1M373.2 517.1h1.1M373.7 514.3h1.1M372.1 517.3h1.1M370.0 519.0h1.1M371.9 519.1h1.1M351.7 480.7h1.1M350.3 480.0h1.1M352.0 480.9h1.1M349.8 479.1h1.1M352.0 479.2h1.1M352.6 479.9h1.1M355.2 480.1h1.1M352.2 479.3h1.1M352.5 479.8h1.1M357.6 482.0h1.1M353.5 479.7h1.1M356.5 482.2h1.1M354.8 479.8h1.1M353.4 480.0h1.1M355.3 484.9h1.1M353.4 480.2h1.1M351.7 483.8h1.1M356.8 483.6h1.1M355.9 479.5h1.1M353.9 481.9h1.1M355.0 482.6h1.1M358.5 483.8h1.1M356.7 480.6h1.1M357.9 480.2h1.1M355.6 479.5h1.1M357.1 481.6h1.1M358.4 481.3h1.1M358.3 478.5h1.1M357.6 477.9h1.1M358.5 480.2h1.1M360.1 479.2h1.1M364.0 477.2h1.1M361.2 482.7h1.1M362.2 481.6h1.1M361.5 482.0h1.1M363.4 484.5h1.1M361.4 483.4h1.1M359.4 484.2h1.1M361.2 481.7h1.1M362.9 483.2h1.1M364.5 485.1h1.1M365.4 481.5h1.1M365.7 484.1h1.1M365.8 481.2h1.1M364.3 481.8h1.1M366.6 485.0h1.1M366.5 480.8h1.1M371.2 483.7h1.1M365.8 486.6h1.1M366.2 484.9h1.1M367.0 484.9h1.1M369.7 483.4h1.1M366.6 484.9h1.1M369.7 484.5h1.1M367.1 482.7h1.1M365.3 485.1h1.1M364.2 484.6h1.1M369.2 483.3h1.1M364.9 483.6h1.1M362.7 481.3h1.1M365.1 482.4h1.1M369.9 487.7h1.1M367.7 488.0h1.1M370.4 490.7h1.1M366.0 489.4h1.1M365.1 487.4h1.1M367.1 491.2h1.1M364.1 490.1h1.1M369.1 486.9h1.1M366.4 490.8h1.1M366.5 490.1h1.1M364.4 488.9h1.1M363.8 491.6h1.1M365.3 491.4h1.1M365.5 492.7h1.1M361.6 492.2h1.1M362.3 489.9h1.1M361.9 492.2h1.1M363.9 493.0h1.1M364.0 487.8h1.1M363.2 493.8h1.1M360.3 490.6h1.1M361.0 494.2h1.1M358.4 494.6h1.1M363.0 496.1h1.1M359.6 494.6h1.1M362.2 489.9h1.1M360.9 490.3h1.1M358.7 494.9h1.1M360.9 492.4h1.1M358.3 490.8h1.1M358.0 490.8h1.1M358.7 493.2h1.1M358.1 493.6h1.1M357.3 492.1h1.1M354.5 492.6h1.1M362.5 494.1h1.1M358.4 491.2h1.1M354.9 496.5h1.1M359.5 493.0h1.1M355.5 490.6h1.1M360.0 494.0h1.1M355.1 488.3h1.1M355.5 493.4h1.1M356.5 494.2h1.1M354.7 495.4h1.1M353.0 491.8h1.1M357.0 493.0h1.1M356.0 497.9h1.1M353.3 494.2h1.1M352.9 492.8h1.1M357.6 492.8h1.1M351.8 492.4h1.1M353.1 493.5h1.1M352.2 494.2h1.1M352.8 491.5h1.1M351.4 492.0h1.1M358.5 493.4h1.1M368.1 495.6h1.1M365.9 496.3h1.1M367.0 496.7h1.1M367.5 498.4h1.1M360.3 493.1h1.1M361.1 494.9h1.1M356.3 498.6h1.1M354.3 496.6h1.1M366.0 500.5h1.1M356.2 498.1h1.1M363.1 501.0h1.1M365.7 500.2h1.1M360.1 499.3h1.1M350.4 499.6h1.1M363.3 501.6h1.1M361.5 498.1h1.1M359.5 497.2h1.1M350.4 497.8h1.1M366.7 498.3h1.1M350.2 501.0h1.1M368.0 493.7h1.1M352.2 500.8h1.1M362.4 494.3h1.1M367.1 495.4h1.1M363.7 497.8h1.1M361.6 500.4h1.1M356.0 498.3h1.1M367.3 500.9h1.1M362.2 499.8h1.1M364.5 501.6h1.1M358.6 493.4h1.1M353.3 499.9h1.1M356.4 494.1h1.1M356.3 500.0h1.1M354.2 496.4h1.1M366.3 500.6h1.1M369.2 497.6h1.1M365.5 495.4h1.1M351.7 500.3h1.1M361.3 494.7h1.1M368.8 500.8h1.1M366.2 501.5h1.1M355.7 500.9h1.1M351.4 496.2h1.1M350.3 497.1h1.1M357.7 494.7h1.1M354.6 496.5h1.1M350.7 498.4h1.1M356.8 495.1h1.1M355.1 499.3h1.1M368.9 494.9h1.1M367.1 497.3h1.1M365.2 498.2h1.1M363.0 499.8h1.1M360.4 494.6h1.1M359.6 493.6h1.1M366.8 501.2h1.1M364.6 495.8h1.1M361.9 501.6h1.1M350.6 499.9h1.1M350.4 500.7h1.1M357.1 493.4h1.1M350.3 501.3h1.1M363.3 494.3h1.1M363.3 498.3h1.1M358.8 496.0h1.1M354.6 495.1h1.1M350.0 500.5h1.1M366.3 499.9h1.1M358.8 495.0h1.1M355.0 500.4h1.1M364.7 494.8h1.1M360.7 493.7h1.1M355.8 495.6h1.1M359.0 500.4h1.1M355.8 500.9h1.1M358.2 501.4h1.1M366.3 500.9h1.1M366.8 493.5h1.1M365.3 495.5h1.1M355.1 495.5h1.1M365.7 495.7h1.1M368.4 497.9h1.1M353.4 498.4h1.1M352.4 500.0h1.1M366.6 496.6h1.1M370.0 497.7h1.1M365.9 497.4h1.1M366.7 497.6h1.1M351.4 493.0h1.1M361.3 495.0h1.1M362.3 495.4h1.1M363.6 493.9h1.1M362.6 494.4h1.1M367.0 498.9h1.1M351.2 501.4h1.1M369.4 501.0h1.1M363.9 496.1h1.1M360.6 501.8h1.1M352.6 494.0h1.1M364.1 497.5h1.1M350.8 497.5h1.1M349.8 497.0h1.1M363.5 496.7h1.1M352.2 493.5h1.1M357.9 500.3h1.1M352.2 493.1h1.1M363.6 499.5h1.1M359.7 502.0h1.1M369.4 495.5h1.1M355.3 496.9h1.1M365.0 500.5h1.1M370.1 492.8h1.1M366.1 496.5h1.1M363.9 493.0h1.1M356.8 499.8h1.1M358.6 497.6h1.1M366.3 499.3h1.1M357.4 497.7h1.1M355.7 495.4h1.1M355.4 501.1h1.1M367.6 499.5h1.1M361.6 495.1h1.1M362.6 493.1h1.1M360.6 501.4h1.1M356.7 494.3h1.1M369.0 497.1h1.1M361.8 496.8h1.1M354.9 493.9h1.1M369.5 499.3h1.1M367.1 502.3h1.1M354.8 499.3h1.1M352.4 494.7h1.1M351.9 501.3h1.1M350.0 497.0h1.1M369.1 494.9h1.1M364.5 499.7h1.1M351.5 498.7h1.1M358.5 497.7h1.1M362.9 501.1h1.1M369.7 498.2h1.1M362.0 494.6h1.1M354.0 500.1h1.1M368.0 494.3h1.1M368.3 493.2h1.1M367.8 493.0h1.1M369.7 502.1h1.1M351.1 500.7h1.1M354.4 494.0h1.1M366.9 502.3h1.1M354.1 501.7h1.1M367.3 498.0h1.1M354.7 499.9h1.1M351.7 493.1h1.1M362.0 493.8h1.1M350.8 493.5h1.1M360.8 495.1h1.1M374.7 487.4h1.1M373.9 488.3h1.1M371.4 490.8h1.1" stroke="#000" stroke-width="1.1" fill="none"/>
<path d="M370.7 453.3V520.0M349.0 493.8H428.8" stroke="#000" stroke-width="1.15" fill="none"/>
<rect x="349.0" y="453.3" width="79.8" height="66.7" fill="none" stroke="#000" stroke-width="1.25"/>
<path d="M349.0 520.0v3.4M349.0 520.0h-3.4M355.0 520.0v1.9M349.0 515.0h-1.9M358.5 520.0v1.9M349.0 512.0h-1.9M361.0 520.0v1.9M349.0 510.0h-1.9M362.9 520.0v1.9M349.0 508.3h-1.9M364.5 520.0v1.9M349.0 507.0h-1.9M365.9 520.0v1.9M349.0 505.9h-1.9M367.0 520.0v1.9M349.0 504.9h-1.9M368.0 520.0v1.9M349.0 504.1h-1.9M368.9 520.0v3.4M349.0 503.3h-3.4M375.0 520.0v1.9M349.0 498.3h-1.9M378.5 520.0v1.9M349.0 495.4h-1.9M381.0 520.0v1.9M349.0 493.3h-1.9M382.9 520.0v1.9M349.0 491.7h-1.9M384.5 520.0v1.9M349.0 490.3h-1.9M385.8 520.0v1.9M349.0 489.2h-1.9M387.0 520.0v1.9M349.0 488.3h-1.9M388.0 520.0v1.9M349.0 487.4h-1.9M388.9 520.0v3.4M349.0 486.6h-3.4M394.9 520.0v1.9M349.0 481.6h-1.9M398.4 520.0v1.9M349.0 478.7h-1.9M400.9 520.0v1.9M349.0 476.6h-1.9M402.8 520.0v1.9M349.0 475.0h-1.9M404.4 520.0v1.9M349.0 473.7h-1.9M405.8 520.0v1.9M349.0 472.6h-1.9M406.9 520.0v1.9M349.0 471.6h-1.9M407.9 520.0v1.9M349.0 470.7h-1.9M408.9 520.0v3.4M349.0 470.0h-3.4M414.9 520.0v1.9M349.0 465.0h-1.9M418.4 520.0v1.9M349.0 462.0h-1.9M420.9 520.0v1.9M349.0 459.9h-1.9M422.8 520.0v1.9M349.0 458.3h-1.9M424.4 520.0v1.9M349.0 457.0h-1.9M425.7 520.0v1.9M349.0 455.9h-1.9M426.9 520.0v1.9M349.0 454.9h-1.9M427.9 520.0v1.9M349.0 454.1h-1.9M428.8 520.0v3.4M349.0 453.3h-3.4" stroke="#000" stroke-width="1" fill="none"/>
<text x="349.6" y="533.4" font-size="7.6" text-anchor="middle" stroke="#000" stroke-width=".2">10<tspan dy="-3.9" font-size="7">0</tspan></text>
<text transform="translate(343.7 520.4) rotate(-90)" font-size="7.6" text-anchor="middle" stroke="#000" stroke-width=".2">10<tspan dy="-3.9" font-size="7">0</tspan></text>
<text x="368.5" y="533.4" font-size="7.6" text-anchor="middle" stroke="#000" stroke-width=".2">10<tspan dy="-3.9" font-size="7">1</tspan></text>
<text transform="translate(343.7 504.3) rotate(-90)" font-size="7.6" text-anchor="middle" stroke="#000" stroke-width=".2">10<tspan dy="-3.9" font-size="7">1</tspan></text>
<text x="387.3" y="533.4" font-size="7.6" text-anchor="middle" stroke="#000" stroke-width=".2">10<tspan dy="-3.9" font-size="7">2</tspan></text>
<text transform="translate(343.7 488.2) rotate(-90)" font-size="7.6" text-anchor="middle" stroke="#000" stroke-width=".2">10<tspan dy="-3.9" font-size="7">2</tspan></text>
<text x="406.2" y="533.4" font-size="7.6" text-anchor="middle" stroke="#000" stroke-width=".2">10<tspan dy="-3.9" font-size="7">3</tspan></text>
<text transform="translate(343.7 472.1) rotate(-90)" font-size="7.6" text-anchor="middle" stroke="#000" stroke-width=".2">10<tspan dy="-3.9" font-size="7">3</tspan></text>
<text x="425.0" y="533.4" font-size="7.6" text-anchor="middle" stroke="#000" stroke-width=".2">10<tspan dy="-3.9" font-size="7">4</tspan></text>
<text transform="translate(343.7 456.0) rotate(-90)" font-size="7.6" text-anchor="middle" stroke="#000" stroke-width=".2">10<tspan dy="-3.9" font-size="7">4</tspan></text>
<text x="388.9" y="542.6" font-size="7.8" stroke="#000" stroke-width=".25">EGFP</text>
<text x="387.6" y="449.8" font-size="8.1" stroke="#000" stroke-width=".25">no. 8 CD19 BM.032</text>
<text transform="translate(333.3 487.2) rotate(-90)" font-size="8.3" stroke="#000" stroke-width=".25">CD19 PE</text>
<text x="0.2" y="17.6" font-size="26" text-anchor="start">A</text>
<text x="0.2" y="247.1" font-size="24.6" text-anchor="start">B</text>
<text x="0.2" y="587.3" font-size="25.3" text-anchor="start">C</text>
<text transform="translate(56.3 47.7) rotate(-90)" font-size="11.5">No drug</text>
<text transform="translate(56.0 143.0) rotate(-90)" font-size="11.5">Verapamil</text>
<text transform="translate(93.5 277.9) rotate(-90)" font-size="11.5">No drug</text>
<text transform="translate(93.0 379.0) rotate(-90)" font-size="11.5">Verapamil</text>
<text transform="translate(93.2 487.3) rotate(-90)" font-size="11.5">untransduced</text>
<g font-weight="normal" stroke="#000" stroke-width=".2">
<rect x="58.5" y="606.6" width="14.3" height="54.6" fill="url(#hatch)" stroke="#222" stroke-width=".8"/>
<path d="M65.7 606.6V605.8M64.1 605.8h3.2" stroke="#222" stroke-width=".8" fill="none"/>
<rect x="72.8" y="643.3" width="14.4" height="17.9" fill="#fff" stroke="#444" stroke-width=".8"/>
<path d="M80.0 643.3V642.3M78.4 642.3h3.2" stroke="#222" stroke-width=".8" fill="none"/>
<rect x="107.7" y="618.5" width="13.8" height="42.7" fill="url(#hatch)" stroke="#222" stroke-width=".8"/>
<path d="M114.6 618.5V616.2M113.0 616.2h3.2" stroke="#222" stroke-width=".8" fill="none"/>
<rect x="121.5" y="645.7" width="14.8" height="15.5" fill="#fff" stroke="#444" stroke-width=".8"/>
<path d="M128.9 645.7V643.7M127.3 643.7h3.2" stroke="#222" stroke-width=".8" fill="none"/>
<rect x="156.3" y="610.3" width="15.1" height="50.9" fill="url(#hatch)" stroke="#222" stroke-width=".8"/>
<path d="M163.9 610.3V607.6M162.3 607.6h3.2" stroke="#222" stroke-width=".8" fill="none"/>
<rect x="171.4" y="641.0" width="14.1" height="20.2" fill="#fff" stroke="#444" stroke-width=".8"/>
<path d="M178.4 641.0V640.2M176.8 640.2h3.2" stroke="#222" stroke-width=".8" fill="none"/>
<rect x="204.6" y="603.2" width="14.8" height="58.0" fill="url(#hatch)" stroke="#222" stroke-width=".8"/>
<path d="M212.0 603.2V602.8M210.4 602.8h3.2" stroke="#222" stroke-width=".8" fill="none"/>
<rect x="219.4" y="641.0" width="15.1" height="20.2" fill="#fff" stroke="#444" stroke-width=".8"/>
<path d="M226.9 641.0V639.8M225.3 639.8h3.2" stroke="#222" stroke-width=".8" fill="none"/>
<path d="M48.6 593.8V661.2H244.8M48.6 661.2h-2.6M48.6 647.7h-2.6M48.6 634.2h-2.6M48.6 620.8h-2.6M48.6 607.3h-2.6M48.6 593.8h-2.6M97.8 661.2v2.6M146.7 661.2v2.6M195.7 661.2v2.6M244.8 661.2v2.6" stroke="#222" stroke-width=".9" fill="none"/>
<text transform="translate(44.4 664.8) scale(1.05 1)" font-size="10.1" text-anchor="end" letter-spacing="-0.1">0</text>
<text transform="translate(44.4 651.4) scale(1.05 1)" font-size="10.1" text-anchor="end" letter-spacing="-0.1">20</text>
<text transform="translate(44.4 637.9) scale(1.05 1)" font-size="10.1" text-anchor="end" letter-spacing="-0.1">40</text>
<text transform="translate(44.4 624.4) scale(1.05 1)" font-size="10.1" text-anchor="end" letter-spacing="-0.1">60</text>
<text transform="translate(44.4 610.9) scale(1.05 1)" font-size="10.1" text-anchor="end" letter-spacing="-0.1">80</text>
<text transform="translate(44.4 597.4) scale(1.05 1)" font-size="10.1" text-anchor="end" letter-spacing="-0.1">100</text>
<text x="72.5" y="680" font-size="10.4" text-anchor="middle" letter-spacing="-1.0">CD45</text>
<text x="120.0" y="680" font-size="10.4" text-anchor="middle" letter-spacing="-1.0">CD34</text>
<text x="170.8" y="680" font-size="10.4" text-anchor="middle" letter-spacing="-1.0">CD33</text>
<text x="220.6" y="680" font-size="10.4" text-anchor="middle" letter-spacing="-1.0">CD19</text>
<text x="71.3" y="581.5" font-size="9.4" text-anchor="middle"><tspan font-style="italic">P</tspan>&lt;0.001</text>
<text x="125.3" y="581.5" font-size="9.4" text-anchor="middle"><tspan font-style="italic">P</tspan>=0.013</text>
<text x="175.0" y="581.5" font-size="9.4" text-anchor="middle"><tspan font-style="italic">P</tspan>=0.003</text>
<text x="227.7" y="581.5" font-size="9.4" text-anchor="middle"><tspan font-style="italic">P</tspan>&lt;0.001</text>
</g>
<text transform="translate(10.5 626.0) rotate(-90)" font-size="11" stroke="#000" stroke-width=".25">% GFP Cells</text>
<g font-weight="normal" stroke="#000" stroke-width=".2">
<rect x="337.0" y="608.3" width="18.8" height="53.0" fill="url(#hatch)" stroke="#222" stroke-width=".8"/>
<path d="M346.4 608.3V594.6M344.8 594.6h3.2" stroke="#222" stroke-width=".8" fill="none"/>
<rect x="355.8" y="648.9" width="18.0" height="12.4" fill="#fff" stroke="#444" stroke-width=".8"/>
<path d="M364.8 648.9V645.5M363.2 645.5h3.2" stroke="#222" stroke-width=".8" fill="none"/>
<rect x="401.5" y="631.4" width="18.3" height="29.9" fill="url(#hatch)" stroke="#222" stroke-width=".8"/>
<path d="M410.6 631.4V626.6M409.0 626.6h3.2" stroke="#222" stroke-width=".8" fill="none"/>
<rect x="419.8" y="650.3" width="18.9" height="11.0" fill="#fff" stroke="#444" stroke-width=".8"/>
<path d="M429.2 650.3V646.9M427.6 646.9h3.2" stroke="#222" stroke-width=".8" fill="none"/>
<rect x="466.2" y="593.2" width="18.8" height="68.1" fill="url(#hatch)" stroke="#222" stroke-width=".8"/>
<path d="M475.6 593.2V592.6M474.0 592.6h3.2" stroke="#222" stroke-width=".8" fill="none"/>
<rect x="485.0" y="642.7" width="18.9" height="18.6" fill="#fff" stroke="#444" stroke-width=".8"/>
<path d="M494.4 642.7V635.8M492.8 635.8h3.2" stroke="#222" stroke-width=".8" fill="none"/>
<path d="M323.0 592.5V661.3H520.0M323.0 661.3h-2.6M323.0 647.5h-2.6M323.0 633.8h-2.6M323.0 620.0h-2.6M323.0 606.3h-2.6M323.0 592.5h-2.6M387.5 661.3v2.6M452.7 661.3v2.6M518.5 661.3v2.6" stroke="#222" stroke-width=".9" fill="none"/>
<text transform="translate(318.5 665.0) scale(0.82 1)" font-size="10.4" text-anchor="end" letter-spacing="-0.4">0</text>
<text transform="translate(318.5 651.3) scale(0.82 1)" font-size="10.4" text-anchor="end" letter-spacing="-0.4">20</text>
<text transform="translate(318.5 637.5) scale(0.82 1)" font-size="10.4" text-anchor="end" letter-spacing="-0.4">40</text>
<text transform="translate(318.5 623.8) scale(0.82 1)" font-size="10.4" text-anchor="end" letter-spacing="-0.4">60</text>
<text transform="translate(318.5 610.0) scale(0.82 1)" font-size="10.4" text-anchor="end" letter-spacing="-0.4">80</text>
<text transform="translate(318.5 596.2) scale(0.82 1)" font-size="10.4" text-anchor="end" letter-spacing="-0.4">100</text>
<text x="356.0" y="680" font-size="10.2" text-anchor="middle" letter-spacing="-0.7">CD45</text>
<text x="420.4" y="680" font-size="10.2" text-anchor="middle" letter-spacing="-0.7">CD33</text>
<text x="485.5" y="680" font-size="10.2" text-anchor="middle" letter-spacing="-0.7">CD19</text>
<text x="351.0" y="581.5" font-size="9.4" text-anchor="middle"><tspan font-style="italic">P</tspan>=0.039</text>
<text x="412.3" y="581.5" font-size="9.4" text-anchor="middle"><tspan font-style="italic">P</tspan>=0.079</text>
<text x="481.6" y="581.5" font-size="9.4" text-anchor="middle"><tspan font-style="italic">P</tspan>=0.035</text>
</g>
<text transform="translate(287.5 628.8) rotate(-90)" font-size="11" stroke="#000" stroke-width=".25">% GFP Cells</text>
</svg></body></html>
